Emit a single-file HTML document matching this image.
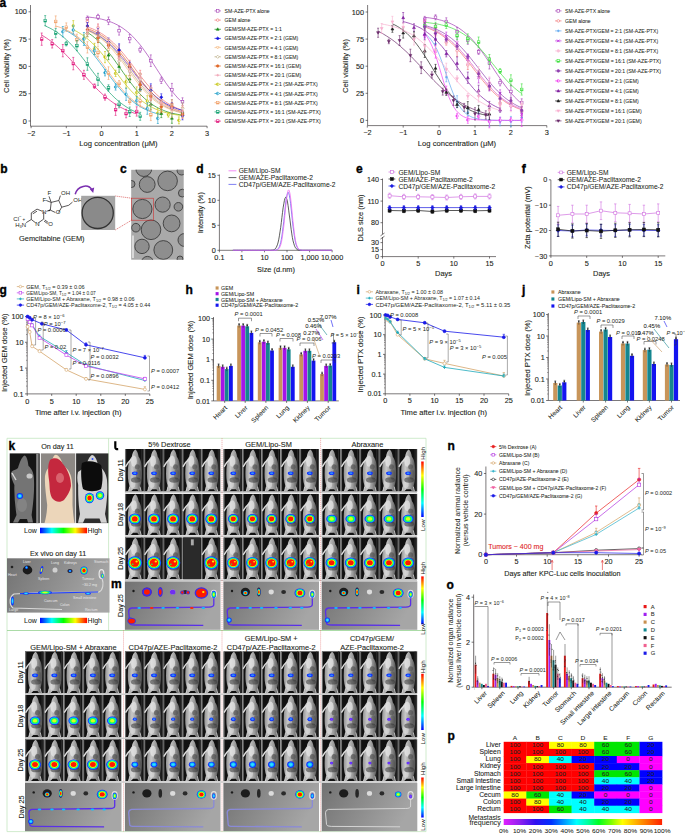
<!DOCTYPE html>
<html><head><meta charset="utf-8"><style>
html,body{margin:0;padding:0;background:#fff;}
svg{display:block;font-family:"Liberation Sans", sans-serif;}

</style></head><body>
<svg width="685" height="833" viewBox="0 0 685 833">
<defs><clipPath id="emclip"><rect x="131.2" y="169.8" width="52.5" height="89.9"/></clipPath><clipPath id="insclip"><rect x="81.2" y="195.8" width="34" height="34.2"/></clipPath><filter id="noise" x="0" y="0" width="1" height="1"><feTurbulence type="fractalNoise" baseFrequency="0.9" numOctaves="2" seed="4"/><feColorMatrix type="matrix" values="0 0 0 0 0.5  0 0 0 0 0.5  0 0 0 0 0.5  0 0 0 0.35 0"/><feComposite operator="in" in2="SourceGraphic"/><feBlend mode="multiply" in2="SourceGraphic"/></filter><linearGradient id="mbody" x1="0" y1="0" x2="1" y2="0"><stop offset="0" stop-color="#929292"/><stop offset="0.3" stop-color="#c8c8c8"/><stop offset="0.65" stop-color="#989898"/><stop offset="1" stop-color="#505050"/></linearGradient><linearGradient id="exbg" x1="0" y1="0" x2="1" y2="0.3"><stop offset="0" stop-color="#727272"/><stop offset="0.55" stop-color="#8e8e8e"/><stop offset="1" stop-color="#a6a6a6"/></linearGradient><linearGradient id="vbar" x1="0" y1="0" x2="0" y2="1"><stop offset="0" stop-color="#ff0000"/><stop offset="0.25" stop-color="#ffff00"/><stop offset="0.5" stop-color="#00ff00"/><stop offset="0.75" stop-color="#00ffff"/><stop offset="1" stop-color="#0000ff"/></linearGradient><linearGradient id="hbar" x1="0" y1="0" x2="1" y2="0"><stop offset="0" stop-color="#0000ff"/><stop offset="0.25" stop-color="#00ffff"/><stop offset="0.5" stop-color="#00ff00"/><stop offset="0.75" stop-color="#ffff00"/><stop offset="1" stop-color="#ff0000"/></linearGradient><symbol id="mouse" viewBox="0 0 20 42" preserveAspectRatio="none">
<rect x="0" y="0" width="20" height="42" fill="#111"/>
<rect x="0" y="0" width="1.3" height="42" fill="#6e6e6e"/><rect x="17.2" y="0" width="1.0" height="42" fill="#2e2e2e"/>
<path d="M11,0.5 C12.6,1.5 13.8,4 14.4,7.5 C16.4,9.5 17.6,14 17.8,20 C18.1,26 17.6,32 16.4,35.5 C15.8,37.5 15.8,39 17.6,41.8 L14.6,41.8 L13,39.5 L8.6,39.5 L6.2,41.8 L3,41.8 C5,39 5,37.5 4.6,35.5 C3.2,32 2.8,26 3.2,20 C3.6,14 5,9.5 7.2,7.5 C7.8,4 9.2,1.5 11,0.5 Z" fill="url(#mbody)"/>
<ellipse cx="9.5" cy="12" rx="3" ry="5.5" fill="#e6e6e6" opacity="0.75"/>
<ellipse cx="8" cy="34" rx="3" ry="4.5" fill="#dedede" opacity="0.6"/>
<path d="M7,10 C4.5,12 2.2,14.5 0.6,17.5" stroke="#dcdcdc" stroke-width="1.5" fill="none"/>
<ellipse cx="13" cy="17.5" rx="2.6" ry="2.6" fill="#444" opacity="0.55"/>
<ellipse cx="14.2" cy="25" rx="2.6" ry="5" fill="#4a4a4a" opacity="0.5"/>
<ellipse cx="11.5" cy="30.5" rx="5.2" ry="2.6" fill="#333" opacity="0.55"/>
<path d="M5,37 L4,41.8 M15.8,37 L17,41.8" stroke="#e0e0e0" stroke-width="0.8" fill="none"/>
</symbol><symbol id="mouseE" viewBox="0 0 20 42" preserveAspectRatio="none">
<rect x="0" y="0" width="20" height="42" fill="#1c1c1c"/>
<rect x="1" y="0" width="18" height="42" fill="#2a2a2a"/><rect x="9" y="2" width="3" height="6" fill="#aaa"/>
</symbol><linearGradient id="pbar" x1="0" y1="0" x2="1" y2="0"><stop offset="0" stop-color="#e020ff"/><stop offset="0.1" stop-color="#9020f0"/><stop offset="0.2" stop-color="#3010f0"/><stop offset="0.3" stop-color="#0030ff"/><stop offset="0.4" stop-color="#00b0ff"/><stop offset="0.46" stop-color="#00ffff"/><stop offset="0.53" stop-color="#00ffa0"/><stop offset="0.6" stop-color="#00ff20"/><stop offset="0.68" stop-color="#80ff00"/><stop offset="0.75" stop-color="#ffff00"/><stop offset="0.87" stop-color="#ff9000"/><stop offset="1" stop-color="#ff2000"/></linearGradient></defs>
<text x="-0.4" y="6.6" font-size="12" font-weight="bold" fill="#000" stroke="#000" stroke-width="0.35">a</text>
<line x1="30.5" y1="5.0" x2="30.5" y2="126.2" stroke="#231f20" stroke-width="0.6"/>
<line x1="28.5" y1="121.0" x2="30.5" y2="121.0" stroke="#231f20" stroke-width="0.6"/>
<text x="26.9" y="123.6" font-size="6.86" text-anchor="end" fill="#231f20" textLength="4.1" lengthAdjust="spacingAndGlyphs" stroke="#231f20" stroke-width="0.1">0</text>
<line x1="28.5" y1="93.7" x2="30.5" y2="93.7" stroke="#231f20" stroke-width="0.6"/>
<text x="26.9" y="96.3" font-size="6.86" text-anchor="end" fill="#231f20" textLength="8.1" lengthAdjust="spacingAndGlyphs" stroke="#231f20" stroke-width="0.1">25</text>
<line x1="28.5" y1="66.4" x2="30.5" y2="66.4" stroke="#231f20" stroke-width="0.6"/>
<text x="26.9" y="69.0" font-size="6.86" text-anchor="end" fill="#231f20" textLength="8.1" lengthAdjust="spacingAndGlyphs" stroke="#231f20" stroke-width="0.1">50</text>
<line x1="28.5" y1="39.1" x2="30.5" y2="39.1" stroke="#231f20" stroke-width="0.6"/>
<text x="26.9" y="41.7" font-size="6.86" text-anchor="end" fill="#231f20" textLength="8.1" lengthAdjust="spacingAndGlyphs" stroke="#231f20" stroke-width="0.1">75</text>
<line x1="28.5" y1="11.8" x2="30.5" y2="11.8" stroke="#231f20" stroke-width="0.6"/>
<text x="26.9" y="14.4" font-size="6.86" text-anchor="end" fill="#231f20" textLength="12.2" lengthAdjust="spacingAndGlyphs" stroke="#231f20" stroke-width="0.1">100</text>
<line x1="30.5" y1="126.2" x2="207.1" y2="126.2" stroke="#231f20" stroke-width="0.6"/>
<line x1="31.1" y1="126.2" x2="31.1" y2="128.2" stroke="#231f20" stroke-width="0.6"/>
<text x="31.1" y="135.8" font-size="6.86" text-anchor="middle" fill="#231f20" textLength="8.3" lengthAdjust="spacingAndGlyphs" stroke="#231f20" stroke-width="0.1">−2</text>
<line x1="66.3" y1="126.2" x2="66.3" y2="128.2" stroke="#231f20" stroke-width="0.6"/>
<text x="66.3" y="135.8" font-size="6.86" text-anchor="middle" fill="#231f20" textLength="8.3" lengthAdjust="spacingAndGlyphs" stroke="#231f20" stroke-width="0.1">−1</text>
<line x1="101.5" y1="126.2" x2="101.5" y2="128.2" stroke="#231f20" stroke-width="0.6"/>
<text x="101.5" y="135.8" font-size="6.86" text-anchor="middle" fill="#231f20" textLength="4.1" lengthAdjust="spacingAndGlyphs" stroke="#231f20" stroke-width="0.1">0</text>
<line x1="136.7" y1="126.2" x2="136.7" y2="128.2" stroke="#231f20" stroke-width="0.6"/>
<text x="136.7" y="135.8" font-size="6.86" text-anchor="middle" fill="#231f20" textLength="4.1" lengthAdjust="spacingAndGlyphs" stroke="#231f20" stroke-width="0.1">1</text>
<line x1="171.9" y1="126.2" x2="171.9" y2="128.2" stroke="#231f20" stroke-width="0.6"/>
<text x="171.9" y="135.8" font-size="6.86" text-anchor="middle" fill="#231f20" textLength="4.1" lengthAdjust="spacingAndGlyphs" stroke="#231f20" stroke-width="0.1">2</text>
<line x1="207.1" y1="126.2" x2="207.1" y2="128.2" stroke="#231f20" stroke-width="0.6"/>
<text x="207.1" y="135.8" font-size="6.86" text-anchor="middle" fill="#231f20" textLength="4.1" lengthAdjust="spacingAndGlyphs" stroke="#231f20" stroke-width="0.1">3</text>
<path d="M87.4,16.9 L89.8,17.2 L92.2,17.5 L94.5,17.8 L96.9,18.2 L99.3,18.7 L101.7,19.2 L104.1,19.8 L106.4,20.5 L108.8,21.3 L111.2,22.1 L113.6,23.1 L115.9,24.2 L118.3,25.4 L120.7,26.8 L123.1,28.4 L125.4,30.1 L127.8,32.0 L130.2,34.0 L132.6,36.3 L134.9,38.8 L137.3,41.5 L139.7,44.3 L142.1,47.4 L144.4,50.6 L146.8,54.0 L149.2,57.5 L151.6,61.1 L153.9,64.7 L156.3,68.4 L158.7,72.1 L161.1,75.8 L163.5,79.4 L165.8,82.9 L168.2,86.2 L170.6,89.4 L173.0,92.4 L175.3,95.2 L177.7,97.9 L180.1,100.3 L182.5,102.5" fill="none" stroke="#a23cb4" stroke-width="0.7"/>
<path d="M87.4,26.9 L89.8,27.8 L92.2,28.7 L94.5,29.7 L96.9,30.9 L99.3,32.2 L101.7,33.6 L104.1,35.2 L106.4,36.9 L108.8,38.7 L111.2,40.8 L113.6,43.0 L115.9,45.3 L118.3,47.8 L120.7,50.5 L123.1,53.3 L125.4,56.2 L127.8,59.2 L130.2,62.3 L132.6,65.4 L134.9,68.6 L137.3,71.8 L139.7,74.9 L142.1,78.0 L144.4,81.0 L146.8,83.9 L149.2,86.7 L151.6,89.3 L153.9,91.8 L156.3,94.2 L158.7,96.4 L161.1,98.4 L163.5,100.3 L165.8,102.0 L168.2,103.6 L170.6,105.0 L173.0,106.3 L175.3,107.4 L177.7,108.5 L180.1,109.4 L182.5,110.2" fill="none" stroke="#f07070" stroke-width="0.7"/>
<path d="M87.4,32.4 L89.8,34.0 L92.2,35.7 L94.5,37.6 L96.9,39.6 L99.3,41.9 L101.7,44.3 L104.1,46.9 L106.4,49.6 L108.8,52.6 L111.2,55.6 L113.6,58.8 L115.9,62.1 L118.3,65.5 L120.7,68.9 L123.1,72.3 L125.4,75.6 L127.8,78.9 L130.2,82.1 L132.6,85.2 L134.9,88.2 L137.3,91.0 L139.7,93.6 L142.1,96.1 L144.4,98.3 L146.8,100.4 L149.2,102.3 L151.6,104.0 L153.9,105.6 L156.3,107.0 L158.7,108.3 L161.1,109.4 L163.5,110.4 L165.8,111.3 L168.2,112.1 L170.6,112.8 L173.0,113.4 L175.3,113.9 L177.7,114.4 L180.1,114.8 L182.5,115.2" fill="none" stroke="#1a8c1a" stroke-width="0.7"/>
<path d="M87.4,30.1 L89.8,31.1 L92.2,32.1 L94.5,33.3 L96.9,34.6 L99.3,36.0 L101.7,37.6 L104.1,39.4 L106.4,41.2 L108.8,43.3 L111.2,45.5 L113.6,47.8 L115.9,50.3 L118.3,52.9 L120.7,55.7 L123.1,58.5 L125.4,61.5 L127.8,64.5 L130.2,67.5 L132.6,70.6 L134.9,73.7 L137.3,76.7 L139.7,79.6 L142.1,82.5 L144.4,85.2 L146.8,87.9 L149.2,90.4 L151.6,92.7 L153.9,94.9 L156.3,97.0 L158.7,98.8 L161.1,100.6 L163.5,102.2 L165.8,103.6 L168.2,104.9 L170.6,106.1 L173.0,107.2 L175.3,108.1 L177.7,109.0 L180.1,109.7 L182.5,110.4" fill="none" stroke="#1515e0" stroke-width="0.7"/>
<path d="M87.4,30.7 L89.8,31.7 L92.2,32.9 L94.5,34.3 L96.9,35.8 L99.3,37.4 L101.7,39.2 L104.1,41.2 L106.4,43.4 L108.8,45.7 L111.2,48.3 L113.6,50.9 L115.9,53.8 L118.3,56.8 L120.7,59.8 L123.1,63.0 L125.4,66.3 L127.8,69.6 L130.2,72.8 L132.6,76.1 L134.9,79.3 L137.3,82.4 L139.7,85.4 L142.1,88.2 L144.4,90.9 L146.8,93.4 L149.2,95.8 L151.6,98.0 L153.9,100.0 L156.3,101.8 L158.7,103.5 L161.1,105.0 L163.5,106.3 L165.8,107.5 L168.2,108.6 L170.6,109.6 L173.0,110.4 L175.3,111.2 L177.7,111.9 L180.1,112.5 L182.5,113.0" fill="none" stroke="#f5b880" stroke-width="0.7"/>
<path d="M87.4,29.9 L89.8,30.9 L92.2,32.0 L94.5,33.3 L96.9,34.7 L99.3,36.2 L101.7,37.9 L104.1,39.7 L106.4,41.8 L108.8,44.0 L111.2,46.4 L113.6,48.9 L115.9,51.7 L118.3,54.5 L120.7,57.6 L123.1,60.7 L125.4,63.9 L127.8,67.1 L130.2,70.4 L132.6,73.7 L134.9,76.9 L137.3,80.1 L139.7,83.2 L142.1,86.1 L144.4,88.9 L146.8,91.6 L149.2,94.0 L151.6,96.4 L153.9,98.5 L156.3,100.5 L158.7,102.2 L161.1,103.9 L163.5,105.3 L165.8,106.7 L168.2,107.8 L170.6,108.9 L173.0,109.8 L175.3,110.7 L177.7,111.4 L180.1,112.0 L182.5,112.6" fill="none" stroke="#b4a478" stroke-width="0.7"/>
<path d="M87.4,28.7 L89.8,29.5 L92.2,30.4 L94.5,31.5 L96.9,32.7 L99.3,34.0 L101.7,35.4 L104.1,37.0 L106.4,38.8 L108.8,40.8 L111.2,42.9 L113.6,45.2 L115.9,47.7 L118.3,50.3 L120.7,53.1 L123.1,56.1 L125.4,59.2 L127.8,62.3 L130.2,65.6 L132.6,68.8 L134.9,72.1 L137.3,75.4 L139.7,78.6 L142.1,81.7 L144.4,84.7 L146.8,87.6 L149.2,90.3 L151.6,92.9 L153.9,95.3 L156.3,97.5 L158.7,99.5 L161.1,101.4 L163.5,103.1 L165.8,104.6 L168.2,106.0 L170.6,107.3 L173.0,108.4 L175.3,109.4 L177.7,110.3 L180.1,111.0 L182.5,111.7" fill="none" stroke="#e06a2a" stroke-width="0.7"/>
<path d="M87.4,29.3 L89.8,30.2 L92.2,31.2 L94.5,32.3 L96.9,33.6 L99.3,35.0 L101.7,36.6 L104.1,38.3 L106.4,40.3 L108.8,42.3 L111.2,44.6 L113.6,47.0 L115.9,49.6 L118.3,52.4 L120.7,55.3 L123.1,58.3 L125.4,61.5 L127.8,64.7 L130.2,68.0 L132.6,71.3 L134.9,74.5 L137.3,77.7 L139.7,80.9 L142.1,83.9 L144.4,86.8 L146.8,89.6 L149.2,92.2 L151.6,94.7 L153.9,96.9 L156.3,99.0 L158.7,100.9 L161.1,102.7 L163.5,104.3 L165.8,105.7 L168.2,107.0 L170.6,108.1 L173.0,109.1 L175.3,110.0 L177.7,110.9 L180.1,111.6 L182.5,112.2" fill="none" stroke="#f0a8b8" stroke-width="0.7"/>
<path d="M73.3,29.8 L76.1,31.1 L78.8,32.7 L81.5,34.4 L84.3,36.3 L87.0,38.4 L89.7,40.7 L92.4,43.2 L95.2,46.0 L97.9,48.9 L100.6,52.1 L103.3,55.4 L106.1,58.8 L108.8,62.4 L111.5,66.0 L114.3,69.7 L117.0,73.4 L119.7,77.0 L122.4,80.6 L125.2,84.0 L127.9,87.2 L130.6,90.3 L133.4,93.2 L136.1,95.9 L138.8,98.3 L141.5,100.6 L144.3,102.6 L147.0,104.5 L149.7,106.1 L152.5,107.6 L155.2,108.9 L157.9,110.0 L160.6,111.0 L163.4,111.9 L166.1,112.7 L168.8,113.4 L171.5,114.0 L174.3,114.5 L177.0,114.9 L179.7,115.3 L182.5,115.6" fill="none" stroke="#c4c40c" stroke-width="0.7"/>
<path d="M62.8,29.1 L65.2,30.2 L67.7,31.5 L70.2,32.9 L72.6,34.5 L75.1,36.2 L77.6,38.1 L80.0,40.1 L82.5,42.4 L85.0,44.8 L87.4,47.4 L89.9,50.1 L92.3,53.0 L94.8,56.1 L97.3,59.3 L99.7,62.5 L102.2,65.8 L104.7,69.2 L107.1,72.6 L109.6,75.9 L112.1,79.2 L114.5,82.4 L117.0,85.4 L119.5,88.4 L121.9,91.2 L124.4,93.8 L126.8,96.3 L129.3,98.6 L131.8,100.7 L134.2,102.6 L136.7,104.4 L139.2,106.0 L141.6,107.5 L144.1,108.8 L146.6,109.9 L149.0,111.0 L151.5,111.9 L153.9,112.7 L156.4,113.5 L158.9,114.1 L161.3,114.7" fill="none" stroke="#1a9cc8" stroke-width="0.7"/>
<path d="M55.7,26.0 L58.1,26.7 L60.5,27.5 L62.9,28.4 L65.2,29.4 L67.6,30.5 L70.0,31.8 L72.4,33.2 L74.7,34.7 L77.1,36.4 L79.5,38.2 L81.9,40.2 L84.3,42.4 L86.6,44.7 L89.0,47.2 L91.4,49.8 L93.8,52.6 L96.1,55.5 L98.5,58.6 L100.9,61.7 L103.3,64.9 L105.6,68.1 L108.0,71.4 L110.4,74.6 L112.8,77.8 L115.1,80.9 L117.5,83.9 L119.9,86.8 L122.3,89.6 L124.6,92.3 L127.0,94.7 L129.4,97.1 L131.8,99.2 L134.1,101.2 L136.5,103.0 L138.9,104.7 L141.3,106.2 L143.7,107.6 L146.0,108.9 L148.4,110.0 L150.8,111.0" fill="none" stroke="#f0a068" stroke-width="0.7"/>
<path d="M45.2,25.9 L47.6,27.0 L49.9,28.1 L52.3,29.4 L54.7,30.8 L57.1,32.3 L59.4,34.0 L61.8,35.8 L64.2,37.8 L66.6,39.9 L68.9,42.2 L71.3,44.6 L73.7,47.2 L76.1,49.9 L78.4,52.7 L80.8,55.7 L83.2,58.8 L85.6,61.9 L87.9,65.1 L90.3,68.3 L92.7,71.5 L95.1,74.7 L97.5,77.9 L99.8,81.0 L102.2,84.0 L104.6,86.9 L107.0,89.7 L109.3,92.3 L111.7,94.8 L114.1,97.2 L116.5,99.4 L118.8,101.4 L121.2,103.3 L123.6,105.1 L126.0,106.7 L128.3,108.2 L130.7,109.5 L133.1,110.7 L135.5,111.8 L137.8,112.8 L140.2,113.7" fill="none" stroke="#12a070" stroke-width="0.7"/>
<path d="M41.7,35.1 L44.0,36.5 L46.4,38.0 L48.8,39.7 L51.2,41.4 L53.5,43.3 L55.9,45.2 L58.3,47.3 L60.7,49.5 L63.0,51.8 L65.4,54.2 L67.8,56.7 L70.2,59.2 L72.5,61.9 L74.9,64.5 L77.3,67.2 L79.7,70.0 L82.1,72.7 L84.4,75.4 L86.8,78.1 L89.2,80.8 L91.6,83.3 L93.9,85.9 L96.3,88.3 L98.7,90.7 L101.1,92.9 L103.4,95.1 L105.8,97.1 L108.2,99.0 L110.6,100.8 L112.9,102.5 L115.3,104.1 L117.7,105.6 L120.1,107.0 L122.4,108.2 L124.8,109.4 L127.2,110.5 L129.6,111.4 L131.9,112.3 L134.3,113.2 L136.7,113.9" fill="none" stroke="#e0147a" stroke-width="0.7"/>
<line x1="87.4" y1="21.7" x2="87.4" y2="16.0" stroke="#a23cb4" stroke-width="0.6"/>
<line x1="86.4" y1="16.0" x2="88.4" y2="16.0" stroke="#a23cb4" stroke-width="0.6"/>
<line x1="86.4" y1="21.7" x2="88.4" y2="21.7" stroke="#a23cb4" stroke-width="0.6"/>
<rect x="86.1" y="17.5" width="2.6" height="2.6" fill="white" stroke="#a23cb4" stroke-width="0.6"/>
<line x1="98.0" y1="19.3" x2="98.0" y2="14.3" stroke="#a23cb4" stroke-width="0.6"/>
<line x1="97.0" y1="14.3" x2="99.0" y2="14.3" stroke="#a23cb4" stroke-width="0.6"/>
<line x1="97.0" y1="19.3" x2="99.0" y2="19.3" stroke="#a23cb4" stroke-width="0.6"/>
<rect x="96.7" y="15.5" width="2.6" height="2.6" fill="white" stroke="#a23cb4" stroke-width="0.6"/>
<line x1="108.5" y1="24.6" x2="108.5" y2="17.0" stroke="#a23cb4" stroke-width="0.6"/>
<line x1="107.5" y1="17.0" x2="109.5" y2="17.0" stroke="#a23cb4" stroke-width="0.6"/>
<line x1="107.5" y1="24.6" x2="109.5" y2="24.6" stroke="#a23cb4" stroke-width="0.6"/>
<rect x="107.2" y="19.5" width="2.6" height="2.6" fill="white" stroke="#a23cb4" stroke-width="0.6"/>
<line x1="119.1" y1="35.1" x2="119.1" y2="26.3" stroke="#a23cb4" stroke-width="0.6"/>
<line x1="118.1" y1="26.3" x2="120.1" y2="26.3" stroke="#a23cb4" stroke-width="0.6"/>
<line x1="118.1" y1="35.1" x2="120.1" y2="35.1" stroke="#a23cb4" stroke-width="0.6"/>
<rect x="117.8" y="29.4" width="2.6" height="2.6" fill="white" stroke="#a23cb4" stroke-width="0.6"/>
<line x1="129.7" y1="42.7" x2="129.7" y2="34.5" stroke="#a23cb4" stroke-width="0.6"/>
<line x1="128.7" y1="34.5" x2="130.7" y2="34.5" stroke="#a23cb4" stroke-width="0.6"/>
<line x1="128.7" y1="42.7" x2="130.7" y2="42.7" stroke="#a23cb4" stroke-width="0.6"/>
<rect x="128.4" y="37.3" width="2.6" height="2.6" fill="white" stroke="#a23cb4" stroke-width="0.6"/>
<line x1="140.2" y1="52.3" x2="140.2" y2="47.1" stroke="#a23cb4" stroke-width="0.6"/>
<line x1="139.2" y1="47.1" x2="141.2" y2="47.1" stroke="#a23cb4" stroke-width="0.6"/>
<line x1="139.2" y1="52.3" x2="141.2" y2="52.3" stroke="#a23cb4" stroke-width="0.6"/>
<rect x="138.9" y="48.4" width="2.6" height="2.6" fill="white" stroke="#a23cb4" stroke-width="0.6"/>
<line x1="150.8" y1="66.5" x2="150.8" y2="54.9" stroke="#a23cb4" stroke-width="0.6"/>
<line x1="149.8" y1="54.9" x2="151.8" y2="54.9" stroke="#a23cb4" stroke-width="0.6"/>
<line x1="149.8" y1="66.5" x2="151.8" y2="66.5" stroke="#a23cb4" stroke-width="0.6"/>
<rect x="149.5" y="59.4" width="2.6" height="2.6" fill="white" stroke="#a23cb4" stroke-width="0.6"/>
<line x1="161.3" y1="83.5" x2="161.3" y2="77.2" stroke="#a23cb4" stroke-width="0.6"/>
<line x1="160.3" y1="77.2" x2="162.3" y2="77.2" stroke="#a23cb4" stroke-width="0.6"/>
<line x1="160.3" y1="83.5" x2="162.3" y2="83.5" stroke="#a23cb4" stroke-width="0.6"/>
<rect x="160.0" y="79.0" width="2.6" height="2.6" fill="white" stroke="#a23cb4" stroke-width="0.6"/>
<line x1="171.9" y1="96.0" x2="171.9" y2="83.4" stroke="#a23cb4" stroke-width="0.6"/>
<line x1="170.9" y1="83.4" x2="172.9" y2="83.4" stroke="#a23cb4" stroke-width="0.6"/>
<line x1="170.9" y1="96.0" x2="172.9" y2="96.0" stroke="#a23cb4" stroke-width="0.6"/>
<rect x="170.6" y="88.4" width="2.6" height="2.6" fill="white" stroke="#a23cb4" stroke-width="0.6"/>
<line x1="182.5" y1="105.6" x2="182.5" y2="97.8" stroke="#a23cb4" stroke-width="0.6"/>
<line x1="181.5" y1="97.8" x2="183.5" y2="97.8" stroke="#a23cb4" stroke-width="0.6"/>
<line x1="181.5" y1="105.6" x2="183.5" y2="105.6" stroke="#a23cb4" stroke-width="0.6"/>
<rect x="181.2" y="100.4" width="2.6" height="2.6" fill="white" stroke="#a23cb4" stroke-width="0.6"/>
<line x1="87.4" y1="24.1" x2="87.4" y2="19.3" stroke="#f07070" stroke-width="0.6"/>
<line x1="86.4" y1="19.3" x2="88.4" y2="19.3" stroke="#f07070" stroke-width="0.6"/>
<line x1="86.4" y1="24.1" x2="88.4" y2="24.1" stroke="#f07070" stroke-width="0.6"/>
<circle cx="87.4" cy="21.7" r="1.3" fill="white" stroke="#f07070" stroke-width="0.6"/>
<line x1="98.0" y1="31.0" x2="98.0" y2="24.1" stroke="#f07070" stroke-width="0.6"/>
<line x1="97.0" y1="24.1" x2="99.0" y2="24.1" stroke="#f07070" stroke-width="0.6"/>
<line x1="97.0" y1="31.0" x2="99.0" y2="31.0" stroke="#f07070" stroke-width="0.6"/>
<circle cx="98.0" cy="27.5" r="1.3" fill="white" stroke="#f07070" stroke-width="0.6"/>
<line x1="108.5" y1="45.1" x2="108.5" y2="39.7" stroke="#f07070" stroke-width="0.6"/>
<line x1="107.5" y1="39.7" x2="109.5" y2="39.7" stroke="#f07070" stroke-width="0.6"/>
<line x1="107.5" y1="45.1" x2="109.5" y2="45.1" stroke="#f07070" stroke-width="0.6"/>
<circle cx="108.5" cy="42.4" r="1.3" fill="white" stroke="#f07070" stroke-width="0.6"/>
<line x1="119.1" y1="56.5" x2="119.1" y2="45.0" stroke="#f07070" stroke-width="0.6"/>
<line x1="118.1" y1="45.0" x2="120.1" y2="45.0" stroke="#f07070" stroke-width="0.6"/>
<line x1="118.1" y1="56.5" x2="120.1" y2="56.5" stroke="#f07070" stroke-width="0.6"/>
<circle cx="119.1" cy="50.8" r="1.3" fill="white" stroke="#f07070" stroke-width="0.6"/>
<line x1="129.7" y1="69.8" x2="129.7" y2="60.3" stroke="#f07070" stroke-width="0.6"/>
<line x1="128.7" y1="60.3" x2="130.7" y2="60.3" stroke="#f07070" stroke-width="0.6"/>
<line x1="128.7" y1="69.8" x2="130.7" y2="69.8" stroke="#f07070" stroke-width="0.6"/>
<circle cx="129.7" cy="65.1" r="1.3" fill="white" stroke="#f07070" stroke-width="0.6"/>
<line x1="140.2" y1="77.9" x2="140.2" y2="70.3" stroke="#f07070" stroke-width="0.6"/>
<line x1="139.2" y1="70.3" x2="141.2" y2="70.3" stroke="#f07070" stroke-width="0.6"/>
<line x1="139.2" y1="77.9" x2="141.2" y2="77.9" stroke="#f07070" stroke-width="0.6"/>
<circle cx="140.2" cy="74.1" r="1.3" fill="white" stroke="#f07070" stroke-width="0.6"/>
<line x1="150.8" y1="90.4" x2="150.8" y2="85.5" stroke="#f07070" stroke-width="0.6"/>
<line x1="149.8" y1="85.5" x2="151.8" y2="85.5" stroke="#f07070" stroke-width="0.6"/>
<line x1="149.8" y1="90.4" x2="151.8" y2="90.4" stroke="#f07070" stroke-width="0.6"/>
<circle cx="150.8" cy="88.0" r="1.3" fill="white" stroke="#f07070" stroke-width="0.6"/>
<line x1="161.3" y1="106.5" x2="161.3" y2="100.4" stroke="#f07070" stroke-width="0.6"/>
<line x1="160.3" y1="100.4" x2="162.3" y2="100.4" stroke="#f07070" stroke-width="0.6"/>
<line x1="160.3" y1="106.5" x2="162.3" y2="106.5" stroke="#f07070" stroke-width="0.6"/>
<circle cx="161.3" cy="103.4" r="1.3" fill="white" stroke="#f07070" stroke-width="0.6"/>
<line x1="171.9" y1="107.8" x2="171.9" y2="99.7" stroke="#f07070" stroke-width="0.6"/>
<line x1="170.9" y1="99.7" x2="172.9" y2="99.7" stroke="#f07070" stroke-width="0.6"/>
<line x1="170.9" y1="107.8" x2="172.9" y2="107.8" stroke="#f07070" stroke-width="0.6"/>
<circle cx="171.9" cy="103.8" r="1.3" fill="white" stroke="#f07070" stroke-width="0.6"/>
<line x1="182.5" y1="117.0" x2="182.5" y2="107.5" stroke="#f07070" stroke-width="0.6"/>
<line x1="181.5" y1="107.5" x2="183.5" y2="107.5" stroke="#f07070" stroke-width="0.6"/>
<line x1="181.5" y1="117.0" x2="183.5" y2="117.0" stroke="#f07070" stroke-width="0.6"/>
<circle cx="182.5" cy="112.3" r="1.3" fill="white" stroke="#f07070" stroke-width="0.6"/>
<line x1="87.4" y1="36.4" x2="87.4" y2="29.5" stroke="#1a8c1a" stroke-width="0.6"/>
<line x1="86.4" y1="29.5" x2="88.4" y2="29.5" stroke="#1a8c1a" stroke-width="0.6"/>
<line x1="86.4" y1="36.4" x2="88.4" y2="36.4" stroke="#1a8c1a" stroke-width="0.6"/>
<path d="M87.4,31.5 L88.9,34.0 L86.0,34.0 Z" fill="#1a8c1a" stroke="#1a8c1a" stroke-width="0.6"/>
<line x1="98.0" y1="42.6" x2="98.0" y2="32.1" stroke="#1a8c1a" stroke-width="0.6"/>
<line x1="97.0" y1="32.1" x2="99.0" y2="32.1" stroke="#1a8c1a" stroke-width="0.6"/>
<line x1="97.0" y1="42.6" x2="99.0" y2="42.6" stroke="#1a8c1a" stroke-width="0.6"/>
<path d="M98.0,35.9 L99.4,38.4 L96.5,38.4 Z" fill="#1a8c1a" stroke="#1a8c1a" stroke-width="0.6"/>
<line x1="108.5" y1="59.7" x2="108.5" y2="50.3" stroke="#1a8c1a" stroke-width="0.6"/>
<line x1="107.5" y1="50.3" x2="109.5" y2="50.3" stroke="#1a8c1a" stroke-width="0.6"/>
<line x1="107.5" y1="59.7" x2="109.5" y2="59.7" stroke="#1a8c1a" stroke-width="0.6"/>
<path d="M108.5,53.6 L110.0,56.1 L107.1,56.1 Z" fill="#1a8c1a" stroke="#1a8c1a" stroke-width="0.6"/>
<line x1="119.1" y1="72.3" x2="119.1" y2="60.3" stroke="#1a8c1a" stroke-width="0.6"/>
<line x1="118.1" y1="60.3" x2="120.1" y2="60.3" stroke="#1a8c1a" stroke-width="0.6"/>
<line x1="118.1" y1="72.3" x2="120.1" y2="72.3" stroke="#1a8c1a" stroke-width="0.6"/>
<path d="M119.1,64.9 L120.5,67.4 L117.7,67.4 Z" fill="#1a8c1a" stroke="#1a8c1a" stroke-width="0.6"/>
<line x1="129.7" y1="82.4" x2="129.7" y2="75.5" stroke="#1a8c1a" stroke-width="0.6"/>
<line x1="128.7" y1="75.5" x2="130.7" y2="75.5" stroke="#1a8c1a" stroke-width="0.6"/>
<line x1="128.7" y1="82.4" x2="130.7" y2="82.4" stroke="#1a8c1a" stroke-width="0.6"/>
<path d="M129.7,77.5 L131.1,80.0 L128.2,80.0 Z" fill="#1a8c1a" stroke="#1a8c1a" stroke-width="0.6"/>
<line x1="140.2" y1="91.6" x2="140.2" y2="86.2" stroke="#1a8c1a" stroke-width="0.6"/>
<line x1="139.2" y1="86.2" x2="141.2" y2="86.2" stroke="#1a8c1a" stroke-width="0.6"/>
<line x1="139.2" y1="91.6" x2="141.2" y2="91.6" stroke="#1a8c1a" stroke-width="0.6"/>
<path d="M140.2,87.5 L141.7,90.0 L138.8,90.0 Z" fill="#1a8c1a" stroke="#1a8c1a" stroke-width="0.6"/>
<line x1="150.8" y1="109.9" x2="150.8" y2="98.9" stroke="#1a8c1a" stroke-width="0.6"/>
<line x1="149.8" y1="98.9" x2="151.8" y2="98.9" stroke="#1a8c1a" stroke-width="0.6"/>
<line x1="149.8" y1="109.9" x2="151.8" y2="109.9" stroke="#1a8c1a" stroke-width="0.6"/>
<path d="M150.8,102.9 L152.2,105.4 L149.3,105.4 Z" fill="#1a8c1a" stroke="#1a8c1a" stroke-width="0.6"/>
<line x1="161.3" y1="117.6" x2="161.3" y2="109.0" stroke="#1a8c1a" stroke-width="0.6"/>
<line x1="160.3" y1="109.0" x2="162.3" y2="109.0" stroke="#1a8c1a" stroke-width="0.6"/>
<line x1="160.3" y1="117.6" x2="162.3" y2="117.6" stroke="#1a8c1a" stroke-width="0.6"/>
<path d="M161.3,111.9 L162.8,114.4 L159.9,114.4 Z" fill="#1a8c1a" stroke="#1a8c1a" stroke-width="0.6"/>
<line x1="171.9" y1="123.3" x2="171.9" y2="113.1" stroke="#1a8c1a" stroke-width="0.6"/>
<line x1="170.9" y1="113.1" x2="172.9" y2="113.1" stroke="#1a8c1a" stroke-width="0.6"/>
<line x1="170.9" y1="123.3" x2="172.9" y2="123.3" stroke="#1a8c1a" stroke-width="0.6"/>
<path d="M171.9,116.7 L173.3,119.2 L170.5,119.2 Z" fill="#1a8c1a" stroke="#1a8c1a" stroke-width="0.6"/>
<line x1="182.5" y1="117.0" x2="182.5" y2="107.6" stroke="#1a8c1a" stroke-width="0.6"/>
<line x1="181.5" y1="107.6" x2="183.5" y2="107.6" stroke="#1a8c1a" stroke-width="0.6"/>
<line x1="181.5" y1="117.0" x2="183.5" y2="117.0" stroke="#1a8c1a" stroke-width="0.6"/>
<path d="M182.5,110.9 L183.9,113.4 L181.0,113.4 Z" fill="#1a8c1a" stroke="#1a8c1a" stroke-width="0.6"/>
<line x1="87.4" y1="29.6" x2="87.4" y2="22.5" stroke="#1515e0" stroke-width="0.6"/>
<line x1="86.4" y1="22.5" x2="88.4" y2="22.5" stroke="#1515e0" stroke-width="0.6"/>
<line x1="86.4" y1="29.6" x2="88.4" y2="29.6" stroke="#1515e0" stroke-width="0.6"/>
<path d="M87.4,24.5 L89.0,26.0 L87.4,27.6 L85.9,26.0 Z" fill="#1515e0" stroke="#1515e0" stroke-width="0.6"/>
<line x1="98.0" y1="37.9" x2="98.0" y2="28.3" stroke="#1515e0" stroke-width="0.6"/>
<line x1="97.0" y1="28.3" x2="99.0" y2="28.3" stroke="#1515e0" stroke-width="0.6"/>
<line x1="97.0" y1="37.9" x2="99.0" y2="37.9" stroke="#1515e0" stroke-width="0.6"/>
<path d="M98.0,31.5 L99.5,33.1 L98.0,34.7 L96.4,33.1 Z" fill="#1515e0" stroke="#1515e0" stroke-width="0.6"/>
<line x1="108.5" y1="46.3" x2="108.5" y2="38.0" stroke="#1515e0" stroke-width="0.6"/>
<line x1="107.5" y1="38.0" x2="109.5" y2="38.0" stroke="#1515e0" stroke-width="0.6"/>
<line x1="107.5" y1="46.3" x2="109.5" y2="46.3" stroke="#1515e0" stroke-width="0.6"/>
<path d="M108.5,40.6 L110.1,42.2 L108.5,43.7 L107.0,42.2 Z" fill="#1515e0" stroke="#1515e0" stroke-width="0.6"/>
<line x1="119.1" y1="56.4" x2="119.1" y2="43.8" stroke="#1515e0" stroke-width="0.6"/>
<line x1="118.1" y1="43.8" x2="120.1" y2="43.8" stroke="#1515e0" stroke-width="0.6"/>
<line x1="118.1" y1="56.4" x2="120.1" y2="56.4" stroke="#1515e0" stroke-width="0.6"/>
<path d="M119.1,48.6 L120.7,50.1 L119.1,51.7 L117.5,50.1 Z" fill="#1515e0" stroke="#1515e0" stroke-width="0.6"/>
<line x1="129.7" y1="72.2" x2="129.7" y2="62.1" stroke="#1515e0" stroke-width="0.6"/>
<line x1="128.7" y1="62.1" x2="130.7" y2="62.1" stroke="#1515e0" stroke-width="0.6"/>
<line x1="128.7" y1="72.2" x2="130.7" y2="72.2" stroke="#1515e0" stroke-width="0.6"/>
<path d="M129.7,65.6 L131.2,67.1 L129.7,68.7 L128.1,67.1 Z" fill="#1515e0" stroke="#1515e0" stroke-width="0.6"/>
<line x1="140.2" y1="90.3" x2="140.2" y2="79.8" stroke="#1515e0" stroke-width="0.6"/>
<line x1="139.2" y1="79.8" x2="141.2" y2="79.8" stroke="#1515e0" stroke-width="0.6"/>
<line x1="139.2" y1="90.3" x2="141.2" y2="90.3" stroke="#1515e0" stroke-width="0.6"/>
<path d="M140.2,83.5 L141.8,85.1 L140.2,86.6 L138.7,85.1 Z" fill="#1515e0" stroke="#1515e0" stroke-width="0.6"/>
<line x1="150.8" y1="96.9" x2="150.8" y2="83.8" stroke="#1515e0" stroke-width="0.6"/>
<line x1="149.8" y1="83.8" x2="151.8" y2="83.8" stroke="#1515e0" stroke-width="0.6"/>
<line x1="149.8" y1="96.9" x2="151.8" y2="96.9" stroke="#1515e0" stroke-width="0.6"/>
<path d="M150.8,88.8 L152.3,90.3 L150.8,91.9 L149.2,90.3 Z" fill="#1515e0" stroke="#1515e0" stroke-width="0.6"/>
<line x1="161.3" y1="100.7" x2="161.3" y2="93.8" stroke="#1515e0" stroke-width="0.6"/>
<line x1="160.3" y1="93.8" x2="162.3" y2="93.8" stroke="#1515e0" stroke-width="0.6"/>
<line x1="160.3" y1="100.7" x2="162.3" y2="100.7" stroke="#1515e0" stroke-width="0.6"/>
<path d="M161.3,95.7 L162.9,97.2 L161.3,98.8 L159.8,97.2 Z" fill="#1515e0" stroke="#1515e0" stroke-width="0.6"/>
<line x1="171.9" y1="113.0" x2="171.9" y2="102.8" stroke="#1515e0" stroke-width="0.6"/>
<line x1="170.9" y1="102.8" x2="172.9" y2="102.8" stroke="#1515e0" stroke-width="0.6"/>
<line x1="170.9" y1="113.0" x2="172.9" y2="113.0" stroke="#1515e0" stroke-width="0.6"/>
<path d="M171.9,106.4 L173.5,107.9 L171.9,109.5 L170.3,107.9 Z" fill="#1515e0" stroke="#1515e0" stroke-width="0.6"/>
<line x1="182.5" y1="119.8" x2="182.5" y2="111.4" stroke="#1515e0" stroke-width="0.6"/>
<line x1="181.5" y1="111.4" x2="183.5" y2="111.4" stroke="#1515e0" stroke-width="0.6"/>
<line x1="181.5" y1="119.8" x2="183.5" y2="119.8" stroke="#1515e0" stroke-width="0.6"/>
<path d="M182.5,114.1 L184.0,115.6 L182.5,117.2 L180.9,115.6 Z" fill="#1515e0" stroke="#1515e0" stroke-width="0.6"/>
<line x1="87.4" y1="37.0" x2="87.4" y2="31.6" stroke="#f5b880" stroke-width="0.6"/>
<line x1="86.4" y1="31.6" x2="88.4" y2="31.6" stroke="#f5b880" stroke-width="0.6"/>
<line x1="86.4" y1="37.0" x2="88.4" y2="37.0" stroke="#f5b880" stroke-width="0.6"/>
<path d="M87.4,35.7 L88.9,33.2 L86.0,33.2 Z" fill="white" stroke="#f5b880" stroke-width="0.6"/>
<line x1="98.0" y1="46.8" x2="98.0" y2="35.8" stroke="#f5b880" stroke-width="0.6"/>
<line x1="97.0" y1="35.8" x2="99.0" y2="35.8" stroke="#f5b880" stroke-width="0.6"/>
<line x1="97.0" y1="46.8" x2="99.0" y2="46.8" stroke="#f5b880" stroke-width="0.6"/>
<path d="M98.0,42.7 L99.4,40.3 L96.5,40.3 Z" fill="white" stroke="#f5b880" stroke-width="0.6"/>
<line x1="108.5" y1="52.8" x2="108.5" y2="46.3" stroke="#f5b880" stroke-width="0.6"/>
<line x1="107.5" y1="46.3" x2="109.5" y2="46.3" stroke="#f5b880" stroke-width="0.6"/>
<line x1="107.5" y1="52.8" x2="109.5" y2="52.8" stroke="#f5b880" stroke-width="0.6"/>
<path d="M108.5,51.0 L110.0,48.5 L107.1,48.5 Z" fill="white" stroke="#f5b880" stroke-width="0.6"/>
<line x1="119.1" y1="65.0" x2="119.1" y2="53.0" stroke="#f5b880" stroke-width="0.6"/>
<line x1="118.1" y1="53.0" x2="120.1" y2="53.0" stroke="#f5b880" stroke-width="0.6"/>
<line x1="118.1" y1="65.0" x2="120.1" y2="65.0" stroke="#f5b880" stroke-width="0.6"/>
<path d="M119.1,60.4 L120.5,57.9 L117.7,57.9 Z" fill="white" stroke="#f5b880" stroke-width="0.6"/>
<line x1="129.7" y1="80.8" x2="129.7" y2="72.5" stroke="#f5b880" stroke-width="0.6"/>
<line x1="128.7" y1="72.5" x2="130.7" y2="72.5" stroke="#f5b880" stroke-width="0.6"/>
<line x1="128.7" y1="80.8" x2="130.7" y2="80.8" stroke="#f5b880" stroke-width="0.6"/>
<path d="M129.7,78.1 L131.1,75.6 L128.2,75.6 Z" fill="white" stroke="#f5b880" stroke-width="0.6"/>
<line x1="140.2" y1="91.5" x2="140.2" y2="79.4" stroke="#f5b880" stroke-width="0.6"/>
<line x1="139.2" y1="79.4" x2="141.2" y2="79.4" stroke="#f5b880" stroke-width="0.6"/>
<line x1="139.2" y1="91.5" x2="141.2" y2="91.5" stroke="#f5b880" stroke-width="0.6"/>
<path d="M140.2,86.9 L141.7,84.4 L138.8,84.4 Z" fill="white" stroke="#f5b880" stroke-width="0.6"/>
<line x1="150.8" y1="99.7" x2="150.8" y2="87.8" stroke="#f5b880" stroke-width="0.6"/>
<line x1="149.8" y1="87.8" x2="151.8" y2="87.8" stroke="#f5b880" stroke-width="0.6"/>
<line x1="149.8" y1="99.7" x2="151.8" y2="99.7" stroke="#f5b880" stroke-width="0.6"/>
<path d="M150.8,95.2 L152.2,92.7 L149.3,92.7 Z" fill="white" stroke="#f5b880" stroke-width="0.6"/>
<line x1="161.3" y1="111.5" x2="161.3" y2="103.5" stroke="#f5b880" stroke-width="0.6"/>
<line x1="160.3" y1="103.5" x2="162.3" y2="103.5" stroke="#f5b880" stroke-width="0.6"/>
<line x1="160.3" y1="111.5" x2="162.3" y2="111.5" stroke="#f5b880" stroke-width="0.6"/>
<path d="M161.3,109.0 L162.8,106.5 L159.9,106.5 Z" fill="white" stroke="#f5b880" stroke-width="0.6"/>
<line x1="171.9" y1="117.7" x2="171.9" y2="105.6" stroke="#f5b880" stroke-width="0.6"/>
<line x1="170.9" y1="105.6" x2="172.9" y2="105.6" stroke="#f5b880" stroke-width="0.6"/>
<line x1="170.9" y1="117.7" x2="172.9" y2="117.7" stroke="#f5b880" stroke-width="0.6"/>
<path d="M171.9,113.1 L173.3,110.6 L170.5,110.6 Z" fill="white" stroke="#f5b880" stroke-width="0.6"/>
<line x1="182.5" y1="110.8" x2="182.5" y2="105.2" stroke="#f5b880" stroke-width="0.6"/>
<line x1="181.5" y1="105.2" x2="183.5" y2="105.2" stroke="#f5b880" stroke-width="0.6"/>
<line x1="181.5" y1="110.8" x2="183.5" y2="110.8" stroke="#f5b880" stroke-width="0.6"/>
<path d="M182.5,109.4 L183.9,107.0 L181.0,107.0 Z" fill="white" stroke="#f5b880" stroke-width="0.6"/>
<line x1="87.4" y1="36.7" x2="87.4" y2="30.3" stroke="#b4a478" stroke-width="0.6"/>
<line x1="86.4" y1="30.3" x2="88.4" y2="30.3" stroke="#b4a478" stroke-width="0.6"/>
<line x1="86.4" y1="36.7" x2="88.4" y2="36.7" stroke="#b4a478" stroke-width="0.6"/>
<path d="M87.4,31.9 L89.0,33.5 L87.4,35.0 L85.9,33.5 Z" fill="white" stroke="#b4a478" stroke-width="0.6"/>
<line x1="98.0" y1="42.5" x2="98.0" y2="33.9" stroke="#b4a478" stroke-width="0.6"/>
<line x1="97.0" y1="33.9" x2="99.0" y2="33.9" stroke="#b4a478" stroke-width="0.6"/>
<line x1="97.0" y1="42.5" x2="99.0" y2="42.5" stroke="#b4a478" stroke-width="0.6"/>
<path d="M98.0,36.7 L99.5,38.2 L98.0,39.8 L96.4,38.2 Z" fill="white" stroke="#b4a478" stroke-width="0.6"/>
<line x1="108.5" y1="46.1" x2="108.5" y2="39.4" stroke="#b4a478" stroke-width="0.6"/>
<line x1="107.5" y1="39.4" x2="109.5" y2="39.4" stroke="#b4a478" stroke-width="0.6"/>
<line x1="107.5" y1="46.1" x2="109.5" y2="46.1" stroke="#b4a478" stroke-width="0.6"/>
<path d="M108.5,41.2 L110.1,42.8 L108.5,44.3 L107.0,42.8 Z" fill="white" stroke="#b4a478" stroke-width="0.6"/>
<line x1="119.1" y1="65.0" x2="119.1" y2="56.9" stroke="#b4a478" stroke-width="0.6"/>
<line x1="118.1" y1="56.9" x2="120.1" y2="56.9" stroke="#b4a478" stroke-width="0.6"/>
<line x1="118.1" y1="65.0" x2="120.1" y2="65.0" stroke="#b4a478" stroke-width="0.6"/>
<path d="M119.1,59.4 L120.7,60.9 L119.1,62.5 L117.5,60.9 Z" fill="white" stroke="#b4a478" stroke-width="0.6"/>
<line x1="129.7" y1="75.8" x2="129.7" y2="66.4" stroke="#b4a478" stroke-width="0.6"/>
<line x1="128.7" y1="66.4" x2="130.7" y2="66.4" stroke="#b4a478" stroke-width="0.6"/>
<line x1="128.7" y1="75.8" x2="130.7" y2="75.8" stroke="#b4a478" stroke-width="0.6"/>
<path d="M129.7,69.5 L131.2,71.1 L129.7,72.7 L128.1,71.1 Z" fill="white" stroke="#b4a478" stroke-width="0.6"/>
<line x1="140.2" y1="84.1" x2="140.2" y2="73.7" stroke="#b4a478" stroke-width="0.6"/>
<line x1="139.2" y1="73.7" x2="141.2" y2="73.7" stroke="#b4a478" stroke-width="0.6"/>
<line x1="139.2" y1="84.1" x2="141.2" y2="84.1" stroke="#b4a478" stroke-width="0.6"/>
<path d="M140.2,77.3 L141.8,78.9 L140.2,80.4 L138.7,78.9 Z" fill="white" stroke="#b4a478" stroke-width="0.6"/>
<line x1="150.8" y1="100.3" x2="150.8" y2="90.6" stroke="#b4a478" stroke-width="0.6"/>
<line x1="149.8" y1="90.6" x2="151.8" y2="90.6" stroke="#b4a478" stroke-width="0.6"/>
<line x1="149.8" y1="100.3" x2="151.8" y2="100.3" stroke="#b4a478" stroke-width="0.6"/>
<path d="M150.8,93.9 L152.3,95.4 L150.8,97.0 L149.2,95.4 Z" fill="white" stroke="#b4a478" stroke-width="0.6"/>
<line x1="161.3" y1="104.5" x2="161.3" y2="99.7" stroke="#b4a478" stroke-width="0.6"/>
<line x1="160.3" y1="99.7" x2="162.3" y2="99.7" stroke="#b4a478" stroke-width="0.6"/>
<line x1="160.3" y1="104.5" x2="162.3" y2="104.5" stroke="#b4a478" stroke-width="0.6"/>
<path d="M161.3,100.6 L162.9,102.1 L161.3,103.7 L159.8,102.1 Z" fill="white" stroke="#b4a478" stroke-width="0.6"/>
<line x1="171.9" y1="110.6" x2="171.9" y2="99.5" stroke="#b4a478" stroke-width="0.6"/>
<line x1="170.9" y1="99.5" x2="172.9" y2="99.5" stroke="#b4a478" stroke-width="0.6"/>
<line x1="170.9" y1="110.6" x2="172.9" y2="110.6" stroke="#b4a478" stroke-width="0.6"/>
<path d="M171.9,103.5 L173.5,105.1 L171.9,106.6 L170.3,105.1 Z" fill="white" stroke="#b4a478" stroke-width="0.6"/>
<line x1="182.5" y1="114.2" x2="182.5" y2="102.9" stroke="#b4a478" stroke-width="0.6"/>
<line x1="181.5" y1="102.9" x2="183.5" y2="102.9" stroke="#b4a478" stroke-width="0.6"/>
<line x1="181.5" y1="114.2" x2="183.5" y2="114.2" stroke="#b4a478" stroke-width="0.6"/>
<path d="M182.5,107.0 L184.0,108.5 L182.5,110.1 L180.9,108.5 Z" fill="white" stroke="#b4a478" stroke-width="0.6"/>
<line x1="87.4" y1="33.8" x2="87.4" y2="25.9" stroke="#e06a2a" stroke-width="0.6"/>
<line x1="86.4" y1="25.9" x2="88.4" y2="25.9" stroke="#e06a2a" stroke-width="0.6"/>
<line x1="86.4" y1="33.8" x2="88.4" y2="33.8" stroke="#e06a2a" stroke-width="0.6"/>
<circle cx="87.4" cy="29.8" r="1.3" fill="#e06a2a" stroke="#e06a2a" stroke-width="0.6"/>
<line x1="98.0" y1="42.5" x2="98.0" y2="32.6" stroke="#e06a2a" stroke-width="0.6"/>
<line x1="97.0" y1="32.6" x2="99.0" y2="32.6" stroke="#e06a2a" stroke-width="0.6"/>
<line x1="97.0" y1="42.5" x2="99.0" y2="42.5" stroke="#e06a2a" stroke-width="0.6"/>
<circle cx="98.0" cy="37.6" r="1.3" fill="#e06a2a" stroke="#e06a2a" stroke-width="0.6"/>
<line x1="108.5" y1="47.8" x2="108.5" y2="42.9" stroke="#e06a2a" stroke-width="0.6"/>
<line x1="107.5" y1="42.9" x2="109.5" y2="42.9" stroke="#e06a2a" stroke-width="0.6"/>
<line x1="107.5" y1="47.8" x2="109.5" y2="47.8" stroke="#e06a2a" stroke-width="0.6"/>
<circle cx="108.5" cy="45.3" r="1.3" fill="#e06a2a" stroke="#e06a2a" stroke-width="0.6"/>
<line x1="119.1" y1="57.3" x2="119.1" y2="51.5" stroke="#e06a2a" stroke-width="0.6"/>
<line x1="118.1" y1="51.5" x2="120.1" y2="51.5" stroke="#e06a2a" stroke-width="0.6"/>
<line x1="118.1" y1="57.3" x2="120.1" y2="57.3" stroke="#e06a2a" stroke-width="0.6"/>
<circle cx="119.1" cy="54.4" r="1.3" fill="#e06a2a" stroke="#e06a2a" stroke-width="0.6"/>
<line x1="129.7" y1="69.0" x2="129.7" y2="64.2" stroke="#e06a2a" stroke-width="0.6"/>
<line x1="128.7" y1="64.2" x2="130.7" y2="64.2" stroke="#e06a2a" stroke-width="0.6"/>
<line x1="128.7" y1="69.0" x2="130.7" y2="69.0" stroke="#e06a2a" stroke-width="0.6"/>
<circle cx="129.7" cy="66.6" r="1.3" fill="#e06a2a" stroke="#e06a2a" stroke-width="0.6"/>
<line x1="140.2" y1="87.6" x2="140.2" y2="81.9" stroke="#e06a2a" stroke-width="0.6"/>
<line x1="139.2" y1="81.9" x2="141.2" y2="81.9" stroke="#e06a2a" stroke-width="0.6"/>
<line x1="139.2" y1="87.6" x2="141.2" y2="87.6" stroke="#e06a2a" stroke-width="0.6"/>
<circle cx="140.2" cy="84.7" r="1.3" fill="#e06a2a" stroke="#e06a2a" stroke-width="0.6"/>
<line x1="150.8" y1="100.2" x2="150.8" y2="92.6" stroke="#e06a2a" stroke-width="0.6"/>
<line x1="149.8" y1="92.6" x2="151.8" y2="92.6" stroke="#e06a2a" stroke-width="0.6"/>
<line x1="149.8" y1="100.2" x2="151.8" y2="100.2" stroke="#e06a2a" stroke-width="0.6"/>
<circle cx="150.8" cy="96.4" r="1.3" fill="#e06a2a" stroke="#e06a2a" stroke-width="0.6"/>
<line x1="161.3" y1="112.8" x2="161.3" y2="100.8" stroke="#e06a2a" stroke-width="0.6"/>
<line x1="160.3" y1="100.8" x2="162.3" y2="100.8" stroke="#e06a2a" stroke-width="0.6"/>
<line x1="160.3" y1="112.8" x2="162.3" y2="112.8" stroke="#e06a2a" stroke-width="0.6"/>
<circle cx="161.3" cy="106.8" r="1.3" fill="#e06a2a" stroke="#e06a2a" stroke-width="0.6"/>
<line x1="171.9" y1="109.5" x2="171.9" y2="103.8" stroke="#e06a2a" stroke-width="0.6"/>
<line x1="170.9" y1="103.8" x2="172.9" y2="103.8" stroke="#e06a2a" stroke-width="0.6"/>
<line x1="170.9" y1="109.5" x2="172.9" y2="109.5" stroke="#e06a2a" stroke-width="0.6"/>
<circle cx="171.9" cy="106.7" r="1.3" fill="#e06a2a" stroke="#e06a2a" stroke-width="0.6"/>
<line x1="182.5" y1="118.1" x2="182.5" y2="110.7" stroke="#e06a2a" stroke-width="0.6"/>
<line x1="181.5" y1="110.7" x2="183.5" y2="110.7" stroke="#e06a2a" stroke-width="0.6"/>
<line x1="181.5" y1="118.1" x2="183.5" y2="118.1" stroke="#e06a2a" stroke-width="0.6"/>
<circle cx="182.5" cy="114.4" r="1.3" fill="#e06a2a" stroke="#e06a2a" stroke-width="0.6"/>
<line x1="87.4" y1="33.5" x2="87.4" y2="28.0" stroke="#f0a8b8" stroke-width="0.6"/>
<line x1="86.4" y1="28.0" x2="88.4" y2="28.0" stroke="#f0a8b8" stroke-width="0.6"/>
<line x1="86.4" y1="33.5" x2="88.4" y2="33.5" stroke="#f0a8b8" stroke-width="0.6"/>
<path d="M86.1,30.8 L88.7,30.8 M87.4,29.5 L87.4,32.1" fill="none" stroke="#f0a8b8" stroke-width="0.9"/>
<line x1="98.0" y1="36.9" x2="98.0" y2="23.9" stroke="#f0a8b8" stroke-width="0.6"/>
<line x1="97.0" y1="23.9" x2="99.0" y2="23.9" stroke="#f0a8b8" stroke-width="0.6"/>
<line x1="97.0" y1="36.9" x2="99.0" y2="36.9" stroke="#f0a8b8" stroke-width="0.6"/>
<path d="M96.7,30.4 L99.3,30.4 M98.0,29.1 L98.0,31.7" fill="none" stroke="#f0a8b8" stroke-width="0.9"/>
<line x1="108.5" y1="46.8" x2="108.5" y2="38.2" stroke="#f0a8b8" stroke-width="0.6"/>
<line x1="107.5" y1="38.2" x2="109.5" y2="38.2" stroke="#f0a8b8" stroke-width="0.6"/>
<line x1="107.5" y1="46.8" x2="109.5" y2="46.8" stroke="#f0a8b8" stroke-width="0.6"/>
<path d="M107.2,42.5 L109.8,42.5 M108.5,41.2 L108.5,43.8" fill="none" stroke="#f0a8b8" stroke-width="0.9"/>
<line x1="119.1" y1="60.5" x2="119.1" y2="55.2" stroke="#f0a8b8" stroke-width="0.6"/>
<line x1="118.1" y1="55.2" x2="120.1" y2="55.2" stroke="#f0a8b8" stroke-width="0.6"/>
<line x1="118.1" y1="60.5" x2="120.1" y2="60.5" stroke="#f0a8b8" stroke-width="0.6"/>
<path d="M117.8,57.9 L120.4,57.9 M119.1,56.6 L119.1,59.2" fill="none" stroke="#f0a8b8" stroke-width="0.9"/>
<line x1="129.7" y1="72.3" x2="129.7" y2="65.6" stroke="#f0a8b8" stroke-width="0.6"/>
<line x1="128.7" y1="65.6" x2="130.7" y2="65.6" stroke="#f0a8b8" stroke-width="0.6"/>
<line x1="128.7" y1="72.3" x2="130.7" y2="72.3" stroke="#f0a8b8" stroke-width="0.6"/>
<path d="M128.4,69.0 L131.0,69.0 M129.7,67.7 L129.7,70.3" fill="none" stroke="#f0a8b8" stroke-width="0.9"/>
<line x1="140.2" y1="80.9" x2="140.2" y2="75.1" stroke="#f0a8b8" stroke-width="0.6"/>
<line x1="139.2" y1="75.1" x2="141.2" y2="75.1" stroke="#f0a8b8" stroke-width="0.6"/>
<line x1="139.2" y1="80.9" x2="141.2" y2="80.9" stroke="#f0a8b8" stroke-width="0.6"/>
<path d="M138.9,78.0 L141.5,78.0 M140.2,76.7 L140.2,79.3" fill="none" stroke="#f0a8b8" stroke-width="0.9"/>
<line x1="150.8" y1="105.4" x2="150.8" y2="92.7" stroke="#f0a8b8" stroke-width="0.6"/>
<line x1="149.8" y1="92.7" x2="151.8" y2="92.7" stroke="#f0a8b8" stroke-width="0.6"/>
<line x1="149.8" y1="105.4" x2="151.8" y2="105.4" stroke="#f0a8b8" stroke-width="0.6"/>
<path d="M149.5,99.1 L152.1,99.1 M150.8,97.8 L150.8,100.4" fill="none" stroke="#f0a8b8" stroke-width="0.9"/>
<line x1="161.3" y1="105.4" x2="161.3" y2="99.7" stroke="#f0a8b8" stroke-width="0.6"/>
<line x1="160.3" y1="99.7" x2="162.3" y2="99.7" stroke="#f0a8b8" stroke-width="0.6"/>
<line x1="160.3" y1="105.4" x2="162.3" y2="105.4" stroke="#f0a8b8" stroke-width="0.6"/>
<path d="M160.0,102.6 L162.6,102.6 M161.3,101.3 L161.3,103.9" fill="none" stroke="#f0a8b8" stroke-width="0.9"/>
<line x1="171.9" y1="110.5" x2="171.9" y2="105.9" stroke="#f0a8b8" stroke-width="0.6"/>
<line x1="170.9" y1="105.9" x2="172.9" y2="105.9" stroke="#f0a8b8" stroke-width="0.6"/>
<line x1="170.9" y1="110.5" x2="172.9" y2="110.5" stroke="#f0a8b8" stroke-width="0.6"/>
<path d="M170.6,108.2 L173.2,108.2 M171.9,106.9 L171.9,109.5" fill="none" stroke="#f0a8b8" stroke-width="0.9"/>
<line x1="182.5" y1="118.3" x2="182.5" y2="105.4" stroke="#f0a8b8" stroke-width="0.6"/>
<line x1="181.5" y1="105.4" x2="183.5" y2="105.4" stroke="#f0a8b8" stroke-width="0.6"/>
<line x1="181.5" y1="118.3" x2="183.5" y2="118.3" stroke="#f0a8b8" stroke-width="0.6"/>
<path d="M181.2,111.9 L183.8,111.9 M182.5,110.6 L182.5,113.2" fill="none" stroke="#f0a8b8" stroke-width="0.9"/>
<line x1="73.3" y1="31.1" x2="73.3" y2="20.6" stroke="#c4c40c" stroke-width="0.6"/>
<line x1="72.3" y1="20.6" x2="74.3" y2="20.6" stroke="#c4c40c" stroke-width="0.6"/>
<line x1="72.3" y1="31.1" x2="74.3" y2="31.1" stroke="#c4c40c" stroke-width="0.6"/>
<circle cx="73.3" cy="25.8" r="1.3" fill="white" stroke="#c4c40c" stroke-width="0.6"/>
<path d="M73.3,24.5 A1.3,1.3 0 0 0 73.3,27.1 Z" fill="#c4c40c" stroke="none" stroke-width="0.6"/>
<line x1="83.9" y1="42.4" x2="83.9" y2="34.8" stroke="#c4c40c" stroke-width="0.6"/>
<line x1="82.9" y1="34.8" x2="84.9" y2="34.8" stroke="#c4c40c" stroke-width="0.6"/>
<line x1="82.9" y1="42.4" x2="84.9" y2="42.4" stroke="#c4c40c" stroke-width="0.6"/>
<circle cx="83.9" cy="38.6" r="1.3" fill="white" stroke="#c4c40c" stroke-width="0.6"/>
<path d="M83.9,37.3 A1.3,1.3 0 0 0 83.9,39.9 Z" fill="#c4c40c" stroke="none" stroke-width="0.6"/>
<line x1="94.5" y1="54.4" x2="94.5" y2="43.3" stroke="#c4c40c" stroke-width="0.6"/>
<line x1="93.5" y1="43.3" x2="95.5" y2="43.3" stroke="#c4c40c" stroke-width="0.6"/>
<line x1="93.5" y1="54.4" x2="95.5" y2="54.4" stroke="#c4c40c" stroke-width="0.6"/>
<circle cx="94.5" cy="48.9" r="1.3" fill="white" stroke="#c4c40c" stroke-width="0.6"/>
<path d="M94.5,47.6 A1.3,1.3 0 0 0 94.5,50.2 Z" fill="#c4c40c" stroke="none" stroke-width="0.6"/>
<line x1="105.0" y1="62.7" x2="105.0" y2="51.5" stroke="#c4c40c" stroke-width="0.6"/>
<line x1="104.0" y1="51.5" x2="106.0" y2="51.5" stroke="#c4c40c" stroke-width="0.6"/>
<line x1="104.0" y1="62.7" x2="106.0" y2="62.7" stroke="#c4c40c" stroke-width="0.6"/>
<circle cx="105.0" cy="57.1" r="1.3" fill="white" stroke="#c4c40c" stroke-width="0.6"/>
<path d="M105.0,55.8 A1.3,1.3 0 0 0 105.0,58.4 Z" fill="#c4c40c" stroke="none" stroke-width="0.6"/>
<line x1="115.6" y1="76.5" x2="115.6" y2="70.2" stroke="#c4c40c" stroke-width="0.6"/>
<line x1="114.6" y1="70.2" x2="116.6" y2="70.2" stroke="#c4c40c" stroke-width="0.6"/>
<line x1="114.6" y1="76.5" x2="116.6" y2="76.5" stroke="#c4c40c" stroke-width="0.6"/>
<circle cx="115.6" cy="73.4" r="1.3" fill="white" stroke="#c4c40c" stroke-width="0.6"/>
<path d="M115.6,72.1 A1.3,1.3 0 0 0 115.6,74.7 Z" fill="#c4c40c" stroke="none" stroke-width="0.6"/>
<line x1="126.1" y1="88.2" x2="126.1" y2="75.3" stroke="#c4c40c" stroke-width="0.6"/>
<line x1="125.1" y1="75.3" x2="127.1" y2="75.3" stroke="#c4c40c" stroke-width="0.6"/>
<line x1="125.1" y1="88.2" x2="127.1" y2="88.2" stroke="#c4c40c" stroke-width="0.6"/>
<circle cx="126.1" cy="81.8" r="1.3" fill="white" stroke="#c4c40c" stroke-width="0.6"/>
<path d="M126.1,80.5 A1.3,1.3 0 0 0 126.1,83.1 Z" fill="#c4c40c" stroke="none" stroke-width="0.6"/>
<line x1="136.7" y1="98.3" x2="136.7" y2="86.9" stroke="#c4c40c" stroke-width="0.6"/>
<line x1="135.7" y1="86.9" x2="137.7" y2="86.9" stroke="#c4c40c" stroke-width="0.6"/>
<line x1="135.7" y1="98.3" x2="137.7" y2="98.3" stroke="#c4c40c" stroke-width="0.6"/>
<circle cx="136.7" cy="92.6" r="1.3" fill="white" stroke="#c4c40c" stroke-width="0.6"/>
<path d="M136.7,91.3 A1.3,1.3 0 0 0 136.7,93.9 Z" fill="#c4c40c" stroke="none" stroke-width="0.6"/>
<line x1="147.3" y1="106.6" x2="147.3" y2="95.7" stroke="#c4c40c" stroke-width="0.6"/>
<line x1="146.3" y1="95.7" x2="148.3" y2="95.7" stroke="#c4c40c" stroke-width="0.6"/>
<line x1="146.3" y1="106.6" x2="148.3" y2="106.6" stroke="#c4c40c" stroke-width="0.6"/>
<circle cx="147.3" cy="101.1" r="1.3" fill="white" stroke="#c4c40c" stroke-width="0.6"/>
<path d="M147.3,99.8 A1.3,1.3 0 0 0 147.3,102.4 Z" fill="#c4c40c" stroke="none" stroke-width="0.6"/>
<line x1="157.8" y1="117.4" x2="157.8" y2="108.5" stroke="#c4c40c" stroke-width="0.6"/>
<line x1="156.8" y1="108.5" x2="158.8" y2="108.5" stroke="#c4c40c" stroke-width="0.6"/>
<line x1="156.8" y1="117.4" x2="158.8" y2="117.4" stroke="#c4c40c" stroke-width="0.6"/>
<circle cx="157.8" cy="113.0" r="1.3" fill="white" stroke="#c4c40c" stroke-width="0.6"/>
<path d="M157.8,111.7 A1.3,1.3 0 0 0 157.8,114.3 Z" fill="#c4c40c" stroke="none" stroke-width="0.6"/>
<line x1="168.4" y1="117.1" x2="168.4" y2="112.5" stroke="#c4c40c" stroke-width="0.6"/>
<line x1="167.4" y1="112.5" x2="169.4" y2="112.5" stroke="#c4c40c" stroke-width="0.6"/>
<line x1="167.4" y1="117.1" x2="169.4" y2="117.1" stroke="#c4c40c" stroke-width="0.6"/>
<circle cx="168.4" cy="114.8" r="1.3" fill="white" stroke="#c4c40c" stroke-width="0.6"/>
<path d="M168.4,113.5 A1.3,1.3 0 0 0 168.4,116.1 Z" fill="#c4c40c" stroke="none" stroke-width="0.6"/>
<line x1="178.9" y1="123.8" x2="178.9" y2="116.9" stroke="#c4c40c" stroke-width="0.6"/>
<line x1="177.9" y1="116.9" x2="179.9" y2="116.9" stroke="#c4c40c" stroke-width="0.6"/>
<line x1="177.9" y1="123.8" x2="179.9" y2="123.8" stroke="#c4c40c" stroke-width="0.6"/>
<circle cx="178.9" cy="120.3" r="1.3" fill="white" stroke="#c4c40c" stroke-width="0.6"/>
<path d="M178.9,119.0 A1.3,1.3 0 0 0 178.9,121.6 Z" fill="#c4c40c" stroke="none" stroke-width="0.6"/>
<line x1="62.8" y1="36.9" x2="62.8" y2="26.5" stroke="#1a9cc8" stroke-width="0.6"/>
<line x1="61.8" y1="26.5" x2="63.8" y2="26.5" stroke="#1a9cc8" stroke-width="0.6"/>
<line x1="61.8" y1="36.9" x2="63.8" y2="36.9" stroke="#1a9cc8" stroke-width="0.6"/>
<circle cx="62.8" cy="31.7" r="1.3" fill="white" stroke="#1a9cc8" stroke-width="0.6"/>
<path d="M62.8,30.4 A1.3,1.3 0 0 0 62.8,33.0 Z" fill="#1a9cc8" stroke="none" stroke-width="0.6"/>
<line x1="73.3" y1="34.1" x2="73.3" y2="25.8" stroke="#1a9cc8" stroke-width="0.6"/>
<line x1="72.3" y1="25.8" x2="74.3" y2="25.8" stroke="#1a9cc8" stroke-width="0.6"/>
<line x1="72.3" y1="34.1" x2="74.3" y2="34.1" stroke="#1a9cc8" stroke-width="0.6"/>
<circle cx="73.3" cy="30.0" r="1.3" fill="white" stroke="#1a9cc8" stroke-width="0.6"/>
<path d="M73.3,28.7 A1.3,1.3 0 0 0 73.3,31.3 Z" fill="#1a9cc8" stroke="none" stroke-width="0.6"/>
<line x1="83.9" y1="45.5" x2="83.9" y2="32.5" stroke="#1a9cc8" stroke-width="0.6"/>
<line x1="82.9" y1="32.5" x2="84.9" y2="32.5" stroke="#1a9cc8" stroke-width="0.6"/>
<line x1="82.9" y1="45.5" x2="84.9" y2="45.5" stroke="#1a9cc8" stroke-width="0.6"/>
<circle cx="83.9" cy="39.0" r="1.3" fill="white" stroke="#1a9cc8" stroke-width="0.6"/>
<path d="M83.9,37.7 A1.3,1.3 0 0 0 83.9,40.3 Z" fill="#1a9cc8" stroke="none" stroke-width="0.6"/>
<line x1="94.5" y1="54.5" x2="94.5" y2="46.9" stroke="#1a9cc8" stroke-width="0.6"/>
<line x1="93.5" y1="46.9" x2="95.5" y2="46.9" stroke="#1a9cc8" stroke-width="0.6"/>
<line x1="93.5" y1="54.5" x2="95.5" y2="54.5" stroke="#1a9cc8" stroke-width="0.6"/>
<circle cx="94.5" cy="50.7" r="1.3" fill="white" stroke="#1a9cc8" stroke-width="0.6"/>
<path d="M94.5,49.4 A1.3,1.3 0 0 0 94.5,52.0 Z" fill="#1a9cc8" stroke="none" stroke-width="0.6"/>
<line x1="105.0" y1="75.9" x2="105.0" y2="69.6" stroke="#1a9cc8" stroke-width="0.6"/>
<line x1="104.0" y1="69.6" x2="106.0" y2="69.6" stroke="#1a9cc8" stroke-width="0.6"/>
<line x1="104.0" y1="75.9" x2="106.0" y2="75.9" stroke="#1a9cc8" stroke-width="0.6"/>
<circle cx="105.0" cy="72.7" r="1.3" fill="white" stroke="#1a9cc8" stroke-width="0.6"/>
<path d="M105.0,71.4 A1.3,1.3 0 0 0 105.0,74.0 Z" fill="#1a9cc8" stroke="none" stroke-width="0.6"/>
<line x1="115.6" y1="90.1" x2="115.6" y2="83.9" stroke="#1a9cc8" stroke-width="0.6"/>
<line x1="114.6" y1="83.9" x2="116.6" y2="83.9" stroke="#1a9cc8" stroke-width="0.6"/>
<line x1="114.6" y1="90.1" x2="116.6" y2="90.1" stroke="#1a9cc8" stroke-width="0.6"/>
<circle cx="115.6" cy="87.0" r="1.3" fill="white" stroke="#1a9cc8" stroke-width="0.6"/>
<path d="M115.6,85.7 A1.3,1.3 0 0 0 115.6,88.3 Z" fill="#1a9cc8" stroke="none" stroke-width="0.6"/>
<line x1="126.1" y1="100.4" x2="126.1" y2="88.1" stroke="#1a9cc8" stroke-width="0.6"/>
<line x1="125.1" y1="88.1" x2="127.1" y2="88.1" stroke="#1a9cc8" stroke-width="0.6"/>
<line x1="125.1" y1="100.4" x2="127.1" y2="100.4" stroke="#1a9cc8" stroke-width="0.6"/>
<circle cx="126.1" cy="94.3" r="1.3" fill="white" stroke="#1a9cc8" stroke-width="0.6"/>
<path d="M126.1,93.0 A1.3,1.3 0 0 0 126.1,95.6 Z" fill="#1a9cc8" stroke="none" stroke-width="0.6"/>
<line x1="136.7" y1="105.0" x2="136.7" y2="96.4" stroke="#1a9cc8" stroke-width="0.6"/>
<line x1="135.7" y1="96.4" x2="137.7" y2="96.4" stroke="#1a9cc8" stroke-width="0.6"/>
<line x1="135.7" y1="105.0" x2="137.7" y2="105.0" stroke="#1a9cc8" stroke-width="0.6"/>
<circle cx="136.7" cy="100.7" r="1.3" fill="white" stroke="#1a9cc8" stroke-width="0.6"/>
<path d="M136.7,99.4 A1.3,1.3 0 0 0 136.7,102.0 Z" fill="#1a9cc8" stroke="none" stroke-width="0.6"/>
<line x1="147.3" y1="114.3" x2="147.3" y2="102.9" stroke="#1a9cc8" stroke-width="0.6"/>
<line x1="146.3" y1="102.9" x2="148.3" y2="102.9" stroke="#1a9cc8" stroke-width="0.6"/>
<line x1="146.3" y1="114.3" x2="148.3" y2="114.3" stroke="#1a9cc8" stroke-width="0.6"/>
<circle cx="147.3" cy="108.6" r="1.3" fill="white" stroke="#1a9cc8" stroke-width="0.6"/>
<path d="M147.3,107.3 A1.3,1.3 0 0 0 147.3,109.9 Z" fill="#1a9cc8" stroke="none" stroke-width="0.6"/>
<line x1="157.8" y1="123.5" x2="157.8" y2="113.3" stroke="#1a9cc8" stroke-width="0.6"/>
<line x1="156.8" y1="113.3" x2="158.8" y2="113.3" stroke="#1a9cc8" stroke-width="0.6"/>
<line x1="156.8" y1="123.5" x2="158.8" y2="123.5" stroke="#1a9cc8" stroke-width="0.6"/>
<circle cx="157.8" cy="118.4" r="1.3" fill="white" stroke="#1a9cc8" stroke-width="0.6"/>
<path d="M157.8,117.1 A1.3,1.3 0 0 0 157.8,119.7 Z" fill="#1a9cc8" stroke="none" stroke-width="0.6"/>
<line x1="55.7" y1="27.1" x2="55.7" y2="15.9" stroke="#f0a068" stroke-width="0.6"/>
<line x1="54.7" y1="15.9" x2="56.7" y2="15.9" stroke="#f0a068" stroke-width="0.6"/>
<line x1="54.7" y1="27.1" x2="56.7" y2="27.1" stroke="#f0a068" stroke-width="0.6"/>
<rect x="54.4" y="20.2" width="2.6" height="2.6" fill="white" stroke="#f0a068" stroke-width="0.6"/>
<rect x="54.4" y="21.5" width="2.6" height="1.3" fill="#f0a068"/>
<line x1="66.3" y1="31.4" x2="66.3" y2="22.9" stroke="#f0a068" stroke-width="0.6"/>
<line x1="65.3" y1="22.9" x2="67.3" y2="22.9" stroke="#f0a068" stroke-width="0.6"/>
<line x1="65.3" y1="31.4" x2="67.3" y2="31.4" stroke="#f0a068" stroke-width="0.6"/>
<rect x="65.0" y="25.9" width="2.6" height="2.6" fill="white" stroke="#f0a068" stroke-width="0.6"/>
<rect x="65.0" y="27.2" width="2.6" height="1.3" fill="#f0a068"/>
<line x1="76.9" y1="45.3" x2="76.9" y2="34.1" stroke="#f0a068" stroke-width="0.6"/>
<line x1="75.9" y1="34.1" x2="77.9" y2="34.1" stroke="#f0a068" stroke-width="0.6"/>
<line x1="75.9" y1="45.3" x2="77.9" y2="45.3" stroke="#f0a068" stroke-width="0.6"/>
<rect x="75.6" y="38.4" width="2.6" height="2.6" fill="white" stroke="#f0a068" stroke-width="0.6"/>
<rect x="75.6" y="39.7" width="2.6" height="1.3" fill="#f0a068"/>
<line x1="87.4" y1="53.0" x2="87.4" y2="41.7" stroke="#f0a068" stroke-width="0.6"/>
<line x1="86.4" y1="41.7" x2="88.4" y2="41.7" stroke="#f0a068" stroke-width="0.6"/>
<line x1="86.4" y1="53.0" x2="88.4" y2="53.0" stroke="#f0a068" stroke-width="0.6"/>
<rect x="86.1" y="46.0" width="2.6" height="2.6" fill="white" stroke="#f0a068" stroke-width="0.6"/>
<rect x="86.1" y="47.3" width="2.6" height="1.3" fill="#f0a068"/>
<line x1="98.0" y1="56.7" x2="98.0" y2="48.8" stroke="#f0a068" stroke-width="0.6"/>
<line x1="97.0" y1="48.8" x2="99.0" y2="48.8" stroke="#f0a068" stroke-width="0.6"/>
<line x1="97.0" y1="56.7" x2="99.0" y2="56.7" stroke="#f0a068" stroke-width="0.6"/>
<rect x="96.7" y="51.4" width="2.6" height="2.6" fill="white" stroke="#f0a068" stroke-width="0.6"/>
<rect x="96.7" y="52.7" width="2.6" height="1.3" fill="#f0a068"/>
<line x1="108.5" y1="79.5" x2="108.5" y2="66.8" stroke="#f0a068" stroke-width="0.6"/>
<line x1="107.5" y1="66.8" x2="109.5" y2="66.8" stroke="#f0a068" stroke-width="0.6"/>
<line x1="107.5" y1="79.5" x2="109.5" y2="79.5" stroke="#f0a068" stroke-width="0.6"/>
<rect x="107.2" y="71.9" width="2.6" height="2.6" fill="white" stroke="#f0a068" stroke-width="0.6"/>
<rect x="107.2" y="73.2" width="2.6" height="1.3" fill="#f0a068"/>
<line x1="119.1" y1="86.4" x2="119.1" y2="80.5" stroke="#f0a068" stroke-width="0.6"/>
<line x1="118.1" y1="80.5" x2="120.1" y2="80.5" stroke="#f0a068" stroke-width="0.6"/>
<line x1="118.1" y1="86.4" x2="120.1" y2="86.4" stroke="#f0a068" stroke-width="0.6"/>
<rect x="117.8" y="82.1" width="2.6" height="2.6" fill="white" stroke="#f0a068" stroke-width="0.6"/>
<rect x="117.8" y="83.4" width="2.6" height="1.3" fill="#f0a068"/>
<line x1="129.7" y1="104.2" x2="129.7" y2="98.5" stroke="#f0a068" stroke-width="0.6"/>
<line x1="128.7" y1="98.5" x2="130.7" y2="98.5" stroke="#f0a068" stroke-width="0.6"/>
<line x1="128.7" y1="104.2" x2="130.7" y2="104.2" stroke="#f0a068" stroke-width="0.6"/>
<rect x="128.4" y="100.1" width="2.6" height="2.6" fill="white" stroke="#f0a068" stroke-width="0.6"/>
<rect x="128.4" y="101.4" width="2.6" height="1.3" fill="#f0a068"/>
<line x1="140.2" y1="106.9" x2="140.2" y2="95.4" stroke="#f0a068" stroke-width="0.6"/>
<line x1="139.2" y1="95.4" x2="141.2" y2="95.4" stroke="#f0a068" stroke-width="0.6"/>
<line x1="139.2" y1="106.9" x2="141.2" y2="106.9" stroke="#f0a068" stroke-width="0.6"/>
<rect x="138.9" y="99.8" width="2.6" height="2.6" fill="white" stroke="#f0a068" stroke-width="0.6"/>
<rect x="138.9" y="101.1" width="2.6" height="1.3" fill="#f0a068"/>
<line x1="150.8" y1="120.6" x2="150.8" y2="109.1" stroke="#f0a068" stroke-width="0.6"/>
<line x1="149.8" y1="109.1" x2="151.8" y2="109.1" stroke="#f0a068" stroke-width="0.6"/>
<line x1="149.8" y1="120.6" x2="151.8" y2="120.6" stroke="#f0a068" stroke-width="0.6"/>
<rect x="149.5" y="113.5" width="2.6" height="2.6" fill="white" stroke="#f0a068" stroke-width="0.6"/>
<rect x="149.5" y="114.8" width="2.6" height="1.3" fill="#f0a068"/>
<line x1="45.2" y1="25.7" x2="45.2" y2="15.6" stroke="#12a070" stroke-width="0.6"/>
<line x1="44.2" y1="15.6" x2="46.2" y2="15.6" stroke="#12a070" stroke-width="0.6"/>
<line x1="44.2" y1="25.7" x2="46.2" y2="25.7" stroke="#12a070" stroke-width="0.6"/>
<rect x="43.9" y="19.4" width="2.6" height="2.6" fill="white" stroke="#12a070" stroke-width="0.6"/>
<rect x="43.9" y="20.7" width="2.6" height="1.3" fill="#12a070"/>
<line x1="55.7" y1="37.7" x2="55.7" y2="28.5" stroke="#12a070" stroke-width="0.6"/>
<line x1="54.7" y1="28.5" x2="56.7" y2="28.5" stroke="#12a070" stroke-width="0.6"/>
<line x1="54.7" y1="37.7" x2="56.7" y2="37.7" stroke="#12a070" stroke-width="0.6"/>
<rect x="54.4" y="31.8" width="2.6" height="2.6" fill="white" stroke="#12a070" stroke-width="0.6"/>
<rect x="54.4" y="33.1" width="2.6" height="1.3" fill="#12a070"/>
<line x1="66.3" y1="45.9" x2="66.3" y2="41.4" stroke="#12a070" stroke-width="0.6"/>
<line x1="65.3" y1="41.4" x2="67.3" y2="41.4" stroke="#12a070" stroke-width="0.6"/>
<line x1="65.3" y1="45.9" x2="67.3" y2="45.9" stroke="#12a070" stroke-width="0.6"/>
<rect x="65.0" y="42.4" width="2.6" height="2.6" fill="white" stroke="#12a070" stroke-width="0.6"/>
<rect x="65.0" y="43.7" width="2.6" height="1.3" fill="#12a070"/>
<line x1="76.9" y1="50.7" x2="76.9" y2="40.7" stroke="#12a070" stroke-width="0.6"/>
<line x1="75.9" y1="40.7" x2="77.9" y2="40.7" stroke="#12a070" stroke-width="0.6"/>
<line x1="75.9" y1="50.7" x2="77.9" y2="50.7" stroke="#12a070" stroke-width="0.6"/>
<rect x="75.6" y="44.4" width="2.6" height="2.6" fill="white" stroke="#12a070" stroke-width="0.6"/>
<rect x="75.6" y="45.7" width="2.6" height="1.3" fill="#12a070"/>
<line x1="87.4" y1="70.3" x2="87.4" y2="57.8" stroke="#12a070" stroke-width="0.6"/>
<line x1="86.4" y1="57.8" x2="88.4" y2="57.8" stroke="#12a070" stroke-width="0.6"/>
<line x1="86.4" y1="70.3" x2="88.4" y2="70.3" stroke="#12a070" stroke-width="0.6"/>
<rect x="86.1" y="62.8" width="2.6" height="2.6" fill="white" stroke="#12a070" stroke-width="0.6"/>
<rect x="86.1" y="64.1" width="2.6" height="1.3" fill="#12a070"/>
<line x1="98.0" y1="85.3" x2="98.0" y2="73.3" stroke="#12a070" stroke-width="0.6"/>
<line x1="97.0" y1="73.3" x2="99.0" y2="73.3" stroke="#12a070" stroke-width="0.6"/>
<line x1="97.0" y1="85.3" x2="99.0" y2="85.3" stroke="#12a070" stroke-width="0.6"/>
<rect x="96.7" y="78.0" width="2.6" height="2.6" fill="white" stroke="#12a070" stroke-width="0.6"/>
<rect x="96.7" y="79.3" width="2.6" height="1.3" fill="#12a070"/>
<line x1="108.5" y1="91.0" x2="108.5" y2="84.8" stroke="#12a070" stroke-width="0.6"/>
<line x1="107.5" y1="84.8" x2="109.5" y2="84.8" stroke="#12a070" stroke-width="0.6"/>
<line x1="107.5" y1="91.0" x2="109.5" y2="91.0" stroke="#12a070" stroke-width="0.6"/>
<rect x="107.2" y="86.6" width="2.6" height="2.6" fill="white" stroke="#12a070" stroke-width="0.6"/>
<rect x="107.2" y="87.9" width="2.6" height="1.3" fill="#12a070"/>
<line x1="119.1" y1="107.8" x2="119.1" y2="100.9" stroke="#12a070" stroke-width="0.6"/>
<line x1="118.1" y1="100.9" x2="120.1" y2="100.9" stroke="#12a070" stroke-width="0.6"/>
<line x1="118.1" y1="107.8" x2="120.1" y2="107.8" stroke="#12a070" stroke-width="0.6"/>
<rect x="117.8" y="103.1" width="2.6" height="2.6" fill="white" stroke="#12a070" stroke-width="0.6"/>
<rect x="117.8" y="104.4" width="2.6" height="1.3" fill="#12a070"/>
<line x1="129.7" y1="116.5" x2="129.7" y2="107.0" stroke="#12a070" stroke-width="0.6"/>
<line x1="128.7" y1="107.0" x2="130.7" y2="107.0" stroke="#12a070" stroke-width="0.6"/>
<line x1="128.7" y1="116.5" x2="130.7" y2="116.5" stroke="#12a070" stroke-width="0.6"/>
<rect x="128.4" y="110.5" width="2.6" height="2.6" fill="white" stroke="#12a070" stroke-width="0.6"/>
<rect x="128.4" y="111.8" width="2.6" height="1.3" fill="#12a070"/>
<line x1="140.2" y1="120.3" x2="140.2" y2="112.3" stroke="#12a070" stroke-width="0.6"/>
<line x1="139.2" y1="112.3" x2="141.2" y2="112.3" stroke="#12a070" stroke-width="0.6"/>
<line x1="139.2" y1="120.3" x2="141.2" y2="120.3" stroke="#12a070" stroke-width="0.6"/>
<rect x="138.9" y="115.0" width="2.6" height="2.6" fill="white" stroke="#12a070" stroke-width="0.6"/>
<rect x="138.9" y="116.3" width="2.6" height="1.3" fill="#12a070"/>
<line x1="41.7" y1="45.3" x2="41.7" y2="33.0" stroke="#e0147a" stroke-width="0.6"/>
<line x1="40.7" y1="33.0" x2="42.7" y2="33.0" stroke="#e0147a" stroke-width="0.6"/>
<line x1="40.7" y1="45.3" x2="42.7" y2="45.3" stroke="#e0147a" stroke-width="0.6"/>
<rect x="40.4" y="37.8" width="2.6" height="2.6" fill="white" stroke="#e0147a" stroke-width="0.6"/>
<rect x="40.4" y="39.1" width="2.6" height="1.3" fill="#e0147a"/>
<line x1="52.2" y1="48.0" x2="52.2" y2="39.6" stroke="#e0147a" stroke-width="0.6"/>
<line x1="51.2" y1="39.6" x2="53.2" y2="39.6" stroke="#e0147a" stroke-width="0.6"/>
<line x1="51.2" y1="48.0" x2="53.2" y2="48.0" stroke="#e0147a" stroke-width="0.6"/>
<rect x="50.9" y="42.5" width="2.6" height="2.6" fill="white" stroke="#e0147a" stroke-width="0.6"/>
<rect x="50.9" y="43.8" width="2.6" height="1.3" fill="#e0147a"/>
<line x1="62.8" y1="56.8" x2="62.8" y2="44.5" stroke="#e0147a" stroke-width="0.6"/>
<line x1="61.8" y1="44.5" x2="63.8" y2="44.5" stroke="#e0147a" stroke-width="0.6"/>
<line x1="61.8" y1="56.8" x2="63.8" y2="56.8" stroke="#e0147a" stroke-width="0.6"/>
<rect x="61.5" y="49.3" width="2.6" height="2.6" fill="white" stroke="#e0147a" stroke-width="0.6"/>
<rect x="61.5" y="50.6" width="2.6" height="1.3" fill="#e0147a"/>
<line x1="73.3" y1="69.8" x2="73.3" y2="57.4" stroke="#e0147a" stroke-width="0.6"/>
<line x1="72.3" y1="57.4" x2="74.3" y2="57.4" stroke="#e0147a" stroke-width="0.6"/>
<line x1="72.3" y1="69.8" x2="74.3" y2="69.8" stroke="#e0147a" stroke-width="0.6"/>
<rect x="72.0" y="62.3" width="2.6" height="2.6" fill="white" stroke="#e0147a" stroke-width="0.6"/>
<rect x="72.0" y="63.6" width="2.6" height="1.3" fill="#e0147a"/>
<line x1="83.9" y1="79.3" x2="83.9" y2="70.3" stroke="#e0147a" stroke-width="0.6"/>
<line x1="82.9" y1="70.3" x2="84.9" y2="70.3" stroke="#e0147a" stroke-width="0.6"/>
<line x1="82.9" y1="79.3" x2="84.9" y2="79.3" stroke="#e0147a" stroke-width="0.6"/>
<rect x="82.6" y="73.5" width="2.6" height="2.6" fill="white" stroke="#e0147a" stroke-width="0.6"/>
<rect x="82.6" y="74.8" width="2.6" height="1.3" fill="#e0147a"/>
<line x1="94.5" y1="88.4" x2="94.5" y2="83.9" stroke="#e0147a" stroke-width="0.6"/>
<line x1="93.5" y1="83.9" x2="95.5" y2="83.9" stroke="#e0147a" stroke-width="0.6"/>
<line x1="93.5" y1="88.4" x2="95.5" y2="88.4" stroke="#e0147a" stroke-width="0.6"/>
<rect x="93.2" y="84.9" width="2.6" height="2.6" fill="white" stroke="#e0147a" stroke-width="0.6"/>
<rect x="93.2" y="86.2" width="2.6" height="1.3" fill="#e0147a"/>
<line x1="105.0" y1="100.1" x2="105.0" y2="94.1" stroke="#e0147a" stroke-width="0.6"/>
<line x1="104.0" y1="94.1" x2="106.0" y2="94.1" stroke="#e0147a" stroke-width="0.6"/>
<line x1="104.0" y1="100.1" x2="106.0" y2="100.1" stroke="#e0147a" stroke-width="0.6"/>
<rect x="103.7" y="95.8" width="2.6" height="2.6" fill="white" stroke="#e0147a" stroke-width="0.6"/>
<rect x="103.7" y="97.1" width="2.6" height="1.3" fill="#e0147a"/>
<line x1="115.6" y1="115.4" x2="115.6" y2="104.0" stroke="#e0147a" stroke-width="0.6"/>
<line x1="114.6" y1="104.0" x2="116.6" y2="104.0" stroke="#e0147a" stroke-width="0.6"/>
<line x1="114.6" y1="115.4" x2="116.6" y2="115.4" stroke="#e0147a" stroke-width="0.6"/>
<rect x="114.3" y="108.4" width="2.6" height="2.6" fill="white" stroke="#e0147a" stroke-width="0.6"/>
<rect x="114.3" y="109.7" width="2.6" height="1.3" fill="#e0147a"/>
<line x1="126.1" y1="117.8" x2="126.1" y2="109.3" stroke="#e0147a" stroke-width="0.6"/>
<line x1="125.1" y1="109.3" x2="127.1" y2="109.3" stroke="#e0147a" stroke-width="0.6"/>
<line x1="125.1" y1="117.8" x2="127.1" y2="117.8" stroke="#e0147a" stroke-width="0.6"/>
<rect x="124.8" y="112.3" width="2.6" height="2.6" fill="white" stroke="#e0147a" stroke-width="0.6"/>
<rect x="124.8" y="113.6" width="2.6" height="1.3" fill="#e0147a"/>
<line x1="136.7" y1="116.1" x2="136.7" y2="106.8" stroke="#e0147a" stroke-width="0.6"/>
<line x1="135.7" y1="106.8" x2="137.7" y2="106.8" stroke="#e0147a" stroke-width="0.6"/>
<line x1="135.7" y1="116.1" x2="137.7" y2="116.1" stroke="#e0147a" stroke-width="0.6"/>
<rect x="135.4" y="110.2" width="2.6" height="2.6" fill="white" stroke="#e0147a" stroke-width="0.6"/>
<rect x="135.4" y="111.5" width="2.6" height="1.3" fill="#e0147a"/>
<line x1="214.5" y1="10.9" x2="220.9" y2="10.9" stroke="#a23cb4" stroke-width="0.7"/>
<rect x="216.4" y="9.6" width="2.6" height="2.6" fill="white" stroke="#a23cb4" stroke-width="0.6"/>
<text x="224.6" y="12.9" font-size="5.45" text-anchor="start" fill="#231f20" textLength="45.1" lengthAdjust="spacingAndGlyphs" stroke="#231f20" stroke-width="0.05">SM-AZE-PTX alone</text>
<line x1="214.5" y1="20.1" x2="220.9" y2="20.1" stroke="#f07070" stroke-width="0.7"/>
<circle cx="217.7" cy="20.1" r="1.3" fill="white" stroke="#f07070" stroke-width="0.6"/>
<text x="224.6" y="22.1" font-size="5.45" text-anchor="start" fill="#231f20" textLength="25.7" lengthAdjust="spacingAndGlyphs" stroke="#231f20" stroke-width="0.05">GEM alone</text>
<line x1="214.5" y1="29.3" x2="220.9" y2="29.3" stroke="#1a8c1a" stroke-width="0.7"/>
<path d="M217.7,27.8 L219.1,30.3 L216.3,30.3 Z" fill="#1a8c1a" stroke="#1a8c1a" stroke-width="0.6"/>
<text x="224.6" y="31.3" font-size="5.45" text-anchor="start" fill="#231f20" textLength="57.2" lengthAdjust="spacingAndGlyphs" stroke="#231f20" stroke-width="0.05">GEM/SM-AZE-PTX = 1:1</text>
<line x1="214.5" y1="38.4" x2="220.9" y2="38.4" stroke="#1515e0" stroke-width="0.7"/>
<path d="M217.7,36.9 L219.3,38.4 L217.7,40.0 L216.1,38.4 Z" fill="#1515e0" stroke="#1515e0" stroke-width="0.6"/>
<text x="224.6" y="40.4" font-size="5.45" text-anchor="start" fill="#231f20" textLength="73.7" lengthAdjust="spacingAndGlyphs" stroke="#231f20" stroke-width="0.05">GEM/SM-AZE-PTX = 2:1 (GEM)</text>
<line x1="214.5" y1="47.6" x2="220.9" y2="47.6" stroke="#f5b880" stroke-width="0.7"/>
<path d="M217.7,49.0 L219.1,46.6 L216.3,46.6 Z" fill="white" stroke="#f5b880" stroke-width="0.6"/>
<text x="224.6" y="49.6" font-size="5.45" text-anchor="start" fill="#231f20" textLength="73.7" lengthAdjust="spacingAndGlyphs" stroke="#231f20" stroke-width="0.05">GEM/SM-AZE-PTX = 4:1 (GEM)</text>
<line x1="214.5" y1="56.8" x2="220.9" y2="56.8" stroke="#b4a478" stroke-width="0.7"/>
<path d="M217.7,55.2 L219.3,56.8 L217.7,58.4 L216.1,56.8 Z" fill="white" stroke="#b4a478" stroke-width="0.6"/>
<text x="224.6" y="58.8" font-size="5.45" text-anchor="start" fill="#231f20" textLength="73.7" lengthAdjust="spacingAndGlyphs" stroke="#231f20" stroke-width="0.05">GEM/SM-AZE-PTX = 8:1 (GEM)</text>
<line x1="214.5" y1="66.0" x2="220.9" y2="66.0" stroke="#e06a2a" stroke-width="0.7"/>
<circle cx="217.7" cy="66.0" r="1.3" fill="#e06a2a" stroke="#e06a2a" stroke-width="0.6"/>
<text x="224.6" y="68.0" font-size="5.45" text-anchor="start" fill="#231f20" textLength="76.6" lengthAdjust="spacingAndGlyphs" stroke="#231f20" stroke-width="0.05">GEM/SM-AZE-PTX = 16:1 (GEM)</text>
<line x1="214.5" y1="75.2" x2="220.9" y2="75.2" stroke="#f0a8b8" stroke-width="0.7"/>
<path d="M216.4,75.2 L219.0,75.2 M217.7,73.9 L217.7,76.5" fill="none" stroke="#f0a8b8" stroke-width="0.9"/>
<text x="224.6" y="77.2" font-size="5.45" text-anchor="start" fill="#231f20" textLength="76.6" lengthAdjust="spacingAndGlyphs" stroke="#231f20" stroke-width="0.05">GEM/SM-AZE-PTX = 20:1 (GEM)</text>
<line x1="214.5" y1="84.3" x2="220.9" y2="84.3" stroke="#c4c40c" stroke-width="0.7"/>
<circle cx="217.7" cy="84.3" r="1.3" fill="white" stroke="#c4c40c" stroke-width="0.6"/>
<path d="M217.7,83.0 A1.3,1.3 0 0 0 217.7,85.6 Z" fill="#c4c40c" stroke="none" stroke-width="0.6"/>
<text x="224.6" y="86.3" font-size="5.45" text-anchor="start" fill="#231f20" textLength="93.1" lengthAdjust="spacingAndGlyphs" stroke="#231f20" stroke-width="0.05">GEM/SM-AZE-PTX = 2:1 (SM-AZE-PTX)</text>
<line x1="214.5" y1="93.5" x2="220.9" y2="93.5" stroke="#1a9cc8" stroke-width="0.7"/>
<circle cx="217.7" cy="93.5" r="1.3" fill="white" stroke="#1a9cc8" stroke-width="0.6"/>
<path d="M217.7,92.2 A1.3,1.3 0 0 0 217.7,94.8 Z" fill="#1a9cc8" stroke="none" stroke-width="0.6"/>
<text x="224.6" y="95.5" font-size="5.45" text-anchor="start" fill="#231f20" textLength="93.1" lengthAdjust="spacingAndGlyphs" stroke="#231f20" stroke-width="0.05">GEM/SM-AZE-PTX = 4:1 (SM-AZE-PTX)</text>
<line x1="214.5" y1="102.7" x2="220.9" y2="102.7" stroke="#f0a068" stroke-width="0.7"/>
<rect x="216.4" y="101.4" width="2.6" height="2.6" fill="white" stroke="#f0a068" stroke-width="0.6"/>
<rect x="216.4" y="102.7" width="2.6" height="1.3" fill="#f0a068"/>
<text x="224.6" y="104.7" font-size="5.45" text-anchor="start" fill="#231f20" textLength="93.1" lengthAdjust="spacingAndGlyphs" stroke="#231f20" stroke-width="0.05">GEM/SM-AZE-PTX = 8:1 (SM-AZE-PTX)</text>
<line x1="214.5" y1="111.9" x2="220.9" y2="111.9" stroke="#12a070" stroke-width="0.7"/>
<rect x="216.4" y="110.6" width="2.6" height="2.6" fill="white" stroke="#12a070" stroke-width="0.6"/>
<rect x="216.4" y="111.9" width="2.6" height="1.3" fill="#12a070"/>
<text x="224.6" y="113.9" font-size="5.45" text-anchor="start" fill="#231f20" textLength="96.0" lengthAdjust="spacingAndGlyphs" stroke="#231f20" stroke-width="0.05">GEM/SM-AZE-PTX = 16:1 (SM-AZE-PTX)</text>
<line x1="214.5" y1="121.1" x2="220.9" y2="121.1" stroke="#e0147a" stroke-width="0.7"/>
<rect x="216.4" y="119.8" width="2.6" height="2.6" fill="white" stroke="#e0147a" stroke-width="0.6"/>
<rect x="216.4" y="121.1" width="2.6" height="1.3" fill="#e0147a"/>
<text x="224.6" y="123.1" font-size="5.45" text-anchor="start" fill="#231f20" textLength="96.0" lengthAdjust="spacingAndGlyphs" stroke="#231f20" stroke-width="0.05">GEM/SM-AZE-PTX = 20:1 (SM-AZE-PTX)</text>
<text x="9.0" y="66.0" font-size="7.14" text-anchor="middle" fill="#231f20" transform="rotate(-90 9.0 66.0)" textLength="54.1" lengthAdjust="spacingAndGlyphs" stroke="#231f20" stroke-width="0.1">Cell viability (%)</text>
<text x="118.5" y="146.0" font-size="7.14" text-anchor="middle" fill="#231f20" textLength="78.3" lengthAdjust="spacingAndGlyphs" stroke="#231f20" stroke-width="0.1">Log concentration (μM)</text>
<line x1="367.6" y1="5.0" x2="367.6" y2="125.6" stroke="#231f20" stroke-width="0.6"/>
<line x1="365.6" y1="120.4" x2="367.6" y2="120.4" stroke="#231f20" stroke-width="0.6"/>
<text x="364.0" y="123.0" font-size="6.86" text-anchor="end" fill="#231f20" textLength="4.1" lengthAdjust="spacingAndGlyphs" stroke="#231f20" stroke-width="0.1">0</text>
<line x1="365.6" y1="93.3" x2="367.6" y2="93.3" stroke="#231f20" stroke-width="0.6"/>
<text x="364.0" y="95.9" font-size="6.86" text-anchor="end" fill="#231f20" textLength="8.1" lengthAdjust="spacingAndGlyphs" stroke="#231f20" stroke-width="0.1">25</text>
<line x1="365.6" y1="66.2" x2="367.6" y2="66.2" stroke="#231f20" stroke-width="0.6"/>
<text x="364.0" y="68.8" font-size="6.86" text-anchor="end" fill="#231f20" textLength="8.1" lengthAdjust="spacingAndGlyphs" stroke="#231f20" stroke-width="0.1">50</text>
<line x1="365.6" y1="39.1" x2="367.6" y2="39.1" stroke="#231f20" stroke-width="0.6"/>
<text x="364.0" y="41.7" font-size="6.86" text-anchor="end" fill="#231f20" textLength="8.1" lengthAdjust="spacingAndGlyphs" stroke="#231f20" stroke-width="0.1">75</text>
<line x1="365.6" y1="12.0" x2="367.6" y2="12.0" stroke="#231f20" stroke-width="0.6"/>
<text x="364.0" y="14.6" font-size="6.86" text-anchor="end" fill="#231f20" textLength="12.2" lengthAdjust="spacingAndGlyphs" stroke="#231f20" stroke-width="0.1">100</text>
<line x1="367.6" y1="125.6" x2="546.8" y2="125.6" stroke="#231f20" stroke-width="0.6"/>
<line x1="367.3" y1="125.6" x2="367.3" y2="127.6" stroke="#231f20" stroke-width="0.6"/>
<text x="367.3" y="135.2" font-size="6.86" text-anchor="middle" fill="#231f20" textLength="8.3" lengthAdjust="spacingAndGlyphs" stroke="#231f20" stroke-width="0.1">−2</text>
<line x1="403.2" y1="125.6" x2="403.2" y2="127.6" stroke="#231f20" stroke-width="0.6"/>
<text x="403.2" y="135.2" font-size="6.86" text-anchor="middle" fill="#231f20" textLength="8.3" lengthAdjust="spacingAndGlyphs" stroke="#231f20" stroke-width="0.1">−1</text>
<line x1="439.1" y1="125.6" x2="439.1" y2="127.6" stroke="#231f20" stroke-width="0.6"/>
<text x="439.1" y="135.2" font-size="6.86" text-anchor="middle" fill="#231f20" textLength="4.1" lengthAdjust="spacingAndGlyphs" stroke="#231f20" stroke-width="0.1">0</text>
<line x1="475.0" y1="125.6" x2="475.0" y2="127.6" stroke="#231f20" stroke-width="0.6"/>
<text x="475.0" y="135.2" font-size="6.86" text-anchor="middle" fill="#231f20" textLength="4.1" lengthAdjust="spacingAndGlyphs" stroke="#231f20" stroke-width="0.1">1</text>
<line x1="510.9" y1="125.6" x2="510.9" y2="127.6" stroke="#231f20" stroke-width="0.6"/>
<text x="510.9" y="135.2" font-size="6.86" text-anchor="middle" fill="#231f20" textLength="4.1" lengthAdjust="spacingAndGlyphs" stroke="#231f20" stroke-width="0.1">2</text>
<line x1="546.8" y1="125.6" x2="546.8" y2="127.6" stroke="#231f20" stroke-width="0.6"/>
<text x="546.8" y="135.2" font-size="6.86" text-anchor="middle" fill="#231f20" textLength="4.1" lengthAdjust="spacingAndGlyphs" stroke="#231f20" stroke-width="0.1">3</text>
<path d="M424.7,17.3 L427.2,17.6 L429.6,17.9 L432.0,18.3 L434.4,18.7 L436.9,19.2 L439.3,19.8 L441.7,20.4 L444.1,21.2 L446.5,22.0 L449.0,22.9 L451.4,24.0 L453.8,25.2 L456.2,26.5 L458.7,28.0 L461.1,29.7 L463.5,31.5 L465.9,33.5 L468.4,35.7 L470.8,38.1 L473.2,40.7 L475.6,43.5 L478.1,46.5 L480.5,49.7 L482.9,53.0 L485.3,56.4 L487.7,60.0 L490.2,63.6 L492.6,67.3 L495.0,71.0 L497.4,74.6 L499.9,78.2 L502.3,81.7 L504.7,85.0 L507.1,88.2 L509.6,91.3 L512.0,94.1 L514.4,96.8 L516.8,99.2 L519.2,101.5 L521.7,103.6" fill="none" stroke="#a23cb4" stroke-width="0.7"/>
<path d="M424.7,27.0 L427.2,27.8 L429.6,28.8 L432.0,29.8 L434.4,31.0 L436.9,32.2 L439.3,33.6 L441.7,35.2 L444.1,36.9 L446.5,38.7 L449.0,40.8 L451.4,42.9 L453.8,45.3 L456.2,47.8 L458.7,50.4 L461.1,53.2 L463.5,56.1 L465.9,59.0 L468.4,62.1 L470.8,65.2 L473.2,68.4 L475.6,71.5 L478.1,74.6 L480.5,77.7 L482.9,80.7 L485.3,83.6 L487.7,86.3 L490.2,89.0 L492.6,91.5 L495.0,93.8 L497.4,96.0 L499.9,98.0 L502.3,99.8 L504.7,101.5 L507.1,103.1 L509.6,104.5 L512.0,105.8 L514.4,106.9 L516.8,108.0 L519.2,108.9 L521.7,109.7" fill="none" stroke="#f07070" stroke-width="0.7"/>
<path d="M424.7,33.7 L427.2,35.6 L429.6,37.9 L432.0,41.0 L434.4,44.8 L436.9,49.4 L439.3,54.9 L441.7,61.2 L444.1,68.0 L446.5,75.1 L449.0,82.2 L451.4,88.9 L453.8,95.0 L456.2,100.3 L458.7,104.8 L461.1,108.4 L463.5,111.3 L465.9,113.5 L468.4,115.3 L470.8,116.6 L473.2,117.6 L475.6,118.3 L478.1,118.9 L480.5,119.3 L482.9,119.6 L485.3,119.8 L487.7,120.0 L490.2,120.1 L492.6,120.2 L495.0,120.2 L497.4,120.3 L499.9,120.3 L502.3,120.3 L504.7,120.3 L507.1,120.4 L509.6,120.4 L512.0,120.4 L514.4,120.4 L516.8,120.4 L519.2,120.4 L521.7,120.4" fill="none" stroke="#60a8f0" stroke-width="0.7"/>
<path d="M424.7,26.5 L427.2,27.2 L429.6,28.1 L432.0,29.0 L434.4,30.1 L436.9,31.3 L439.3,32.6 L441.7,34.0 L444.1,35.6 L446.5,37.4 L449.0,39.3 L451.4,41.3 L453.8,43.5 L456.2,45.9 L458.7,48.4 L461.1,51.1 L463.5,53.9 L465.9,56.8 L468.4,59.8 L470.8,62.9 L473.2,66.0 L475.6,69.2 L478.1,72.3 L480.5,75.4 L482.9,78.5 L485.3,81.4 L487.7,84.3 L490.2,87.0 L492.6,89.6 L495.0,92.1 L497.4,94.4 L499.9,96.5 L502.3,98.5 L504.7,100.3 L507.1,102.0 L509.6,103.5 L512.0,104.9 L514.4,106.1 L516.8,107.2 L519.2,108.2 L521.7,109.1" fill="none" stroke="#c030e0" stroke-width="0.7"/>
<path d="M424.7,26.5 L427.2,27.2 L429.6,28.1 L432.0,29.0 L434.4,30.1 L436.9,31.3 L439.3,32.6 L441.7,34.0 L444.1,35.6 L446.5,37.4 L449.0,39.3 L451.4,41.3 L453.8,43.5 L456.2,45.9 L458.7,48.4 L461.1,51.1 L463.5,53.9 L465.9,56.8 L468.4,59.8 L470.8,62.9 L473.2,66.0 L475.6,69.2 L478.1,72.3 L480.5,75.4 L482.9,78.5 L485.3,81.4 L487.7,84.3 L490.2,87.0 L492.6,89.6 L495.0,92.1 L497.4,94.4 L499.9,96.5 L502.3,98.5 L504.7,100.3 L507.1,102.0 L509.6,103.5 L512.0,104.9 L514.4,106.1 L516.8,107.2 L519.2,108.2 L521.7,109.1" fill="none" stroke="#f8c0d8" stroke-width="0.7"/>
<path d="M424.7,22.3 L427.2,22.6 L429.6,22.9 L432.0,23.2 L434.4,23.5 L436.9,23.9 L439.3,24.4 L441.7,25.0 L444.1,25.6 L446.5,26.2 L449.0,27.0 L451.4,27.9 L453.8,28.9 L456.2,30.0 L458.7,31.2 L461.1,32.6 L463.5,34.1 L465.9,35.7 L468.4,37.6 L470.8,39.5 L473.2,41.7 L475.6,44.0 L478.1,46.5 L480.5,49.1 L482.9,51.8 L485.3,54.6 L487.7,57.6 L490.2,60.6 L492.6,63.6 L495.0,66.6 L497.4,69.6 L499.9,72.6 L502.3,75.4 L504.7,78.2 L507.1,80.8 L509.6,83.4 L512.0,85.7 L514.4,87.9 L516.8,89.9 L519.2,91.8 L521.7,93.5" fill="none" stroke="#40e040" stroke-width="0.7"/>
<path d="M424.7,25.5 L427.2,26.1 L429.6,26.8 L432.0,27.6 L434.4,28.6 L436.9,29.6 L439.3,30.7 L441.7,31.9 L444.1,33.3 L446.5,34.8 L449.0,36.5 L451.4,38.3 L453.8,40.3 L456.2,42.4 L458.7,44.7 L461.1,47.2 L463.5,49.8 L465.9,52.5 L468.4,55.4 L470.8,58.4 L473.2,61.4 L475.6,64.5 L478.1,67.7 L480.5,70.8 L482.9,73.9 L485.3,77.0 L487.7,80.0 L490.2,82.9 L492.6,85.7 L495.0,88.4 L497.4,90.9 L499.9,93.3 L502.3,95.5 L504.7,97.6 L507.1,99.4 L509.6,101.2 L512.0,102.8 L514.4,104.2 L516.8,105.5 L519.2,106.7 L521.7,107.7" fill="none" stroke="#9040b0" stroke-width="0.7"/>
<path d="M424.7,33.9 L427.2,37.0 L429.6,41.1 L432.0,46.2 L434.4,52.3 L436.9,59.5 L439.3,67.3 L441.7,75.4 L444.1,83.4 L446.5,90.8 L449.0,97.3 L451.4,102.7 L453.8,107.1 L456.2,110.6 L458.7,113.2 L461.1,115.2 L463.5,116.6 L465.9,117.7 L468.4,118.5 L470.8,119.0 L473.2,119.4 L475.6,119.7 L478.1,119.9 L480.5,120.0 L482.9,120.1 L485.3,120.2 L487.7,120.3 L490.2,120.3 L492.6,120.3 L495.0,120.4 L497.4,120.4 L499.9,120.4 L502.3,120.4 L504.7,120.4 L507.1,120.4 L509.6,120.4 L512.0,120.4 L514.4,120.4 L516.8,120.4 L519.2,120.4 L521.7,120.4" fill="none" stroke="#f040f0" stroke-width="0.7"/>
<path d="M403.2,21.6 L405.6,22.2 L408.0,22.9 L410.5,23.7 L412.9,24.6 L415.3,25.6 L417.7,26.7 L420.2,27.9 L422.6,29.3 L425.0,30.8 L427.4,32.5 L429.9,34.4 L432.3,36.5 L434.7,38.7 L437.1,41.1 L439.5,43.8 L442.0,46.5 L444.4,49.5 L446.8,52.6 L449.2,55.8 L451.7,59.1 L454.1,62.5 L456.5,66.0 L458.9,69.4 L461.4,72.8 L463.8,76.2 L466.2,79.5 L468.6,82.6 L471.1,85.7 L473.5,88.5 L475.9,91.2 L478.3,93.7 L480.7,96.0 L483.2,98.2 L485.6,100.1 L488.0,101.9 L490.4,103.5 L492.9,105.0 L495.3,106.3 L497.7,107.5 L500.1,108.5" fill="none" stroke="#8020a0" stroke-width="0.7"/>
<path d="M392.4,23.8 L394.9,25.0 L397.3,26.3 L399.7,27.8 L402.1,29.5 L404.5,31.3 L407.0,33.4 L409.4,35.8 L411.8,38.3 L414.2,41.1 L416.7,44.2 L419.1,47.4 L421.5,50.9 L423.9,54.5 L426.4,58.3 L428.8,62.2 L431.2,66.1 L433.6,70.1 L436.0,74.0 L438.5,77.8 L440.9,81.6 L443.3,85.1 L445.7,88.5 L448.2,91.7 L450.6,94.6 L453.0,97.3 L455.4,99.8 L457.9,102.0 L460.3,104.0 L462.7,105.8 L465.1,107.4 L467.6,108.8 L470.0,110.1 L472.4,111.2 L474.8,112.1 L477.2,113.0 L479.7,113.7 L482.1,114.3 L484.5,114.9 L486.9,115.3 L489.4,115.7" fill="none" stroke="#202020" stroke-width="0.7"/>
<path d="M381.7,24.0 L384.6,24.5 L387.6,25.1 L390.5,25.8 L393.5,26.6 L396.5,27.5 L399.4,28.6 L402.4,29.8 L405.4,31.1 L408.3,32.6 L411.3,34.2 L414.2,36.1 L417.2,38.2 L420.2,40.5 L423.1,43.0 L426.1,45.7 L429.0,48.6 L432.0,51.6 L435.0,54.9 L437.9,58.3 L440.9,61.8 L443.9,65.4 L446.8,69.0 L449.8,72.6 L452.7,76.2 L455.7,79.7 L458.7,83.0 L461.6,86.2 L464.6,89.3 L467.6,92.1 L470.5,94.7 L473.5,97.1 L476.4,99.3 L479.4,101.3 L482.4,103.1 L485.3,104.7 L488.3,106.2 L491.2,107.4 L494.2,108.5 L497.2,109.5 L500.1,110.4" fill="none" stroke="#f8b0d0" stroke-width="0.7"/>
<path d="M378.1,31.2 L380.9,32.6 L383.6,34.2 L386.4,35.9 L389.2,37.7 L392.0,39.6 L394.8,41.7 L397.5,43.9 L400.3,46.3 L403.1,48.8 L405.9,51.3 L408.7,54.0 L411.5,56.8 L414.2,59.7 L417.0,62.6 L419.8,65.5 L422.6,68.5 L425.4,71.5 L428.2,74.5 L430.9,77.4 L433.7,80.3 L436.5,83.1 L439.3,85.8 L442.1,88.4 L444.8,90.9 L447.6,93.3 L450.4,95.5 L453.2,97.7 L456.0,99.6 L458.8,101.5 L461.5,103.2 L464.3,104.8 L467.1,106.3 L469.9,107.7 L472.7,108.9 L475.4,110.0 L478.2,111.1 L481.0,112.0 L483.8,112.9 L486.6,113.6 L489.4,114.3" fill="none" stroke="#6a2a6a" stroke-width="0.7"/>
<line x1="424.7" y1="22.0" x2="424.7" y2="16.4" stroke="#a23cb4" stroke-width="0.6"/>
<line x1="423.7" y1="16.4" x2="425.7" y2="16.4" stroke="#a23cb4" stroke-width="0.6"/>
<line x1="423.7" y1="22.0" x2="425.7" y2="22.0" stroke="#a23cb4" stroke-width="0.6"/>
<rect x="423.4" y="17.9" width="2.6" height="2.6" fill="white" stroke="#a23cb4" stroke-width="0.6"/>
<line x1="435.5" y1="19.8" x2="435.5" y2="14.8" stroke="#a23cb4" stroke-width="0.6"/>
<line x1="434.5" y1="14.8" x2="436.5" y2="14.8" stroke="#a23cb4" stroke-width="0.6"/>
<line x1="434.5" y1="19.8" x2="436.5" y2="19.8" stroke="#a23cb4" stroke-width="0.6"/>
<rect x="434.2" y="16.0" width="2.6" height="2.6" fill="white" stroke="#a23cb4" stroke-width="0.6"/>
<line x1="446.3" y1="25.3" x2="446.3" y2="17.8" stroke="#a23cb4" stroke-width="0.6"/>
<line x1="445.3" y1="17.8" x2="447.3" y2="17.8" stroke="#a23cb4" stroke-width="0.6"/>
<line x1="445.3" y1="25.3" x2="447.3" y2="25.3" stroke="#a23cb4" stroke-width="0.6"/>
<rect x="445.0" y="20.2" width="2.6" height="2.6" fill="white" stroke="#a23cb4" stroke-width="0.6"/>
<line x1="457.1" y1="36.2" x2="457.1" y2="27.4" stroke="#a23cb4" stroke-width="0.6"/>
<line x1="456.1" y1="27.4" x2="458.1" y2="27.4" stroke="#a23cb4" stroke-width="0.6"/>
<line x1="456.1" y1="36.2" x2="458.1" y2="36.2" stroke="#a23cb4" stroke-width="0.6"/>
<rect x="455.8" y="30.5" width="2.6" height="2.6" fill="white" stroke="#a23cb4" stroke-width="0.6"/>
<line x1="467.8" y1="44.3" x2="467.8" y2="36.2" stroke="#a23cb4" stroke-width="0.6"/>
<line x1="466.8" y1="36.2" x2="468.8" y2="36.2" stroke="#a23cb4" stroke-width="0.6"/>
<line x1="466.8" y1="44.3" x2="468.8" y2="44.3" stroke="#a23cb4" stroke-width="0.6"/>
<rect x="466.5" y="38.9" width="2.6" height="2.6" fill="white" stroke="#a23cb4" stroke-width="0.6"/>
<line x1="478.6" y1="54.4" x2="478.6" y2="49.3" stroke="#a23cb4" stroke-width="0.6"/>
<line x1="477.6" y1="49.3" x2="479.6" y2="49.3" stroke="#a23cb4" stroke-width="0.6"/>
<line x1="477.6" y1="54.4" x2="479.6" y2="54.4" stroke="#a23cb4" stroke-width="0.6"/>
<rect x="477.3" y="50.6" width="2.6" height="2.6" fill="white" stroke="#a23cb4" stroke-width="0.6"/>
<line x1="489.4" y1="69.0" x2="489.4" y2="57.5" stroke="#a23cb4" stroke-width="0.6"/>
<line x1="488.4" y1="57.5" x2="490.4" y2="57.5" stroke="#a23cb4" stroke-width="0.6"/>
<line x1="488.4" y1="69.0" x2="490.4" y2="69.0" stroke="#a23cb4" stroke-width="0.6"/>
<rect x="488.1" y="61.9" width="2.6" height="2.6" fill="white" stroke="#a23cb4" stroke-width="0.6"/>
<line x1="500.1" y1="85.8" x2="500.1" y2="79.5" stroke="#a23cb4" stroke-width="0.6"/>
<line x1="499.1" y1="79.5" x2="501.1" y2="79.5" stroke="#a23cb4" stroke-width="0.6"/>
<line x1="499.1" y1="85.8" x2="501.1" y2="85.8" stroke="#a23cb4" stroke-width="0.6"/>
<rect x="498.8" y="81.3" width="2.6" height="2.6" fill="white" stroke="#a23cb4" stroke-width="0.6"/>
<line x1="510.9" y1="97.8" x2="510.9" y2="85.2" stroke="#a23cb4" stroke-width="0.6"/>
<line x1="509.9" y1="85.2" x2="511.9" y2="85.2" stroke="#a23cb4" stroke-width="0.6"/>
<line x1="509.9" y1="97.8" x2="511.9" y2="97.8" stroke="#a23cb4" stroke-width="0.6"/>
<rect x="509.6" y="90.2" width="2.6" height="2.6" fill="white" stroke="#a23cb4" stroke-width="0.6"/>
<line x1="521.7" y1="106.6" x2="521.7" y2="98.8" stroke="#a23cb4" stroke-width="0.6"/>
<line x1="520.7" y1="98.8" x2="522.7" y2="98.8" stroke="#a23cb4" stroke-width="0.6"/>
<line x1="520.7" y1="106.6" x2="522.7" y2="106.6" stroke="#a23cb4" stroke-width="0.6"/>
<rect x="520.4" y="101.4" width="2.6" height="2.6" fill="white" stroke="#a23cb4" stroke-width="0.6"/>
<line x1="424.7" y1="24.2" x2="424.7" y2="19.5" stroke="#f07070" stroke-width="0.6"/>
<line x1="423.7" y1="19.5" x2="425.7" y2="19.5" stroke="#f07070" stroke-width="0.6"/>
<line x1="423.7" y1="24.2" x2="425.7" y2="24.2" stroke="#f07070" stroke-width="0.6"/>
<circle cx="424.7" cy="21.9" r="1.3" fill="white" stroke="#f07070" stroke-width="0.6"/>
<line x1="435.5" y1="31.0" x2="435.5" y2="24.2" stroke="#f07070" stroke-width="0.6"/>
<line x1="434.5" y1="24.2" x2="436.5" y2="24.2" stroke="#f07070" stroke-width="0.6"/>
<line x1="434.5" y1="31.0" x2="436.5" y2="31.0" stroke="#f07070" stroke-width="0.6"/>
<circle cx="435.5" cy="27.6" r="1.3" fill="white" stroke="#f07070" stroke-width="0.6"/>
<line x1="446.3" y1="45.1" x2="446.3" y2="39.7" stroke="#f07070" stroke-width="0.6"/>
<line x1="445.3" y1="39.7" x2="447.3" y2="39.7" stroke="#f07070" stroke-width="0.6"/>
<line x1="445.3" y1="45.1" x2="447.3" y2="45.1" stroke="#f07070" stroke-width="0.6"/>
<circle cx="446.3" cy="42.4" r="1.3" fill="white" stroke="#f07070" stroke-width="0.6"/>
<line x1="457.1" y1="56.4" x2="457.1" y2="45.0" stroke="#f07070" stroke-width="0.6"/>
<line x1="456.1" y1="45.0" x2="458.1" y2="45.0" stroke="#f07070" stroke-width="0.6"/>
<line x1="456.1" y1="56.4" x2="458.1" y2="56.4" stroke="#f07070" stroke-width="0.6"/>
<circle cx="457.1" cy="50.7" r="1.3" fill="white" stroke="#f07070" stroke-width="0.6"/>
<line x1="467.8" y1="69.6" x2="467.8" y2="60.2" stroke="#f07070" stroke-width="0.6"/>
<line x1="466.8" y1="60.2" x2="468.8" y2="60.2" stroke="#f07070" stroke-width="0.6"/>
<line x1="466.8" y1="69.6" x2="468.8" y2="69.6" stroke="#f07070" stroke-width="0.6"/>
<circle cx="467.8" cy="64.9" r="1.3" fill="white" stroke="#f07070" stroke-width="0.6"/>
<line x1="478.6" y1="77.6" x2="478.6" y2="70.0" stroke="#f07070" stroke-width="0.6"/>
<line x1="477.6" y1="70.0" x2="479.6" y2="70.0" stroke="#f07070" stroke-width="0.6"/>
<line x1="477.6" y1="77.6" x2="479.6" y2="77.6" stroke="#f07070" stroke-width="0.6"/>
<circle cx="478.6" cy="73.8" r="1.3" fill="white" stroke="#f07070" stroke-width="0.6"/>
<line x1="489.4" y1="90.0" x2="489.4" y2="85.2" stroke="#f07070" stroke-width="0.6"/>
<line x1="488.4" y1="85.2" x2="490.4" y2="85.2" stroke="#f07070" stroke-width="0.6"/>
<line x1="488.4" y1="90.0" x2="490.4" y2="90.0" stroke="#f07070" stroke-width="0.6"/>
<circle cx="489.4" cy="87.6" r="1.3" fill="white" stroke="#f07070" stroke-width="0.6"/>
<line x1="500.1" y1="106.0" x2="500.1" y2="99.9" stroke="#f07070" stroke-width="0.6"/>
<line x1="499.1" y1="99.9" x2="501.1" y2="99.9" stroke="#f07070" stroke-width="0.6"/>
<line x1="499.1" y1="106.0" x2="501.1" y2="106.0" stroke="#f07070" stroke-width="0.6"/>
<circle cx="500.1" cy="103.0" r="1.3" fill="white" stroke="#f07070" stroke-width="0.6"/>
<line x1="510.9" y1="107.3" x2="510.9" y2="99.3" stroke="#f07070" stroke-width="0.6"/>
<line x1="509.9" y1="99.3" x2="511.9" y2="99.3" stroke="#f07070" stroke-width="0.6"/>
<line x1="509.9" y1="107.3" x2="511.9" y2="107.3" stroke="#f07070" stroke-width="0.6"/>
<circle cx="510.9" cy="103.3" r="1.3" fill="white" stroke="#f07070" stroke-width="0.6"/>
<line x1="521.7" y1="116.4" x2="521.7" y2="107.0" stroke="#f07070" stroke-width="0.6"/>
<line x1="520.7" y1="107.0" x2="522.7" y2="107.0" stroke="#f07070" stroke-width="0.6"/>
<line x1="520.7" y1="116.4" x2="522.7" y2="116.4" stroke="#f07070" stroke-width="0.6"/>
<circle cx="521.7" cy="111.7" r="1.3" fill="white" stroke="#f07070" stroke-width="0.6"/>
<line x1="424.7" y1="37.7" x2="424.7" y2="30.8" stroke="#60a8f0" stroke-width="0.6"/>
<line x1="423.7" y1="30.8" x2="425.7" y2="30.8" stroke="#60a8f0" stroke-width="0.6"/>
<line x1="423.7" y1="37.7" x2="425.7" y2="37.7" stroke="#60a8f0" stroke-width="0.6"/>
<path d="M423.4,34.2 L426.0,34.2 M424.7,32.9 L424.7,35.5" fill="none" stroke="#60a8f0" stroke-width="0.9"/>
<line x1="435.5" y1="48.8" x2="435.5" y2="38.4" stroke="#60a8f0" stroke-width="0.6"/>
<line x1="434.5" y1="38.4" x2="436.5" y2="38.4" stroke="#60a8f0" stroke-width="0.6"/>
<line x1="434.5" y1="48.8" x2="436.5" y2="48.8" stroke="#60a8f0" stroke-width="0.6"/>
<path d="M434.2,43.6 L436.8,43.6 M435.5,42.3 L435.5,44.9" fill="none" stroke="#60a8f0" stroke-width="0.9"/>
<line x1="446.3" y1="81.8" x2="446.3" y2="72.4" stroke="#60a8f0" stroke-width="0.6"/>
<line x1="445.3" y1="72.4" x2="447.3" y2="72.4" stroke="#60a8f0" stroke-width="0.6"/>
<line x1="445.3" y1="81.8" x2="447.3" y2="81.8" stroke="#60a8f0" stroke-width="0.6"/>
<path d="M445.0,77.1 L447.6,77.1 M446.3,75.8 L446.3,78.4" fill="none" stroke="#60a8f0" stroke-width="0.9"/>
<line x1="457.1" y1="107.6" x2="457.1" y2="95.7" stroke="#60a8f0" stroke-width="0.6"/>
<line x1="456.1" y1="95.7" x2="458.1" y2="95.7" stroke="#60a8f0" stroke-width="0.6"/>
<line x1="456.1" y1="107.6" x2="458.1" y2="107.6" stroke="#60a8f0" stroke-width="0.6"/>
<path d="M455.8,101.6 L458.4,101.6 M457.1,100.3 L457.1,102.9" fill="none" stroke="#60a8f0" stroke-width="0.9"/>
<line x1="467.8" y1="115.9" x2="467.8" y2="109.0" stroke="#60a8f0" stroke-width="0.6"/>
<line x1="466.8" y1="109.0" x2="468.8" y2="109.0" stroke="#60a8f0" stroke-width="0.6"/>
<line x1="466.8" y1="115.9" x2="468.8" y2="115.9" stroke="#60a8f0" stroke-width="0.6"/>
<path d="M466.5,112.4 L469.1,112.4 M467.8,111.1 L467.8,113.7" fill="none" stroke="#60a8f0" stroke-width="0.9"/>
<line x1="478.6" y1="116.4" x2="478.6" y2="111.1" stroke="#60a8f0" stroke-width="0.6"/>
<line x1="477.6" y1="111.1" x2="479.6" y2="111.1" stroke="#60a8f0" stroke-width="0.6"/>
<line x1="477.6" y1="116.4" x2="479.6" y2="116.4" stroke="#60a8f0" stroke-width="0.6"/>
<path d="M477.3,113.8 L479.9,113.8 M478.6,112.5 L478.6,115.1" fill="none" stroke="#60a8f0" stroke-width="0.9"/>
<line x1="489.4" y1="126.4" x2="489.4" y2="115.5" stroke="#60a8f0" stroke-width="0.6"/>
<line x1="488.4" y1="115.5" x2="490.4" y2="115.5" stroke="#60a8f0" stroke-width="0.6"/>
<line x1="488.4" y1="126.4" x2="490.4" y2="126.4" stroke="#60a8f0" stroke-width="0.6"/>
<path d="M488.1,120.9 L490.7,120.9 M489.4,119.6 L489.4,122.2" fill="none" stroke="#60a8f0" stroke-width="0.9"/>
<line x1="500.1" y1="125.8" x2="500.1" y2="117.2" stroke="#60a8f0" stroke-width="0.6"/>
<line x1="499.1" y1="117.2" x2="501.1" y2="117.2" stroke="#60a8f0" stroke-width="0.6"/>
<line x1="499.1" y1="125.8" x2="501.1" y2="125.8" stroke="#60a8f0" stroke-width="0.6"/>
<path d="M498.8,121.5 L501.4,121.5 M500.1,120.2 L500.1,122.8" fill="none" stroke="#60a8f0" stroke-width="0.9"/>
<line x1="510.9" y1="126.5" x2="510.9" y2="116.4" stroke="#60a8f0" stroke-width="0.6"/>
<line x1="509.9" y1="116.4" x2="511.9" y2="116.4" stroke="#60a8f0" stroke-width="0.6"/>
<line x1="509.9" y1="126.5" x2="511.9" y2="126.5" stroke="#60a8f0" stroke-width="0.6"/>
<path d="M509.6,121.5 L512.2,121.5 M510.9,120.2 L510.9,122.8" fill="none" stroke="#60a8f0" stroke-width="0.9"/>
<line x1="521.7" y1="122.2" x2="521.7" y2="112.9" stroke="#60a8f0" stroke-width="0.6"/>
<line x1="520.7" y1="112.9" x2="522.7" y2="112.9" stroke="#60a8f0" stroke-width="0.6"/>
<line x1="520.7" y1="122.2" x2="522.7" y2="122.2" stroke="#60a8f0" stroke-width="0.6"/>
<path d="M520.4,117.5 L523.0,117.5 M521.7,116.2 L521.7,118.8" fill="none" stroke="#60a8f0" stroke-width="0.9"/>
<line x1="424.7" y1="25.9" x2="424.7" y2="18.9" stroke="#c030e0" stroke-width="0.6"/>
<line x1="423.7" y1="18.9" x2="425.7" y2="18.9" stroke="#c030e0" stroke-width="0.6"/>
<line x1="423.7" y1="25.9" x2="425.7" y2="25.9" stroke="#c030e0" stroke-width="0.6"/>
<path d="M423.4,21.1 L426.0,23.7 M426.0,21.1 L423.4,23.7" fill="none" stroke="#c030e0" stroke-width="0.9"/>
<line x1="435.5" y1="33.2" x2="435.5" y2="23.7" stroke="#c030e0" stroke-width="0.6"/>
<line x1="434.5" y1="23.7" x2="436.5" y2="23.7" stroke="#c030e0" stroke-width="0.6"/>
<line x1="434.5" y1="33.2" x2="436.5" y2="33.2" stroke="#c030e0" stroke-width="0.6"/>
<path d="M434.2,27.2 L436.8,29.8 M436.8,27.2 L434.2,29.8" fill="none" stroke="#c030e0" stroke-width="0.9"/>
<line x1="446.3" y1="40.4" x2="446.3" y2="32.1" stroke="#c030e0" stroke-width="0.6"/>
<line x1="445.3" y1="32.1" x2="447.3" y2="32.1" stroke="#c030e0" stroke-width="0.6"/>
<line x1="445.3" y1="40.4" x2="447.3" y2="40.4" stroke="#c030e0" stroke-width="0.6"/>
<path d="M445.0,35.0 L447.6,37.6 M447.6,35.0 L445.0,37.6" fill="none" stroke="#c030e0" stroke-width="0.9"/>
<line x1="457.1" y1="49.3" x2="457.1" y2="36.8" stroke="#c030e0" stroke-width="0.6"/>
<line x1="456.1" y1="36.8" x2="458.1" y2="36.8" stroke="#c030e0" stroke-width="0.6"/>
<line x1="456.1" y1="49.3" x2="458.1" y2="49.3" stroke="#c030e0" stroke-width="0.6"/>
<path d="M455.8,41.7 L458.4,44.3 M458.4,41.7 L455.8,44.3" fill="none" stroke="#c030e0" stroke-width="0.9"/>
<line x1="467.8" y1="64.5" x2="467.8" y2="54.4" stroke="#c030e0" stroke-width="0.6"/>
<line x1="466.8" y1="54.4" x2="468.8" y2="54.4" stroke="#c030e0" stroke-width="0.6"/>
<line x1="466.8" y1="64.5" x2="468.8" y2="64.5" stroke="#c030e0" stroke-width="0.6"/>
<path d="M466.5,58.1 L469.1,60.7 M469.1,58.1 L466.5,60.7" fill="none" stroke="#c030e0" stroke-width="0.9"/>
<line x1="478.6" y1="83.0" x2="478.6" y2="72.6" stroke="#c030e0" stroke-width="0.6"/>
<line x1="477.6" y1="72.6" x2="479.6" y2="72.6" stroke="#c030e0" stroke-width="0.6"/>
<line x1="477.6" y1="83.0" x2="479.6" y2="83.0" stroke="#c030e0" stroke-width="0.6"/>
<path d="M477.3,76.5 L479.9,79.1 M479.9,76.5 L477.3,79.1" fill="none" stroke="#c030e0" stroke-width="0.9"/>
<line x1="489.4" y1="91.0" x2="489.4" y2="78.1" stroke="#c030e0" stroke-width="0.6"/>
<line x1="488.4" y1="78.1" x2="490.4" y2="78.1" stroke="#c030e0" stroke-width="0.6"/>
<line x1="488.4" y1="91.0" x2="490.4" y2="91.0" stroke="#c030e0" stroke-width="0.6"/>
<path d="M488.1,83.2 L490.7,85.8 M490.7,83.2 L488.1,85.8" fill="none" stroke="#c030e0" stroke-width="0.9"/>
<line x1="500.1" y1="96.6" x2="500.1" y2="89.8" stroke="#c030e0" stroke-width="0.6"/>
<line x1="499.1" y1="89.8" x2="501.1" y2="89.8" stroke="#c030e0" stroke-width="0.6"/>
<line x1="499.1" y1="96.6" x2="501.1" y2="96.6" stroke="#c030e0" stroke-width="0.6"/>
<path d="M498.8,91.9 L501.4,94.5 M501.4,91.9 L498.8,94.5" fill="none" stroke="#c030e0" stroke-width="0.9"/>
<line x1="510.9" y1="110.6" x2="510.9" y2="100.4" stroke="#c030e0" stroke-width="0.6"/>
<line x1="509.9" y1="100.4" x2="511.9" y2="100.4" stroke="#c030e0" stroke-width="0.6"/>
<line x1="509.9" y1="110.6" x2="511.9" y2="110.6" stroke="#c030e0" stroke-width="0.6"/>
<path d="M509.6,104.2 L512.2,106.8 M512.2,104.2 L509.6,106.8" fill="none" stroke="#c030e0" stroke-width="0.9"/>
<line x1="521.7" y1="118.5" x2="521.7" y2="110.1" stroke="#c030e0" stroke-width="0.6"/>
<line x1="520.7" y1="110.1" x2="522.7" y2="110.1" stroke="#c030e0" stroke-width="0.6"/>
<line x1="520.7" y1="118.5" x2="522.7" y2="118.5" stroke="#c030e0" stroke-width="0.6"/>
<path d="M520.4,113.0 L523.0,115.6 M523.0,113.0 L520.4,115.6" fill="none" stroke="#c030e0" stroke-width="0.9"/>
<line x1="424.7" y1="32.7" x2="424.7" y2="27.4" stroke="#f8c0d8" stroke-width="0.6"/>
<line x1="423.7" y1="27.4" x2="425.7" y2="27.4" stroke="#f8c0d8" stroke-width="0.6"/>
<line x1="423.7" y1="32.7" x2="425.7" y2="32.7" stroke="#f8c0d8" stroke-width="0.6"/>
<circle cx="424.7" cy="30.1" r="1.3" fill="#f8c0d8" stroke="#f8c0d8" stroke-width="0.6"/>
<line x1="435.5" y1="40.9" x2="435.5" y2="29.9" stroke="#f8c0d8" stroke-width="0.6"/>
<line x1="434.5" y1="29.9" x2="436.5" y2="29.9" stroke="#f8c0d8" stroke-width="0.6"/>
<line x1="434.5" y1="40.9" x2="436.5" y2="40.9" stroke="#f8c0d8" stroke-width="0.6"/>
<circle cx="435.5" cy="35.4" r="1.3" fill="#f8c0d8" stroke="#f8c0d8" stroke-width="0.6"/>
<line x1="446.3" y1="44.4" x2="446.3" y2="37.9" stroke="#f8c0d8" stroke-width="0.6"/>
<line x1="445.3" y1="37.9" x2="447.3" y2="37.9" stroke="#f8c0d8" stroke-width="0.6"/>
<line x1="445.3" y1="44.4" x2="447.3" y2="44.4" stroke="#f8c0d8" stroke-width="0.6"/>
<circle cx="446.3" cy="41.2" r="1.3" fill="#f8c0d8" stroke="#f8c0d8" stroke-width="0.6"/>
<line x1="457.1" y1="53.9" x2="457.1" y2="42.0" stroke="#f8c0d8" stroke-width="0.6"/>
<line x1="456.1" y1="42.0" x2="458.1" y2="42.0" stroke="#f8c0d8" stroke-width="0.6"/>
<line x1="456.1" y1="53.9" x2="458.1" y2="53.9" stroke="#f8c0d8" stroke-width="0.6"/>
<circle cx="457.1" cy="47.9" r="1.3" fill="#f8c0d8" stroke="#f8c0d8" stroke-width="0.6"/>
<line x1="467.8" y1="67.8" x2="467.8" y2="59.6" stroke="#f8c0d8" stroke-width="0.6"/>
<line x1="466.8" y1="59.6" x2="468.8" y2="59.6" stroke="#f8c0d8" stroke-width="0.6"/>
<line x1="466.8" y1="67.8" x2="468.8" y2="67.8" stroke="#f8c0d8" stroke-width="0.6"/>
<circle cx="467.8" cy="63.7" r="1.3" fill="#f8c0d8" stroke="#f8c0d8" stroke-width="0.6"/>
<line x1="478.6" y1="78.5" x2="478.6" y2="66.5" stroke="#f8c0d8" stroke-width="0.6"/>
<line x1="477.6" y1="66.5" x2="479.6" y2="66.5" stroke="#f8c0d8" stroke-width="0.6"/>
<line x1="477.6" y1="78.5" x2="479.6" y2="78.5" stroke="#f8c0d8" stroke-width="0.6"/>
<circle cx="478.6" cy="72.5" r="1.3" fill="#f8c0d8" stroke="#f8c0d8" stroke-width="0.6"/>
<line x1="489.4" y1="88.6" x2="489.4" y2="76.8" stroke="#f8c0d8" stroke-width="0.6"/>
<line x1="488.4" y1="76.8" x2="490.4" y2="76.8" stroke="#f8c0d8" stroke-width="0.6"/>
<line x1="488.4" y1="88.6" x2="490.4" y2="88.6" stroke="#f8c0d8" stroke-width="0.6"/>
<circle cx="489.4" cy="82.7" r="1.3" fill="#f8c0d8" stroke="#f8c0d8" stroke-width="0.6"/>
<line x1="500.1" y1="103.1" x2="500.1" y2="95.2" stroke="#f8c0d8" stroke-width="0.6"/>
<line x1="499.1" y1="95.2" x2="501.1" y2="95.2" stroke="#f8c0d8" stroke-width="0.6"/>
<line x1="499.1" y1="103.1" x2="501.1" y2="103.1" stroke="#f8c0d8" stroke-width="0.6"/>
<circle cx="500.1" cy="99.1" r="1.3" fill="#f8c0d8" stroke="#f8c0d8" stroke-width="0.6"/>
<line x1="510.9" y1="111.8" x2="510.9" y2="99.8" stroke="#f8c0d8" stroke-width="0.6"/>
<line x1="509.9" y1="99.8" x2="511.9" y2="99.8" stroke="#f8c0d8" stroke-width="0.6"/>
<line x1="509.9" y1="111.8" x2="511.9" y2="111.8" stroke="#f8c0d8" stroke-width="0.6"/>
<circle cx="510.9" cy="105.8" r="1.3" fill="#f8c0d8" stroke="#f8c0d8" stroke-width="0.6"/>
<line x1="521.7" y1="107.0" x2="521.7" y2="101.3" stroke="#f8c0d8" stroke-width="0.6"/>
<line x1="520.7" y1="101.3" x2="522.7" y2="101.3" stroke="#f8c0d8" stroke-width="0.6"/>
<line x1="520.7" y1="107.0" x2="522.7" y2="107.0" stroke="#f8c0d8" stroke-width="0.6"/>
<circle cx="521.7" cy="104.2" r="1.3" fill="#f8c0d8" stroke="#f8c0d8" stroke-width="0.6"/>
<line x1="424.7" y1="29.0" x2="424.7" y2="22.7" stroke="#40e040" stroke-width="0.6"/>
<line x1="423.7" y1="22.7" x2="425.7" y2="22.7" stroke="#40e040" stroke-width="0.6"/>
<line x1="423.7" y1="29.0" x2="425.7" y2="29.0" stroke="#40e040" stroke-width="0.6"/>
<rect x="423.4" y="24.5" width="2.6" height="2.6" fill="white" stroke="#40e040" stroke-width="0.6"/>
<rect x="423.4" y="25.8" width="2.6" height="1.3" fill="#40e040"/>
<line x1="435.5" y1="30.9" x2="435.5" y2="22.3" stroke="#40e040" stroke-width="0.6"/>
<line x1="434.5" y1="22.3" x2="436.5" y2="22.3" stroke="#40e040" stroke-width="0.6"/>
<line x1="434.5" y1="30.9" x2="436.5" y2="30.9" stroke="#40e040" stroke-width="0.6"/>
<rect x="434.2" y="25.3" width="2.6" height="2.6" fill="white" stroke="#40e040" stroke-width="0.6"/>
<rect x="434.2" y="26.6" width="2.6" height="1.3" fill="#40e040"/>
<line x1="446.3" y1="28.5" x2="446.3" y2="21.9" stroke="#40e040" stroke-width="0.6"/>
<line x1="445.3" y1="21.9" x2="447.3" y2="21.9" stroke="#40e040" stroke-width="0.6"/>
<line x1="445.3" y1="28.5" x2="447.3" y2="28.5" stroke="#40e040" stroke-width="0.6"/>
<rect x="445.0" y="23.9" width="2.6" height="2.6" fill="white" stroke="#40e040" stroke-width="0.6"/>
<rect x="445.0" y="25.2" width="2.6" height="1.3" fill="#40e040"/>
<line x1="457.1" y1="39.7" x2="457.1" y2="31.8" stroke="#40e040" stroke-width="0.6"/>
<line x1="456.1" y1="31.8" x2="458.1" y2="31.8" stroke="#40e040" stroke-width="0.6"/>
<line x1="456.1" y1="39.7" x2="458.1" y2="39.7" stroke="#40e040" stroke-width="0.6"/>
<rect x="455.8" y="34.4" width="2.6" height="2.6" fill="white" stroke="#40e040" stroke-width="0.6"/>
<rect x="455.8" y="35.7" width="2.6" height="1.3" fill="#40e040"/>
<line x1="467.8" y1="43.2" x2="467.8" y2="33.9" stroke="#40e040" stroke-width="0.6"/>
<line x1="466.8" y1="33.9" x2="468.8" y2="33.9" stroke="#40e040" stroke-width="0.6"/>
<line x1="466.8" y1="43.2" x2="468.8" y2="43.2" stroke="#40e040" stroke-width="0.6"/>
<rect x="466.5" y="37.3" width="2.6" height="2.6" fill="white" stroke="#40e040" stroke-width="0.6"/>
<rect x="466.5" y="38.6" width="2.6" height="1.3" fill="#40e040"/>
<line x1="478.6" y1="47.3" x2="478.6" y2="37.0" stroke="#40e040" stroke-width="0.6"/>
<line x1="477.6" y1="37.0" x2="479.6" y2="37.0" stroke="#40e040" stroke-width="0.6"/>
<line x1="477.6" y1="47.3" x2="479.6" y2="47.3" stroke="#40e040" stroke-width="0.6"/>
<rect x="477.3" y="40.8" width="2.6" height="2.6" fill="white" stroke="#40e040" stroke-width="0.6"/>
<rect x="477.3" y="42.1" width="2.6" height="1.3" fill="#40e040"/>
<line x1="489.4" y1="64.2" x2="489.4" y2="54.5" stroke="#40e040" stroke-width="0.6"/>
<line x1="488.4" y1="54.5" x2="490.4" y2="54.5" stroke="#40e040" stroke-width="0.6"/>
<line x1="488.4" y1="64.2" x2="490.4" y2="64.2" stroke="#40e040" stroke-width="0.6"/>
<rect x="488.1" y="58.1" width="2.6" height="2.6" fill="white" stroke="#40e040" stroke-width="0.6"/>
<rect x="488.1" y="59.4" width="2.6" height="1.3" fill="#40e040"/>
<line x1="500.1" y1="73.4" x2="500.1" y2="68.6" stroke="#40e040" stroke-width="0.6"/>
<line x1="499.1" y1="68.6" x2="501.1" y2="68.6" stroke="#40e040" stroke-width="0.6"/>
<line x1="499.1" y1="73.4" x2="501.1" y2="73.4" stroke="#40e040" stroke-width="0.6"/>
<rect x="498.8" y="69.7" width="2.6" height="2.6" fill="white" stroke="#40e040" stroke-width="0.6"/>
<rect x="498.8" y="71.0" width="2.6" height="1.3" fill="#40e040"/>
<line x1="510.9" y1="85.9" x2="510.9" y2="74.8" stroke="#40e040" stroke-width="0.6"/>
<line x1="509.9" y1="74.8" x2="511.9" y2="74.8" stroke="#40e040" stroke-width="0.6"/>
<line x1="509.9" y1="85.9" x2="511.9" y2="85.9" stroke="#40e040" stroke-width="0.6"/>
<rect x="509.6" y="79.0" width="2.6" height="2.6" fill="white" stroke="#40e040" stroke-width="0.6"/>
<rect x="509.6" y="80.3" width="2.6" height="1.3" fill="#40e040"/>
<line x1="521.7" y1="95.1" x2="521.7" y2="83.8" stroke="#40e040" stroke-width="0.6"/>
<line x1="520.7" y1="83.8" x2="522.7" y2="83.8" stroke="#40e040" stroke-width="0.6"/>
<line x1="520.7" y1="95.1" x2="522.7" y2="95.1" stroke="#40e040" stroke-width="0.6"/>
<rect x="520.4" y="88.2" width="2.6" height="2.6" fill="white" stroke="#40e040" stroke-width="0.6"/>
<rect x="520.4" y="89.5" width="2.6" height="1.3" fill="#40e040"/>
<line x1="424.7" y1="30.5" x2="424.7" y2="22.7" stroke="#9040b0" stroke-width="0.6"/>
<line x1="423.7" y1="22.7" x2="425.7" y2="22.7" stroke="#9040b0" stroke-width="0.6"/>
<line x1="423.7" y1="30.5" x2="425.7" y2="30.5" stroke="#9040b0" stroke-width="0.6"/>
<circle cx="424.7" cy="26.6" r="1.3" fill="#9040b0" stroke="#9040b0" stroke-width="0.6"/>
<line x1="435.5" y1="38.2" x2="435.5" y2="28.4" stroke="#9040b0" stroke-width="0.6"/>
<line x1="434.5" y1="28.4" x2="436.5" y2="28.4" stroke="#9040b0" stroke-width="0.6"/>
<line x1="434.5" y1="38.2" x2="436.5" y2="38.2" stroke="#9040b0" stroke-width="0.6"/>
<circle cx="435.5" cy="33.3" r="1.3" fill="#9040b0" stroke="#9040b0" stroke-width="0.6"/>
<line x1="446.3" y1="41.9" x2="446.3" y2="36.9" stroke="#9040b0" stroke-width="0.6"/>
<line x1="445.3" y1="36.9" x2="447.3" y2="36.9" stroke="#9040b0" stroke-width="0.6"/>
<line x1="445.3" y1="41.9" x2="447.3" y2="41.9" stroke="#9040b0" stroke-width="0.6"/>
<circle cx="446.3" cy="39.4" r="1.3" fill="#9040b0" stroke="#9040b0" stroke-width="0.6"/>
<line x1="457.1" y1="49.2" x2="457.1" y2="43.5" stroke="#9040b0" stroke-width="0.6"/>
<line x1="456.1" y1="43.5" x2="458.1" y2="43.5" stroke="#9040b0" stroke-width="0.6"/>
<line x1="456.1" y1="49.2" x2="458.1" y2="49.2" stroke="#9040b0" stroke-width="0.6"/>
<circle cx="457.1" cy="46.3" r="1.3" fill="#9040b0" stroke="#9040b0" stroke-width="0.6"/>
<line x1="467.8" y1="58.9" x2="467.8" y2="54.1" stroke="#9040b0" stroke-width="0.6"/>
<line x1="466.8" y1="54.1" x2="468.8" y2="54.1" stroke="#9040b0" stroke-width="0.6"/>
<line x1="466.8" y1="58.9" x2="468.8" y2="58.9" stroke="#9040b0" stroke-width="0.6"/>
<circle cx="467.8" cy="56.5" r="1.3" fill="#9040b0" stroke="#9040b0" stroke-width="0.6"/>
<line x1="478.6" y1="76.6" x2="478.6" y2="71.0" stroke="#9040b0" stroke-width="0.6"/>
<line x1="477.6" y1="71.0" x2="479.6" y2="71.0" stroke="#9040b0" stroke-width="0.6"/>
<line x1="477.6" y1="76.6" x2="479.6" y2="76.6" stroke="#9040b0" stroke-width="0.6"/>
<circle cx="478.6" cy="73.8" r="1.3" fill="#9040b0" stroke="#9040b0" stroke-width="0.6"/>
<line x1="489.4" y1="90.0" x2="489.4" y2="82.6" stroke="#9040b0" stroke-width="0.6"/>
<line x1="488.4" y1="82.6" x2="490.4" y2="82.6" stroke="#9040b0" stroke-width="0.6"/>
<line x1="488.4" y1="90.0" x2="490.4" y2="90.0" stroke="#9040b0" stroke-width="0.6"/>
<circle cx="489.4" cy="86.3" r="1.3" fill="#9040b0" stroke="#9040b0" stroke-width="0.6"/>
<line x1="500.1" y1="104.6" x2="500.1" y2="92.7" stroke="#9040b0" stroke-width="0.6"/>
<line x1="499.1" y1="92.7" x2="501.1" y2="92.7" stroke="#9040b0" stroke-width="0.6"/>
<line x1="499.1" y1="104.6" x2="501.1" y2="104.6" stroke="#9040b0" stroke-width="0.6"/>
<circle cx="500.1" cy="98.7" r="1.3" fill="#9040b0" stroke="#9040b0" stroke-width="0.6"/>
<line x1="510.9" y1="103.7" x2="510.9" y2="98.0" stroke="#9040b0" stroke-width="0.6"/>
<line x1="509.9" y1="98.0" x2="511.9" y2="98.0" stroke="#9040b0" stroke-width="0.6"/>
<line x1="509.9" y1="103.7" x2="511.9" y2="103.7" stroke="#9040b0" stroke-width="0.6"/>
<circle cx="510.9" cy="100.8" r="1.3" fill="#9040b0" stroke="#9040b0" stroke-width="0.6"/>
<line x1="521.7" y1="114.1" x2="521.7" y2="106.8" stroke="#9040b0" stroke-width="0.6"/>
<line x1="520.7" y1="106.8" x2="522.7" y2="106.8" stroke="#9040b0" stroke-width="0.6"/>
<line x1="520.7" y1="114.1" x2="522.7" y2="114.1" stroke="#9040b0" stroke-width="0.6"/>
<circle cx="521.7" cy="110.4" r="1.3" fill="#9040b0" stroke="#9040b0" stroke-width="0.6"/>
<line x1="424.7" y1="38.0" x2="424.7" y2="32.6" stroke="#f040f0" stroke-width="0.6"/>
<line x1="423.7" y1="32.6" x2="425.7" y2="32.6" stroke="#f040f0" stroke-width="0.6"/>
<line x1="423.7" y1="38.0" x2="425.7" y2="38.0" stroke="#f040f0" stroke-width="0.6"/>
<circle cx="424.7" cy="35.3" r="1.3" fill="white" stroke="#f040f0" stroke-width="0.6"/>
<path d="M424.7,34.0 A1.3,1.3 0 0 0 424.7,36.6 Z" fill="#f040f0" stroke="none" stroke-width="0.6"/>
<line x1="435.5" y1="58.1" x2="435.5" y2="45.2" stroke="#f040f0" stroke-width="0.6"/>
<line x1="434.5" y1="45.2" x2="436.5" y2="45.2" stroke="#f040f0" stroke-width="0.6"/>
<line x1="434.5" y1="58.1" x2="436.5" y2="58.1" stroke="#f040f0" stroke-width="0.6"/>
<circle cx="435.5" cy="51.6" r="1.3" fill="white" stroke="#f040f0" stroke-width="0.6"/>
<path d="M435.5,50.3 A1.3,1.3 0 0 0 435.5,52.9 Z" fill="#f040f0" stroke="none" stroke-width="0.6"/>
<line x1="446.3" y1="94.6" x2="446.3" y2="86.1" stroke="#f040f0" stroke-width="0.6"/>
<line x1="445.3" y1="86.1" x2="447.3" y2="86.1" stroke="#f040f0" stroke-width="0.6"/>
<line x1="445.3" y1="94.6" x2="447.3" y2="94.6" stroke="#f040f0" stroke-width="0.6"/>
<circle cx="446.3" cy="90.4" r="1.3" fill="white" stroke="#f040f0" stroke-width="0.6"/>
<path d="M446.3,89.1 A1.3,1.3 0 0 0 446.3,91.7 Z" fill="#f040f0" stroke="none" stroke-width="0.6"/>
<line x1="457.1" y1="118.6" x2="457.1" y2="113.4" stroke="#f040f0" stroke-width="0.6"/>
<line x1="456.1" y1="113.4" x2="458.1" y2="113.4" stroke="#f040f0" stroke-width="0.6"/>
<line x1="456.1" y1="118.6" x2="458.1" y2="118.6" stroke="#f040f0" stroke-width="0.6"/>
<circle cx="457.1" cy="116.0" r="1.3" fill="white" stroke="#f040f0" stroke-width="0.6"/>
<path d="M457.1,114.7 A1.3,1.3 0 0 0 457.1,117.3 Z" fill="#f040f0" stroke="none" stroke-width="0.6"/>
<line x1="467.8" y1="123.3" x2="467.8" y2="116.7" stroke="#f040f0" stroke-width="0.6"/>
<line x1="466.8" y1="116.7" x2="468.8" y2="116.7" stroke="#f040f0" stroke-width="0.6"/>
<line x1="466.8" y1="123.3" x2="468.8" y2="123.3" stroke="#f040f0" stroke-width="0.6"/>
<circle cx="467.8" cy="120.0" r="1.3" fill="white" stroke="#f040f0" stroke-width="0.6"/>
<path d="M467.8,118.7 A1.3,1.3 0 0 0 467.8,121.3 Z" fill="#f040f0" stroke="none" stroke-width="0.6"/>
<line x1="478.6" y1="119.2" x2="478.6" y2="113.5" stroke="#f040f0" stroke-width="0.6"/>
<line x1="477.6" y1="113.5" x2="479.6" y2="113.5" stroke="#f040f0" stroke-width="0.6"/>
<line x1="477.6" y1="119.2" x2="479.6" y2="119.2" stroke="#f040f0" stroke-width="0.6"/>
<circle cx="478.6" cy="116.4" r="1.3" fill="white" stroke="#f040f0" stroke-width="0.6"/>
<path d="M478.6,115.1 A1.3,1.3 0 0 0 478.6,117.7 Z" fill="#f040f0" stroke="none" stroke-width="0.6"/>
<line x1="489.4" y1="127.8" x2="489.4" y2="115.2" stroke="#f040f0" stroke-width="0.6"/>
<line x1="488.4" y1="115.2" x2="490.4" y2="115.2" stroke="#f040f0" stroke-width="0.6"/>
<line x1="488.4" y1="127.8" x2="490.4" y2="127.8" stroke="#f040f0" stroke-width="0.6"/>
<circle cx="489.4" cy="121.5" r="1.3" fill="white" stroke="#f040f0" stroke-width="0.6"/>
<path d="M489.4,120.2 A1.3,1.3 0 0 0 489.4,122.8 Z" fill="#f040f0" stroke="none" stroke-width="0.6"/>
<line x1="500.1" y1="122.9" x2="500.1" y2="117.3" stroke="#f040f0" stroke-width="0.6"/>
<line x1="499.1" y1="117.3" x2="501.1" y2="117.3" stroke="#f040f0" stroke-width="0.6"/>
<line x1="499.1" y1="122.9" x2="501.1" y2="122.9" stroke="#f040f0" stroke-width="0.6"/>
<circle cx="500.1" cy="120.1" r="1.3" fill="white" stroke="#f040f0" stroke-width="0.6"/>
<path d="M500.1,118.8 A1.3,1.3 0 0 0 500.1,121.4 Z" fill="#f040f0" stroke="none" stroke-width="0.6"/>
<line x1="510.9" y1="122.2" x2="510.9" y2="117.6" stroke="#f040f0" stroke-width="0.6"/>
<line x1="509.9" y1="117.6" x2="511.9" y2="117.6" stroke="#f040f0" stroke-width="0.6"/>
<line x1="509.9" y1="122.2" x2="511.9" y2="122.2" stroke="#f040f0" stroke-width="0.6"/>
<circle cx="510.9" cy="119.9" r="1.3" fill="white" stroke="#f040f0" stroke-width="0.6"/>
<path d="M510.9,118.6 A1.3,1.3 0 0 0 510.9,121.2 Z" fill="#f040f0" stroke="none" stroke-width="0.6"/>
<line x1="521.7" y1="126.5" x2="521.7" y2="113.7" stroke="#f040f0" stroke-width="0.6"/>
<line x1="520.7" y1="113.7" x2="522.7" y2="113.7" stroke="#f040f0" stroke-width="0.6"/>
<line x1="520.7" y1="126.5" x2="522.7" y2="126.5" stroke="#f040f0" stroke-width="0.6"/>
<circle cx="521.7" cy="120.1" r="1.3" fill="white" stroke="#f040f0" stroke-width="0.6"/>
<path d="M521.7,118.8 A1.3,1.3 0 0 0 521.7,121.4 Z" fill="#f040f0" stroke="none" stroke-width="0.6"/>
<line x1="403.2" y1="22.9" x2="403.2" y2="12.5" stroke="#8020a0" stroke-width="0.6"/>
<line x1="402.2" y1="12.5" x2="404.2" y2="12.5" stroke="#8020a0" stroke-width="0.6"/>
<line x1="402.2" y1="22.9" x2="404.2" y2="22.9" stroke="#8020a0" stroke-width="0.6"/>
<path d="M403.2,16.3 L404.6,18.7 L401.8,18.7 Z" fill="#8020a0" stroke="#8020a0" stroke-width="0.6"/>
<line x1="414.0" y1="31.3" x2="414.0" y2="23.8" stroke="#8020a0" stroke-width="0.6"/>
<line x1="413.0" y1="23.8" x2="415.0" y2="23.8" stroke="#8020a0" stroke-width="0.6"/>
<line x1="413.0" y1="31.3" x2="415.0" y2="31.3" stroke="#8020a0" stroke-width="0.6"/>
<path d="M414.0,26.2 L415.4,28.6 L412.5,28.6 Z" fill="#8020a0" stroke="#8020a0" stroke-width="0.6"/>
<line x1="424.7" y1="39.8" x2="424.7" y2="28.7" stroke="#8020a0" stroke-width="0.6"/>
<line x1="423.7" y1="28.7" x2="425.7" y2="28.7" stroke="#8020a0" stroke-width="0.6"/>
<line x1="423.7" y1="39.8" x2="425.7" y2="39.8" stroke="#8020a0" stroke-width="0.6"/>
<path d="M424.7,32.8 L426.2,35.3 L423.3,35.3 Z" fill="#8020a0" stroke="#8020a0" stroke-width="0.6"/>
<line x1="435.5" y1="44.7" x2="435.5" y2="33.6" stroke="#8020a0" stroke-width="0.6"/>
<line x1="434.5" y1="33.6" x2="436.5" y2="33.6" stroke="#8020a0" stroke-width="0.6"/>
<line x1="434.5" y1="44.7" x2="436.5" y2="44.7" stroke="#8020a0" stroke-width="0.6"/>
<path d="M435.5,37.7 L436.9,40.2 L434.1,40.2 Z" fill="#8020a0" stroke="#8020a0" stroke-width="0.6"/>
<line x1="446.3" y1="56.9" x2="446.3" y2="50.6" stroke="#8020a0" stroke-width="0.6"/>
<line x1="445.3" y1="50.6" x2="447.3" y2="50.6" stroke="#8020a0" stroke-width="0.6"/>
<line x1="445.3" y1="56.9" x2="447.3" y2="56.9" stroke="#8020a0" stroke-width="0.6"/>
<path d="M446.3,52.3 L447.7,54.8 L444.9,54.8 Z" fill="#8020a0" stroke="#8020a0" stroke-width="0.6"/>
<line x1="457.1" y1="69.8" x2="457.1" y2="56.9" stroke="#8020a0" stroke-width="0.6"/>
<line x1="456.1" y1="56.9" x2="458.1" y2="56.9" stroke="#8020a0" stroke-width="0.6"/>
<line x1="456.1" y1="69.8" x2="458.1" y2="69.8" stroke="#8020a0" stroke-width="0.6"/>
<path d="M457.1,61.9 L458.5,64.4 L455.6,64.4 Z" fill="#8020a0" stroke="#8020a0" stroke-width="0.6"/>
<line x1="467.8" y1="83.4" x2="467.8" y2="72.1" stroke="#8020a0" stroke-width="0.6"/>
<line x1="466.8" y1="72.1" x2="468.8" y2="72.1" stroke="#8020a0" stroke-width="0.6"/>
<line x1="466.8" y1="83.4" x2="468.8" y2="83.4" stroke="#8020a0" stroke-width="0.6"/>
<path d="M467.8,76.3 L469.3,78.8 L466.4,78.8 Z" fill="#8020a0" stroke="#8020a0" stroke-width="0.6"/>
<line x1="478.6" y1="95.9" x2="478.6" y2="85.2" stroke="#8020a0" stroke-width="0.6"/>
<line x1="477.6" y1="85.2" x2="479.6" y2="85.2" stroke="#8020a0" stroke-width="0.6"/>
<line x1="477.6" y1="95.9" x2="479.6" y2="95.9" stroke="#8020a0" stroke-width="0.6"/>
<path d="M478.6,89.1 L480.0,91.6 L477.2,91.6 Z" fill="#8020a0" stroke="#8020a0" stroke-width="0.6"/>
<line x1="489.4" y1="110.2" x2="489.4" y2="101.4" stroke="#8020a0" stroke-width="0.6"/>
<line x1="488.4" y1="101.4" x2="490.4" y2="101.4" stroke="#8020a0" stroke-width="0.6"/>
<line x1="488.4" y1="110.2" x2="490.4" y2="110.2" stroke="#8020a0" stroke-width="0.6"/>
<path d="M489.4,104.4 L490.8,106.8 L487.9,106.8 Z" fill="#8020a0" stroke="#8020a0" stroke-width="0.6"/>
<line x1="500.1" y1="112.3" x2="500.1" y2="107.8" stroke="#8020a0" stroke-width="0.6"/>
<line x1="499.1" y1="107.8" x2="501.1" y2="107.8" stroke="#8020a0" stroke-width="0.6"/>
<line x1="499.1" y1="112.3" x2="501.1" y2="112.3" stroke="#8020a0" stroke-width="0.6"/>
<path d="M500.1,108.6 L501.6,111.1 L498.7,111.1 Z" fill="#8020a0" stroke="#8020a0" stroke-width="0.6"/>
<line x1="392.4" y1="32.3" x2="392.4" y2="25.6" stroke="#202020" stroke-width="0.6"/>
<line x1="391.4" y1="25.6" x2="393.4" y2="25.6" stroke="#202020" stroke-width="0.6"/>
<line x1="391.4" y1="32.3" x2="393.4" y2="32.3" stroke="#202020" stroke-width="0.6"/>
<path d="M392.4,27.5 L393.9,30.0 L391.0,30.0 Z" fill="#202020" stroke="#202020" stroke-width="0.6"/>
<line x1="403.2" y1="38.1" x2="403.2" y2="27.7" stroke="#202020" stroke-width="0.6"/>
<line x1="402.2" y1="27.7" x2="404.2" y2="27.7" stroke="#202020" stroke-width="0.6"/>
<line x1="402.2" y1="38.1" x2="404.2" y2="38.1" stroke="#202020" stroke-width="0.6"/>
<path d="M403.2,31.5 L404.6,33.9 L401.8,33.9 Z" fill="#202020" stroke="#202020" stroke-width="0.6"/>
<line x1="414.0" y1="40.0" x2="414.0" y2="31.8" stroke="#202020" stroke-width="0.6"/>
<line x1="413.0" y1="31.8" x2="415.0" y2="31.8" stroke="#202020" stroke-width="0.6"/>
<line x1="413.0" y1="40.0" x2="415.0" y2="40.0" stroke="#202020" stroke-width="0.6"/>
<path d="M414.0,34.4 L415.4,36.9 L412.5,36.9 Z" fill="#202020" stroke="#202020" stroke-width="0.6"/>
<line x1="424.7" y1="57.5" x2="424.7" y2="44.6" stroke="#202020" stroke-width="0.6"/>
<line x1="423.7" y1="44.6" x2="425.7" y2="44.6" stroke="#202020" stroke-width="0.6"/>
<line x1="423.7" y1="57.5" x2="425.7" y2="57.5" stroke="#202020" stroke-width="0.6"/>
<path d="M424.7,49.6 L426.2,52.1 L423.3,52.1 Z" fill="#202020" stroke="#202020" stroke-width="0.6"/>
<line x1="435.5" y1="71.9" x2="435.5" y2="64.4" stroke="#202020" stroke-width="0.6"/>
<line x1="434.5" y1="64.4" x2="436.5" y2="64.4" stroke="#202020" stroke-width="0.6"/>
<line x1="434.5" y1="71.9" x2="436.5" y2="71.9" stroke="#202020" stroke-width="0.6"/>
<path d="M435.5,66.8 L436.9,69.2 L434.1,69.2 Z" fill="#202020" stroke="#202020" stroke-width="0.6"/>
<line x1="446.3" y1="95.4" x2="446.3" y2="89.1" stroke="#202020" stroke-width="0.6"/>
<line x1="445.3" y1="89.1" x2="447.3" y2="89.1" stroke="#202020" stroke-width="0.6"/>
<line x1="445.3" y1="95.4" x2="447.3" y2="95.4" stroke="#202020" stroke-width="0.6"/>
<path d="M446.3,90.8 L447.7,93.3 L444.9,93.3 Z" fill="#202020" stroke="#202020" stroke-width="0.6"/>
<line x1="457.1" y1="107.6" x2="457.1" y2="101.5" stroke="#202020" stroke-width="0.6"/>
<line x1="456.1" y1="101.5" x2="458.1" y2="101.5" stroke="#202020" stroke-width="0.6"/>
<line x1="456.1" y1="107.6" x2="458.1" y2="107.6" stroke="#202020" stroke-width="0.6"/>
<path d="M457.1,103.1 L458.5,105.6 L455.6,105.6 Z" fill="#202020" stroke="#202020" stroke-width="0.6"/>
<line x1="467.8" y1="113.7" x2="467.8" y2="101.6" stroke="#202020" stroke-width="0.6"/>
<line x1="466.8" y1="101.6" x2="468.8" y2="101.6" stroke="#202020" stroke-width="0.6"/>
<line x1="466.8" y1="113.7" x2="468.8" y2="113.7" stroke="#202020" stroke-width="0.6"/>
<path d="M467.8,106.2 L469.3,108.7 L466.4,108.7 Z" fill="#202020" stroke="#202020" stroke-width="0.6"/>
<line x1="478.6" y1="113.9" x2="478.6" y2="105.4" stroke="#202020" stroke-width="0.6"/>
<line x1="477.6" y1="105.4" x2="479.6" y2="105.4" stroke="#202020" stroke-width="0.6"/>
<line x1="477.6" y1="113.9" x2="479.6" y2="113.9" stroke="#202020" stroke-width="0.6"/>
<path d="M478.6,108.2 L480.0,110.7 L477.2,110.7 Z" fill="#202020" stroke="#202020" stroke-width="0.6"/>
<line x1="489.4" y1="119.7" x2="489.4" y2="108.4" stroke="#202020" stroke-width="0.6"/>
<line x1="488.4" y1="108.4" x2="490.4" y2="108.4" stroke="#202020" stroke-width="0.6"/>
<line x1="488.4" y1="119.7" x2="490.4" y2="119.7" stroke="#202020" stroke-width="0.6"/>
<path d="M489.4,112.6 L490.8,115.1 L487.9,115.1 Z" fill="#202020" stroke="#202020" stroke-width="0.6"/>
<line x1="381.7" y1="33.5" x2="381.7" y2="23.5" stroke="#f8b0d0" stroke-width="0.6"/>
<line x1="380.7" y1="23.5" x2="382.7" y2="23.5" stroke="#f8b0d0" stroke-width="0.6"/>
<line x1="380.7" y1="33.5" x2="382.7" y2="33.5" stroke="#f8b0d0" stroke-width="0.6"/>
<path d="M381.7,29.9 L383.1,27.5 L380.2,27.5 Z" fill="#f8b0d0" stroke="#f8b0d0" stroke-width="0.6"/>
<line x1="392.4" y1="27.5" x2="392.4" y2="16.3" stroke="#f8b0d0" stroke-width="0.6"/>
<line x1="391.4" y1="16.3" x2="393.4" y2="16.3" stroke="#f8b0d0" stroke-width="0.6"/>
<line x1="391.4" y1="27.5" x2="393.4" y2="27.5" stroke="#f8b0d0" stroke-width="0.6"/>
<path d="M392.4,23.3 L393.9,20.9 L391.0,20.9 Z" fill="#f8b0d0" stroke="#f8b0d0" stroke-width="0.6"/>
<line x1="403.2" y1="31.6" x2="403.2" y2="23.1" stroke="#f8b0d0" stroke-width="0.6"/>
<line x1="402.2" y1="23.1" x2="404.2" y2="23.1" stroke="#f8b0d0" stroke-width="0.6"/>
<line x1="402.2" y1="31.6" x2="404.2" y2="31.6" stroke="#f8b0d0" stroke-width="0.6"/>
<path d="M403.2,28.8 L404.6,26.3 L401.8,26.3 Z" fill="#f8b0d0" stroke="#f8b0d0" stroke-width="0.6"/>
<line x1="414.0" y1="45.0" x2="414.0" y2="33.8" stroke="#f8b0d0" stroke-width="0.6"/>
<line x1="413.0" y1="33.8" x2="415.0" y2="33.8" stroke="#f8b0d0" stroke-width="0.6"/>
<line x1="413.0" y1="45.0" x2="415.0" y2="45.0" stroke="#f8b0d0" stroke-width="0.6"/>
<path d="M414.0,40.9 L415.4,38.4 L412.5,38.4 Z" fill="#f8b0d0" stroke="#f8b0d0" stroke-width="0.6"/>
<line x1="424.7" y1="51.9" x2="424.7" y2="40.6" stroke="#f8b0d0" stroke-width="0.6"/>
<line x1="423.7" y1="40.6" x2="425.7" y2="40.6" stroke="#f8b0d0" stroke-width="0.6"/>
<line x1="423.7" y1="51.9" x2="425.7" y2="51.9" stroke="#f8b0d0" stroke-width="0.6"/>
<path d="M424.7,47.6 L426.2,45.2 L423.3,45.2 Z" fill="#f8b0d0" stroke="#f8b0d0" stroke-width="0.6"/>
<line x1="435.5" y1="54.3" x2="435.5" y2="46.5" stroke="#f8b0d0" stroke-width="0.6"/>
<line x1="434.5" y1="46.5" x2="436.5" y2="46.5" stroke="#f8b0d0" stroke-width="0.6"/>
<line x1="434.5" y1="54.3" x2="436.5" y2="54.3" stroke="#f8b0d0" stroke-width="0.6"/>
<path d="M435.5,51.8 L436.9,49.4 L434.1,49.4 Z" fill="#f8b0d0" stroke="#f8b0d0" stroke-width="0.6"/>
<line x1="446.3" y1="75.7" x2="446.3" y2="63.2" stroke="#f8b0d0" stroke-width="0.6"/>
<line x1="445.3" y1="63.2" x2="447.3" y2="63.2" stroke="#f8b0d0" stroke-width="0.6"/>
<line x1="445.3" y1="75.7" x2="447.3" y2="75.7" stroke="#f8b0d0" stroke-width="0.6"/>
<path d="M446.3,70.9 L447.7,68.4 L444.9,68.4 Z" fill="#f8b0d0" stroke="#f8b0d0" stroke-width="0.6"/>
<line x1="457.1" y1="81.7" x2="457.1" y2="75.9" stroke="#f8b0d0" stroke-width="0.6"/>
<line x1="456.1" y1="75.9" x2="458.1" y2="75.9" stroke="#f8b0d0" stroke-width="0.6"/>
<line x1="456.1" y1="81.7" x2="458.1" y2="81.7" stroke="#f8b0d0" stroke-width="0.6"/>
<path d="M457.1,80.2 L458.5,77.7 L455.6,77.7 Z" fill="#f8b0d0" stroke="#f8b0d0" stroke-width="0.6"/>
<line x1="467.8" y1="99.2" x2="467.8" y2="93.6" stroke="#f8b0d0" stroke-width="0.6"/>
<line x1="466.8" y1="93.6" x2="468.8" y2="93.6" stroke="#f8b0d0" stroke-width="0.6"/>
<line x1="466.8" y1="99.2" x2="468.8" y2="99.2" stroke="#f8b0d0" stroke-width="0.6"/>
<path d="M467.8,97.8 L469.3,95.3 L466.4,95.3 Z" fill="#f8b0d0" stroke="#f8b0d0" stroke-width="0.6"/>
<line x1="478.6" y1="102.1" x2="478.6" y2="90.7" stroke="#f8b0d0" stroke-width="0.6"/>
<line x1="477.6" y1="90.7" x2="479.6" y2="90.7" stroke="#f8b0d0" stroke-width="0.6"/>
<line x1="477.6" y1="102.1" x2="479.6" y2="102.1" stroke="#f8b0d0" stroke-width="0.6"/>
<path d="M478.6,97.8 L480.0,95.4 L477.2,95.4 Z" fill="#f8b0d0" stroke="#f8b0d0" stroke-width="0.6"/>
<line x1="489.4" y1="116.2" x2="489.4" y2="104.7" stroke="#f8b0d0" stroke-width="0.6"/>
<line x1="488.4" y1="104.7" x2="490.4" y2="104.7" stroke="#f8b0d0" stroke-width="0.6"/>
<line x1="488.4" y1="116.2" x2="490.4" y2="116.2" stroke="#f8b0d0" stroke-width="0.6"/>
<path d="M489.4,111.9 L490.8,109.4 L487.9,109.4 Z" fill="#f8b0d0" stroke="#f8b0d0" stroke-width="0.6"/>
<line x1="500.1" y1="110.2" x2="500.1" y2="100.2" stroke="#f8b0d0" stroke-width="0.6"/>
<line x1="499.1" y1="100.2" x2="501.1" y2="100.2" stroke="#f8b0d0" stroke-width="0.6"/>
<line x1="499.1" y1="110.2" x2="501.1" y2="110.2" stroke="#f8b0d0" stroke-width="0.6"/>
<path d="M500.1,106.6 L501.6,104.2 L498.7,104.2 Z" fill="#f8b0d0" stroke="#f8b0d0" stroke-width="0.6"/>
<line x1="378.1" y1="37.3" x2="378.1" y2="28.2" stroke="#6a2a6a" stroke-width="0.6"/>
<line x1="377.1" y1="28.2" x2="379.1" y2="28.2" stroke="#6a2a6a" stroke-width="0.6"/>
<line x1="377.1" y1="37.3" x2="379.1" y2="37.3" stroke="#6a2a6a" stroke-width="0.6"/>
<path d="M378.1,34.2 L379.5,31.7 L376.6,31.7 Z" fill="#6a2a6a" stroke="#6a2a6a" stroke-width="0.6"/>
<line x1="388.8" y1="43.7" x2="388.8" y2="39.2" stroke="#6a2a6a" stroke-width="0.6"/>
<line x1="387.8" y1="39.2" x2="389.8" y2="39.2" stroke="#6a2a6a" stroke-width="0.6"/>
<line x1="387.8" y1="43.7" x2="389.8" y2="43.7" stroke="#6a2a6a" stroke-width="0.6"/>
<path d="M388.8,42.9 L390.3,40.4 L387.4,40.4 Z" fill="#6a2a6a" stroke="#6a2a6a" stroke-width="0.6"/>
<line x1="399.6" y1="45.5" x2="399.6" y2="35.6" stroke="#6a2a6a" stroke-width="0.6"/>
<line x1="398.6" y1="35.6" x2="400.6" y2="35.6" stroke="#6a2a6a" stroke-width="0.6"/>
<line x1="398.6" y1="45.5" x2="400.6" y2="45.5" stroke="#6a2a6a" stroke-width="0.6"/>
<path d="M399.6,42.0 L401.0,39.5 L398.2,39.5 Z" fill="#6a2a6a" stroke="#6a2a6a" stroke-width="0.6"/>
<line x1="410.4" y1="61.7" x2="410.4" y2="49.2" stroke="#6a2a6a" stroke-width="0.6"/>
<line x1="409.4" y1="49.2" x2="411.4" y2="49.2" stroke="#6a2a6a" stroke-width="0.6"/>
<line x1="409.4" y1="61.7" x2="411.4" y2="61.7" stroke="#6a2a6a" stroke-width="0.6"/>
<path d="M410.4,56.9 L411.8,54.4 L409.0,54.4 Z" fill="#6a2a6a" stroke="#6a2a6a" stroke-width="0.6"/>
<line x1="421.2" y1="73.6" x2="421.2" y2="61.8" stroke="#6a2a6a" stroke-width="0.6"/>
<line x1="420.2" y1="61.8" x2="422.2" y2="61.8" stroke="#6a2a6a" stroke-width="0.6"/>
<line x1="420.2" y1="73.6" x2="422.2" y2="73.6" stroke="#6a2a6a" stroke-width="0.6"/>
<path d="M421.2,69.1 L422.6,66.7 L419.7,66.7 Z" fill="#6a2a6a" stroke="#6a2a6a" stroke-width="0.6"/>
<line x1="431.9" y1="78.0" x2="431.9" y2="71.8" stroke="#6a2a6a" stroke-width="0.6"/>
<line x1="430.9" y1="71.8" x2="432.9" y2="71.8" stroke="#6a2a6a" stroke-width="0.6"/>
<line x1="430.9" y1="78.0" x2="432.9" y2="78.0" stroke="#6a2a6a" stroke-width="0.6"/>
<path d="M431.9,76.3 L433.4,73.9 L430.5,73.9 Z" fill="#6a2a6a" stroke="#6a2a6a" stroke-width="0.6"/>
<line x1="442.7" y1="95.1" x2="442.7" y2="88.2" stroke="#6a2a6a" stroke-width="0.6"/>
<line x1="441.7" y1="88.2" x2="443.7" y2="88.2" stroke="#6a2a6a" stroke-width="0.6"/>
<line x1="441.7" y1="95.1" x2="443.7" y2="95.1" stroke="#6a2a6a" stroke-width="0.6"/>
<path d="M442.7,93.1 L444.1,90.6 L441.3,90.6 Z" fill="#6a2a6a" stroke="#6a2a6a" stroke-width="0.6"/>
<line x1="453.5" y1="105.4" x2="453.5" y2="96.0" stroke="#6a2a6a" stroke-width="0.6"/>
<line x1="452.5" y1="96.0" x2="454.5" y2="96.0" stroke="#6a2a6a" stroke-width="0.6"/>
<line x1="452.5" y1="105.4" x2="454.5" y2="105.4" stroke="#6a2a6a" stroke-width="0.6"/>
<path d="M453.5,102.1 L454.9,99.6 L452.0,99.6 Z" fill="#6a2a6a" stroke="#6a2a6a" stroke-width="0.6"/>
<line x1="464.2" y1="111.4" x2="464.2" y2="103.4" stroke="#6a2a6a" stroke-width="0.6"/>
<line x1="463.2" y1="103.4" x2="465.2" y2="103.4" stroke="#6a2a6a" stroke-width="0.6"/>
<line x1="463.2" y1="111.4" x2="465.2" y2="111.4" stroke="#6a2a6a" stroke-width="0.6"/>
<path d="M464.2,108.8 L465.7,106.3 L462.8,106.3 Z" fill="#6a2a6a" stroke="#6a2a6a" stroke-width="0.6"/>
<line x1="475.0" y1="120.0" x2="475.0" y2="107.7" stroke="#6a2a6a" stroke-width="0.6"/>
<line x1="474.0" y1="107.7" x2="476.0" y2="107.7" stroke="#6a2a6a" stroke-width="0.6"/>
<line x1="474.0" y1="120.0" x2="476.0" y2="120.0" stroke="#6a2a6a" stroke-width="0.6"/>
<path d="M475.0,115.3 L476.4,112.8 L473.6,112.8 Z" fill="#6a2a6a" stroke="#6a2a6a" stroke-width="0.6"/>
<line x1="485.8" y1="119.1" x2="485.8" y2="110.8" stroke="#6a2a6a" stroke-width="0.6"/>
<line x1="484.8" y1="110.8" x2="486.8" y2="110.8" stroke="#6a2a6a" stroke-width="0.6"/>
<line x1="484.8" y1="119.1" x2="486.8" y2="119.1" stroke="#6a2a6a" stroke-width="0.6"/>
<path d="M485.8,116.4 L487.2,114.0 L484.3,114.0 Z" fill="#6a2a6a" stroke="#6a2a6a" stroke-width="0.6"/>
<line x1="555.1" y1="10.9" x2="561.5" y2="10.9" stroke="#a23cb4" stroke-width="0.7"/>
<rect x="557.0" y="9.6" width="2.6" height="2.6" fill="white" stroke="#a23cb4" stroke-width="0.6"/>
<text x="565.0" y="12.9" font-size="5.45" text-anchor="start" fill="#231f20" textLength="45.1" lengthAdjust="spacingAndGlyphs" stroke="#231f20" stroke-width="0.05">SM-AZE-PTX alone</text>
<line x1="555.1" y1="20.9" x2="561.5" y2="20.9" stroke="#f07070" stroke-width="0.7"/>
<circle cx="558.3" cy="20.9" r="1.3" fill="white" stroke="#f07070" stroke-width="0.6"/>
<text x="565.0" y="22.9" font-size="5.45" text-anchor="start" fill="#231f20" textLength="25.7" lengthAdjust="spacingAndGlyphs" stroke="#231f20" stroke-width="0.05">GEM alone</text>
<line x1="555.1" y1="30.9" x2="561.5" y2="30.9" stroke="#60a8f0" stroke-width="0.7"/>
<path d="M557.0,30.9 L559.6,30.9 M558.3,29.6 L558.3,32.2" fill="none" stroke="#60a8f0" stroke-width="0.9"/>
<text x="565.0" y="32.9" font-size="5.45" text-anchor="start" fill="#231f20" textLength="93.1" lengthAdjust="spacingAndGlyphs" stroke="#231f20" stroke-width="0.05">SM-AZE-PTX/GEM = 2:1 (SM-AZE-PTX)</text>
<line x1="555.1" y1="40.9" x2="561.5" y2="40.9" stroke="#c030e0" stroke-width="0.7"/>
<path d="M557.0,39.6 L559.6,42.2 M559.6,39.6 L557.0,42.2" fill="none" stroke="#c030e0" stroke-width="0.9"/>
<text x="565.0" y="42.9" font-size="5.45" text-anchor="start" fill="#231f20" textLength="93.1" lengthAdjust="spacingAndGlyphs" stroke="#231f20" stroke-width="0.05">SM-AZE-PTX/GEM = 4:1 (SM-AZE-PTX)</text>
<line x1="555.1" y1="50.9" x2="561.5" y2="50.9" stroke="#f8c0d8" stroke-width="0.7"/>
<circle cx="558.3" cy="50.9" r="1.3" fill="#f8c0d8" stroke="#f8c0d8" stroke-width="0.6"/>
<text x="565.0" y="52.9" font-size="5.45" text-anchor="start" fill="#231f20" textLength="93.1" lengthAdjust="spacingAndGlyphs" stroke="#231f20" stroke-width="0.05">SM-AZE-PTX/GEM = 8:1 (SM-AZE-PTX)</text>
<line x1="555.1" y1="60.9" x2="561.5" y2="60.9" stroke="#40e040" stroke-width="0.7"/>
<rect x="557.0" y="59.6" width="2.6" height="2.6" fill="white" stroke="#40e040" stroke-width="0.6"/>
<rect x="557.0" y="60.9" width="2.6" height="1.3" fill="#40e040"/>
<text x="565.0" y="62.9" font-size="5.45" text-anchor="start" fill="#231f20" textLength="96.0" lengthAdjust="spacingAndGlyphs" stroke="#231f20" stroke-width="0.05">SM-AZE-PTX/GEM = 16:1 (SM-AZE-PTX)</text>
<line x1="555.1" y1="70.9" x2="561.5" y2="70.9" stroke="#9040b0" stroke-width="0.7"/>
<circle cx="558.3" cy="70.9" r="1.3" fill="#9040b0" stroke="#9040b0" stroke-width="0.6"/>
<text x="565.0" y="72.9" font-size="5.45" text-anchor="start" fill="#231f20" textLength="96.0" lengthAdjust="spacingAndGlyphs" stroke="#231f20" stroke-width="0.05">SM-AZE-PTX/GEM = 20:1 (SM-AZE-PTX)</text>
<line x1="555.1" y1="80.9" x2="561.5" y2="80.9" stroke="#f040f0" stroke-width="0.7"/>
<circle cx="558.3" cy="80.9" r="1.3" fill="white" stroke="#f040f0" stroke-width="0.6"/>
<path d="M558.3,79.6 A1.3,1.3 0 0 0 558.3,82.2 Z" fill="#f040f0" stroke="none" stroke-width="0.6"/>
<text x="565.0" y="82.9" font-size="5.45" text-anchor="start" fill="#231f20" textLength="73.7" lengthAdjust="spacingAndGlyphs" stroke="#231f20" stroke-width="0.05">SM-AZE-PTX/GEM = 2:1 (GEM)</text>
<line x1="555.1" y1="90.9" x2="561.5" y2="90.9" stroke="#8020a0" stroke-width="0.7"/>
<path d="M558.3,89.5 L559.7,91.9 L556.9,91.9 Z" fill="#8020a0" stroke="#8020a0" stroke-width="0.6"/>
<text x="565.0" y="92.9" font-size="5.45" text-anchor="start" fill="#231f20" textLength="73.7" lengthAdjust="spacingAndGlyphs" stroke="#231f20" stroke-width="0.05">SM-AZE-PTX/GEM = 4:1 (GEM)</text>
<line x1="555.1" y1="100.9" x2="561.5" y2="100.9" stroke="#202020" stroke-width="0.7"/>
<path d="M558.3,99.5 L559.7,101.9 L556.9,101.9 Z" fill="#202020" stroke="#202020" stroke-width="0.6"/>
<text x="565.0" y="102.9" font-size="5.45" text-anchor="start" fill="#231f20" textLength="73.7" lengthAdjust="spacingAndGlyphs" stroke="#231f20" stroke-width="0.05">SM-AZE-PTX/GEM = 8:1 (GEM)</text>
<line x1="555.1" y1="110.9" x2="561.5" y2="110.9" stroke="#f8b0d0" stroke-width="0.7"/>
<path d="M558.3,112.3 L559.7,109.9 L556.9,109.9 Z" fill="#f8b0d0" stroke="#f8b0d0" stroke-width="0.6"/>
<text x="565.0" y="112.9" font-size="5.45" text-anchor="start" fill="#231f20" textLength="76.6" lengthAdjust="spacingAndGlyphs" stroke="#231f20" stroke-width="0.05">SM-AZE-PTX/GEM = 16:1 (GEM)</text>
<line x1="555.1" y1="120.9" x2="561.5" y2="120.9" stroke="#6a2a6a" stroke-width="0.7"/>
<path d="M558.3,122.3 L559.7,119.9 L556.9,119.9 Z" fill="#6a2a6a" stroke="#6a2a6a" stroke-width="0.6"/>
<text x="565.0" y="122.9" font-size="5.45" text-anchor="start" fill="#231f20" textLength="76.6" lengthAdjust="spacingAndGlyphs" stroke="#231f20" stroke-width="0.05">SM-AZE-PTX/GEM = 20:1 (GEM)</text>
<text x="347.6" y="66.0" font-size="7.14" text-anchor="middle" fill="#231f20" transform="rotate(-90 347.6 66.0)" textLength="54.1" lengthAdjust="spacingAndGlyphs" stroke="#231f20" stroke-width="0.1">Cell viability (%)</text>
<text x="457.0" y="146.0" font-size="7.14" text-anchor="middle" fill="#231f20" textLength="78.3" lengthAdjust="spacingAndGlyphs" stroke="#231f20" stroke-width="0.1">Log concentration (μM)</text>
<text x="0.2" y="172.8" font-size="12" font-weight="bold" fill="#000" stroke="#000" stroke-width="0.35">b</text>
<line x1="43.7" y1="211.9" x2="43.7" y2="219.1" stroke="#231f20" stroke-width="0.75"/>
<line x1="43.7" y1="219.1" x2="38.3" y2="222.9" stroke="#231f20" stroke-width="0.75"/>
<line x1="35.7" y1="222.9" x2="31.3" y2="219.5" stroke="#231f20" stroke-width="0.75"/>
<line x1="31.3" y1="219.5" x2="31.3" y2="212.9" stroke="#231f20" stroke-width="0.75"/>
<line x1="31.3" y1="212.9" x2="37.0" y2="209.1" stroke="#231f20" stroke-width="0.75"/>
<line x1="37.0" y1="209.1" x2="42.1" y2="211.2" stroke="#231f20" stroke-width="0.75"/>
<line x1="32.8" y1="213.8" x2="37.0" y2="211.2" stroke="#231f20" stroke-width="0.75"/>
<line x1="44.8" y1="219.9" x2="48.4" y2="222.6" stroke="#231f20" stroke-width="0.75"/>
<line x1="44.0" y1="221.0" x2="47.6" y2="223.7" stroke="#231f20" stroke-width="0.75"/>
<line x1="31.3" y1="219.5" x2="26.2" y2="222.6" stroke="#231f20" stroke-width="0.75"/>
<line x1="50.9" y1="210.4" x2="55.4" y2="212.5" stroke="#231f20" stroke-width="0.75"/>
<line x1="58.6" y1="212.5" x2="61.7" y2="207.2" stroke="#231f20" stroke-width="0.75"/>
<line x1="61.7" y1="207.2" x2="58.8" y2="200.5" stroke="#231f20" stroke-width="0.75"/>
<line x1="58.8" y1="200.5" x2="51.2" y2="202.4" stroke="#231f20" stroke-width="0.75"/>
<line x1="51.2" y1="202.4" x2="50.3" y2="210.0" stroke="#231f20" stroke-width="0.75"/>
<line x1="51.2" y1="202.4" x2="49.0" y2="196.4" stroke="#231f20" stroke-width="0.75"/>
<line x1="51.2" y1="202.4" x2="46.3" y2="200.5" stroke="#231f20" stroke-width="0.75"/>
<line x1="58.8" y1="200.5" x2="60.4" y2="195.6" stroke="#231f20" stroke-width="0.75"/>
<line x1="61.7" y1="207.2" x2="68.7" y2="205.3" stroke="#231f20" stroke-width="0.75"/>
<line x1="68.7" y1="205.3" x2="72.5" y2="202.1" stroke="#231f20" stroke-width="0.75"/>
<path d="M45.5,211.6 L50.5,209.3 L50.5,211.1 Z" fill="#231f20" stroke="none" stroke-width="0.6"/>
<text x="47.4" y="195.2" font-size="6.0" fill="#231f20">F</text>
<text x="42.5" y="201.7" font-size="6.0" fill="#231f20">F</text>
<text x="61.1" y="194.9" font-size="6.0" fill="#231f20">OH</text>
<text x="55.8" y="214.2" font-size="6.0" fill="#231f20">O</text>
<text x="73.3" y="202.4" font-size="6.0" fill="#231f20">OH</text>
<text x="42.1" y="213.5" font-size="6.0" fill="#231f20">N</text>
<text x="35.3" y="226.0" font-size="6.0" fill="#231f20">N</text>
<text x="48.2" y="226.0" font-size="6.0" fill="#231f20">O</text>
<text x="13.3" y="220.5" font-size="6.0" fill="#231f20">Cl</text>
<text x="15.2" y="227.1" font-size="6.0" fill="#231f20">H<tspan font-size="4" baseline-shift="-25%">3</tspan>N</text>
<text x="19.0" y="217.6" font-size="4.5" fill="#231f20">−</text>
<text x="22.4" y="221.4" font-size="4.5" fill="#231f20">+</text>
<text x="51.8" y="241.0" font-size="6.96" text-anchor="middle" fill="#231f20" textLength="65.5" lengthAdjust="spacingAndGlyphs" stroke="#231f20" stroke-width="0.1">Gemcitabine (GEM)</text>
<path d="M75.2,194.2 C77.5,185.5 88.5,183.5 92.0,190.0" fill="none" stroke="#7a2fb0" stroke-width="1.5"/>
<path d="M89.8,189.2 L94.2,187.6 L93.2,193.0 Z" fill="#7a2fb0" stroke="none" stroke-width="0.6"/>
<text x="120.0" y="173.0" font-size="12" font-weight="bold" fill="#000" stroke="#000" stroke-width="0.35">c</text>
<rect x="131.2" y="169.8" width="52.5" height="89.9" fill="#a9a9a9"/>
<g clip-path="url(#emclip)">
<circle cx="147.2" cy="184.5" r="7.9" fill="#8e8e8e" stroke="#3c3c3c" stroke-width="0.9"/>
<circle cx="167.6" cy="180.9" r="9.8" fill="#8e8e8e" stroke="#3c3c3c" stroke-width="0.9"/>
<circle cx="142.4" cy="209.0" r="9.6" fill="#8e8e8e" stroke="#3c3c3c" stroke-width="0.9"/>
<circle cx="162.6" cy="204.6" r="7.6" fill="#8e8e8e" stroke="#3c3c3c" stroke-width="0.9"/>
<circle cx="178.4" cy="206.8" r="4.3" fill="#8e8e8e" stroke="#3c3c3c" stroke-width="0.9"/>
<circle cx="182.3" cy="193.1" r="3.9" fill="#8e8e8e" stroke="#3c3c3c" stroke-width="0.9"/>
<circle cx="151.0" cy="229.8" r="9.8" fill="#8e8e8e" stroke="#3c3c3c" stroke-width="0.9"/>
<circle cx="171.6" cy="223.4" r="8.4" fill="#8e8e8e" stroke="#3c3c3c" stroke-width="0.9"/>
<circle cx="135.9" cy="227.7" r="4.3" fill="#8e8e8e" stroke="#3c3c3c" stroke-width="0.9"/>
<circle cx="142.0" cy="246.4" r="7.2" fill="#8e8e8e" stroke="#3c3c3c" stroke-width="0.9"/>
<circle cx="163.3" cy="250.0" r="9.4" fill="#8e8e8e" stroke="#3c3c3c" stroke-width="0.9"/>
<circle cx="184.5" cy="240.0" r="6.5" fill="#8e8e8e" stroke="#3c3c3c" stroke-width="0.9"/>
<circle cx="143.8" cy="168.5" r="8.0" fill="#8e8e8e" stroke="#3c3c3c" stroke-width="0.9"/>
<circle cx="181.6" cy="170.5" r="4.5" fill="#8e8e8e" stroke="#3c3c3c" stroke-width="0.9"/>
<circle cx="131.5" cy="184.0" r="3.5" fill="#8e8e8e" stroke="#3c3c3c" stroke-width="0.9"/>
<circle cx="147.4" cy="262.4" r="6.0" fill="#8e8e8e" stroke="#3c3c3c" stroke-width="0.9"/>
<circle cx="180.0" cy="259.0" r="3.0" fill="#8e8e8e" stroke="#3c3c3c" stroke-width="0.9"/>
</g>
<line x1="133.0" y1="235.6" x2="133.0" y2="258.0" stroke="#ffffff" stroke-width="1.1"/>
<rect x="131.6" y="198.2" width="22.0" height="22.0" fill="none" stroke="#d03030" stroke-width="0.6"/>
<line x1="115.2" y1="196.0" x2="131.6" y2="198.2" stroke="#d03030" stroke-width="0.6" stroke-dasharray="1.2,0.8"/>
<line x1="115.2" y1="230.0" x2="131.6" y2="220.2" stroke="#d03030" stroke-width="0.6" stroke-dasharray="1.2,0.8"/>
<rect x="81.2" y="195.8" width="34.0" height="34.2" fill="#a5a5a5"/>
<circle cx="97.7" cy="212.9" r="15.6" fill="#8a8a8a" stroke="#333" stroke-width="1.3"/>
<text x="196.2" y="173.1" font-size="12" font-weight="bold" fill="#000" stroke="#000" stroke-width="0.35">d</text>
<line x1="219.4" y1="174.5" x2="219.4" y2="250.3" stroke="#231f20" stroke-width="0.6"/>
<line x1="217.4" y1="250.3" x2="219.4" y2="250.3" stroke="#231f20" stroke-width="0.6"/>
<text x="215.8" y="252.9" font-size="6.86" text-anchor="end" fill="#231f20" textLength="4.1" lengthAdjust="spacingAndGlyphs" stroke="#231f20" stroke-width="0.1">0</text>
<line x1="217.4" y1="225.3" x2="219.4" y2="225.3" stroke="#231f20" stroke-width="0.6"/>
<text x="215.8" y="227.9" font-size="6.86" text-anchor="end" fill="#231f20" textLength="4.1" lengthAdjust="spacingAndGlyphs" stroke="#231f20" stroke-width="0.1">5</text>
<line x1="217.4" y1="200.3" x2="219.4" y2="200.3" stroke="#231f20" stroke-width="0.6"/>
<text x="215.8" y="202.9" font-size="6.86" text-anchor="end" fill="#231f20" textLength="8.1" lengthAdjust="spacingAndGlyphs" stroke="#231f20" stroke-width="0.1">10</text>
<line x1="217.4" y1="175.3" x2="219.4" y2="175.3" stroke="#231f20" stroke-width="0.6"/>
<text x="215.8" y="177.9" font-size="6.86" text-anchor="end" fill="#231f20" textLength="8.1" lengthAdjust="spacingAndGlyphs" stroke="#231f20" stroke-width="0.1">15</text>
<line x1="219.4" y1="250.3" x2="332.1" y2="250.3" stroke="#231f20" stroke-width="0.6"/>
<line x1="219.4" y1="250.3" x2="219.4" y2="252.3" stroke="#231f20" stroke-width="0.6"/>
<text x="219.4" y="259.9" font-size="6.86" text-anchor="middle" fill="#231f20" textLength="10.1" lengthAdjust="spacingAndGlyphs" stroke="#231f20" stroke-width="0.1">0.1</text>
<line x1="241.9" y1="250.3" x2="241.9" y2="252.3" stroke="#231f20" stroke-width="0.6"/>
<text x="241.9" y="259.9" font-size="6.86" text-anchor="middle" fill="#231f20" textLength="4.1" lengthAdjust="spacingAndGlyphs" stroke="#231f20" stroke-width="0.1">1</text>
<line x1="264.5" y1="250.3" x2="264.5" y2="252.3" stroke="#231f20" stroke-width="0.6"/>
<text x="264.5" y="259.9" font-size="6.86" text-anchor="middle" fill="#231f20" textLength="8.1" lengthAdjust="spacingAndGlyphs" stroke="#231f20" stroke-width="0.1">10</text>
<line x1="287.0" y1="250.3" x2="287.0" y2="252.3" stroke="#231f20" stroke-width="0.6"/>
<text x="287.0" y="259.9" font-size="6.86" text-anchor="middle" fill="#231f20" textLength="12.2" lengthAdjust="spacingAndGlyphs" stroke="#231f20" stroke-width="0.1">100</text>
<line x1="309.6" y1="250.3" x2="309.6" y2="252.3" stroke="#231f20" stroke-width="0.6"/>
<text x="309.6" y="259.9" font-size="6.86" text-anchor="middle" fill="#231f20" textLength="18.3" lengthAdjust="spacingAndGlyphs" stroke="#231f20" stroke-width="0.1">1,000</text>
<line x1="332.1" y1="250.3" x2="332.1" y2="252.3" stroke="#231f20" stroke-width="0.6"/>
<text x="332.1" y="259.9" font-size="6.86" text-anchor="middle" fill="#231f20" textLength="22.3" lengthAdjust="spacingAndGlyphs" stroke="#231f20" stroke-width="0.1">10,000</text>
<text x="202.9" y="212.7" font-size="6.96" text-anchor="middle" fill="#231f20" transform="rotate(-90 202.9 212.7)" textLength="41.1" lengthAdjust="spacingAndGlyphs" stroke="#231f20" stroke-width="0.1">Intensity (%)</text>
<text x="276.0" y="272.0" font-size="6.96" text-anchor="middle" fill="#231f20" textLength="37.8" lengthAdjust="spacingAndGlyphs" stroke="#231f20" stroke-width="0.1">Size (d.nm)</text>
<path d="M232.9,250.3 L233.5,250.3 L234.2,250.3 L234.8,250.3 L235.4,250.3 L236.0,250.3 L236.6,250.3 L237.3,250.3 L237.9,250.3 L238.5,250.3 L239.1,250.3 L239.7,250.3 L240.4,250.3 L241.0,250.3 L241.6,250.3 L242.2,250.3 L242.8,250.3 L243.5,250.3 L244.1,250.3 L244.7,250.3 L245.3,250.3 L245.9,250.3 L246.6,250.3 L247.2,250.3 L247.8,250.3 L248.4,250.3 L249.0,250.3 L249.7,250.3 L250.3,250.3 L250.9,250.3 L251.5,250.3 L252.1,250.3 L252.8,250.3 L253.4,250.3 L254.0,250.3 L254.6,250.3 L255.2,250.3 L255.9,250.3 L256.5,250.3 L257.1,250.3 L257.7,250.3 L258.3,250.3 L259.0,250.3 L259.6,250.3 L260.2,250.3 L260.8,250.3 L261.4,250.3 L262.1,250.3 L262.7,250.3 L263.3,250.3 L263.9,250.3 L264.5,250.3 L265.2,250.3 L265.8,250.3 L266.4,250.3 L267.0,250.3 L267.6,250.3 L268.3,250.3 L268.9,250.3 L269.5,250.3 L270.1,250.3 L270.7,250.3 L271.4,250.2 L272.0,250.2 L272.6,250.1 L273.2,250.0 L273.8,249.8 L274.5,249.4 L275.1,249.0 L275.7,248.3 L276.3,247.3 L276.9,246.0 L277.6,244.2 L278.2,242.0 L278.8,239.2 L279.4,235.8 L280.0,231.9 L280.7,227.4 L281.3,222.6 L281.9,217.6 L282.5,212.6 L283.1,207.9 L283.8,203.8 L284.4,200.5 L285.0,198.3 L285.6,197.3 L286.2,197.7 L286.9,199.3 L287.5,202.0 L288.1,205.7 L288.7,210.2 L289.3,215.0 L290.0,220.1 L290.6,225.0 L291.2,229.7 L291.8,233.9 L292.4,237.6 L293.0,240.7 L293.7,243.2 L294.3,245.2 L294.9,246.7 L295.5,247.8 L296.1,248.6 L296.8,249.2 L297.4,249.6 L298.0,249.9 L298.6,250.0 L299.2,250.1 L299.9,250.2 L300.5,250.2 L301.1,250.3 L301.7,250.3 L302.3,250.3 L303.0,250.3 L303.6,250.3 L304.2,250.3 L304.8,250.3 L305.4,250.3 L306.1,250.3 L306.7,250.3 L307.3,250.3 L307.9,250.3 L308.5,250.3 L309.2,250.3 L309.8,250.3 L310.4,250.3 L311.0,250.3 L311.6,250.3 L312.3,250.3 L312.9,250.3 L313.5,250.3 L314.1,250.3 L314.7,250.3 L315.4,250.3 L316.0,250.3 L316.6,250.3 L317.2,250.3 L317.8,250.3 L318.5,250.3 L319.1,250.3 L319.7,250.3 L320.3,250.3 L320.9,250.3 L321.6,250.3 L322.2,250.3 L322.8,250.3 L323.4,250.3 L324.0,250.3 L324.7,250.3 L325.3,250.3 L325.9,250.3 L326.5,250.3 L327.1,250.3 L327.8,250.3 L328.4,250.3 L329.0,250.3 L329.6,250.3 L330.2,250.3 L330.9,250.3 L331.5,250.3 L332.1,250.3" fill="none" stroke="#333" stroke-width="0.8"/>
<path d="M232.9,250.3 L233.5,250.3 L234.2,250.3 L234.8,250.3 L235.4,250.3 L236.0,250.3 L236.6,250.3 L237.3,250.3 L237.9,250.3 L238.5,250.3 L239.1,250.3 L239.7,250.3 L240.4,250.3 L241.0,250.3 L241.6,250.3 L242.2,250.3 L242.8,250.3 L243.5,250.3 L244.1,250.3 L244.7,250.3 L245.3,250.3 L245.9,250.3 L246.6,250.3 L247.2,250.3 L247.8,250.3 L248.4,250.3 L249.0,250.3 L249.7,250.3 L250.3,250.3 L250.9,250.3 L251.5,250.3 L252.1,250.3 L252.8,250.3 L253.4,250.3 L254.0,250.3 L254.6,250.3 L255.2,250.3 L255.9,250.3 L256.5,250.3 L257.1,250.3 L257.7,250.3 L258.3,250.3 L259.0,250.3 L259.6,250.3 L260.2,250.3 L260.8,250.3 L261.4,250.3 L262.1,250.3 L262.7,250.3 L263.3,250.3 L263.9,250.3 L264.5,250.3 L265.2,250.3 L265.8,250.3 L266.4,250.3 L267.0,250.3 L267.6,250.3 L268.3,250.3 L268.9,250.3 L269.5,250.3 L270.1,250.3 L270.7,250.3 L271.4,250.3 L272.0,250.3 L272.6,250.3 L273.2,250.3 L273.8,250.3 L274.5,250.2 L275.1,250.2 L275.7,250.1 L276.3,249.9 L276.9,249.7 L277.6,249.3 L278.2,248.7 L278.8,247.8 L279.4,246.6 L280.0,244.9 L280.7,242.6 L281.3,239.7 L281.9,236.1 L282.5,231.8 L283.1,226.8 L283.8,221.3 L284.4,215.5 L285.0,209.7 L285.6,204.2 L286.2,199.4 L286.9,195.6 L287.5,193.2 L288.1,192.3 L288.7,193.0 L289.3,195.2 L290.0,198.9 L290.6,203.5 L291.2,209.0 L291.8,214.8 L292.4,220.6 L293.0,226.1 L293.7,231.2 L294.3,235.6 L294.9,239.3 L295.5,242.3 L296.1,244.6 L296.8,246.4 L297.4,247.7 L298.0,248.6 L298.6,249.2 L299.2,249.6 L299.9,249.9 L300.5,250.1 L301.1,250.2 L301.7,250.2 L302.3,250.3 L303.0,250.3 L303.6,250.3 L304.2,250.3 L304.8,250.3 L305.4,250.3 L306.1,250.3 L306.7,250.3 L307.3,250.3 L307.9,250.3 L308.5,250.3 L309.2,250.3 L309.8,250.3 L310.4,250.3 L311.0,250.3 L311.6,250.3 L312.3,250.3 L312.9,250.3 L313.5,250.3 L314.1,250.3 L314.7,250.3 L315.4,250.3 L316.0,250.3 L316.6,250.3 L317.2,250.3 L317.8,250.3 L318.5,250.3 L319.1,250.3 L319.7,250.3 L320.3,250.3 L320.9,250.3 L321.6,250.3 L322.2,250.3 L322.8,250.3 L323.4,250.3 L324.0,250.3 L324.7,250.3 L325.3,250.3 L325.9,250.3 L326.5,250.3 L327.1,250.3 L327.8,250.3 L328.4,250.3 L329.0,250.3 L329.6,250.3 L330.2,250.3 L330.9,250.3 L331.5,250.3 L332.1,250.3" fill="none" stroke="#6060f0" stroke-width="0.8"/>
<path d="M232.9,250.3 L233.5,250.3 L234.2,250.3 L234.8,250.3 L235.4,250.3 L236.0,250.3 L236.6,250.3 L237.3,250.3 L237.9,250.3 L238.5,250.3 L239.1,250.3 L239.7,250.3 L240.4,250.3 L241.0,250.3 L241.6,250.3 L242.2,250.3 L242.8,250.3 L243.5,250.3 L244.1,250.3 L244.7,250.3 L245.3,250.3 L245.9,250.3 L246.6,250.3 L247.2,250.3 L247.8,250.3 L248.4,250.3 L249.0,250.3 L249.7,250.3 L250.3,250.3 L250.9,250.3 L251.5,250.3 L252.1,250.3 L252.8,250.3 L253.4,250.3 L254.0,250.3 L254.6,250.3 L255.2,250.3 L255.9,250.3 L256.5,250.3 L257.1,250.3 L257.7,250.3 L258.3,250.3 L259.0,250.3 L259.6,250.3 L260.2,250.3 L260.8,250.3 L261.4,250.3 L262.1,250.3 L262.7,250.3 L263.3,250.3 L263.9,250.3 L264.5,250.3 L265.2,250.3 L265.8,250.3 L266.4,250.3 L267.0,250.3 L267.6,250.3 L268.3,250.3 L268.9,250.3 L269.5,250.3 L270.1,250.3 L270.7,250.3 L271.4,250.3 L272.0,250.3 L272.6,250.3 L273.2,250.3 L273.8,250.3 L274.5,250.3 L275.1,250.2 L275.7,250.2 L276.3,250.1 L276.9,250.0 L277.6,249.8 L278.2,249.4 L278.8,248.8 L279.4,248.0 L280.0,246.8 L280.7,245.1 L281.3,242.8 L281.9,239.8 L282.5,236.0 L283.1,231.5 L283.8,226.2 L284.4,220.3 L285.0,214.0 L285.6,207.8 L286.2,201.9 L286.9,196.8 L287.5,192.9 L288.1,190.5 L288.7,189.8 L289.3,190.9 L290.0,193.7 L290.6,197.9 L291.2,203.2 L291.8,209.2 L292.4,215.5 L293.0,221.6 L293.7,227.4 L294.3,232.6 L294.9,236.9 L295.5,240.5 L296.1,243.4 L296.8,245.5 L297.4,247.1 L298.0,248.2 L298.6,249.0 L299.2,249.5 L299.9,249.8 L300.5,250.0 L301.1,250.1 L301.7,250.2 L302.3,250.3 L303.0,250.3 L303.6,250.3 L304.2,250.3 L304.8,250.3 L305.4,250.3 L306.1,250.3 L306.7,250.3 L307.3,250.3 L307.9,250.3 L308.5,250.3 L309.2,250.3 L309.8,250.3 L310.4,250.3 L311.0,250.3 L311.6,250.3 L312.3,250.3 L312.9,250.3 L313.5,250.3 L314.1,250.3 L314.7,250.3 L315.4,250.3 L316.0,250.3 L316.6,250.3 L317.2,250.3 L317.8,250.3 L318.5,250.3 L319.1,250.3 L319.7,250.3 L320.3,250.3 L320.9,250.3 L321.6,250.3 L322.2,250.3 L322.8,250.3 L323.4,250.3 L324.0,250.3 L324.7,250.3 L325.3,250.3 L325.9,250.3 L326.5,250.3 L327.1,250.3 L327.8,250.3 L328.4,250.3 L329.0,250.3 L329.6,250.3 L330.2,250.3 L330.9,250.3 L331.5,250.3 L332.1,250.3" fill="none" stroke="#f070f0" stroke-width="0.8"/>
<line x1="228.5" y1="170.8" x2="236.4" y2="170.8" stroke="#f070f0" stroke-width="0.8"/>
<text x="238.7" y="173.3" font-size="6.58" text-anchor="start" fill="#231f20" textLength="41.8" lengthAdjust="spacingAndGlyphs" stroke="#231f20" stroke-width="0.05">GEM/Lipo-SM</text>
<line x1="228.5" y1="177.6" x2="236.4" y2="177.6" stroke="#333" stroke-width="0.8"/>
<text x="238.7" y="180.1" font-size="6.58" text-anchor="start" fill="#231f20" textLength="74.3" lengthAdjust="spacingAndGlyphs" stroke="#231f20" stroke-width="0.05">GEM/AZE-Paclitaxome-2</text>
<line x1="228.5" y1="184.4" x2="236.4" y2="184.4" stroke="#6060f0" stroke-width="0.8"/>
<text x="238.7" y="186.9" font-size="6.58" text-anchor="start" fill="#231f20" textLength="96.8" lengthAdjust="spacingAndGlyphs" stroke="#231f20" stroke-width="0.05">CD47p/GEM/AZE-Paclitaxome-2</text>
<text x="355.9" y="173.2" font-size="12" font-weight="bold" fill="#000" stroke="#000" stroke-width="0.35">e</text>
<line x1="382.5" y1="178.5" x2="382.5" y2="234.0" stroke="#231f20" stroke-width="0.6"/>
<line x1="382.5" y1="237.2" x2="382.5" y2="256.6" stroke="#231f20" stroke-width="0.6"/>
<path d="M380.5,235.8 L384.5,233.0 M380.5,239.0 L384.5,236.2" fill="none" stroke="#231f20" stroke-width="0.6"/>
<line x1="380.5" y1="222.7" x2="382.5" y2="222.7" stroke="#231f20" stroke-width="0.6"/>
<text x="378.9" y="225.3" font-size="6.77" text-anchor="end" fill="#231f20" textLength="8.0" lengthAdjust="spacingAndGlyphs" stroke="#231f20" stroke-width="0.1">80</text>
<line x1="380.5" y1="201.1" x2="382.5" y2="201.1" stroke="#231f20" stroke-width="0.6"/>
<text x="378.9" y="203.7" font-size="6.77" text-anchor="end" fill="#231f20" textLength="11.5" lengthAdjust="spacingAndGlyphs" stroke="#231f20" stroke-width="0.1">110</text>
<line x1="380.5" y1="179.5" x2="382.5" y2="179.5" stroke="#231f20" stroke-width="0.6"/>
<text x="378.9" y="182.1" font-size="6.77" text-anchor="end" fill="#231f20" textLength="12.0" lengthAdjust="spacingAndGlyphs" stroke="#231f20" stroke-width="0.1">140</text>
<line x1="380.5" y1="256.6" x2="382.5" y2="256.6" stroke="#231f20" stroke-width="0.6"/>
<text x="378.9" y="259.2" font-size="6.77" text-anchor="end" fill="#231f20" textLength="4.0" lengthAdjust="spacingAndGlyphs" stroke="#231f20" stroke-width="0.1">0</text>
<line x1="380.5" y1="249.6" x2="382.5" y2="249.6" stroke="#231f20" stroke-width="0.6"/>
<text x="378.9" y="252.2" font-size="6.77" text-anchor="end" fill="#231f20" textLength="8.0" lengthAdjust="spacingAndGlyphs" stroke="#231f20" stroke-width="0.1">15</text>
<line x1="380.5" y1="242.6" x2="382.5" y2="242.6" stroke="#231f20" stroke-width="0.6"/>
<text x="378.9" y="245.2" font-size="6.77" text-anchor="end" fill="#231f20" textLength="8.0" lengthAdjust="spacingAndGlyphs" stroke="#231f20" stroke-width="0.1">30</text>
<line x1="382.5" y1="256.6" x2="496.0" y2="256.6" stroke="#231f20" stroke-width="0.6"/>
<line x1="382.5" y1="256.6" x2="382.5" y2="258.6" stroke="#231f20" stroke-width="0.6"/>
<text x="382.5" y="266.2" font-size="6.86" text-anchor="middle" fill="#231f20" textLength="4.1" lengthAdjust="spacingAndGlyphs" stroke="#231f20" stroke-width="0.1">0</text>
<line x1="418.2" y1="256.6" x2="418.2" y2="258.6" stroke="#231f20" stroke-width="0.6"/>
<text x="418.2" y="266.2" font-size="6.86" text-anchor="middle" fill="#231f20" textLength="4.1" lengthAdjust="spacingAndGlyphs" stroke="#231f20" stroke-width="0.1">5</text>
<line x1="453.8" y1="256.6" x2="453.8" y2="258.6" stroke="#231f20" stroke-width="0.6"/>
<text x="453.8" y="266.2" font-size="6.86" text-anchor="middle" fill="#231f20" textLength="8.1" lengthAdjust="spacingAndGlyphs" stroke="#231f20" stroke-width="0.1">10</text>
<line x1="489.5" y1="256.6" x2="489.5" y2="258.6" stroke="#231f20" stroke-width="0.6"/>
<text x="489.5" y="266.2" font-size="6.86" text-anchor="middle" fill="#231f20" textLength="8.1" lengthAdjust="spacingAndGlyphs" stroke="#231f20" stroke-width="0.1">15</text>
<text x="362.6" y="218.0" font-size="6.96" text-anchor="middle" fill="#231f20" transform="rotate(-90 362.6 218.0)" textLength="46.9" lengthAdjust="spacingAndGlyphs" stroke="#231f20" stroke-width="0.1">DLS size (nm)</text>
<text x="443.5" y="276.2" font-size="6.96" text-anchor="middle" fill="#231f20" textLength="16.9" lengthAdjust="spacingAndGlyphs" stroke="#231f20" stroke-width="0.1">Days</text>
<path d="M389.6,195.7 L403.9,196.8 L418.2,196.8 L432.4,197.1 L446.7,197.5 L461.0,196.8 L475.2,196.4 L489.5,196.4" fill="none" stroke="#d070e0" stroke-width="0.7"/>
<line x1="389.6" y1="198.2" x2="389.6" y2="193.2" stroke="#d070e0" stroke-width="0.6"/>
<line x1="388.4" y1="193.2" x2="390.8" y2="193.2" stroke="#d070e0" stroke-width="0.6"/>
<line x1="388.4" y1="198.2" x2="390.8" y2="198.2" stroke="#d070e0" stroke-width="0.6"/>
<rect x="388.1" y="194.2" width="3.0" height="3.0" fill="white" stroke="#d070e0" stroke-width="0.6"/>
<line x1="403.9" y1="199.3" x2="403.9" y2="194.3" stroke="#d070e0" stroke-width="0.6"/>
<line x1="402.7" y1="194.3" x2="405.1" y2="194.3" stroke="#d070e0" stroke-width="0.6"/>
<line x1="402.7" y1="199.3" x2="405.1" y2="199.3" stroke="#d070e0" stroke-width="0.6"/>
<rect x="402.4" y="195.3" width="3.0" height="3.0" fill="white" stroke="#d070e0" stroke-width="0.6"/>
<line x1="418.2" y1="199.3" x2="418.2" y2="194.3" stroke="#d070e0" stroke-width="0.6"/>
<line x1="417.0" y1="194.3" x2="419.4" y2="194.3" stroke="#d070e0" stroke-width="0.6"/>
<line x1="417.0" y1="199.3" x2="419.4" y2="199.3" stroke="#d070e0" stroke-width="0.6"/>
<rect x="416.7" y="195.3" width="3.0" height="3.0" fill="white" stroke="#d070e0" stroke-width="0.6"/>
<line x1="432.4" y1="199.7" x2="432.4" y2="194.6" stroke="#d070e0" stroke-width="0.6"/>
<line x1="431.2" y1="194.6" x2="433.6" y2="194.6" stroke="#d070e0" stroke-width="0.6"/>
<line x1="431.2" y1="199.7" x2="433.6" y2="199.7" stroke="#d070e0" stroke-width="0.6"/>
<rect x="430.9" y="195.6" width="3.0" height="3.0" fill="white" stroke="#d070e0" stroke-width="0.6"/>
<line x1="446.7" y1="200.0" x2="446.7" y2="195.0" stroke="#d070e0" stroke-width="0.6"/>
<line x1="445.5" y1="195.0" x2="447.9" y2="195.0" stroke="#d070e0" stroke-width="0.6"/>
<line x1="445.5" y1="200.0" x2="447.9" y2="200.0" stroke="#d070e0" stroke-width="0.6"/>
<rect x="445.2" y="196.0" width="3.0" height="3.0" fill="white" stroke="#d070e0" stroke-width="0.6"/>
<line x1="461.0" y1="199.3" x2="461.0" y2="194.3" stroke="#d070e0" stroke-width="0.6"/>
<line x1="459.8" y1="194.3" x2="462.2" y2="194.3" stroke="#d070e0" stroke-width="0.6"/>
<line x1="459.8" y1="199.3" x2="462.2" y2="199.3" stroke="#d070e0" stroke-width="0.6"/>
<rect x="459.5" y="195.3" width="3.0" height="3.0" fill="white" stroke="#d070e0" stroke-width="0.6"/>
<line x1="475.2" y1="198.9" x2="475.2" y2="193.9" stroke="#d070e0" stroke-width="0.6"/>
<line x1="474.0" y1="193.9" x2="476.4" y2="193.9" stroke="#d070e0" stroke-width="0.6"/>
<line x1="474.0" y1="198.9" x2="476.4" y2="198.9" stroke="#d070e0" stroke-width="0.6"/>
<rect x="473.7" y="194.9" width="3.0" height="3.0" fill="white" stroke="#d070e0" stroke-width="0.6"/>
<line x1="489.5" y1="198.9" x2="489.5" y2="193.9" stroke="#d070e0" stroke-width="0.6"/>
<line x1="488.3" y1="193.9" x2="490.7" y2="193.9" stroke="#d070e0" stroke-width="0.6"/>
<line x1="488.3" y1="198.9" x2="490.7" y2="198.9" stroke="#d070e0" stroke-width="0.6"/>
<rect x="488.0" y="194.9" width="3.0" height="3.0" fill="white" stroke="#d070e0" stroke-width="0.6"/>
<path d="M389.6,210.5 L403.9,210.8 L418.2,210.5 L432.4,211.5 L446.7,210.5 L461.0,210.5 L475.2,210.8 L489.5,210.5" fill="none" stroke="#111" stroke-width="0.7"/>
<line x1="389.6" y1="212.3" x2="389.6" y2="208.7" stroke="#111" stroke-width="0.6"/>
<line x1="388.4" y1="208.7" x2="390.8" y2="208.7" stroke="#111" stroke-width="0.6"/>
<line x1="388.4" y1="212.3" x2="390.8" y2="212.3" stroke="#111" stroke-width="0.6"/>
<rect x="388.1" y="209.0" width="3.0" height="3.0" fill="#111" stroke="#111" stroke-width="0.6"/>
<line x1="403.9" y1="212.6" x2="403.9" y2="209.0" stroke="#111" stroke-width="0.6"/>
<line x1="402.7" y1="209.0" x2="405.1" y2="209.0" stroke="#111" stroke-width="0.6"/>
<line x1="402.7" y1="212.6" x2="405.1" y2="212.6" stroke="#111" stroke-width="0.6"/>
<rect x="402.4" y="209.3" width="3.0" height="3.0" fill="#111" stroke="#111" stroke-width="0.6"/>
<line x1="418.2" y1="212.3" x2="418.2" y2="208.7" stroke="#111" stroke-width="0.6"/>
<line x1="417.0" y1="208.7" x2="419.4" y2="208.7" stroke="#111" stroke-width="0.6"/>
<line x1="417.0" y1="212.3" x2="419.4" y2="212.3" stroke="#111" stroke-width="0.6"/>
<rect x="416.7" y="209.0" width="3.0" height="3.0" fill="#111" stroke="#111" stroke-width="0.6"/>
<line x1="432.4" y1="213.3" x2="432.4" y2="209.7" stroke="#111" stroke-width="0.6"/>
<line x1="431.2" y1="209.7" x2="433.6" y2="209.7" stroke="#111" stroke-width="0.6"/>
<line x1="431.2" y1="213.3" x2="433.6" y2="213.3" stroke="#111" stroke-width="0.6"/>
<rect x="430.9" y="210.0" width="3.0" height="3.0" fill="#111" stroke="#111" stroke-width="0.6"/>
<line x1="446.7" y1="212.3" x2="446.7" y2="208.7" stroke="#111" stroke-width="0.6"/>
<line x1="445.5" y1="208.7" x2="447.9" y2="208.7" stroke="#111" stroke-width="0.6"/>
<line x1="445.5" y1="212.3" x2="447.9" y2="212.3" stroke="#111" stroke-width="0.6"/>
<rect x="445.2" y="209.0" width="3.0" height="3.0" fill="#111" stroke="#111" stroke-width="0.6"/>
<line x1="461.0" y1="212.3" x2="461.0" y2="208.7" stroke="#111" stroke-width="0.6"/>
<line x1="459.8" y1="208.7" x2="462.2" y2="208.7" stroke="#111" stroke-width="0.6"/>
<line x1="459.8" y1="212.3" x2="462.2" y2="212.3" stroke="#111" stroke-width="0.6"/>
<rect x="459.5" y="209.0" width="3.0" height="3.0" fill="#111" stroke="#111" stroke-width="0.6"/>
<line x1="475.2" y1="212.6" x2="475.2" y2="209.0" stroke="#111" stroke-width="0.6"/>
<line x1="474.0" y1="209.0" x2="476.4" y2="209.0" stroke="#111" stroke-width="0.6"/>
<line x1="474.0" y1="212.6" x2="476.4" y2="212.6" stroke="#111" stroke-width="0.6"/>
<rect x="473.7" y="209.3" width="3.0" height="3.0" fill="#111" stroke="#111" stroke-width="0.6"/>
<line x1="489.5" y1="212.3" x2="489.5" y2="208.7" stroke="#111" stroke-width="0.6"/>
<line x1="488.3" y1="208.7" x2="490.7" y2="208.7" stroke="#111" stroke-width="0.6"/>
<line x1="488.3" y1="212.3" x2="490.7" y2="212.3" stroke="#111" stroke-width="0.6"/>
<rect x="488.0" y="209.0" width="3.0" height="3.0" fill="#111" stroke="#111" stroke-width="0.6"/>
<path d="M389.6,207.6 L403.9,207.6 L418.2,207.6 L432.4,207.6 L446.7,207.6 L461.0,207.6 L475.2,207.6 L489.5,207.6" fill="none" stroke="#1a1ae0" stroke-width="0.7"/>
<line x1="389.6" y1="209.4" x2="389.6" y2="205.8" stroke="#1a1ae0" stroke-width="0.6"/>
<line x1="388.4" y1="205.8" x2="390.8" y2="205.8" stroke="#1a1ae0" stroke-width="0.6"/>
<line x1="388.4" y1="209.4" x2="390.8" y2="209.4" stroke="#1a1ae0" stroke-width="0.6"/>
<path d="M389.6,205.8 L391.4,207.6 L389.6,209.4 L387.8,207.6 Z" fill="#1a1ae0" stroke="#1a1ae0" stroke-width="0.6"/>
<line x1="403.9" y1="209.4" x2="403.9" y2="205.8" stroke="#1a1ae0" stroke-width="0.6"/>
<line x1="402.7" y1="205.8" x2="405.1" y2="205.8" stroke="#1a1ae0" stroke-width="0.6"/>
<line x1="402.7" y1="209.4" x2="405.1" y2="209.4" stroke="#1a1ae0" stroke-width="0.6"/>
<path d="M403.9,205.8 L405.7,207.6 L403.9,209.4 L402.1,207.6 Z" fill="#1a1ae0" stroke="#1a1ae0" stroke-width="0.6"/>
<line x1="418.2" y1="209.4" x2="418.2" y2="205.8" stroke="#1a1ae0" stroke-width="0.6"/>
<line x1="417.0" y1="205.8" x2="419.4" y2="205.8" stroke="#1a1ae0" stroke-width="0.6"/>
<line x1="417.0" y1="209.4" x2="419.4" y2="209.4" stroke="#1a1ae0" stroke-width="0.6"/>
<path d="M418.2,205.8 L420.0,207.6 L418.2,209.4 L416.4,207.6 Z" fill="#1a1ae0" stroke="#1a1ae0" stroke-width="0.6"/>
<line x1="432.4" y1="209.4" x2="432.4" y2="205.8" stroke="#1a1ae0" stroke-width="0.6"/>
<line x1="431.2" y1="205.8" x2="433.6" y2="205.8" stroke="#1a1ae0" stroke-width="0.6"/>
<line x1="431.2" y1="209.4" x2="433.6" y2="209.4" stroke="#1a1ae0" stroke-width="0.6"/>
<path d="M432.4,205.8 L434.2,207.6 L432.4,209.4 L430.6,207.6 Z" fill="#1a1ae0" stroke="#1a1ae0" stroke-width="0.6"/>
<line x1="446.7" y1="209.4" x2="446.7" y2="205.8" stroke="#1a1ae0" stroke-width="0.6"/>
<line x1="445.5" y1="205.8" x2="447.9" y2="205.8" stroke="#1a1ae0" stroke-width="0.6"/>
<line x1="445.5" y1="209.4" x2="447.9" y2="209.4" stroke="#1a1ae0" stroke-width="0.6"/>
<path d="M446.7,205.8 L448.5,207.6 L446.7,209.4 L444.9,207.6 Z" fill="#1a1ae0" stroke="#1a1ae0" stroke-width="0.6"/>
<line x1="461.0" y1="209.4" x2="461.0" y2="205.8" stroke="#1a1ae0" stroke-width="0.6"/>
<line x1="459.8" y1="205.8" x2="462.2" y2="205.8" stroke="#1a1ae0" stroke-width="0.6"/>
<line x1="459.8" y1="209.4" x2="462.2" y2="209.4" stroke="#1a1ae0" stroke-width="0.6"/>
<path d="M461.0,205.8 L462.8,207.6 L461.0,209.4 L459.2,207.6 Z" fill="#1a1ae0" stroke="#1a1ae0" stroke-width="0.6"/>
<line x1="475.2" y1="209.4" x2="475.2" y2="205.8" stroke="#1a1ae0" stroke-width="0.6"/>
<line x1="474.0" y1="205.8" x2="476.4" y2="205.8" stroke="#1a1ae0" stroke-width="0.6"/>
<line x1="474.0" y1="209.4" x2="476.4" y2="209.4" stroke="#1a1ae0" stroke-width="0.6"/>
<path d="M475.2,205.8 L477.0,207.6 L475.2,209.4 L473.4,207.6 Z" fill="#1a1ae0" stroke="#1a1ae0" stroke-width="0.6"/>
<line x1="489.5" y1="209.4" x2="489.5" y2="205.8" stroke="#1a1ae0" stroke-width="0.6"/>
<line x1="488.3" y1="205.8" x2="490.7" y2="205.8" stroke="#1a1ae0" stroke-width="0.6"/>
<line x1="488.3" y1="209.4" x2="490.7" y2="209.4" stroke="#1a1ae0" stroke-width="0.6"/>
<path d="M489.5,205.8 L491.3,207.6 L489.5,209.4 L487.7,207.6 Z" fill="#1a1ae0" stroke="#1a1ae0" stroke-width="0.6"/>
<line x1="388.5" y1="172.0" x2="395.3" y2="172.0" stroke="#d070e0" stroke-width="0.7"/>
<rect x="390.5" y="170.6" width="2.8" height="2.8" fill="white" stroke="#d070e0" stroke-width="0.6"/>
<text x="398.4" y="174.5" font-size="6.58" text-anchor="start" fill="#231f20" textLength="41.8" lengthAdjust="spacingAndGlyphs" stroke="#231f20" stroke-width="0.05">GEM/Lipo-SM</text>
<line x1="388.5" y1="179.0" x2="395.3" y2="179.0" stroke="#111" stroke-width="0.7"/>
<rect x="390.5" y="177.6" width="2.8" height="2.8" fill="#111" stroke="#111" stroke-width="0.6"/>
<text x="398.4" y="181.5" font-size="6.58" text-anchor="start" fill="#231f20" textLength="74.3" lengthAdjust="spacingAndGlyphs" stroke="#231f20" stroke-width="0.05">GEM/AZE-Paclitaxome-2</text>
<line x1="388.5" y1="186.0" x2="395.3" y2="186.0" stroke="#1a1ae0" stroke-width="0.7"/>
<path d="M391.9,184.3 L393.6,186.0 L391.9,187.7 L390.2,186.0 Z" fill="#1a1ae0" stroke="#1a1ae0" stroke-width="0.6"/>
<text x="398.4" y="188.5" font-size="6.58" text-anchor="start" fill="#231f20" textLength="96.8" lengthAdjust="spacingAndGlyphs" stroke="#231f20" stroke-width="0.05">CD47p/GEM/AZE-Paclitaxome-2</text>
<text x="521.8" y="173.4" font-size="12" font-weight="bold" fill="#000" stroke="#000" stroke-width="0.35">f</text>
<line x1="550.9" y1="179.8" x2="550.9" y2="255.9" stroke="#231f20" stroke-width="0.6"/>
<line x1="548.9" y1="179.8" x2="550.9" y2="179.8" stroke="#231f20" stroke-width="0.6"/>
<text x="547.3" y="182.4" font-size="6.77" text-anchor="end" fill="#231f20" textLength="4.0" lengthAdjust="spacingAndGlyphs" stroke="#231f20" stroke-width="0.1">0</text>
<line x1="548.9" y1="205.2" x2="550.9" y2="205.2" stroke="#231f20" stroke-width="0.6"/>
<text x="547.3" y="207.8" font-size="6.77" text-anchor="end" fill="#231f20" textLength="12.2" lengthAdjust="spacingAndGlyphs" stroke="#231f20" stroke-width="0.1">−10</text>
<line x1="548.9" y1="230.5" x2="550.9" y2="230.5" stroke="#231f20" stroke-width="0.6"/>
<text x="547.3" y="233.1" font-size="6.77" text-anchor="end" fill="#231f20" textLength="12.2" lengthAdjust="spacingAndGlyphs" stroke="#231f20" stroke-width="0.1">−20</text>
<line x1="548.9" y1="255.9" x2="550.9" y2="255.9" stroke="#231f20" stroke-width="0.6"/>
<text x="547.3" y="258.5" font-size="6.77" text-anchor="end" fill="#231f20" textLength="12.2" lengthAdjust="spacingAndGlyphs" stroke="#231f20" stroke-width="0.1">−30</text>
<line x1="550.9" y1="255.9" x2="665.3" y2="255.9" stroke="#231f20" stroke-width="0.6"/>
<line x1="550.9" y1="255.9" x2="550.9" y2="257.9" stroke="#231f20" stroke-width="0.6"/>
<text x="550.9" y="265.5" font-size="6.86" text-anchor="middle" fill="#231f20" textLength="4.1" lengthAdjust="spacingAndGlyphs" stroke="#231f20" stroke-width="0.1">0</text>
<line x1="586.7" y1="255.9" x2="586.7" y2="257.9" stroke="#231f20" stroke-width="0.6"/>
<text x="586.7" y="265.5" font-size="6.86" text-anchor="middle" fill="#231f20" textLength="4.1" lengthAdjust="spacingAndGlyphs" stroke="#231f20" stroke-width="0.1">5</text>
<line x1="622.4" y1="255.9" x2="622.4" y2="257.9" stroke="#231f20" stroke-width="0.6"/>
<text x="622.4" y="265.5" font-size="6.86" text-anchor="middle" fill="#231f20" textLength="8.1" lengthAdjust="spacingAndGlyphs" stroke="#231f20" stroke-width="0.1">10</text>
<line x1="658.2" y1="255.9" x2="658.2" y2="257.9" stroke="#231f20" stroke-width="0.6"/>
<text x="658.2" y="265.5" font-size="6.86" text-anchor="middle" fill="#231f20" textLength="8.1" lengthAdjust="spacingAndGlyphs" stroke="#231f20" stroke-width="0.1">15</text>
<text x="530.1" y="217.6" font-size="6.96" text-anchor="middle" fill="#231f20" transform="rotate(-90 530.1 217.6)" textLength="62.9" lengthAdjust="spacingAndGlyphs" stroke="#231f20" stroke-width="0.1">Zeta potential (mV)</text>
<text x="601.5" y="275.5" font-size="6.96" text-anchor="middle" fill="#231f20" textLength="16.9" lengthAdjust="spacingAndGlyphs" stroke="#231f20" stroke-width="0.1">Days</text>
<path d="M558.1,230.5 L572.4,231.0 L586.7,230.0 L601.0,230.3 L615.3,230.5 L629.6,230.0 L643.9,230.3 L658.2,230.5" fill="none" stroke="#1a1ae0" stroke-width="0.7"/>
<line x1="558.1" y1="236.4" x2="558.1" y2="224.7" stroke="#1a1ae0" stroke-width="0.6"/>
<line x1="556.9" y1="224.7" x2="559.3" y2="224.7" stroke="#1a1ae0" stroke-width="0.6"/>
<line x1="556.9" y1="236.4" x2="559.3" y2="236.4" stroke="#1a1ae0" stroke-width="0.6"/>
<path d="M558.1,228.7 L559.9,230.5 L558.1,232.3 L556.3,230.5 Z" fill="#1a1ae0" stroke="#1a1ae0" stroke-width="0.6"/>
<line x1="572.4" y1="236.9" x2="572.4" y2="225.2" stroke="#1a1ae0" stroke-width="0.6"/>
<line x1="571.2" y1="225.2" x2="573.6" y2="225.2" stroke="#1a1ae0" stroke-width="0.6"/>
<line x1="571.2" y1="236.9" x2="573.6" y2="236.9" stroke="#1a1ae0" stroke-width="0.6"/>
<path d="M572.4,229.2 L574.2,231.0 L572.4,232.8 L570.6,231.0 Z" fill="#1a1ae0" stroke="#1a1ae0" stroke-width="0.6"/>
<line x1="586.7" y1="235.9" x2="586.7" y2="224.2" stroke="#1a1ae0" stroke-width="0.6"/>
<line x1="585.5" y1="224.2" x2="587.9" y2="224.2" stroke="#1a1ae0" stroke-width="0.6"/>
<line x1="585.5" y1="235.9" x2="587.9" y2="235.9" stroke="#1a1ae0" stroke-width="0.6"/>
<path d="M586.7,228.2 L588.5,230.0 L586.7,231.8 L584.9,230.0 Z" fill="#1a1ae0" stroke="#1a1ae0" stroke-width="0.6"/>
<line x1="601.0" y1="236.1" x2="601.0" y2="224.4" stroke="#1a1ae0" stroke-width="0.6"/>
<line x1="599.8" y1="224.4" x2="602.2" y2="224.4" stroke="#1a1ae0" stroke-width="0.6"/>
<line x1="599.8" y1="236.1" x2="602.2" y2="236.1" stroke="#1a1ae0" stroke-width="0.6"/>
<path d="M601.0,228.5 L602.8,230.3 L601.0,232.1 L599.2,230.3 Z" fill="#1a1ae0" stroke="#1a1ae0" stroke-width="0.6"/>
<line x1="615.3" y1="236.4" x2="615.3" y2="224.7" stroke="#1a1ae0" stroke-width="0.6"/>
<line x1="614.1" y1="224.7" x2="616.5" y2="224.7" stroke="#1a1ae0" stroke-width="0.6"/>
<line x1="614.1" y1="236.4" x2="616.5" y2="236.4" stroke="#1a1ae0" stroke-width="0.6"/>
<path d="M615.3,228.7 L617.1,230.5 L615.3,232.3 L613.5,230.5 Z" fill="#1a1ae0" stroke="#1a1ae0" stroke-width="0.6"/>
<line x1="629.6" y1="235.9" x2="629.6" y2="224.2" stroke="#1a1ae0" stroke-width="0.6"/>
<line x1="628.4" y1="224.2" x2="630.8" y2="224.2" stroke="#1a1ae0" stroke-width="0.6"/>
<line x1="628.4" y1="235.9" x2="630.8" y2="235.9" stroke="#1a1ae0" stroke-width="0.6"/>
<path d="M629.6,228.2 L631.4,230.0 L629.6,231.8 L627.8,230.0 Z" fill="#1a1ae0" stroke="#1a1ae0" stroke-width="0.6"/>
<line x1="643.9" y1="236.1" x2="643.9" y2="224.4" stroke="#1a1ae0" stroke-width="0.6"/>
<line x1="642.7" y1="224.4" x2="645.1" y2="224.4" stroke="#1a1ae0" stroke-width="0.6"/>
<line x1="642.7" y1="236.1" x2="645.1" y2="236.1" stroke="#1a1ae0" stroke-width="0.6"/>
<path d="M643.9,228.5 L645.7,230.3 L643.9,232.1 L642.1,230.3 Z" fill="#1a1ae0" stroke="#1a1ae0" stroke-width="0.6"/>
<line x1="658.2" y1="236.4" x2="658.2" y2="224.7" stroke="#1a1ae0" stroke-width="0.6"/>
<line x1="657.0" y1="224.7" x2="659.4" y2="224.7" stroke="#1a1ae0" stroke-width="0.6"/>
<line x1="657.0" y1="236.4" x2="659.4" y2="236.4" stroke="#1a1ae0" stroke-width="0.6"/>
<path d="M658.2,228.7 L660.0,230.5 L658.2,232.3 L656.4,230.5 Z" fill="#1a1ae0" stroke="#1a1ae0" stroke-width="0.6"/>
<path d="M558.1,215.3 L572.4,214.0 L586.7,214.0 L601.0,210.7 L615.3,212.8 L629.6,213.3 L643.9,214.0 L658.2,212.8" fill="none" stroke="#d070e0" stroke-width="0.7"/>
<line x1="558.1" y1="224.2" x2="558.1" y2="206.4" stroke="#d070e0" stroke-width="0.6"/>
<line x1="556.9" y1="206.4" x2="559.3" y2="206.4" stroke="#d070e0" stroke-width="0.6"/>
<line x1="556.9" y1="224.2" x2="559.3" y2="224.2" stroke="#d070e0" stroke-width="0.6"/>
<rect x="556.6" y="213.8" width="3.0" height="3.0" fill="white" stroke="#d070e0" stroke-width="0.6"/>
<line x1="572.4" y1="222.9" x2="572.4" y2="205.2" stroke="#d070e0" stroke-width="0.6"/>
<line x1="571.2" y1="205.2" x2="573.6" y2="205.2" stroke="#d070e0" stroke-width="0.6"/>
<line x1="571.2" y1="222.9" x2="573.6" y2="222.9" stroke="#d070e0" stroke-width="0.6"/>
<rect x="570.9" y="212.5" width="3.0" height="3.0" fill="white" stroke="#d070e0" stroke-width="0.6"/>
<line x1="586.7" y1="222.9" x2="586.7" y2="205.2" stroke="#d070e0" stroke-width="0.6"/>
<line x1="585.5" y1="205.2" x2="587.9" y2="205.2" stroke="#d070e0" stroke-width="0.6"/>
<line x1="585.5" y1="222.9" x2="587.9" y2="222.9" stroke="#d070e0" stroke-width="0.6"/>
<rect x="585.2" y="212.5" width="3.0" height="3.0" fill="white" stroke="#d070e0" stroke-width="0.6"/>
<line x1="601.0" y1="219.6" x2="601.0" y2="201.9" stroke="#d070e0" stroke-width="0.6"/>
<line x1="599.8" y1="201.9" x2="602.2" y2="201.9" stroke="#d070e0" stroke-width="0.6"/>
<line x1="599.8" y1="219.6" x2="602.2" y2="219.6" stroke="#d070e0" stroke-width="0.6"/>
<rect x="599.5" y="209.2" width="3.0" height="3.0" fill="white" stroke="#d070e0" stroke-width="0.6"/>
<line x1="615.3" y1="221.7" x2="615.3" y2="203.9" stroke="#d070e0" stroke-width="0.6"/>
<line x1="614.1" y1="203.9" x2="616.5" y2="203.9" stroke="#d070e0" stroke-width="0.6"/>
<line x1="614.1" y1="221.7" x2="616.5" y2="221.7" stroke="#d070e0" stroke-width="0.6"/>
<rect x="613.8" y="211.3" width="3.0" height="3.0" fill="white" stroke="#d070e0" stroke-width="0.6"/>
<line x1="629.6" y1="222.2" x2="629.6" y2="204.4" stroke="#d070e0" stroke-width="0.6"/>
<line x1="628.4" y1="204.4" x2="630.8" y2="204.4" stroke="#d070e0" stroke-width="0.6"/>
<line x1="628.4" y1="222.2" x2="630.8" y2="222.2" stroke="#d070e0" stroke-width="0.6"/>
<rect x="628.1" y="211.8" width="3.0" height="3.0" fill="white" stroke="#d070e0" stroke-width="0.6"/>
<line x1="643.9" y1="222.9" x2="643.9" y2="205.2" stroke="#d070e0" stroke-width="0.6"/>
<line x1="642.7" y1="205.2" x2="645.1" y2="205.2" stroke="#d070e0" stroke-width="0.6"/>
<line x1="642.7" y1="222.9" x2="645.1" y2="222.9" stroke="#d070e0" stroke-width="0.6"/>
<rect x="642.4" y="212.5" width="3.0" height="3.0" fill="white" stroke="#d070e0" stroke-width="0.6"/>
<line x1="658.2" y1="221.7" x2="658.2" y2="203.9" stroke="#d070e0" stroke-width="0.6"/>
<line x1="657.0" y1="203.9" x2="659.4" y2="203.9" stroke="#d070e0" stroke-width="0.6"/>
<line x1="657.0" y1="221.7" x2="659.4" y2="221.7" stroke="#d070e0" stroke-width="0.6"/>
<rect x="656.7" y="211.3" width="3.0" height="3.0" fill="white" stroke="#d070e0" stroke-width="0.6"/>
<path d="M558.1,229.3 L572.4,231.0 L586.7,230.5 L601.0,231.3 L615.3,230.3 L629.6,229.8 L643.9,229.5 L658.2,229.8" fill="none" stroke="#111" stroke-width="0.7"/>
<line x1="558.1" y1="236.4" x2="558.1" y2="222.2" stroke="#111" stroke-width="0.6"/>
<line x1="556.9" y1="222.2" x2="559.3" y2="222.2" stroke="#111" stroke-width="0.6"/>
<line x1="556.9" y1="236.4" x2="559.3" y2="236.4" stroke="#111" stroke-width="0.6"/>
<rect x="556.6" y="227.8" width="3.0" height="3.0" fill="#111" stroke="#111" stroke-width="0.6"/>
<line x1="572.4" y1="238.1" x2="572.4" y2="223.9" stroke="#111" stroke-width="0.6"/>
<line x1="571.2" y1="223.9" x2="573.6" y2="223.9" stroke="#111" stroke-width="0.6"/>
<line x1="571.2" y1="238.1" x2="573.6" y2="238.1" stroke="#111" stroke-width="0.6"/>
<rect x="570.9" y="229.5" width="3.0" height="3.0" fill="#111" stroke="#111" stroke-width="0.6"/>
<line x1="586.7" y1="237.6" x2="586.7" y2="223.4" stroke="#111" stroke-width="0.6"/>
<line x1="585.5" y1="223.4" x2="587.9" y2="223.4" stroke="#111" stroke-width="0.6"/>
<line x1="585.5" y1="237.6" x2="587.9" y2="237.6" stroke="#111" stroke-width="0.6"/>
<rect x="585.2" y="229.0" width="3.0" height="3.0" fill="#111" stroke="#111" stroke-width="0.6"/>
<line x1="601.0" y1="238.4" x2="601.0" y2="224.2" stroke="#111" stroke-width="0.6"/>
<line x1="599.8" y1="224.2" x2="602.2" y2="224.2" stroke="#111" stroke-width="0.6"/>
<line x1="599.8" y1="238.4" x2="602.2" y2="238.4" stroke="#111" stroke-width="0.6"/>
<rect x="599.5" y="229.8" width="3.0" height="3.0" fill="#111" stroke="#111" stroke-width="0.6"/>
<line x1="615.3" y1="237.4" x2="615.3" y2="223.2" stroke="#111" stroke-width="0.6"/>
<line x1="614.1" y1="223.2" x2="616.5" y2="223.2" stroke="#111" stroke-width="0.6"/>
<line x1="614.1" y1="237.4" x2="616.5" y2="237.4" stroke="#111" stroke-width="0.6"/>
<rect x="613.8" y="228.8" width="3.0" height="3.0" fill="#111" stroke="#111" stroke-width="0.6"/>
<line x1="629.6" y1="236.9" x2="629.6" y2="222.7" stroke="#111" stroke-width="0.6"/>
<line x1="628.4" y1="222.7" x2="630.8" y2="222.7" stroke="#111" stroke-width="0.6"/>
<line x1="628.4" y1="236.9" x2="630.8" y2="236.9" stroke="#111" stroke-width="0.6"/>
<rect x="628.1" y="228.3" width="3.0" height="3.0" fill="#111" stroke="#111" stroke-width="0.6"/>
<line x1="643.9" y1="236.6" x2="643.9" y2="222.4" stroke="#111" stroke-width="0.6"/>
<line x1="642.7" y1="222.4" x2="645.1" y2="222.4" stroke="#111" stroke-width="0.6"/>
<line x1="642.7" y1="236.6" x2="645.1" y2="236.6" stroke="#111" stroke-width="0.6"/>
<rect x="642.4" y="228.0" width="3.0" height="3.0" fill="#111" stroke="#111" stroke-width="0.6"/>
<line x1="658.2" y1="236.9" x2="658.2" y2="222.7" stroke="#111" stroke-width="0.6"/>
<line x1="657.0" y1="222.7" x2="659.4" y2="222.7" stroke="#111" stroke-width="0.6"/>
<line x1="657.0" y1="236.9" x2="659.4" y2="236.9" stroke="#111" stroke-width="0.6"/>
<rect x="656.7" y="228.3" width="3.0" height="3.0" fill="#111" stroke="#111" stroke-width="0.6"/>
<line x1="557.7" y1="172.4" x2="564.5" y2="172.4" stroke="#d070e0" stroke-width="0.7"/>
<rect x="559.7" y="171.0" width="2.8" height="2.8" fill="white" stroke="#d070e0" stroke-width="0.6"/>
<text x="566.7" y="174.9" font-size="6.58" text-anchor="start" fill="#231f20" textLength="41.8" lengthAdjust="spacingAndGlyphs" stroke="#231f20" stroke-width="0.05">GEM/Lipo-SM</text>
<line x1="557.7" y1="179.7" x2="564.5" y2="179.7" stroke="#111" stroke-width="0.7"/>
<rect x="559.7" y="178.2" width="2.8" height="2.8" fill="#111" stroke="#111" stroke-width="0.6"/>
<text x="566.7" y="182.2" font-size="6.58" text-anchor="start" fill="#231f20" textLength="74.3" lengthAdjust="spacingAndGlyphs" stroke="#231f20" stroke-width="0.05">GEM/AZE-Paclitaxome-2</text>
<line x1="557.7" y1="186.9" x2="564.5" y2="186.9" stroke="#1a1ae0" stroke-width="0.7"/>
<path d="M561.1,185.2 L562.8,186.9 L561.1,188.6 L559.4,186.9 Z" fill="#1a1ae0" stroke="#1a1ae0" stroke-width="0.6"/>
<text x="566.7" y="189.4" font-size="6.58" text-anchor="start" fill="#231f20" textLength="96.8" lengthAdjust="spacingAndGlyphs" stroke="#231f20" stroke-width="0.05">CD47p/GEM/AZE-Paclitaxome-2</text>
<text x="-0.4" y="293.8" font-size="12" font-weight="bold" fill="#000" stroke="#000" stroke-width="0.35">g</text>
<line x1="27.2" y1="315.0" x2="27.2" y2="393.9" stroke="#231f20" stroke-width="0.6"/>
<line x1="25.0" y1="393.9" x2="27.2" y2="393.9" stroke="#231f20" stroke-width="0.6"/>
<text x="23.6" y="396.5" font-size="6.77" text-anchor="end" fill="#231f20" textLength="10.0" lengthAdjust="spacingAndGlyphs" stroke="#231f20" stroke-width="0.1">0.1</text>
<line x1="26.0" y1="386.1" x2="27.2" y2="386.1" stroke="#231f20" stroke-width="0.4"/>
<line x1="26.0" y1="381.6" x2="27.2" y2="381.6" stroke="#231f20" stroke-width="0.4"/>
<line x1="26.0" y1="378.4" x2="27.2" y2="378.4" stroke="#231f20" stroke-width="0.4"/>
<line x1="26.0" y1="375.9" x2="27.2" y2="375.9" stroke="#231f20" stroke-width="0.4"/>
<line x1="26.0" y1="373.8" x2="27.2" y2="373.8" stroke="#231f20" stroke-width="0.4"/>
<line x1="26.0" y1="372.1" x2="27.2" y2="372.1" stroke="#231f20" stroke-width="0.4"/>
<line x1="26.0" y1="370.6" x2="27.2" y2="370.6" stroke="#231f20" stroke-width="0.4"/>
<line x1="26.0" y1="369.3" x2="27.2" y2="369.3" stroke="#231f20" stroke-width="0.4"/>
<line x1="25.0" y1="368.1" x2="27.2" y2="368.1" stroke="#231f20" stroke-width="0.6"/>
<text x="23.6" y="370.7" font-size="6.77" text-anchor="end" fill="#231f20" textLength="4.0" lengthAdjust="spacingAndGlyphs" stroke="#231f20" stroke-width="0.1">1</text>
<line x1="26.0" y1="360.3" x2="27.2" y2="360.3" stroke="#231f20" stroke-width="0.4"/>
<line x1="26.0" y1="355.8" x2="27.2" y2="355.8" stroke="#231f20" stroke-width="0.4"/>
<line x1="26.0" y1="352.6" x2="27.2" y2="352.6" stroke="#231f20" stroke-width="0.4"/>
<line x1="26.0" y1="350.1" x2="27.2" y2="350.1" stroke="#231f20" stroke-width="0.4"/>
<line x1="26.0" y1="348.0" x2="27.2" y2="348.0" stroke="#231f20" stroke-width="0.4"/>
<line x1="26.0" y1="346.3" x2="27.2" y2="346.3" stroke="#231f20" stroke-width="0.4"/>
<line x1="26.0" y1="344.8" x2="27.2" y2="344.8" stroke="#231f20" stroke-width="0.4"/>
<line x1="26.0" y1="343.5" x2="27.2" y2="343.5" stroke="#231f20" stroke-width="0.4"/>
<line x1="25.0" y1="342.3" x2="27.2" y2="342.3" stroke="#231f20" stroke-width="0.6"/>
<text x="23.6" y="344.9" font-size="6.77" text-anchor="end" fill="#231f20" textLength="8.0" lengthAdjust="spacingAndGlyphs" stroke="#231f20" stroke-width="0.1">10</text>
<line x1="26.0" y1="334.5" x2="27.2" y2="334.5" stroke="#231f20" stroke-width="0.4"/>
<line x1="26.0" y1="330.0" x2="27.2" y2="330.0" stroke="#231f20" stroke-width="0.4"/>
<line x1="26.0" y1="326.8" x2="27.2" y2="326.8" stroke="#231f20" stroke-width="0.4"/>
<line x1="26.0" y1="324.3" x2="27.2" y2="324.3" stroke="#231f20" stroke-width="0.4"/>
<line x1="26.0" y1="322.2" x2="27.2" y2="322.2" stroke="#231f20" stroke-width="0.4"/>
<line x1="26.0" y1="320.5" x2="27.2" y2="320.5" stroke="#231f20" stroke-width="0.4"/>
<line x1="26.0" y1="319.0" x2="27.2" y2="319.0" stroke="#231f20" stroke-width="0.4"/>
<line x1="26.0" y1="317.7" x2="27.2" y2="317.7" stroke="#231f20" stroke-width="0.4"/>
<line x1="25.0" y1="316.5" x2="27.2" y2="316.5" stroke="#231f20" stroke-width="0.6"/>
<text x="23.6" y="319.1" font-size="6.77" text-anchor="end" fill="#231f20" textLength="12.0" lengthAdjust="spacingAndGlyphs" stroke="#231f20" stroke-width="0.1">100</text>
<line x1="27.2" y1="393.9" x2="149.8" y2="393.9" stroke="#231f20" stroke-width="0.6"/>
<line x1="27.2" y1="393.9" x2="27.2" y2="395.9" stroke="#231f20" stroke-width="0.6"/>
<text x="27.2" y="403.5" font-size="6.86" text-anchor="middle" fill="#231f20" textLength="4.1" lengthAdjust="spacingAndGlyphs" stroke="#231f20" stroke-width="0.1">0</text>
<line x1="51.7" y1="393.9" x2="51.7" y2="395.9" stroke="#231f20" stroke-width="0.6"/>
<text x="51.7" y="403.5" font-size="6.86" text-anchor="middle" fill="#231f20" textLength="4.1" lengthAdjust="spacingAndGlyphs" stroke="#231f20" stroke-width="0.1">5</text>
<line x1="76.2" y1="393.9" x2="76.2" y2="395.9" stroke="#231f20" stroke-width="0.6"/>
<text x="76.2" y="403.5" font-size="6.86" text-anchor="middle" fill="#231f20" textLength="8.1" lengthAdjust="spacingAndGlyphs" stroke="#231f20" stroke-width="0.1">10</text>
<line x1="100.8" y1="393.9" x2="100.8" y2="395.9" stroke="#231f20" stroke-width="0.6"/>
<text x="100.8" y="403.5" font-size="6.86" text-anchor="middle" fill="#231f20" textLength="8.1" lengthAdjust="spacingAndGlyphs" stroke="#231f20" stroke-width="0.1">15</text>
<line x1="125.3" y1="393.9" x2="125.3" y2="395.9" stroke="#231f20" stroke-width="0.6"/>
<text x="125.3" y="403.5" font-size="6.86" text-anchor="middle" fill="#231f20" textLength="8.1" lengthAdjust="spacingAndGlyphs" stroke="#231f20" stroke-width="0.1">20</text>
<line x1="149.8" y1="393.9" x2="149.8" y2="395.9" stroke="#231f20" stroke-width="0.6"/>
<text x="149.8" y="403.5" font-size="6.86" text-anchor="middle" fill="#231f20" textLength="8.1" lengthAdjust="spacingAndGlyphs" stroke="#231f20" stroke-width="0.1">25</text>
<text x="6.8" y="352.8" font-size="7.14" text-anchor="middle" fill="#231f20" transform="rotate(-90 6.8 352.8)" textLength="78.6" lengthAdjust="spacingAndGlyphs" stroke="#231f20" stroke-width="0.1">Injected GEM dose (%)</text>
<text x="78.2" y="415.3" font-size="7.14" text-anchor="middle" fill="#231f20" textLength="86.6" lengthAdjust="spacingAndGlyphs" stroke="#231f20" stroke-width="0.1">Time after i.v. injection (h)</text>
<path d="M27.6,326.8 L29.7,332.0 L32.1,346.3 L39.5,351.2 L66.4,369.9 L86.0,378.9 L144.9,389.4" fill="none" stroke="#d4a56a" stroke-width="0.8"/>
<line x1="27.6" y1="325.4" x2="27.6" y2="326.8" stroke="#d4a56a" stroke-width="0.6"/>
<line x1="26.4" y1="325.4" x2="28.8" y2="325.4" stroke="#d4a56a" stroke-width="0.6"/>
<circle cx="27.6" cy="326.8" r="1.5" fill="white" stroke="#d4a56a" stroke-width="0.6"/>
<line x1="29.7" y1="330.4" x2="29.7" y2="332.0" stroke="#d4a56a" stroke-width="0.6"/>
<line x1="28.5" y1="330.4" x2="30.9" y2="330.4" stroke="#d4a56a" stroke-width="0.6"/>
<circle cx="29.7" cy="332.0" r="1.5" fill="white" stroke="#d4a56a" stroke-width="0.6"/>
<line x1="32.1" y1="344.8" x2="32.1" y2="346.3" stroke="#d4a56a" stroke-width="0.6"/>
<line x1="30.9" y1="344.8" x2="33.3" y2="344.8" stroke="#d4a56a" stroke-width="0.6"/>
<circle cx="32.1" cy="346.3" r="1.5" fill="white" stroke="#d4a56a" stroke-width="0.6"/>
<line x1="39.5" y1="349.8" x2="39.5" y2="351.2" stroke="#d4a56a" stroke-width="0.6"/>
<line x1="38.3" y1="349.8" x2="40.7" y2="349.8" stroke="#d4a56a" stroke-width="0.6"/>
<circle cx="39.5" cy="351.2" r="1.5" fill="white" stroke="#d4a56a" stroke-width="0.6"/>
<line x1="66.4" y1="368.7" x2="66.4" y2="369.9" stroke="#d4a56a" stroke-width="0.6"/>
<line x1="65.2" y1="368.7" x2="67.6" y2="368.7" stroke="#d4a56a" stroke-width="0.6"/>
<circle cx="66.4" cy="369.9" r="1.5" fill="white" stroke="#d4a56a" stroke-width="0.6"/>
<line x1="86.0" y1="377.6" x2="86.0" y2="378.9" stroke="#d4a56a" stroke-width="0.6"/>
<line x1="84.8" y1="377.6" x2="87.2" y2="377.6" stroke="#d4a56a" stroke-width="0.6"/>
<circle cx="86.0" cy="378.9" r="1.5" fill="white" stroke="#d4a56a" stroke-width="0.6"/>
<line x1="144.9" y1="386.7" x2="144.9" y2="389.4" stroke="#d4a56a" stroke-width="0.6"/>
<line x1="143.7" y1="386.7" x2="146.1" y2="386.7" stroke="#d4a56a" stroke-width="0.6"/>
<circle cx="144.9" cy="389.4" r="1.5" fill="white" stroke="#d4a56a" stroke-width="0.6"/>
<path d="M27.6,318.3 L29.7,321.3 L32.1,324.7 L39.5,336.4 L66.4,352.6 L86.0,365.2 L144.9,380.5" fill="none" stroke="#20aabb" stroke-width="0.8"/>
<line x1="27.6" y1="317.3" x2="27.6" y2="318.3" stroke="#20aabb" stroke-width="0.6"/>
<line x1="26.4" y1="317.3" x2="28.8" y2="317.3" stroke="#20aabb" stroke-width="0.6"/>
<path d="M26.1,318.3 L29.1,318.3 M27.6,316.8 L27.6,319.8" fill="none" stroke="#20aabb" stroke-width="0.9"/>
<line x1="29.7" y1="320.3" x2="29.7" y2="321.3" stroke="#20aabb" stroke-width="0.6"/>
<line x1="28.5" y1="320.3" x2="30.9" y2="320.3" stroke="#20aabb" stroke-width="0.6"/>
<path d="M28.2,321.3 L31.2,321.3 M29.7,319.8 L29.7,322.8" fill="none" stroke="#20aabb" stroke-width="0.9"/>
<line x1="32.1" y1="323.6" x2="32.1" y2="324.7" stroke="#20aabb" stroke-width="0.6"/>
<line x1="30.9" y1="323.6" x2="33.3" y2="323.6" stroke="#20aabb" stroke-width="0.6"/>
<path d="M30.6,324.7 L33.6,324.7 M32.1,323.2 L32.1,326.2" fill="none" stroke="#20aabb" stroke-width="0.9"/>
<line x1="39.5" y1="335.1" x2="39.5" y2="336.4" stroke="#20aabb" stroke-width="0.6"/>
<line x1="38.3" y1="335.1" x2="40.7" y2="335.1" stroke="#20aabb" stroke-width="0.6"/>
<path d="M38.0,336.4 L41.0,336.4 M39.5,334.9 L39.5,337.9" fill="none" stroke="#20aabb" stroke-width="0.9"/>
<line x1="66.4" y1="350.5" x2="66.4" y2="352.6" stroke="#20aabb" stroke-width="0.6"/>
<line x1="65.2" y1="350.5" x2="67.6" y2="350.5" stroke="#20aabb" stroke-width="0.6"/>
<path d="M64.9,352.6 L67.9,352.6 M66.4,351.1 L66.4,354.1" fill="none" stroke="#20aabb" stroke-width="0.9"/>
<line x1="86.0" y1="363.6" x2="86.0" y2="365.2" stroke="#20aabb" stroke-width="0.6"/>
<line x1="84.8" y1="363.6" x2="87.2" y2="363.6" stroke="#20aabb" stroke-width="0.6"/>
<path d="M84.5,365.2 L87.5,365.2 M86.0,363.7 L86.0,366.7" fill="none" stroke="#20aabb" stroke-width="0.9"/>
<line x1="144.9" y1="378.7" x2="144.9" y2="380.5" stroke="#20aabb" stroke-width="0.6"/>
<line x1="143.7" y1="378.7" x2="146.1" y2="378.7" stroke="#20aabb" stroke-width="0.6"/>
<path d="M143.4,380.5 L146.4,380.5 M144.9,379.0 L144.9,382.0" fill="none" stroke="#20aabb" stroke-width="0.9"/>
<path d="M27.6,319.0 L29.7,322.2 L32.1,325.4 L39.5,337.8 L66.4,355.1 L86.0,366.1 L144.9,378.9" fill="none" stroke="#c040f0" stroke-width="0.8"/>
<line x1="27.6" y1="317.9" x2="27.6" y2="319.0" stroke="#c040f0" stroke-width="0.6"/>
<line x1="26.4" y1="317.9" x2="28.8" y2="317.9" stroke="#c040f0" stroke-width="0.6"/>
<rect x="26.1" y="317.5" width="3.0" height="3.0" fill="white" stroke="#c040f0" stroke-width="0.6"/>
<line x1="29.7" y1="321.2" x2="29.7" y2="322.2" stroke="#c040f0" stroke-width="0.6"/>
<line x1="28.5" y1="321.2" x2="30.9" y2="321.2" stroke="#c040f0" stroke-width="0.6"/>
<rect x="28.2" y="320.7" width="3.0" height="3.0" fill="white" stroke="#c040f0" stroke-width="0.6"/>
<line x1="32.1" y1="324.3" x2="32.1" y2="325.4" stroke="#c040f0" stroke-width="0.6"/>
<line x1="30.9" y1="324.3" x2="33.3" y2="324.3" stroke="#c040f0" stroke-width="0.6"/>
<rect x="30.6" y="323.9" width="3.0" height="3.0" fill="white" stroke="#c040f0" stroke-width="0.6"/>
<line x1="39.5" y1="336.4" x2="39.5" y2="337.8" stroke="#c040f0" stroke-width="0.6"/>
<line x1="38.3" y1="336.4" x2="40.7" y2="336.4" stroke="#c040f0" stroke-width="0.6"/>
<rect x="38.0" y="336.3" width="3.0" height="3.0" fill="white" stroke="#c040f0" stroke-width="0.6"/>
<line x1="66.4" y1="352.6" x2="66.4" y2="355.1" stroke="#c040f0" stroke-width="0.6"/>
<line x1="65.2" y1="352.6" x2="67.6" y2="352.6" stroke="#c040f0" stroke-width="0.6"/>
<rect x="64.9" y="353.6" width="3.0" height="3.0" fill="white" stroke="#c040f0" stroke-width="0.6"/>
<line x1="86.0" y1="364.3" x2="86.0" y2="366.1" stroke="#c040f0" stroke-width="0.6"/>
<line x1="84.8" y1="364.3" x2="87.2" y2="364.3" stroke="#c040f0" stroke-width="0.6"/>
<rect x="84.5" y="364.6" width="3.0" height="3.0" fill="white" stroke="#c040f0" stroke-width="0.6"/>
<line x1="144.9" y1="377.3" x2="144.9" y2="378.9" stroke="#c040f0" stroke-width="0.6"/>
<line x1="143.7" y1="377.3" x2="146.1" y2="377.3" stroke="#c040f0" stroke-width="0.6"/>
<rect x="143.4" y="377.4" width="3.0" height="3.0" fill="white" stroke="#c040f0" stroke-width="0.6"/>
<path d="M27.6,316.5 L29.7,317.7 L32.1,319.7 L41.9,323.8 L66.4,330.0 L86.0,344.8 L144.9,357.8" fill="none" stroke="#1a1ae8" stroke-width="0.8"/>
<line x1="27.6" y1="315.6" x2="27.6" y2="316.5" stroke="#1a1ae8" stroke-width="0.6"/>
<line x1="26.4" y1="315.6" x2="28.8" y2="315.6" stroke="#1a1ae8" stroke-width="0.6"/>
<circle cx="27.6" cy="316.5" r="1.5" fill="#1a1ae8" stroke="#1a1ae8" stroke-width="0.6"/>
<line x1="29.7" y1="317.0" x2="29.7" y2="317.7" stroke="#1a1ae8" stroke-width="0.6"/>
<line x1="28.5" y1="317.0" x2="30.9" y2="317.0" stroke="#1a1ae8" stroke-width="0.6"/>
<circle cx="29.7" cy="317.7" r="1.5" fill="#1a1ae8" stroke="#1a1ae8" stroke-width="0.6"/>
<line x1="32.1" y1="319.0" x2="32.1" y2="319.7" stroke="#1a1ae8" stroke-width="0.6"/>
<line x1="30.9" y1="319.0" x2="33.3" y2="319.0" stroke="#1a1ae8" stroke-width="0.6"/>
<circle cx="32.1" cy="319.7" r="1.5" fill="#1a1ae8" stroke="#1a1ae8" stroke-width="0.6"/>
<line x1="41.9" y1="323.0" x2="41.9" y2="323.8" stroke="#1a1ae8" stroke-width="0.6"/>
<line x1="40.7" y1="323.0" x2="43.1" y2="323.0" stroke="#1a1ae8" stroke-width="0.6"/>
<circle cx="41.9" cy="323.8" r="1.5" fill="#1a1ae8" stroke="#1a1ae8" stroke-width="0.6"/>
<line x1="66.4" y1="328.9" x2="66.4" y2="330.0" stroke="#1a1ae8" stroke-width="0.6"/>
<line x1="65.2" y1="328.9" x2="67.6" y2="328.9" stroke="#1a1ae8" stroke-width="0.6"/>
<circle cx="66.4" cy="330.0" r="1.5" fill="#1a1ae8" stroke="#1a1ae8" stroke-width="0.6"/>
<line x1="86.0" y1="342.9" x2="86.0" y2="344.8" stroke="#1a1ae8" stroke-width="0.6"/>
<line x1="84.8" y1="342.9" x2="87.2" y2="342.9" stroke="#1a1ae8" stroke-width="0.6"/>
<circle cx="86.0" cy="344.8" r="1.5" fill="#1a1ae8" stroke="#1a1ae8" stroke-width="0.6"/>
<line x1="144.9" y1="355.4" x2="144.9" y2="357.8" stroke="#1a1ae8" stroke-width="0.6"/>
<line x1="143.7" y1="355.4" x2="146.1" y2="355.4" stroke="#1a1ae8" stroke-width="0.6"/>
<circle cx="144.9" cy="357.8" r="1.5" fill="#1a1ae8" stroke="#1a1ae8" stroke-width="0.6"/>
<line x1="35.6" y1="318.0" x2="35.6" y2="345.0" stroke="#555" stroke-width="0.5"/>
<line x1="33.6" y1="318.0" x2="35.6" y2="318.0" stroke="#555" stroke-width="0.5"/>
<line x1="33.6" y1="345.0" x2="35.6" y2="345.0" stroke="#555" stroke-width="0.5"/>
<line x1="43.2" y1="322.0" x2="43.2" y2="350.0" stroke="#555" stroke-width="0.5"/>
<line x1="41.2" y1="322.0" x2="43.2" y2="322.0" stroke="#555" stroke-width="0.5"/>
<line x1="41.2" y1="350.0" x2="43.2" y2="350.0" stroke="#555" stroke-width="0.5"/>
<line x1="71.0" y1="330.0" x2="71.0" y2="369.0" stroke="#555" stroke-width="0.5"/>
<line x1="69.0" y1="330.0" x2="71.0" y2="330.0" stroke="#555" stroke-width="0.5"/>
<line x1="69.0" y1="369.0" x2="71.0" y2="369.0" stroke="#555" stroke-width="0.5"/>
<line x1="90.0" y1="342.0" x2="90.0" y2="380.0" stroke="#555" stroke-width="0.5"/>
<line x1="88.0" y1="342.0" x2="90.0" y2="342.0" stroke="#555" stroke-width="0.5"/>
<line x1="88.0" y1="380.0" x2="90.0" y2="380.0" stroke="#555" stroke-width="0.5"/>
<line x1="149.5" y1="356.0" x2="149.5" y2="391.0" stroke="#555" stroke-width="0.5"/>
<line x1="147.5" y1="356.0" x2="149.5" y2="356.0" stroke="#555" stroke-width="0.5"/>
<line x1="147.5" y1="391.0" x2="149.5" y2="391.0" stroke="#555" stroke-width="0.5"/>
<text x="33.0" y="319.4" font-size="5.8" text-anchor="start" fill="#231f20"><tspan font-style="italic">P</tspan> = 8 × 10<tspan font-size="4.1" baseline-shift="45%">−6</tspan></text>
<text x="43.8" y="325.6" font-size="5.8" text-anchor="start" fill="#231f20"><tspan font-style="italic">P</tspan> = 10<tspan font-size="4.1" baseline-shift="45%">−7</tspan></text>
<text x="37.4" y="332.2" font-size="5.8" text-anchor="start" fill="#231f20"><tspan font-style="italic">P</tspan> = 0.0006</text>
<text x="44.4" y="348.6" font-size="5.8" text-anchor="start" fill="#231f20"><tspan font-style="italic">P</tspan> = 0.02</text>
<text x="72.4" y="352.0" font-size="5.8" text-anchor="start" fill="#231f20"><tspan font-style="italic">P</tspan> = 7 × 10<tspan font-size="4.1" baseline-shift="45%">−7</tspan></text>
<text x="90.5" y="359.4" font-size="5.8" text-anchor="start" fill="#231f20"><tspan font-style="italic">P</tspan> = 0.0032</text>
<text x="72.4" y="365.2" font-size="5.8" text-anchor="start" fill="#231f20"><tspan font-style="italic">P</tspan> = 0.0116</text>
<text x="90.5" y="377.8" font-size="5.8" text-anchor="start" fill="#231f20"><tspan font-style="italic">P</tspan> = 0.0896</text>
<text x="151.0" y="372.5" font-size="5.8" text-anchor="start" fill="#231f20"><tspan font-style="italic">P</tspan> = 0.0007</text>
<text x="151.0" y="388.9" font-size="5.8" text-anchor="start" fill="#231f20"><tspan font-style="italic">P</tspan> = 0.0412</text>
<line x1="16.8" y1="286.6" x2="24.1" y2="286.6" stroke="#d4a56a" stroke-width="0.7"/>
<circle cx="20.4" cy="286.6" r="1.3" fill="white" stroke="#d4a56a" stroke-width="0.6"/>
<text x="26.3" y="288.7" font-size="5.9" text-anchor="start" fill="#231f20" textLength="58.4" lengthAdjust="spacingAndGlyphs">GEM, T<tspan font-size="4.1" baseline-shift="-25%">1/2</tspan> = 0.39 ± 0.06</text>
<line x1="16.8" y1="292.8" x2="24.1" y2="292.8" stroke="#c040f0" stroke-width="0.7"/>
<rect x="19.1" y="291.5" width="2.6" height="2.6" fill="white" stroke="#c040f0" stroke-width="0.6"/>
<text x="26.3" y="294.9" font-size="5.9" text-anchor="start" fill="#231f20" textLength="69.5" lengthAdjust="spacingAndGlyphs">GEM/Lipo-SM, T<tspan font-size="4.1" baseline-shift="-25%">1/2</tspan> = 1.04 ± 0.07</text>
<line x1="16.8" y1="298.9" x2="24.1" y2="298.9" stroke="#20aabb" stroke-width="0.7"/>
<path d="M19.1,298.9 L21.7,298.9 M20.4,297.6 L20.4,300.2" fill="none" stroke="#20aabb" stroke-width="0.9"/>
<text x="26.3" y="301.0" font-size="5.9" text-anchor="start" fill="#231f20" textLength="108.3" lengthAdjust="spacingAndGlyphs">GEM/Lipo-SM + Abraxane, T<tspan font-size="4.1" baseline-shift="-25%">1/2</tspan> = 0.98 ± 0.06</text>
<line x1="16.8" y1="305.1" x2="24.1" y2="305.1" stroke="#1a1ae8" stroke-width="0.7"/>
<circle cx="20.4" cy="305.1" r="1.3" fill="#1a1ae8" stroke="#1a1ae8" stroke-width="0.6"/>
<text x="26.3" y="307.2" font-size="5.9" text-anchor="start" fill="#231f20" textLength="124.1" lengthAdjust="spacingAndGlyphs">CD47p/GEM/AZE-Paclitaxome-2, T<tspan font-size="4.1" baseline-shift="-25%">1/2</tspan> = 4.05 ± 0.44</text>
<text x="185.6" y="294.0" font-size="12" font-weight="bold" fill="#000" stroke="#000" stroke-width="0.35">h</text>
<line x1="213.5" y1="317.0" x2="213.5" y2="400.9" stroke="#231f20" stroke-width="0.6"/>
<line x1="211.3" y1="400.9" x2="213.5" y2="400.9" stroke="#231f20" stroke-width="0.6"/>
<text x="209.9" y="403.5" font-size="6.77" text-anchor="end" fill="#231f20" textLength="14.0" lengthAdjust="spacingAndGlyphs" stroke="#231f20" stroke-width="0.1">0.01</text>
<line x1="212.3" y1="394.7" x2="213.5" y2="394.7" stroke="#231f20" stroke-width="0.4"/>
<line x1="212.3" y1="391.1" x2="213.5" y2="391.1" stroke="#231f20" stroke-width="0.4"/>
<line x1="212.3" y1="388.5" x2="213.5" y2="388.5" stroke="#231f20" stroke-width="0.4"/>
<line x1="212.3" y1="386.5" x2="213.5" y2="386.5" stroke="#231f20" stroke-width="0.4"/>
<line x1="212.3" y1="384.9" x2="213.5" y2="384.9" stroke="#231f20" stroke-width="0.4"/>
<line x1="212.3" y1="383.5" x2="213.5" y2="383.5" stroke="#231f20" stroke-width="0.4"/>
<line x1="212.3" y1="382.3" x2="213.5" y2="382.3" stroke="#231f20" stroke-width="0.4"/>
<line x1="212.3" y1="381.2" x2="213.5" y2="381.2" stroke="#231f20" stroke-width="0.4"/>
<line x1="211.3" y1="380.3" x2="213.5" y2="380.3" stroke="#231f20" stroke-width="0.6"/>
<text x="209.9" y="382.9" font-size="6.77" text-anchor="end" fill="#231f20" textLength="10.0" lengthAdjust="spacingAndGlyphs" stroke="#231f20" stroke-width="0.1">0.1</text>
<line x1="212.3" y1="374.1" x2="213.5" y2="374.1" stroke="#231f20" stroke-width="0.4"/>
<line x1="212.3" y1="370.5" x2="213.5" y2="370.5" stroke="#231f20" stroke-width="0.4"/>
<line x1="212.3" y1="367.9" x2="213.5" y2="367.9" stroke="#231f20" stroke-width="0.4"/>
<line x1="212.3" y1="365.9" x2="213.5" y2="365.9" stroke="#231f20" stroke-width="0.4"/>
<line x1="212.3" y1="364.3" x2="213.5" y2="364.3" stroke="#231f20" stroke-width="0.4"/>
<line x1="212.3" y1="362.9" x2="213.5" y2="362.9" stroke="#231f20" stroke-width="0.4"/>
<line x1="212.3" y1="361.7" x2="213.5" y2="361.7" stroke="#231f20" stroke-width="0.4"/>
<line x1="212.3" y1="360.6" x2="213.5" y2="360.6" stroke="#231f20" stroke-width="0.4"/>
<line x1="211.3" y1="359.7" x2="213.5" y2="359.7" stroke="#231f20" stroke-width="0.6"/>
<text x="209.9" y="362.3" font-size="6.77" text-anchor="end" fill="#231f20" textLength="4.0" lengthAdjust="spacingAndGlyphs" stroke="#231f20" stroke-width="0.1">1</text>
<line x1="212.3" y1="353.5" x2="213.5" y2="353.5" stroke="#231f20" stroke-width="0.4"/>
<line x1="212.3" y1="349.9" x2="213.5" y2="349.9" stroke="#231f20" stroke-width="0.4"/>
<line x1="212.3" y1="347.3" x2="213.5" y2="347.3" stroke="#231f20" stroke-width="0.4"/>
<line x1="212.3" y1="345.3" x2="213.5" y2="345.3" stroke="#231f20" stroke-width="0.4"/>
<line x1="212.3" y1="343.7" x2="213.5" y2="343.7" stroke="#231f20" stroke-width="0.4"/>
<line x1="212.3" y1="342.3" x2="213.5" y2="342.3" stroke="#231f20" stroke-width="0.4"/>
<line x1="212.3" y1="341.1" x2="213.5" y2="341.1" stroke="#231f20" stroke-width="0.4"/>
<line x1="212.3" y1="340.0" x2="213.5" y2="340.0" stroke="#231f20" stroke-width="0.4"/>
<line x1="211.3" y1="339.1" x2="213.5" y2="339.1" stroke="#231f20" stroke-width="0.6"/>
<text x="209.9" y="341.7" font-size="6.77" text-anchor="end" fill="#231f20" textLength="8.0" lengthAdjust="spacingAndGlyphs" stroke="#231f20" stroke-width="0.1">10</text>
<line x1="212.3" y1="332.9" x2="213.5" y2="332.9" stroke="#231f20" stroke-width="0.4"/>
<line x1="212.3" y1="329.3" x2="213.5" y2="329.3" stroke="#231f20" stroke-width="0.4"/>
<line x1="212.3" y1="326.7" x2="213.5" y2="326.7" stroke="#231f20" stroke-width="0.4"/>
<line x1="212.3" y1="324.7" x2="213.5" y2="324.7" stroke="#231f20" stroke-width="0.4"/>
<line x1="212.3" y1="323.1" x2="213.5" y2="323.1" stroke="#231f20" stroke-width="0.4"/>
<line x1="212.3" y1="321.7" x2="213.5" y2="321.7" stroke="#231f20" stroke-width="0.4"/>
<line x1="212.3" y1="320.5" x2="213.5" y2="320.5" stroke="#231f20" stroke-width="0.4"/>
<line x1="212.3" y1="319.4" x2="213.5" y2="319.4" stroke="#231f20" stroke-width="0.4"/>
<line x1="211.3" y1="318.5" x2="213.5" y2="318.5" stroke="#231f20" stroke-width="0.6"/>
<text x="209.9" y="321.1" font-size="6.77" text-anchor="end" fill="#231f20" textLength="12.0" lengthAdjust="spacingAndGlyphs" stroke="#231f20" stroke-width="0.1">100</text>
<line x1="213.5" y1="400.9" x2="338.8" y2="400.9" stroke="#231f20" stroke-width="0.6"/>
<line x1="224.7" y1="400.9" x2="224.7" y2="402.9" stroke="#231f20" stroke-width="0.6"/>
<rect x="216.7" y="365.9" width="3.8" height="35.0" fill="#c8955a"/>
<line x1="218.6" y1="363.9" x2="218.6" y2="367.9" stroke="#222" stroke-width="0.5"/>
<line x1="217.7" y1="363.9" x2="219.5" y2="363.9" stroke="#222" stroke-width="0.5"/>
<circle cx="218.6" cy="365.0" r="0.8" fill="#222" stroke="none" stroke-width="0.6"/>
<rect x="220.8" y="366.8" width="3.8" height="34.1" fill="#a414e8"/>
<line x1="222.7" y1="364.8" x2="222.7" y2="368.8" stroke="#222" stroke-width="0.5"/>
<line x1="221.8" y1="364.8" x2="223.6" y2="364.8" stroke="#222" stroke-width="0.5"/>
<circle cx="222.7" cy="366.0" r="0.8" fill="#222" stroke="none" stroke-width="0.6"/>
<rect x="224.8" y="369.1" width="3.8" height="31.8" fill="#15868f"/>
<line x1="226.8" y1="367.1" x2="226.8" y2="371.1" stroke="#222" stroke-width="0.5"/>
<line x1="225.8" y1="367.1" x2="227.7" y2="367.1" stroke="#222" stroke-width="0.5"/>
<circle cx="226.8" cy="368.2" r="0.8" fill="#222" stroke="none" stroke-width="0.6"/>
<rect x="229.0" y="365.9" width="3.8" height="35.0" fill="#1414f0"/>
<line x1="230.9" y1="363.9" x2="230.9" y2="367.9" stroke="#222" stroke-width="0.5"/>
<line x1="230.0" y1="363.9" x2="231.8" y2="363.9" stroke="#222" stroke-width="0.5"/>
<circle cx="230.9" cy="365.0" r="0.8" fill="#222" stroke="none" stroke-width="0.6"/>
<text x="227.5" y="408.2" font-size="6.39" text-anchor="end" fill="#231f20" transform="rotate(-45 227.5 408.2)" textLength="16.6" lengthAdjust="spacingAndGlyphs" stroke="#231f20" stroke-width="0.05">Heart</text>
<line x1="245.2" y1="400.9" x2="245.2" y2="402.9" stroke="#231f20" stroke-width="0.6"/>
<rect x="237.2" y="325.6" width="3.8" height="75.3" fill="#c8955a"/>
<line x1="239.1" y1="323.6" x2="239.1" y2="327.6" stroke="#222" stroke-width="0.5"/>
<line x1="238.2" y1="323.6" x2="240.0" y2="323.6" stroke="#222" stroke-width="0.5"/>
<circle cx="239.1" cy="324.8" r="0.8" fill="#222" stroke="none" stroke-width="0.6"/>
<rect x="241.2" y="325.6" width="3.8" height="75.3" fill="#a414e8"/>
<line x1="243.2" y1="323.6" x2="243.2" y2="327.6" stroke="#222" stroke-width="0.5"/>
<line x1="242.2" y1="323.6" x2="244.1" y2="323.6" stroke="#222" stroke-width="0.5"/>
<circle cx="243.2" cy="324.8" r="0.8" fill="#222" stroke="none" stroke-width="0.6"/>
<rect x="245.3" y="326.3" width="3.8" height="74.6" fill="#15868f"/>
<line x1="247.2" y1="324.3" x2="247.2" y2="328.3" stroke="#222" stroke-width="0.5"/>
<line x1="246.3" y1="324.3" x2="248.2" y2="324.3" stroke="#222" stroke-width="0.5"/>
<circle cx="247.2" cy="325.4" r="0.8" fill="#222" stroke="none" stroke-width="0.6"/>
<rect x="249.5" y="332.9" width="3.8" height="68.0" fill="#1414f0"/>
<line x1="251.4" y1="330.9" x2="251.4" y2="334.9" stroke="#222" stroke-width="0.5"/>
<line x1="250.5" y1="330.9" x2="252.3" y2="330.9" stroke="#222" stroke-width="0.5"/>
<circle cx="251.4" cy="332.0" r="0.8" fill="#222" stroke="none" stroke-width="0.6"/>
<text x="248.0" y="408.2" font-size="6.39" text-anchor="end" fill="#231f20" transform="rotate(-45 248.0 408.2)" textLength="14.7" lengthAdjust="spacingAndGlyphs" stroke="#231f20" stroke-width="0.05">Liver</text>
<line x1="265.9" y1="400.9" x2="265.9" y2="402.9" stroke="#231f20" stroke-width="0.6"/>
<rect x="257.8" y="342.3" width="3.8" height="58.6" fill="#c8955a"/>
<line x1="259.8" y1="340.3" x2="259.8" y2="344.3" stroke="#222" stroke-width="0.5"/>
<line x1="258.9" y1="340.3" x2="260.6" y2="340.3" stroke="#222" stroke-width="0.5"/>
<circle cx="259.8" cy="341.4" r="0.8" fill="#222" stroke="none" stroke-width="0.6"/>
<rect x="261.9" y="341.7" width="3.8" height="59.2" fill="#a414e8"/>
<line x1="263.9" y1="339.7" x2="263.9" y2="343.7" stroke="#222" stroke-width="0.5"/>
<line x1="263.0" y1="339.7" x2="264.8" y2="339.7" stroke="#222" stroke-width="0.5"/>
<circle cx="263.9" cy="340.8" r="0.8" fill="#222" stroke="none" stroke-width="0.6"/>
<rect x="266.0" y="343.0" width="3.8" height="57.9" fill="#15868f"/>
<line x1="267.9" y1="341.0" x2="267.9" y2="345.0" stroke="#222" stroke-width="0.5"/>
<line x1="267.1" y1="341.0" x2="268.8" y2="341.0" stroke="#222" stroke-width="0.5"/>
<circle cx="267.9" cy="342.1" r="0.8" fill="#222" stroke="none" stroke-width="0.6"/>
<rect x="270.1" y="350.5" width="3.8" height="50.4" fill="#1414f0"/>
<line x1="272.1" y1="348.5" x2="272.1" y2="352.5" stroke="#222" stroke-width="0.5"/>
<line x1="271.2" y1="348.5" x2="272.9" y2="348.5" stroke="#222" stroke-width="0.5"/>
<circle cx="272.1" cy="349.6" r="0.8" fill="#222" stroke="none" stroke-width="0.6"/>
<text x="268.7" y="408.2" font-size="6.39" text-anchor="end" fill="#231f20" transform="rotate(-45 268.7 408.2)" textLength="21.2" lengthAdjust="spacingAndGlyphs" stroke="#231f20" stroke-width="0.05">Spleen</text>
<line x1="286.6" y1="400.9" x2="286.6" y2="402.9" stroke="#231f20" stroke-width="0.6"/>
<rect x="278.6" y="347.8" width="3.8" height="53.1" fill="#c8955a"/>
<line x1="280.5" y1="345.8" x2="280.5" y2="349.8" stroke="#222" stroke-width="0.5"/>
<line x1="279.6" y1="345.8" x2="281.4" y2="345.8" stroke="#222" stroke-width="0.5"/>
<circle cx="280.5" cy="346.9" r="0.8" fill="#222" stroke="none" stroke-width="0.6"/>
<rect x="282.7" y="347.8" width="3.8" height="53.1" fill="#a414e8"/>
<line x1="284.6" y1="345.8" x2="284.6" y2="349.8" stroke="#222" stroke-width="0.5"/>
<line x1="283.7" y1="345.8" x2="285.5" y2="345.8" stroke="#222" stroke-width="0.5"/>
<circle cx="284.6" cy="346.9" r="0.8" fill="#222" stroke="none" stroke-width="0.6"/>
<rect x="286.8" y="349.3" width="3.8" height="51.6" fill="#15868f"/>
<line x1="288.7" y1="347.3" x2="288.7" y2="351.3" stroke="#222" stroke-width="0.5"/>
<line x1="287.8" y1="347.3" x2="289.6" y2="347.3" stroke="#222" stroke-width="0.5"/>
<circle cx="288.7" cy="348.4" r="0.8" fill="#222" stroke="none" stroke-width="0.6"/>
<rect x="290.9" y="366.8" width="3.8" height="34.1" fill="#1414f0"/>
<line x1="292.8" y1="364.8" x2="292.8" y2="368.8" stroke="#222" stroke-width="0.5"/>
<line x1="291.9" y1="364.8" x2="293.7" y2="364.8" stroke="#222" stroke-width="0.5"/>
<circle cx="292.8" cy="366.0" r="0.8" fill="#222" stroke="none" stroke-width="0.6"/>
<text x="289.4" y="408.2" font-size="6.39" text-anchor="end" fill="#231f20" transform="rotate(-45 289.4 408.2)" textLength="15.1" lengthAdjust="spacingAndGlyphs" stroke="#231f20" stroke-width="0.05">Lung</text>
<line x1="307.4" y1="400.9" x2="307.4" y2="402.9" stroke="#231f20" stroke-width="0.6"/>
<rect x="299.3" y="354.4" width="3.8" height="46.5" fill="#c8955a"/>
<line x1="301.2" y1="352.4" x2="301.2" y2="356.4" stroke="#222" stroke-width="0.5"/>
<line x1="300.4" y1="352.4" x2="302.1" y2="352.4" stroke="#222" stroke-width="0.5"/>
<circle cx="301.2" cy="353.6" r="0.8" fill="#222" stroke="none" stroke-width="0.6"/>
<rect x="303.4" y="350.8" width="3.8" height="50.1" fill="#a414e8"/>
<line x1="305.4" y1="348.8" x2="305.4" y2="352.8" stroke="#222" stroke-width="0.5"/>
<line x1="304.5" y1="348.8" x2="306.2" y2="348.8" stroke="#222" stroke-width="0.5"/>
<circle cx="305.4" cy="350.0" r="0.8" fill="#222" stroke="none" stroke-width="0.6"/>
<rect x="307.5" y="350.8" width="3.8" height="50.1" fill="#15868f"/>
<line x1="309.4" y1="348.8" x2="309.4" y2="352.8" stroke="#222" stroke-width="0.5"/>
<line x1="308.6" y1="348.8" x2="310.3" y2="348.8" stroke="#222" stroke-width="0.5"/>
<circle cx="309.4" cy="350.0" r="0.8" fill="#222" stroke="none" stroke-width="0.6"/>
<rect x="311.6" y="360.6" width="3.8" height="40.3" fill="#1414f0"/>
<line x1="313.6" y1="358.6" x2="313.6" y2="362.6" stroke="#222" stroke-width="0.5"/>
<line x1="312.7" y1="358.6" x2="314.4" y2="358.6" stroke="#222" stroke-width="0.5"/>
<circle cx="313.6" cy="359.8" r="0.8" fill="#222" stroke="none" stroke-width="0.6"/>
<text x="310.2" y="408.2" font-size="6.39" text-anchor="end" fill="#231f20" transform="rotate(-45 310.2 408.2)" textLength="20.8" lengthAdjust="spacingAndGlyphs" stroke="#231f20" stroke-width="0.05">Kidney</text>
<line x1="328.2" y1="400.9" x2="328.2" y2="402.9" stroke="#231f20" stroke-width="0.6"/>
<rect x="320.1" y="374.1" width="3.8" height="26.8" fill="#c8955a"/>
<line x1="322.1" y1="372.1" x2="322.1" y2="376.1" stroke="#222" stroke-width="0.5"/>
<line x1="321.2" y1="372.1" x2="322.9" y2="372.1" stroke="#222" stroke-width="0.5"/>
<circle cx="322.1" cy="373.2" r="0.8" fill="#222" stroke="none" stroke-width="0.6"/>
<rect x="324.2" y="365.9" width="3.8" height="35.0" fill="#a414e8"/>
<line x1="326.2" y1="363.9" x2="326.2" y2="367.9" stroke="#222" stroke-width="0.5"/>
<line x1="325.3" y1="363.9" x2="327.1" y2="363.9" stroke="#222" stroke-width="0.5"/>
<circle cx="326.2" cy="365.0" r="0.8" fill="#222" stroke="none" stroke-width="0.6"/>
<rect x="328.3" y="365.6" width="3.8" height="35.3" fill="#15868f"/>
<line x1="330.2" y1="363.6" x2="330.2" y2="367.5" stroke="#222" stroke-width="0.5"/>
<line x1="329.4" y1="363.6" x2="331.1" y2="363.6" stroke="#222" stroke-width="0.5"/>
<circle cx="330.2" cy="364.7" r="0.8" fill="#222" stroke="none" stroke-width="0.6"/>
<rect x="332.4" y="342.2" width="3.8" height="58.7" fill="#1414f0"/>
<line x1="334.4" y1="340.2" x2="334.4" y2="344.2" stroke="#222" stroke-width="0.5"/>
<line x1="333.5" y1="340.2" x2="335.2" y2="340.2" stroke="#222" stroke-width="0.5"/>
<circle cx="334.4" cy="341.3" r="0.8" fill="#222" stroke="none" stroke-width="0.6"/>
<text x="331.0" y="408.2" font-size="6.39" text-anchor="end" fill="#231f20" transform="rotate(-45 331.0 408.2)" textLength="19.4" lengthAdjust="spacingAndGlyphs" stroke="#231f20" stroke-width="0.05">Tumor</text>
<text x="193.2" y="360.0" font-size="7.14" text-anchor="middle" fill="#231f20" transform="rotate(-90 193.2 360.0)" textLength="78.6" lengthAdjust="spacingAndGlyphs" stroke="#231f20" stroke-width="0.1">Injected GEM dose (%)</text>
<rect x="215.6" y="286.4" width="3.0" height="3.2" fill="#c8955a"/>
<text x="221.0" y="290.0" font-size="5.55" text-anchor="start" fill="#231f20" textLength="12.1" lengthAdjust="spacingAndGlyphs" stroke="#231f20" stroke-width="0.05">GEM</text>
<rect x="215.6" y="292.1" width="3.0" height="3.2" fill="#a414e8"/>
<text x="221.0" y="295.8" font-size="5.55" text-anchor="start" fill="#231f20" textLength="33.3" lengthAdjust="spacingAndGlyphs" stroke="#231f20" stroke-width="0.05">GEM/Lipo-SM</text>
<rect x="215.6" y="297.9" width="3.0" height="3.2" fill="#15868f"/>
<text x="221.0" y="301.5" font-size="5.55" text-anchor="start" fill="#231f20" textLength="61.8" lengthAdjust="spacingAndGlyphs" stroke="#231f20" stroke-width="0.05">GEM/Lipo-SM + Abraxane</text>
<rect x="215.6" y="303.6" width="3.0" height="3.2" fill="#1414f0"/>
<text x="221.0" y="307.2" font-size="5.55" text-anchor="start" fill="#231f20" textLength="77.3" lengthAdjust="spacingAndGlyphs" stroke="#231f20" stroke-width="0.05">CD47p/GEM/AZE-Paclitaxome-2</text>
<path d="M238.5,321.2 L238.5,318.2 L251.5,318.2 L251.5,321.2" fill="none" stroke="#333" stroke-width="0.5"/>
<text x="234.5" y="316.4" font-size="5.8" text-anchor="start" fill="#231f20"><tspan font-style="italic">P</tspan> = 0.0001</text>
<path d="M260.0,336.5 L260.0,333.5 L272.0,333.5 L272.0,336.5" fill="none" stroke="#333" stroke-width="0.5"/>
<text x="255.0" y="331.6" font-size="5.8" text-anchor="start" fill="#231f20"><tspan font-style="italic">P</tspan> = 0.0452</text>
<path d="M280.0,341.5 L280.0,338.5 L293.0,338.5 L293.0,341.5" fill="none" stroke="#333" stroke-width="0.5"/>
<text x="276.0" y="336.8" font-size="5.8" text-anchor="start" fill="#231f20"><tspan font-style="italic">P</tspan> = 0.008</text>
<path d="M300.0,346.0 L300.0,343.0 L314.0,343.0 L314.0,346.0" fill="none" stroke="#333" stroke-width="0.5"/>
<text x="296.5" y="341.2" font-size="5.8" text-anchor="start" fill="#231f20"><tspan font-style="italic">P</tspan> = 0.006</text>
<path d="M321.0,363.0 L321.0,360.0 L335.0,360.0 L335.0,363.0" fill="none" stroke="#333" stroke-width="0.5"/>
<text x="312.0" y="358.2" font-size="5.8" text-anchor="start" fill="#231f20"><tspan font-style="italic">P</tspan> = 0.0203</text>
<path d="M331.5,334.0 L333.5,334.0 L333.5,343.0 L331.5,343.0" fill="none" stroke="#333" stroke-width="0.5"/>
<text x="330.5" y="337.0" font-size="5.6" text-anchor="start" fill="#231f20"><tspan font-style="italic">P</tspan> = 5 × 10<tspan font-size="3.9" baseline-shift="45%">−7</tspan></text>
<text x="328.2" y="318.5" font-size="5.55" text-anchor="middle" fill="#231f20" textLength="16.7" lengthAdjust="spacingAndGlyphs" stroke="#231f20" stroke-width="0.05">7.07%</text>
<line x1="331.0" y1="320.0" x2="333.0" y2="327.0" stroke="#1414f0" stroke-width="0.6"/>
<text x="316.0" y="322.0" font-size="5.55" text-anchor="middle" fill="#231f20" textLength="16.7" lengthAdjust="spacingAndGlyphs" stroke="#231f20" stroke-width="0.05">0.52%</text>
<line x1="318.0" y1="323.0" x2="327.0" y2="335.0" stroke="#15868f" stroke-width="0.6"/>
<text x="313.5" y="327.6" font-size="5.55" text-anchor="middle" fill="#231f20" textLength="16.7" lengthAdjust="spacingAndGlyphs" stroke="#231f20" stroke-width="0.05">0.46%</text>
<line x1="316.0" y1="329.0" x2="323.0" y2="340.0" stroke="#a414e8" stroke-width="0.6"/>
<text x="311.5" y="335.2" font-size="5.55" text-anchor="middle" fill="#231f20" textLength="16.7" lengthAdjust="spacingAndGlyphs" stroke="#231f20" stroke-width="0.05">0.27%</text>
<line x1="313.0" y1="337.0" x2="320.0" y2="357.0" stroke="#c8955a" stroke-width="0.6"/>
<text x="356.4" y="293.8" font-size="12" font-weight="bold" fill="#000" stroke="#000" stroke-width="0.35">i</text>
<line x1="385.2" y1="313.5" x2="385.2" y2="393.8" stroke="#231f20" stroke-width="0.6"/>
<line x1="383.0" y1="393.8" x2="385.2" y2="393.8" stroke="#231f20" stroke-width="0.6"/>
<text x="381.6" y="396.4" font-size="6.77" text-anchor="end" fill="#231f20" textLength="14.0" lengthAdjust="spacingAndGlyphs" stroke="#231f20" stroke-width="0.1">0.01</text>
<line x1="384.0" y1="387.9" x2="385.2" y2="387.9" stroke="#231f20" stroke-width="0.4"/>
<line x1="384.0" y1="384.4" x2="385.2" y2="384.4" stroke="#231f20" stroke-width="0.4"/>
<line x1="384.0" y1="381.9" x2="385.2" y2="381.9" stroke="#231f20" stroke-width="0.4"/>
<line x1="384.0" y1="380.0" x2="385.2" y2="380.0" stroke="#231f20" stroke-width="0.4"/>
<line x1="384.0" y1="378.5" x2="385.2" y2="378.5" stroke="#231f20" stroke-width="0.4"/>
<line x1="384.0" y1="377.2" x2="385.2" y2="377.2" stroke="#231f20" stroke-width="0.4"/>
<line x1="384.0" y1="376.0" x2="385.2" y2="376.0" stroke="#231f20" stroke-width="0.4"/>
<line x1="384.0" y1="375.0" x2="385.2" y2="375.0" stroke="#231f20" stroke-width="0.4"/>
<line x1="383.0" y1="374.1" x2="385.2" y2="374.1" stroke="#231f20" stroke-width="0.6"/>
<text x="381.6" y="376.7" font-size="6.77" text-anchor="end" fill="#231f20" textLength="10.0" lengthAdjust="spacingAndGlyphs" stroke="#231f20" stroke-width="0.1">0.1</text>
<line x1="384.0" y1="368.2" x2="385.2" y2="368.2" stroke="#231f20" stroke-width="0.4"/>
<line x1="384.0" y1="364.7" x2="385.2" y2="364.7" stroke="#231f20" stroke-width="0.4"/>
<line x1="384.0" y1="362.2" x2="385.2" y2="362.2" stroke="#231f20" stroke-width="0.4"/>
<line x1="384.0" y1="360.3" x2="385.2" y2="360.3" stroke="#231f20" stroke-width="0.4"/>
<line x1="384.0" y1="358.8" x2="385.2" y2="358.8" stroke="#231f20" stroke-width="0.4"/>
<line x1="384.0" y1="357.5" x2="385.2" y2="357.5" stroke="#231f20" stroke-width="0.4"/>
<line x1="384.0" y1="356.3" x2="385.2" y2="356.3" stroke="#231f20" stroke-width="0.4"/>
<line x1="384.0" y1="355.3" x2="385.2" y2="355.3" stroke="#231f20" stroke-width="0.4"/>
<line x1="383.0" y1="354.4" x2="385.2" y2="354.4" stroke="#231f20" stroke-width="0.6"/>
<text x="381.6" y="357.0" font-size="6.77" text-anchor="end" fill="#231f20" textLength="4.0" lengthAdjust="spacingAndGlyphs" stroke="#231f20" stroke-width="0.1">1</text>
<line x1="384.0" y1="348.5" x2="385.2" y2="348.5" stroke="#231f20" stroke-width="0.4"/>
<line x1="384.0" y1="345.0" x2="385.2" y2="345.0" stroke="#231f20" stroke-width="0.4"/>
<line x1="384.0" y1="342.5" x2="385.2" y2="342.5" stroke="#231f20" stroke-width="0.4"/>
<line x1="384.0" y1="340.6" x2="385.2" y2="340.6" stroke="#231f20" stroke-width="0.4"/>
<line x1="384.0" y1="339.1" x2="385.2" y2="339.1" stroke="#231f20" stroke-width="0.4"/>
<line x1="384.0" y1="337.8" x2="385.2" y2="337.8" stroke="#231f20" stroke-width="0.4"/>
<line x1="384.0" y1="336.6" x2="385.2" y2="336.6" stroke="#231f20" stroke-width="0.4"/>
<line x1="384.0" y1="335.6" x2="385.2" y2="335.6" stroke="#231f20" stroke-width="0.4"/>
<line x1="383.0" y1="334.7" x2="385.2" y2="334.7" stroke="#231f20" stroke-width="0.6"/>
<text x="381.6" y="337.3" font-size="6.77" text-anchor="end" fill="#231f20" textLength="8.0" lengthAdjust="spacingAndGlyphs" stroke="#231f20" stroke-width="0.1">10</text>
<line x1="384.0" y1="328.8" x2="385.2" y2="328.8" stroke="#231f20" stroke-width="0.4"/>
<line x1="384.0" y1="325.3" x2="385.2" y2="325.3" stroke="#231f20" stroke-width="0.4"/>
<line x1="384.0" y1="322.8" x2="385.2" y2="322.8" stroke="#231f20" stroke-width="0.4"/>
<line x1="384.0" y1="320.9" x2="385.2" y2="320.9" stroke="#231f20" stroke-width="0.4"/>
<line x1="384.0" y1="319.4" x2="385.2" y2="319.4" stroke="#231f20" stroke-width="0.4"/>
<line x1="384.0" y1="318.1" x2="385.2" y2="318.1" stroke="#231f20" stroke-width="0.4"/>
<line x1="384.0" y1="316.9" x2="385.2" y2="316.9" stroke="#231f20" stroke-width="0.4"/>
<line x1="384.0" y1="315.9" x2="385.2" y2="315.9" stroke="#231f20" stroke-width="0.4"/>
<line x1="383.0" y1="315.0" x2="385.2" y2="315.0" stroke="#231f20" stroke-width="0.6"/>
<text x="381.6" y="317.6" font-size="6.77" text-anchor="end" fill="#231f20" textLength="12.0" lengthAdjust="spacingAndGlyphs" stroke="#231f20" stroke-width="0.1">100</text>
<line x1="385.2" y1="393.8" x2="508.7" y2="393.8" stroke="#231f20" stroke-width="0.6"/>
<line x1="385.2" y1="393.8" x2="385.2" y2="395.8" stroke="#231f20" stroke-width="0.6"/>
<text x="385.2" y="403.4" font-size="6.86" text-anchor="middle" fill="#231f20" textLength="4.1" lengthAdjust="spacingAndGlyphs" stroke="#231f20" stroke-width="0.1">0</text>
<line x1="409.9" y1="393.8" x2="409.9" y2="395.8" stroke="#231f20" stroke-width="0.6"/>
<text x="409.9" y="403.4" font-size="6.86" text-anchor="middle" fill="#231f20" textLength="4.1" lengthAdjust="spacingAndGlyphs" stroke="#231f20" stroke-width="0.1">5</text>
<line x1="434.6" y1="393.8" x2="434.6" y2="395.8" stroke="#231f20" stroke-width="0.6"/>
<text x="434.6" y="403.4" font-size="6.86" text-anchor="middle" fill="#231f20" textLength="8.1" lengthAdjust="spacingAndGlyphs" stroke="#231f20" stroke-width="0.1">10</text>
<line x1="459.3" y1="393.8" x2="459.3" y2="395.8" stroke="#231f20" stroke-width="0.6"/>
<text x="459.3" y="403.4" font-size="6.86" text-anchor="middle" fill="#231f20" textLength="8.1" lengthAdjust="spacingAndGlyphs" stroke="#231f20" stroke-width="0.1">15</text>
<line x1="484.0" y1="393.8" x2="484.0" y2="395.8" stroke="#231f20" stroke-width="0.6"/>
<text x="484.0" y="403.4" font-size="6.86" text-anchor="middle" fill="#231f20" textLength="8.1" lengthAdjust="spacingAndGlyphs" stroke="#231f20" stroke-width="0.1">20</text>
<line x1="508.7" y1="393.8" x2="508.7" y2="395.8" stroke="#231f20" stroke-width="0.6"/>
<text x="508.7" y="403.4" font-size="6.86" text-anchor="middle" fill="#231f20" textLength="8.1" lengthAdjust="spacingAndGlyphs" stroke="#231f20" stroke-width="0.1">25</text>
<text x="362.6" y="354.5" font-size="7.14" text-anchor="middle" fill="#231f20" transform="rotate(-90 362.6 354.5)" textLength="76.0" lengthAdjust="spacingAndGlyphs" stroke="#231f20" stroke-width="0.1">Injected PTX dose (%)</text>
<text x="443.8" y="415.2" font-size="7.14" text-anchor="middle" fill="#231f20" textLength="86.6" lengthAdjust="spacingAndGlyphs" stroke="#231f20" stroke-width="0.1">Time after i.v. injection (h)</text>
<path d="M385.6,316.9 L387.7,320.1 L390.1,321.8 L397.6,334.7 L424.7,358.8 L444.5,363.4 L503.8,376.0" fill="none" stroke="#d4a56a" stroke-width="0.8"/>
<line x1="385.6" y1="315.9" x2="385.6" y2="316.9" stroke="#d4a56a" stroke-width="0.6"/>
<line x1="384.4" y1="315.9" x2="386.8" y2="315.9" stroke="#d4a56a" stroke-width="0.6"/>
<circle cx="385.6" cy="316.9" r="1.5" fill="white" stroke="#d4a56a" stroke-width="0.6"/>
<line x1="387.7" y1="319.2" x2="387.7" y2="320.1" stroke="#d4a56a" stroke-width="0.6"/>
<line x1="386.5" y1="319.2" x2="388.9" y2="319.2" stroke="#d4a56a" stroke-width="0.6"/>
<circle cx="387.7" cy="320.1" r="1.5" fill="white" stroke="#d4a56a" stroke-width="0.6"/>
<line x1="390.1" y1="320.9" x2="390.1" y2="321.8" stroke="#d4a56a" stroke-width="0.6"/>
<line x1="388.9" y1="320.9" x2="391.3" y2="320.9" stroke="#d4a56a" stroke-width="0.6"/>
<circle cx="390.1" cy="321.8" r="1.5" fill="white" stroke="#d4a56a" stroke-width="0.6"/>
<line x1="397.6" y1="333.5" x2="397.6" y2="334.7" stroke="#d4a56a" stroke-width="0.6"/>
<line x1="396.4" y1="333.5" x2="398.8" y2="333.5" stroke="#d4a56a" stroke-width="0.6"/>
<circle cx="397.6" cy="334.7" r="1.5" fill="white" stroke="#d4a56a" stroke-width="0.6"/>
<line x1="424.7" y1="357.5" x2="424.7" y2="358.8" stroke="#d4a56a" stroke-width="0.6"/>
<line x1="423.5" y1="357.5" x2="425.9" y2="357.5" stroke="#d4a56a" stroke-width="0.6"/>
<circle cx="424.7" cy="358.8" r="1.5" fill="white" stroke="#d4a56a" stroke-width="0.6"/>
<line x1="444.5" y1="360.3" x2="444.5" y2="363.4" stroke="#d4a56a" stroke-width="0.6"/>
<line x1="443.3" y1="360.3" x2="445.7" y2="360.3" stroke="#d4a56a" stroke-width="0.6"/>
<circle cx="444.5" cy="363.4" r="1.5" fill="white" stroke="#d4a56a" stroke-width="0.6"/>
<line x1="503.8" y1="372.5" x2="503.8" y2="376.0" stroke="#d4a56a" stroke-width="0.6"/>
<line x1="502.6" y1="372.5" x2="505.0" y2="372.5" stroke="#d4a56a" stroke-width="0.6"/>
<circle cx="503.8" cy="376.0" r="1.5" fill="white" stroke="#d4a56a" stroke-width="0.6"/>
<path d="M385.6,318.1 L387.7,319.4 L390.1,321.8 L397.6,332.5 L424.7,358.8 L444.5,367.4 L503.8,376.0" fill="none" stroke="#20aabb" stroke-width="0.8"/>
<line x1="385.6" y1="317.1" x2="385.6" y2="318.1" stroke="#20aabb" stroke-width="0.6"/>
<line x1="384.4" y1="317.1" x2="386.8" y2="317.1" stroke="#20aabb" stroke-width="0.6"/>
<path d="M384.1,318.1 L387.1,318.1 M385.6,316.6 L385.6,319.6" fill="none" stroke="#20aabb" stroke-width="0.9"/>
<line x1="387.7" y1="318.6" x2="387.7" y2="319.4" stroke="#20aabb" stroke-width="0.6"/>
<line x1="386.5" y1="318.6" x2="388.9" y2="318.6" stroke="#20aabb" stroke-width="0.6"/>
<path d="M386.2,319.4 L389.2,319.4 M387.7,317.9 L387.7,320.9" fill="none" stroke="#20aabb" stroke-width="0.9"/>
<line x1="390.1" y1="320.9" x2="390.1" y2="321.8" stroke="#20aabb" stroke-width="0.6"/>
<line x1="388.9" y1="320.9" x2="391.3" y2="320.9" stroke="#20aabb" stroke-width="0.6"/>
<path d="M388.6,321.8 L391.6,321.8 M390.1,320.3 L390.1,323.3" fill="none" stroke="#20aabb" stroke-width="0.9"/>
<line x1="397.6" y1="331.2" x2="397.6" y2="332.5" stroke="#20aabb" stroke-width="0.6"/>
<line x1="396.4" y1="331.2" x2="398.8" y2="331.2" stroke="#20aabb" stroke-width="0.6"/>
<path d="M396.1,332.5 L399.1,332.5 M397.6,331.0 L397.6,334.0" fill="none" stroke="#20aabb" stroke-width="0.9"/>
<line x1="424.7" y1="357.5" x2="424.7" y2="358.8" stroke="#20aabb" stroke-width="0.6"/>
<line x1="423.5" y1="357.5" x2="425.9" y2="357.5" stroke="#20aabb" stroke-width="0.6"/>
<path d="M423.2,358.8 L426.2,358.8 M424.7,357.3 L424.7,360.3" fill="none" stroke="#20aabb" stroke-width="0.9"/>
<line x1="444.5" y1="365.9" x2="444.5" y2="367.4" stroke="#20aabb" stroke-width="0.6"/>
<line x1="443.3" y1="365.9" x2="445.7" y2="365.9" stroke="#20aabb" stroke-width="0.6"/>
<path d="M443.0,367.4 L446.0,367.4 M444.5,365.9 L444.5,368.9" fill="none" stroke="#20aabb" stroke-width="0.9"/>
<line x1="503.8" y1="374.1" x2="503.8" y2="376.0" stroke="#20aabb" stroke-width="0.6"/>
<line x1="502.6" y1="374.1" x2="505.0" y2="374.1" stroke="#20aabb" stroke-width="0.6"/>
<path d="M502.3,376.0 L505.3,376.0 M503.8,374.5 L503.8,377.5" fill="none" stroke="#20aabb" stroke-width="0.9"/>
<path d="M385.6,315.0 L387.7,315.4 L390.1,316.9 L397.6,319.4 L424.7,322.8 L444.5,331.2 L503.8,337.2" fill="none" stroke="#1a1ae8" stroke-width="0.8"/>
<line x1="385.6" y1="314.3" x2="385.6" y2="315.0" stroke="#1a1ae8" stroke-width="0.6"/>
<line x1="384.4" y1="314.3" x2="386.8" y2="314.3" stroke="#1a1ae8" stroke-width="0.6"/>
<circle cx="385.6" cy="315.0" r="1.5" fill="#1a1ae8" stroke="#1a1ae8" stroke-width="0.6"/>
<line x1="387.7" y1="314.9" x2="387.7" y2="315.4" stroke="#1a1ae8" stroke-width="0.6"/>
<line x1="386.5" y1="314.9" x2="388.9" y2="314.9" stroke="#1a1ae8" stroke-width="0.6"/>
<circle cx="387.7" cy="315.4" r="1.5" fill="#1a1ae8" stroke="#1a1ae8" stroke-width="0.6"/>
<line x1="390.1" y1="316.4" x2="390.1" y2="316.9" stroke="#1a1ae8" stroke-width="0.6"/>
<line x1="388.9" y1="316.4" x2="391.3" y2="316.4" stroke="#1a1ae8" stroke-width="0.6"/>
<circle cx="390.1" cy="316.9" r="1.5" fill="#1a1ae8" stroke="#1a1ae8" stroke-width="0.6"/>
<line x1="397.6" y1="318.7" x2="397.6" y2="319.4" stroke="#1a1ae8" stroke-width="0.6"/>
<line x1="396.4" y1="318.7" x2="398.8" y2="318.7" stroke="#1a1ae8" stroke-width="0.6"/>
<circle cx="397.6" cy="319.4" r="1.5" fill="#1a1ae8" stroke="#1a1ae8" stroke-width="0.6"/>
<line x1="424.7" y1="322.0" x2="424.7" y2="322.8" stroke="#1a1ae8" stroke-width="0.6"/>
<line x1="423.5" y1="322.0" x2="425.9" y2="322.0" stroke="#1a1ae8" stroke-width="0.6"/>
<circle cx="424.7" cy="322.8" r="1.5" fill="#1a1ae8" stroke="#1a1ae8" stroke-width="0.6"/>
<line x1="444.5" y1="330.2" x2="444.5" y2="331.2" stroke="#1a1ae8" stroke-width="0.6"/>
<line x1="443.3" y1="330.2" x2="445.7" y2="330.2" stroke="#1a1ae8" stroke-width="0.6"/>
<circle cx="444.5" cy="331.2" r="1.5" fill="#1a1ae8" stroke="#1a1ae8" stroke-width="0.6"/>
<line x1="503.8" y1="334.3" x2="503.8" y2="337.2" stroke="#1a1ae8" stroke-width="0.6"/>
<line x1="502.6" y1="334.3" x2="505.0" y2="334.3" stroke="#1a1ae8" stroke-width="0.6"/>
<circle cx="503.8" cy="337.2" r="1.5" fill="#1a1ae8" stroke="#1a1ae8" stroke-width="0.6"/>
<line x1="401.2" y1="320.0" x2="401.2" y2="335.0" stroke="#555" stroke-width="0.5"/>
<line x1="399.2" y1="320.0" x2="401.2" y2="320.0" stroke="#555" stroke-width="0.5"/>
<line x1="399.2" y1="335.0" x2="401.2" y2="335.0" stroke="#555" stroke-width="0.5"/>
<line x1="428.0" y1="323.0" x2="428.0" y2="358.0" stroke="#555" stroke-width="0.5"/>
<line x1="426.0" y1="323.0" x2="428.0" y2="323.0" stroke="#555" stroke-width="0.5"/>
<line x1="426.0" y1="358.0" x2="428.0" y2="358.0" stroke="#555" stroke-width="0.5"/>
<line x1="448.2" y1="334.0" x2="448.2" y2="362.0" stroke="#555" stroke-width="0.5"/>
<line x1="446.2" y1="334.0" x2="448.2" y2="334.0" stroke="#555" stroke-width="0.5"/>
<line x1="446.2" y1="362.0" x2="448.2" y2="362.0" stroke="#555" stroke-width="0.5"/>
<line x1="507.4" y1="336.0" x2="507.4" y2="375.0" stroke="#555" stroke-width="0.5"/>
<line x1="505.4" y1="336.0" x2="507.4" y2="336.0" stroke="#555" stroke-width="0.5"/>
<line x1="505.4" y1="375.0" x2="507.4" y2="375.0" stroke="#555" stroke-width="0.5"/>
<text x="389.9" y="317.0" font-size="5.8" text-anchor="start" fill="#231f20"><tspan font-style="italic">P</tspan> = 0.0008</text>
<text x="402.5" y="331.4" font-size="5.8" text-anchor="start" fill="#231f20"><tspan font-style="italic">P</tspan> = 5 × 10<tspan font-size="4.1" baseline-shift="45%">−5</tspan></text>
<text x="429.3" y="344.3" font-size="5.8" text-anchor="start" fill="#231f20"><tspan font-style="italic">P</tspan> = 9 × 10<tspan font-size="4.1" baseline-shift="45%">−5</tspan></text>
<text x="449.8" y="349.8" font-size="5.8" text-anchor="start" fill="#231f20"><tspan font-style="italic">P</tspan> = 3 × 10<tspan font-size="4.1" baseline-shift="45%">−5</tspan></text>
<text x="481.9" y="359.0" font-size="5.8" text-anchor="start" fill="#231f20"><tspan font-style="italic">P</tspan> = 0.005</text>
<line x1="365.8" y1="291.8" x2="373.0" y2="291.8" stroke="#d4a56a" stroke-width="0.7"/>
<circle cx="369.4" cy="291.8" r="1.3" fill="white" stroke="#d4a56a" stroke-width="0.6"/>
<text x="375.5" y="293.9" font-size="5.9" text-anchor="start" fill="#231f20" textLength="67.5" lengthAdjust="spacingAndGlyphs">Abraxane, T<tspan font-size="4.1" baseline-shift="-25%">1/2</tspan> = 1.00 ± 0.08</text>
<line x1="365.8" y1="298.1" x2="373.0" y2="298.1" stroke="#20aabb" stroke-width="0.7"/>
<path d="M368.1,298.1 L370.7,298.1 M369.4,296.8 L369.4,299.4" fill="none" stroke="#20aabb" stroke-width="0.9"/>
<text x="375.5" y="300.2" font-size="5.9" text-anchor="start" fill="#231f20" textLength="104.3" lengthAdjust="spacingAndGlyphs">GEM/Lipo-SM + Abraxane, T<tspan font-size="4.1" baseline-shift="-25%">1/2</tspan> = 1.07 ± 0.14</text>
<line x1="365.8" y1="304.4" x2="373.0" y2="304.4" stroke="#1a1ae8" stroke-width="0.7"/>
<circle cx="369.4" cy="304.4" r="1.3" fill="#1a1ae8" stroke="#1a1ae8" stroke-width="0.6"/>
<text x="375.5" y="306.5" font-size="5.9" text-anchor="start" fill="#231f20" textLength="134.8" lengthAdjust="spacingAndGlyphs">CD47p/GEM/AZE-Paclitaxome-2, T<tspan font-size="4.1" baseline-shift="-25%">1/2</tspan> = 5.11 ± 0.35</text>
<text x="522.0" y="293.8" font-size="12" font-weight="bold" fill="#000" stroke="#000" stroke-width="0.35">j</text>
<line x1="548.3" y1="313.0" x2="548.3" y2="400.5" stroke="#231f20" stroke-width="0.6"/>
<line x1="546.1" y1="400.5" x2="548.3" y2="400.5" stroke="#231f20" stroke-width="0.6"/>
<text x="544.7" y="403.1" font-size="6.77" text-anchor="end" fill="#231f20" textLength="14.0" lengthAdjust="spacingAndGlyphs" stroke="#231f20" stroke-width="0.1">0.01</text>
<line x1="547.1" y1="394.0" x2="548.3" y2="394.0" stroke="#231f20" stroke-width="0.4"/>
<line x1="547.1" y1="390.2" x2="548.3" y2="390.2" stroke="#231f20" stroke-width="0.4"/>
<line x1="547.1" y1="387.6" x2="548.3" y2="387.6" stroke="#231f20" stroke-width="0.4"/>
<line x1="547.1" y1="385.5" x2="548.3" y2="385.5" stroke="#231f20" stroke-width="0.4"/>
<line x1="547.1" y1="383.8" x2="548.3" y2="383.8" stroke="#231f20" stroke-width="0.4"/>
<line x1="547.1" y1="382.3" x2="548.3" y2="382.3" stroke="#231f20" stroke-width="0.4"/>
<line x1="547.1" y1="381.1" x2="548.3" y2="381.1" stroke="#231f20" stroke-width="0.4"/>
<line x1="547.1" y1="380.0" x2="548.3" y2="380.0" stroke="#231f20" stroke-width="0.4"/>
<line x1="546.1" y1="379.0" x2="548.3" y2="379.0" stroke="#231f20" stroke-width="0.6"/>
<text x="544.7" y="381.6" font-size="6.77" text-anchor="end" fill="#231f20" textLength="10.0" lengthAdjust="spacingAndGlyphs" stroke="#231f20" stroke-width="0.1">0.1</text>
<line x1="547.1" y1="372.5" x2="548.3" y2="372.5" stroke="#231f20" stroke-width="0.4"/>
<line x1="547.1" y1="368.7" x2="548.3" y2="368.7" stroke="#231f20" stroke-width="0.4"/>
<line x1="547.1" y1="366.1" x2="548.3" y2="366.1" stroke="#231f20" stroke-width="0.4"/>
<line x1="547.1" y1="364.0" x2="548.3" y2="364.0" stroke="#231f20" stroke-width="0.4"/>
<line x1="547.1" y1="362.3" x2="548.3" y2="362.3" stroke="#231f20" stroke-width="0.4"/>
<line x1="547.1" y1="360.8" x2="548.3" y2="360.8" stroke="#231f20" stroke-width="0.4"/>
<line x1="547.1" y1="359.6" x2="548.3" y2="359.6" stroke="#231f20" stroke-width="0.4"/>
<line x1="547.1" y1="358.5" x2="548.3" y2="358.5" stroke="#231f20" stroke-width="0.4"/>
<line x1="546.1" y1="357.5" x2="548.3" y2="357.5" stroke="#231f20" stroke-width="0.6"/>
<text x="544.7" y="360.1" font-size="6.77" text-anchor="end" fill="#231f20" textLength="4.0" lengthAdjust="spacingAndGlyphs" stroke="#231f20" stroke-width="0.1">1</text>
<line x1="547.1" y1="351.0" x2="548.3" y2="351.0" stroke="#231f20" stroke-width="0.4"/>
<line x1="547.1" y1="347.2" x2="548.3" y2="347.2" stroke="#231f20" stroke-width="0.4"/>
<line x1="547.1" y1="344.6" x2="548.3" y2="344.6" stroke="#231f20" stroke-width="0.4"/>
<line x1="547.1" y1="342.5" x2="548.3" y2="342.5" stroke="#231f20" stroke-width="0.4"/>
<line x1="547.1" y1="340.8" x2="548.3" y2="340.8" stroke="#231f20" stroke-width="0.4"/>
<line x1="547.1" y1="339.3" x2="548.3" y2="339.3" stroke="#231f20" stroke-width="0.4"/>
<line x1="547.1" y1="338.1" x2="548.3" y2="338.1" stroke="#231f20" stroke-width="0.4"/>
<line x1="547.1" y1="337.0" x2="548.3" y2="337.0" stroke="#231f20" stroke-width="0.4"/>
<line x1="546.1" y1="336.0" x2="548.3" y2="336.0" stroke="#231f20" stroke-width="0.6"/>
<text x="544.7" y="338.6" font-size="6.77" text-anchor="end" fill="#231f20" textLength="8.0" lengthAdjust="spacingAndGlyphs" stroke="#231f20" stroke-width="0.1">10</text>
<line x1="547.1" y1="329.5" x2="548.3" y2="329.5" stroke="#231f20" stroke-width="0.4"/>
<line x1="547.1" y1="325.7" x2="548.3" y2="325.7" stroke="#231f20" stroke-width="0.4"/>
<line x1="547.1" y1="323.1" x2="548.3" y2="323.1" stroke="#231f20" stroke-width="0.4"/>
<line x1="547.1" y1="321.0" x2="548.3" y2="321.0" stroke="#231f20" stroke-width="0.4"/>
<line x1="547.1" y1="319.3" x2="548.3" y2="319.3" stroke="#231f20" stroke-width="0.4"/>
<line x1="547.1" y1="317.8" x2="548.3" y2="317.8" stroke="#231f20" stroke-width="0.4"/>
<line x1="547.1" y1="316.6" x2="548.3" y2="316.6" stroke="#231f20" stroke-width="0.4"/>
<line x1="547.1" y1="315.5" x2="548.3" y2="315.5" stroke="#231f20" stroke-width="0.4"/>
<line x1="546.1" y1="314.5" x2="548.3" y2="314.5" stroke="#231f20" stroke-width="0.6"/>
<text x="544.7" y="317.1" font-size="6.77" text-anchor="end" fill="#231f20" textLength="12.0" lengthAdjust="spacingAndGlyphs" stroke="#231f20" stroke-width="0.1">100</text>
<line x1="548.3" y1="400.5" x2="680.0" y2="400.5" stroke="#231f20" stroke-width="0.6"/>
<line x1="559.8" y1="400.5" x2="559.8" y2="402.5" stroke="#231f20" stroke-width="0.6"/>
<rect x="553.2" y="383.0" width="4.2" height="17.5" fill="#c8955a"/>
<line x1="555.3" y1="380.9" x2="555.3" y2="385.1" stroke="#222" stroke-width="0.5"/>
<line x1="554.4" y1="380.9" x2="556.2" y2="380.9" stroke="#222" stroke-width="0.5"/>
<circle cx="555.3" cy="382.1" r="0.8" fill="#222" stroke="none" stroke-width="0.6"/>
<rect x="557.7" y="385.5" width="4.2" height="15.0" fill="#15868f"/>
<line x1="559.8" y1="383.4" x2="559.8" y2="387.6" stroke="#222" stroke-width="0.5"/>
<line x1="558.9" y1="383.4" x2="560.7" y2="383.4" stroke="#222" stroke-width="0.5"/>
<circle cx="559.8" cy="384.6" r="0.8" fill="#222" stroke="none" stroke-width="0.6"/>
<rect x="562.2" y="382.3" width="4.2" height="18.2" fill="#1414f0"/>
<line x1="564.3" y1="380.2" x2="564.3" y2="384.4" stroke="#222" stroke-width="0.5"/>
<line x1="563.4" y1="380.2" x2="565.2" y2="380.2" stroke="#222" stroke-width="0.5"/>
<circle cx="564.3" cy="381.4" r="0.8" fill="#222" stroke="none" stroke-width="0.6"/>
<text x="562.6" y="407.8" font-size="6.39" text-anchor="end" fill="#231f20" transform="rotate(-45 562.6 407.8)" textLength="16.6" lengthAdjust="spacingAndGlyphs" stroke="#231f20" stroke-width="0.05">Heart</text>
<line x1="583.3" y1="400.5" x2="583.3" y2="402.5" stroke="#231f20" stroke-width="0.6"/>
<rect x="576.7" y="322.6" width="4.2" height="77.9" fill="#c8955a"/>
<line x1="578.8" y1="320.5" x2="578.8" y2="324.7" stroke="#222" stroke-width="0.5"/>
<line x1="577.9" y1="320.5" x2="579.7" y2="320.5" stroke="#222" stroke-width="0.5"/>
<circle cx="578.8" cy="321.7" r="0.8" fill="#222" stroke="none" stroke-width="0.6"/>
<rect x="581.2" y="322.0" width="4.2" height="78.5" fill="#15868f"/>
<line x1="583.3" y1="319.9" x2="583.3" y2="324.0" stroke="#222" stroke-width="0.5"/>
<line x1="582.4" y1="319.9" x2="584.2" y2="319.9" stroke="#222" stroke-width="0.5"/>
<circle cx="583.3" cy="321.1" r="0.8" fill="#222" stroke="none" stroke-width="0.6"/>
<rect x="585.7" y="330.0" width="4.2" height="70.5" fill="#1414f0"/>
<line x1="587.8" y1="327.9" x2="587.8" y2="332.1" stroke="#222" stroke-width="0.5"/>
<line x1="586.9" y1="327.9" x2="588.7" y2="327.9" stroke="#222" stroke-width="0.5"/>
<circle cx="587.8" cy="329.1" r="0.8" fill="#222" stroke="none" stroke-width="0.6"/>
<text x="586.1" y="407.8" font-size="6.39" text-anchor="end" fill="#231f20" transform="rotate(-45 586.1 407.8)" textLength="14.7" lengthAdjust="spacingAndGlyphs" stroke="#231f20" stroke-width="0.05">Liver</text>
<line x1="605.6" y1="400.5" x2="605.6" y2="402.5" stroke="#231f20" stroke-width="0.6"/>
<rect x="599.0" y="331.6" width="4.2" height="68.9" fill="#c8955a"/>
<line x1="601.1" y1="329.5" x2="601.1" y2="333.7" stroke="#222" stroke-width="0.5"/>
<line x1="600.2" y1="329.5" x2="602.0" y2="329.5" stroke="#222" stroke-width="0.5"/>
<circle cx="601.1" cy="330.7" r="0.8" fill="#222" stroke="none" stroke-width="0.6"/>
<rect x="603.5" y="329.5" width="4.2" height="71.0" fill="#15868f"/>
<line x1="605.6" y1="327.4" x2="605.6" y2="331.6" stroke="#222" stroke-width="0.5"/>
<line x1="604.7" y1="327.4" x2="606.5" y2="327.4" stroke="#222" stroke-width="0.5"/>
<circle cx="605.6" cy="328.6" r="0.8" fill="#222" stroke="none" stroke-width="0.6"/>
<rect x="608.0" y="337.0" width="4.2" height="63.5" fill="#1414f0"/>
<line x1="610.1" y1="334.9" x2="610.1" y2="339.1" stroke="#222" stroke-width="0.5"/>
<line x1="609.2" y1="334.9" x2="611.0" y2="334.9" stroke="#222" stroke-width="0.5"/>
<circle cx="610.1" cy="336.1" r="0.8" fill="#222" stroke="none" stroke-width="0.6"/>
<text x="608.4" y="407.8" font-size="6.39" text-anchor="end" fill="#231f20" transform="rotate(-45 608.4 407.8)" textLength="21.2" lengthAdjust="spacingAndGlyphs" stroke="#231f20" stroke-width="0.05">Spleen</text>
<line x1="627.5" y1="400.5" x2="627.5" y2="402.5" stroke="#231f20" stroke-width="0.6"/>
<rect x="620.9" y="343.5" width="4.2" height="57.0" fill="#c8955a"/>
<line x1="623.0" y1="341.4" x2="623.0" y2="345.5" stroke="#222" stroke-width="0.5"/>
<line x1="622.1" y1="341.4" x2="623.9" y2="341.4" stroke="#222" stroke-width="0.5"/>
<circle cx="623.0" cy="342.6" r="0.8" fill="#222" stroke="none" stroke-width="0.6"/>
<rect x="625.4" y="343.5" width="4.2" height="57.0" fill="#15868f"/>
<line x1="627.5" y1="341.4" x2="627.5" y2="345.5" stroke="#222" stroke-width="0.5"/>
<line x1="626.6" y1="341.4" x2="628.4" y2="341.4" stroke="#222" stroke-width="0.5"/>
<circle cx="627.5" cy="342.6" r="0.8" fill="#222" stroke="none" stroke-width="0.6"/>
<rect x="629.9" y="355.8" width="4.2" height="44.7" fill="#1414f0"/>
<line x1="632.0" y1="353.7" x2="632.0" y2="357.9" stroke="#222" stroke-width="0.5"/>
<line x1="631.1" y1="353.7" x2="632.9" y2="353.7" stroke="#222" stroke-width="0.5"/>
<circle cx="632.0" cy="354.9" r="0.8" fill="#222" stroke="none" stroke-width="0.6"/>
<text x="630.3" y="407.8" font-size="6.39" text-anchor="end" fill="#231f20" transform="rotate(-45 630.3 407.8)" textLength="15.1" lengthAdjust="spacingAndGlyphs" stroke="#231f20" stroke-width="0.05">Lung</text>
<line x1="649.4" y1="400.5" x2="649.4" y2="402.5" stroke="#231f20" stroke-width="0.6"/>
<rect x="642.8" y="350.1" width="4.2" height="50.4" fill="#c8955a"/>
<line x1="644.9" y1="348.1" x2="644.9" y2="352.2" stroke="#222" stroke-width="0.5"/>
<line x1="644.0" y1="348.1" x2="645.8" y2="348.1" stroke="#222" stroke-width="0.5"/>
<circle cx="644.9" cy="349.2" r="0.8" fill="#222" stroke="none" stroke-width="0.6"/>
<rect x="647.3" y="349.7" width="4.2" height="50.8" fill="#15868f"/>
<line x1="649.4" y1="347.6" x2="649.4" y2="351.8" stroke="#222" stroke-width="0.5"/>
<line x1="648.5" y1="347.6" x2="650.3" y2="347.6" stroke="#222" stroke-width="0.5"/>
<circle cx="649.4" cy="348.8" r="0.8" fill="#222" stroke="none" stroke-width="0.6"/>
<rect x="651.8" y="364.0" width="4.2" height="36.5" fill="#1414f0"/>
<line x1="653.9" y1="361.9" x2="653.9" y2="366.1" stroke="#222" stroke-width="0.5"/>
<line x1="653.0" y1="361.9" x2="654.8" y2="361.9" stroke="#222" stroke-width="0.5"/>
<circle cx="653.9" cy="363.1" r="0.8" fill="#222" stroke="none" stroke-width="0.6"/>
<text x="652.2" y="407.8" font-size="6.39" text-anchor="end" fill="#231f20" transform="rotate(-45 652.2 407.8)" textLength="20.8" lengthAdjust="spacingAndGlyphs" stroke="#231f20" stroke-width="0.05">Kidney</text>
<line x1="671.5" y1="400.5" x2="671.5" y2="402.5" stroke="#231f20" stroke-width="0.6"/>
<rect x="664.9" y="364.5" width="4.2" height="36.0" fill="#c8955a"/>
<line x1="667.0" y1="362.5" x2="667.0" y2="366.6" stroke="#222" stroke-width="0.5"/>
<line x1="666.1" y1="362.5" x2="667.9" y2="362.5" stroke="#222" stroke-width="0.5"/>
<circle cx="667.0" cy="363.7" r="0.8" fill="#222" stroke="none" stroke-width="0.6"/>
<rect x="669.4" y="365.0" width="4.2" height="35.5" fill="#15868f"/>
<line x1="671.5" y1="362.9" x2="671.5" y2="367.0" stroke="#222" stroke-width="0.5"/>
<line x1="670.6" y1="362.9" x2="672.4" y2="362.9" stroke="#222" stroke-width="0.5"/>
<circle cx="671.5" cy="364.1" r="0.8" fill="#222" stroke="none" stroke-width="0.6"/>
<rect x="673.9" y="339.2" width="4.2" height="61.3" fill="#1414f0"/>
<line x1="676.0" y1="337.1" x2="676.0" y2="341.3" stroke="#222" stroke-width="0.5"/>
<line x1="675.1" y1="337.1" x2="676.9" y2="337.1" stroke="#222" stroke-width="0.5"/>
<circle cx="676.0" cy="338.3" r="0.8" fill="#222" stroke="none" stroke-width="0.6"/>
<text x="674.3" y="407.8" font-size="6.39" text-anchor="end" fill="#231f20" transform="rotate(-45 674.3 407.8)" textLength="19.4" lengthAdjust="spacingAndGlyphs" stroke="#231f20" stroke-width="0.05">Tumor</text>
<text x="530.0" y="358.0" font-size="7.14" text-anchor="middle" fill="#231f20" transform="rotate(-90 530.0 358.0)" textLength="76.0" lengthAdjust="spacingAndGlyphs" stroke="#231f20" stroke-width="0.1">Injected PTX dose (%)</text>
<rect x="551.4" y="290.4" width="3.0" height="3.2" fill="#c8955a"/>
<text x="558.0" y="294.0" font-size="5.55" text-anchor="start" fill="#231f20" textLength="22.7" lengthAdjust="spacingAndGlyphs" stroke="#231f20" stroke-width="0.05">Abraxane</text>
<rect x="551.4" y="297.4" width="3.0" height="3.2" fill="#15868f"/>
<text x="558.0" y="301.0" font-size="5.55" text-anchor="start" fill="#231f20" textLength="61.8" lengthAdjust="spacingAndGlyphs" stroke="#231f20" stroke-width="0.05">GEM/Lipo-SM + Abraxane</text>
<rect x="551.4" y="304.4" width="3.0" height="3.2" fill="#1414f0"/>
<text x="558.0" y="308.0" font-size="5.55" text-anchor="start" fill="#231f20" textLength="77.3" lengthAdjust="spacingAndGlyphs" stroke="#231f20" stroke-width="0.05">CD47p/GEM/AZE-Paclitaxome-2</text>
<path d="M578.0,319.0 L578.0,316.0 L590.0,316.0 L590.0,319.0" fill="none" stroke="#333" stroke-width="0.5"/>
<text x="573.9" y="314.4" font-size="5.8" text-anchor="start" fill="#231f20"><tspan font-style="italic">P</tspan> = 0.0001</text>
<path d="M601.0,328.0 L601.0,325.0 L613.0,325.0 L613.0,328.0" fill="none" stroke="#333" stroke-width="0.5"/>
<text x="596.4" y="323.4" font-size="5.8" text-anchor="start" fill="#231f20"><tspan font-style="italic">P</tspan> = 0.0029</text>
<path d="M622.0,339.0 L622.0,336.0 L634.0,336.0 L634.0,339.0" fill="none" stroke="#333" stroke-width="0.5"/>
<text x="616.0" y="335.4" font-size="5.8" text-anchor="start" fill="#231f20"><tspan font-style="italic">P</tspan> = 0.019</text>
<path d="M644.0,344.5 L644.0,341.5 L656.0,341.5 L656.0,344.5" fill="none" stroke="#333" stroke-width="0.5"/>
<text x="636.5" y="341.2" font-size="5.8" text-anchor="start" fill="#231f20"><tspan font-style="italic">P</tspan> = 0.0248</text>
<path d="M674.0,334.0 L676.0,334.0 L676.0,345.0 L674.0,345.0" fill="none" stroke="#333" stroke-width="0.5"/>
<text x="666.4" y="334.9" font-size="5.6" text-anchor="start" fill="#231f20"><tspan font-style="italic">P</tspan> = 10<tspan font-size="3.9" baseline-shift="45%">−6</tspan></text>
<text x="662.8" y="319.5" font-size="5.55" text-anchor="middle" fill="#231f20" textLength="16.7" lengthAdjust="spacingAndGlyphs" stroke="#231f20" stroke-width="0.05">7.10%</text>
<line x1="664.0" y1="321.0" x2="667.0" y2="327.0" stroke="#1414f0" stroke-width="0.6"/>
<text x="651.8" y="327.7" font-size="5.55" text-anchor="middle" fill="#231f20" textLength="16.7" lengthAdjust="spacingAndGlyphs" stroke="#231f20" stroke-width="0.05">0.45%</text>
<line x1="654.0" y1="329.0" x2="669.0" y2="348.0" stroke="#15868f" stroke-width="0.6"/>
<text x="645.5" y="334.9" font-size="5.55" text-anchor="middle" fill="#231f20" textLength="16.7" lengthAdjust="spacingAndGlyphs" stroke="#231f20" stroke-width="0.05">0.47%</text>
<line x1="647.0" y1="336.0" x2="662.0" y2="352.0" stroke="#c8955a" stroke-width="0.6"/>
<line x1="7.0" y1="438.3" x2="426.0" y2="438.3" stroke="#c4e6c0" stroke-width="0.8"/>
<line x1="7.0" y1="438.3" x2="7.0" y2="831.6" stroke="#c4e6c0" stroke-width="0.8"/>
<line x1="426.0" y1="438.3" x2="426.0" y2="831.6" stroke="#c4e6c0" stroke-width="0.8"/>
<line x1="7.0" y1="831.6" x2="426.0" y2="831.6" stroke="#c4e6c0" stroke-width="0.8"/>
<line x1="108.6" y1="438.3" x2="108.6" y2="630.5" stroke="#c4e6c0" stroke-width="0.8"/>
<line x1="7.0" y1="630.5" x2="426.0" y2="630.5" stroke="#96d290" stroke-width="0.8"/>
<use href="#mouse" x="124.9" y="449.0" width="19.1" height="42.7"/>
<ellipse cx="134.8" cy="473.3" rx="2.9" ry="1.8" fill="#1030ff"/>
<ellipse cx="134.8" cy="473.3" rx="1.6" ry="1.0" fill="#2f8cff"/>
<line x1="143.8" y1="449.0" x2="143.8" y2="491.7" stroke="#a8a8a8" stroke-width="0.5"/>
<use href="#mouse" x="144.0" y="449.0" width="19.1" height="42.7"/>
<ellipse cx="154.0" cy="473.3" rx="2.9" ry="1.8" fill="#1030ff"/>
<ellipse cx="154.0" cy="473.3" rx="1.6" ry="1.0" fill="#2f8cff"/>
<line x1="162.9" y1="449.0" x2="162.9" y2="491.7" stroke="#a8a8a8" stroke-width="0.5"/>
<use href="#mouse" x="163.1" y="449.0" width="19.1" height="42.7"/>
<ellipse cx="173.1" cy="473.3" rx="2.9" ry="1.8" fill="#1030ff"/>
<ellipse cx="173.1" cy="473.3" rx="1.6" ry="1.0" fill="#2f8cff"/>
<line x1="182.0" y1="449.0" x2="182.0" y2="491.7" stroke="#a8a8a8" stroke-width="0.5"/>
<use href="#mouse" x="182.3" y="449.0" width="19.1" height="42.7"/>
<ellipse cx="192.2" cy="473.3" rx="2.9" ry="1.8" fill="#1030ff"/>
<ellipse cx="192.2" cy="473.3" rx="1.6" ry="1.0" fill="#2f8cff"/>
<line x1="201.1" y1="449.0" x2="201.1" y2="491.7" stroke="#a8a8a8" stroke-width="0.5"/>
<use href="#mouse" x="201.4" y="449.0" width="19.1" height="42.7"/>
<ellipse cx="211.3" cy="473.3" rx="2.9" ry="1.8" fill="#1030ff"/>
<ellipse cx="211.3" cy="473.3" rx="1.6" ry="1.0" fill="#2f8cff"/>
<line x1="220.2" y1="449.0" x2="220.2" y2="491.7" stroke="#a8a8a8" stroke-width="0.5"/>
<use href="#mouse" x="124.9" y="493.7" width="19.1" height="41.6"/>
<ellipse cx="134.8" cy="518.9" rx="6.0" ry="5.4" fill="#1030ff"/>
<ellipse cx="134.8" cy="518.9" rx="5.2" ry="4.6" fill="#00c8ff"/>
<ellipse cx="134.8" cy="518.9" rx="4.4" ry="4.0" fill="#20ff40"/>
<ellipse cx="134.8" cy="518.9" rx="3.6" ry="3.2" fill="#ffff10"/>
<ellipse cx="134.8" cy="518.9" rx="2.9" ry="2.6" fill="#ff1a00"/>
<line x1="143.8" y1="493.7" x2="143.8" y2="535.3" stroke="#a8a8a8" stroke-width="0.5"/>
<use href="#mouse" x="144.0" y="493.7" width="19.1" height="41.6"/>
<ellipse cx="154.0" cy="518.9" rx="6.0" ry="5.4" fill="#1030ff"/>
<ellipse cx="154.0" cy="518.9" rx="5.2" ry="4.6" fill="#00c8ff"/>
<ellipse cx="154.0" cy="518.9" rx="4.4" ry="4.0" fill="#20ff40"/>
<ellipse cx="154.0" cy="518.9" rx="3.6" ry="3.2" fill="#ffff10"/>
<ellipse cx="154.0" cy="518.9" rx="2.9" ry="2.6" fill="#ff1a00"/>
<line x1="162.9" y1="493.7" x2="162.9" y2="535.3" stroke="#a8a8a8" stroke-width="0.5"/>
<use href="#mouse" x="163.1" y="493.7" width="19.1" height="41.6"/>
<ellipse cx="173.1" cy="518.9" rx="6.0" ry="5.4" fill="#1030ff"/>
<ellipse cx="173.1" cy="518.9" rx="5.2" ry="4.6" fill="#00c8ff"/>
<ellipse cx="173.1" cy="518.9" rx="4.4" ry="4.0" fill="#20ff40"/>
<ellipse cx="173.1" cy="518.9" rx="3.6" ry="3.2" fill="#ffff10"/>
<ellipse cx="173.1" cy="518.9" rx="2.9" ry="2.6" fill="#ff1a00"/>
<line x1="182.0" y1="493.7" x2="182.0" y2="535.3" stroke="#a8a8a8" stroke-width="0.5"/>
<use href="#mouse" x="182.3" y="493.7" width="19.1" height="41.6"/>
<ellipse cx="192.2" cy="518.9" rx="6.0" ry="5.4" fill="#1030ff"/>
<ellipse cx="192.2" cy="518.9" rx="5.2" ry="4.6" fill="#00c8ff"/>
<ellipse cx="192.2" cy="518.9" rx="4.4" ry="4.0" fill="#20ff40"/>
<ellipse cx="192.2" cy="518.9" rx="3.6" ry="3.2" fill="#ffff10"/>
<ellipse cx="192.2" cy="518.9" rx="2.9" ry="2.6" fill="#ff1a00"/>
<line x1="201.1" y1="493.7" x2="201.1" y2="535.3" stroke="#a8a8a8" stroke-width="0.5"/>
<use href="#mouse" x="201.4" y="493.7" width="19.1" height="41.6"/>
<ellipse cx="211.3" cy="518.9" rx="6.0" ry="5.4" fill="#1030ff"/>
<ellipse cx="211.3" cy="518.9" rx="5.2" ry="4.6" fill="#00c8ff"/>
<ellipse cx="211.3" cy="518.9" rx="4.4" ry="4.0" fill="#20ff40"/>
<ellipse cx="211.3" cy="518.9" rx="3.6" ry="3.2" fill="#ffff10"/>
<ellipse cx="211.3" cy="518.9" rx="2.9" ry="2.6" fill="#ff1a00"/>
<line x1="220.2" y1="493.7" x2="220.2" y2="535.3" stroke="#a8a8a8" stroke-width="0.5"/>
<use href="#mouse" x="124.9" y="537.3" width="19.1" height="42.2"/>
<ellipse cx="134.8" cy="562.8" rx="7.2" ry="6.6" fill="#1030ff"/>
<ellipse cx="134.8" cy="562.8" rx="6.5" ry="5.9" fill="#00c8ff"/>
<ellipse cx="134.8" cy="562.8" rx="5.8" ry="5.3" fill="#20ff40"/>
<ellipse cx="134.8" cy="562.8" rx="5.0" ry="4.6" fill="#ffee00"/>
<ellipse cx="134.8" cy="562.8" rx="4.3" ry="4.0" fill="#ff1a00"/>
<ellipse cx="136.6" cy="561.5" rx="1.2" ry="0.9" fill="#ffee00"/>
<ellipse cx="132.7" cy="564.3" rx="1.0" ry="0.8" fill="#20ff40"/>
<line x1="143.8" y1="537.3" x2="143.8" y2="579.5" stroke="#a8a8a8" stroke-width="0.5"/>
<use href="#mouse" x="144.0" y="537.3" width="19.1" height="42.2"/>
<ellipse cx="154.0" cy="562.8" rx="7.2" ry="6.6" fill="#1030ff"/>
<ellipse cx="154.0" cy="562.8" rx="6.5" ry="5.9" fill="#00c8ff"/>
<ellipse cx="154.0" cy="562.8" rx="5.8" ry="5.3" fill="#20ff40"/>
<ellipse cx="154.0" cy="562.8" rx="5.0" ry="4.6" fill="#ffee00"/>
<ellipse cx="154.0" cy="562.8" rx="4.3" ry="4.0" fill="#ff1a00"/>
<ellipse cx="155.8" cy="561.5" rx="1.2" ry="0.9" fill="#ffee00"/>
<ellipse cx="151.8" cy="564.3" rx="1.0" ry="0.8" fill="#20ff40"/>
<line x1="162.9" y1="537.3" x2="162.9" y2="579.5" stroke="#a8a8a8" stroke-width="0.5"/>
<use href="#mouse" x="163.1" y="537.3" width="19.1" height="42.2"/>
<ellipse cx="173.1" cy="562.8" rx="7.2" ry="6.6" fill="#1030ff"/>
<ellipse cx="173.1" cy="562.8" rx="6.5" ry="5.9" fill="#00c8ff"/>
<ellipse cx="173.1" cy="562.8" rx="5.8" ry="5.3" fill="#20ff40"/>
<ellipse cx="173.1" cy="562.8" rx="5.0" ry="4.6" fill="#ffee00"/>
<ellipse cx="173.1" cy="562.8" rx="4.3" ry="4.0" fill="#ff1a00"/>
<ellipse cx="174.9" cy="561.5" rx="1.2" ry="0.9" fill="#ffee00"/>
<ellipse cx="170.9" cy="564.3" rx="1.0" ry="0.8" fill="#20ff40"/>
<line x1="182.0" y1="537.3" x2="182.0" y2="579.5" stroke="#a8a8a8" stroke-width="0.5"/>
<use href="#mouseE" x="182.3" y="537.3" width="19.1" height="42.2"/>
<use href="#mouse" x="201.4" y="537.3" width="19.1" height="42.2"/>
<ellipse cx="211.3" cy="562.8" rx="7.2" ry="6.6" fill="#1030ff"/>
<ellipse cx="211.3" cy="562.8" rx="6.5" ry="5.9" fill="#00c8ff"/>
<ellipse cx="211.3" cy="562.8" rx="5.8" ry="5.3" fill="#20ff40"/>
<ellipse cx="211.3" cy="562.8" rx="5.0" ry="4.6" fill="#ffee00"/>
<ellipse cx="211.3" cy="562.8" rx="4.3" ry="4.0" fill="#ff1a00"/>
<ellipse cx="213.1" cy="561.5" rx="1.2" ry="0.9" fill="#ffee00"/>
<ellipse cx="209.2" cy="564.3" rx="1.0" ry="0.8" fill="#20ff40"/>
<line x1="220.2" y1="537.3" x2="220.2" y2="579.5" stroke="#a8a8a8" stroke-width="0.5"/>
<rect x="124.9" y="581.4" width="95.6" height="48.4" fill="url(#exbg)"/>
<path d="M213.8,595.9 L213.8,604.6 Q213.8,607.1 209.0,607.1 L131.6,608.0 Q128.7,608.5 128.7,611.4 L129.7,623.0 Q129.7,625.0 134.5,625.0 L203.3,625.4" fill="none" stroke="#5a30e8" stroke-width="1.3"/>
<ellipse cx="139.2" cy="608.0" rx="1.8" ry="1.0" fill="#10c0ff"/>
<ellipse cx="151.7" cy="608.0" rx="1.8" ry="1.0" fill="#ff2a00"/>
<ellipse cx="163.1" cy="608.0" rx="1.8" ry="1.0" fill="#10c0ff"/>
<ellipse cx="177.5" cy="608.0" rx="1.8" ry="1.0" fill="#10c0ff"/>
<ellipse cx="191.8" cy="608.0" rx="1.8" ry="1.0" fill="#ff2a00"/>
<ellipse cx="203.3" cy="608.0" rx="1.8" ry="1.0" fill="#10c0ff"/>
<ellipse cx="130.6" cy="620.1" rx="2.6" ry="2.6" fill="#1030ff"/>
<ellipse cx="130.6" cy="620.1" rx="2.2" ry="2.2" fill="#00c8ff"/>
<ellipse cx="130.6" cy="620.1" rx="1.9" ry="1.9" fill="#20ff40"/>
<ellipse cx="130.6" cy="620.1" rx="1.6" ry="1.6" fill="#ffff10"/>
<ellipse cx="130.6" cy="620.1" rx="1.2" ry="1.2" fill="#ff1a00"/>
<circle cx="133.5" cy="591.0" r="1.2" fill="#1a1a1a" stroke="none" stroke-width="0.6"/>
<ellipse cx="146.9" cy="592.0" rx="4.6" ry="4.2" fill="#1c1c1c"/>
<ellipse cx="160.3" cy="592.0" rx="1.8" ry="4.4" fill="#262626"/>
<ellipse cx="172.7" cy="592.0" rx="2.6" ry="2.4" fill="#dcdcdc"/>
<ellipse cx="185.1" cy="592.0" rx="2.4" ry="2.1" fill="#2a2a2a"/>
<ellipse cx="213.8" cy="594.0" rx="2.6" ry="3.8" fill="none" stroke="#e0e0e0" stroke-width="1.1"/>
<ellipse cx="146.9" cy="592.0" rx="5.0" ry="4.6" fill="#5a20d0"/>
<ellipse cx="146.9" cy="592.0" rx="3.9" ry="3.6" fill="#1a40ff"/>
<ellipse cx="146.9" cy="592.0" rx="3.0" ry="2.8" fill="#ff1a00"/>
<ellipse cx="160.3" cy="592.0" rx="2.4" ry="4.8" fill="#5a20d0"/>
<ellipse cx="160.3" cy="592.0" rx="1.9" ry="3.7" fill="#1a40ff"/>
<ellipse cx="160.3" cy="592.0" rx="1.4" ry="2.9" fill="#ff1a00"/>
<ellipse cx="172.7" cy="592.0" rx="2.8" ry="2.6" fill="#7030f0"/>
<ellipse cx="182.3" cy="592.5" rx="2.0" ry="2.0" fill="#5a20d0"/>
<ellipse cx="182.3" cy="592.5" rx="1.6" ry="1.6" fill="#1a40ff"/>
<ellipse cx="182.3" cy="592.5" rx="1.2" ry="1.2" fill="#ff1a00"/>
<ellipse cx="188.0" cy="592.5" rx="2.0" ry="2.0" fill="#5a20d0"/>
<ellipse cx="188.0" cy="592.5" rx="1.6" ry="1.6" fill="#1a40ff"/>
<ellipse cx="188.0" cy="592.5" rx="1.2" ry="1.2" fill="#ff1a00"/>
<ellipse cx="201.4" cy="593.0" rx="6.8" ry="5.8" fill="#5a20d0"/>
<ellipse cx="201.4" cy="593.0" rx="6.1" ry="5.2" fill="#1a40ff"/>
<ellipse cx="201.4" cy="593.0" rx="5.4" ry="4.6" fill="#ff1a00"/>
<ellipse cx="213.8" cy="594.5" rx="2.2" ry="3.8" fill="#1030ff"/>
<ellipse cx="213.8" cy="594.5" rx="1.8" ry="3.1" fill="#00c8ff"/>
<ellipse cx="213.8" cy="594.5" rx="1.5" ry="2.5" fill="#20ff50"/>
<ellipse cx="213.8" cy="594.5" rx="0.9" ry="1.6" fill="#d8ff20"/>
<ellipse cx="203.3" cy="592.0" rx="1.2" ry="1" fill="#ffee00"/>
<ellipse cx="131.6" cy="621.1" rx="4.2" ry="3.0" fill="#5a20d0"/>
<ellipse cx="131.6" cy="621.1" rx="3.8" ry="2.7" fill="#1a40ff"/>
<ellipse cx="131.6" cy="621.1" rx="3.4" ry="2.4" fill="#ff1a00"/>
<use href="#mouse" x="223.4" y="449.0" width="19.1" height="42.7"/>
<ellipse cx="233.3" cy="473.3" rx="2.9" ry="1.8" fill="#1030ff"/>
<ellipse cx="233.3" cy="473.3" rx="1.6" ry="1.0" fill="#2f8cff"/>
<line x1="242.3" y1="449.0" x2="242.3" y2="491.7" stroke="#a8a8a8" stroke-width="0.5"/>
<use href="#mouse" x="242.5" y="449.0" width="19.1" height="42.7"/>
<ellipse cx="252.5" cy="473.3" rx="2.9" ry="1.8" fill="#1030ff"/>
<ellipse cx="252.5" cy="473.3" rx="1.6" ry="1.0" fill="#2f8cff"/>
<line x1="261.4" y1="449.0" x2="261.4" y2="491.7" stroke="#a8a8a8" stroke-width="0.5"/>
<use href="#mouse" x="261.6" y="449.0" width="19.1" height="42.7"/>
<ellipse cx="271.6" cy="473.3" rx="2.9" ry="1.8" fill="#1030ff"/>
<ellipse cx="271.6" cy="473.3" rx="1.6" ry="1.0" fill="#2f8cff"/>
<line x1="280.5" y1="449.0" x2="280.5" y2="491.7" stroke="#a8a8a8" stroke-width="0.5"/>
<use href="#mouse" x="280.8" y="449.0" width="19.1" height="42.7"/>
<ellipse cx="290.7" cy="473.3" rx="2.9" ry="1.8" fill="#1030ff"/>
<ellipse cx="290.7" cy="473.3" rx="1.6" ry="1.0" fill="#2f8cff"/>
<line x1="299.6" y1="449.0" x2="299.6" y2="491.7" stroke="#a8a8a8" stroke-width="0.5"/>
<use href="#mouse" x="299.9" y="449.0" width="19.1" height="42.7"/>
<ellipse cx="309.8" cy="473.3" rx="2.9" ry="1.8" fill="#1030ff"/>
<ellipse cx="309.8" cy="473.3" rx="1.6" ry="1.0" fill="#2f8cff"/>
<line x1="318.8" y1="449.0" x2="318.8" y2="491.7" stroke="#a8a8a8" stroke-width="0.5"/>
<use href="#mouse" x="223.4" y="493.7" width="19.1" height="41.6"/>
<ellipse cx="233.3" cy="518.9" rx="5.4" ry="4.8" fill="#1030ff"/>
<ellipse cx="233.3" cy="518.9" rx="4.6" ry="4.1" fill="#00c8ff"/>
<ellipse cx="233.3" cy="518.9" rx="4.0" ry="3.6" fill="#20ff40"/>
<ellipse cx="233.3" cy="518.9" rx="3.2" ry="2.9" fill="#ffff10"/>
<ellipse cx="233.3" cy="518.9" rx="2.6" ry="2.3" fill="#ff1a00"/>
<line x1="242.3" y1="493.7" x2="242.3" y2="535.3" stroke="#a8a8a8" stroke-width="0.5"/>
<use href="#mouse" x="242.5" y="493.7" width="19.1" height="41.6"/>
<ellipse cx="252.5" cy="518.9" rx="5.4" ry="4.8" fill="#1030ff"/>
<ellipse cx="252.5" cy="518.9" rx="4.6" ry="4.1" fill="#00c8ff"/>
<ellipse cx="252.5" cy="518.9" rx="4.0" ry="3.6" fill="#20ff40"/>
<ellipse cx="252.5" cy="518.9" rx="3.2" ry="2.9" fill="#ffff10"/>
<ellipse cx="252.5" cy="518.9" rx="2.6" ry="2.3" fill="#ff1a00"/>
<line x1="261.4" y1="493.7" x2="261.4" y2="535.3" stroke="#a8a8a8" stroke-width="0.5"/>
<use href="#mouse" x="261.6" y="493.7" width="19.1" height="41.6"/>
<ellipse cx="271.6" cy="518.9" rx="5.4" ry="4.8" fill="#1030ff"/>
<ellipse cx="271.6" cy="518.9" rx="4.6" ry="4.1" fill="#00c8ff"/>
<ellipse cx="271.6" cy="518.9" rx="4.0" ry="3.6" fill="#20ff40"/>
<ellipse cx="271.6" cy="518.9" rx="3.2" ry="2.9" fill="#ffff10"/>
<ellipse cx="271.6" cy="518.9" rx="2.6" ry="2.3" fill="#ff1a00"/>
<line x1="280.5" y1="493.7" x2="280.5" y2="535.3" stroke="#a8a8a8" stroke-width="0.5"/>
<use href="#mouse" x="280.8" y="493.7" width="19.1" height="41.6"/>
<ellipse cx="290.7" cy="518.9" rx="5.4" ry="4.8" fill="#1030ff"/>
<ellipse cx="290.7" cy="518.9" rx="4.6" ry="4.1" fill="#00c8ff"/>
<ellipse cx="290.7" cy="518.9" rx="4.0" ry="3.6" fill="#20ff40"/>
<ellipse cx="290.7" cy="518.9" rx="3.2" ry="2.9" fill="#ffff10"/>
<ellipse cx="290.7" cy="518.9" rx="2.6" ry="2.3" fill="#ff1a00"/>
<line x1="299.6" y1="493.7" x2="299.6" y2="535.3" stroke="#a8a8a8" stroke-width="0.5"/>
<use href="#mouse" x="299.9" y="493.7" width="19.1" height="41.6"/>
<ellipse cx="309.8" cy="518.9" rx="5.4" ry="4.8" fill="#1030ff"/>
<ellipse cx="309.8" cy="518.9" rx="4.6" ry="4.1" fill="#00c8ff"/>
<ellipse cx="309.8" cy="518.9" rx="4.0" ry="3.6" fill="#20ff40"/>
<ellipse cx="309.8" cy="518.9" rx="3.2" ry="2.9" fill="#ffff10"/>
<ellipse cx="309.8" cy="518.9" rx="2.6" ry="2.3" fill="#ff1a00"/>
<line x1="318.8" y1="493.7" x2="318.8" y2="535.3" stroke="#a8a8a8" stroke-width="0.5"/>
<use href="#mouse" x="223.4" y="537.3" width="19.1" height="42.2"/>
<ellipse cx="233.3" cy="562.8" rx="6.4" ry="5.8" fill="#1030ff"/>
<ellipse cx="233.3" cy="562.8" rx="5.8" ry="5.2" fill="#00c8ff"/>
<ellipse cx="233.3" cy="562.8" rx="5.1" ry="4.6" fill="#20ff40"/>
<ellipse cx="233.3" cy="562.8" rx="4.5" ry="4.1" fill="#ffee00"/>
<ellipse cx="233.3" cy="562.8" rx="3.8" ry="3.5" fill="#ff1a00"/>
<ellipse cx="234.9" cy="561.7" rx="1.0" ry="0.8" fill="#ffee00"/>
<ellipse cx="231.4" cy="564.1" rx="0.9" ry="0.7" fill="#20ff40"/>
<line x1="242.3" y1="537.3" x2="242.3" y2="579.5" stroke="#a8a8a8" stroke-width="0.5"/>
<use href="#mouse" x="242.5" y="537.3" width="19.1" height="42.2"/>
<ellipse cx="252.5" cy="562.8" rx="6.4" ry="5.8" fill="#1030ff"/>
<ellipse cx="252.5" cy="562.8" rx="5.8" ry="5.2" fill="#00c8ff"/>
<ellipse cx="252.5" cy="562.8" rx="5.1" ry="4.6" fill="#20ff40"/>
<ellipse cx="252.5" cy="562.8" rx="4.5" ry="4.1" fill="#ffee00"/>
<ellipse cx="252.5" cy="562.8" rx="3.8" ry="3.5" fill="#ff1a00"/>
<ellipse cx="254.1" cy="561.7" rx="1.0" ry="0.8" fill="#ffee00"/>
<ellipse cx="250.5" cy="564.1" rx="0.9" ry="0.7" fill="#20ff40"/>
<line x1="261.4" y1="537.3" x2="261.4" y2="579.5" stroke="#a8a8a8" stroke-width="0.5"/>
<use href="#mouse" x="261.6" y="537.3" width="19.1" height="42.2"/>
<ellipse cx="271.6" cy="562.8" rx="6.4" ry="5.8" fill="#1030ff"/>
<ellipse cx="271.6" cy="562.8" rx="5.8" ry="5.2" fill="#00c8ff"/>
<ellipse cx="271.6" cy="562.8" rx="5.1" ry="4.6" fill="#20ff40"/>
<ellipse cx="271.6" cy="562.8" rx="4.5" ry="4.1" fill="#ffee00"/>
<ellipse cx="271.6" cy="562.8" rx="3.8" ry="3.5" fill="#ff1a00"/>
<ellipse cx="273.2" cy="561.7" rx="1.0" ry="0.8" fill="#ffee00"/>
<ellipse cx="269.7" cy="564.1" rx="0.9" ry="0.7" fill="#20ff40"/>
<line x1="280.5" y1="537.3" x2="280.5" y2="579.5" stroke="#a8a8a8" stroke-width="0.5"/>
<use href="#mouse" x="280.8" y="537.3" width="19.1" height="42.2"/>
<ellipse cx="290.7" cy="562.8" rx="6.4" ry="5.8" fill="#1030ff"/>
<ellipse cx="290.7" cy="562.8" rx="5.8" ry="5.2" fill="#00c8ff"/>
<ellipse cx="290.7" cy="562.8" rx="5.1" ry="4.6" fill="#20ff40"/>
<ellipse cx="290.7" cy="562.8" rx="4.5" ry="4.1" fill="#ffee00"/>
<ellipse cx="290.7" cy="562.8" rx="3.8" ry="3.5" fill="#ff1a00"/>
<ellipse cx="292.3" cy="561.7" rx="1.0" ry="0.8" fill="#ffee00"/>
<ellipse cx="288.8" cy="564.1" rx="0.9" ry="0.7" fill="#20ff40"/>
<line x1="299.6" y1="537.3" x2="299.6" y2="579.5" stroke="#a8a8a8" stroke-width="0.5"/>
<use href="#mouse" x="299.9" y="537.3" width="19.1" height="42.2"/>
<ellipse cx="309.8" cy="562.8" rx="6.4" ry="5.8" fill="#1030ff"/>
<ellipse cx="309.8" cy="562.8" rx="5.8" ry="5.2" fill="#00c8ff"/>
<ellipse cx="309.8" cy="562.8" rx="5.1" ry="4.6" fill="#20ff40"/>
<ellipse cx="309.8" cy="562.8" rx="4.5" ry="4.1" fill="#ffee00"/>
<ellipse cx="309.8" cy="562.8" rx="3.8" ry="3.5" fill="#ff1a00"/>
<ellipse cx="311.4" cy="561.7" rx="1.0" ry="0.8" fill="#ffee00"/>
<ellipse cx="307.9" cy="564.1" rx="0.9" ry="0.7" fill="#20ff40"/>
<line x1="318.8" y1="537.3" x2="318.8" y2="579.5" stroke="#a8a8a8" stroke-width="0.5"/>
<rect x="223.4" y="581.4" width="95.6" height="48.4" fill="url(#exbg)"/>
<path d="M312.3,595.9 L312.3,604.6 Q312.3,607.1 307.5,607.1 L230.1,608.0 Q227.2,608.5 227.2,611.4 L228.2,623.0 Q228.2,625.0 233.0,625.0 L301.8,625.4" fill="none" stroke="#5a30e8" stroke-width="1.3"/>
<ellipse cx="237.7" cy="608.0" rx="1.8" ry="1.0" fill="#10c0ff"/>
<ellipse cx="250.2" cy="608.0" rx="1.8" ry="1.0" fill="#10c0ff"/>
<ellipse cx="261.6" cy="608.0" rx="1.8" ry="1.0" fill="#10c0ff"/>
<ellipse cx="276.0" cy="608.0" rx="1.8" ry="1.0" fill="#10c0ff"/>
<ellipse cx="290.3" cy="608.0" rx="1.8" ry="1.0" fill="#10c0ff"/>
<ellipse cx="301.8" cy="608.0" rx="1.8" ry="1.0" fill="#10c0ff"/>
<ellipse cx="229.1" cy="620.1" rx="2.6" ry="2.6" fill="#1030ff"/>
<ellipse cx="229.1" cy="620.1" rx="1.8" ry="1.8" fill="#10b8ff"/>
<ellipse cx="229.1" cy="620.1" rx="1.0" ry="1.0" fill="#30e0ff"/>
<circle cx="232.0" cy="591.0" r="1.2" fill="#1a1a1a" stroke="none" stroke-width="0.6"/>
<ellipse cx="245.4" cy="592.0" rx="4.6" ry="4.2" fill="#1c1c1c"/>
<ellipse cx="258.8" cy="592.0" rx="1.8" ry="4.4" fill="#262626"/>
<ellipse cx="271.2" cy="592.0" rx="2.6" ry="2.4" fill="#dcdcdc"/>
<ellipse cx="283.6" cy="592.0" rx="2.4" ry="2.1" fill="#2a2a2a"/>
<ellipse cx="312.3" cy="594.0" rx="2.6" ry="3.8" fill="none" stroke="#e0e0e0" stroke-width="1.1"/>
<ellipse cx="245.4" cy="593.0" rx="2.5" ry="2.2" fill="#1030ff"/>
<ellipse cx="245.4" cy="593.0" rx="2.1" ry="1.9" fill="#00c8ff"/>
<ellipse cx="245.4" cy="593.0" rx="1.9" ry="1.6" fill="#20ff40"/>
<ellipse cx="245.4" cy="593.0" rx="1.5" ry="1.3" fill="#ffff10"/>
<ellipse cx="245.4" cy="593.0" rx="1.2" ry="1.1" fill="#ff1a00"/>
<ellipse cx="258.8" cy="592.0" rx="1.6" ry="3.6" fill="#1030ff"/>
<ellipse cx="258.8" cy="592.0" rx="1.4" ry="3.1" fill="#00c8ff"/>
<ellipse cx="258.8" cy="592.0" rx="1.2" ry="2.7" fill="#20ff40"/>
<ellipse cx="258.8" cy="592.0" rx="1.0" ry="2.2" fill="#ffff10"/>
<ellipse cx="258.8" cy="592.0" rx="0.8" ry="1.7" fill="#ff1a00"/>
<ellipse cx="299.9" cy="593.0" rx="5.4" ry="4.6" fill="#1030ff"/>
<ellipse cx="299.9" cy="593.0" rx="4.6" ry="4.0" fill="#00c8ff"/>
<ellipse cx="299.9" cy="593.0" rx="4.0" ry="3.4" fill="#20ff40"/>
<ellipse cx="299.9" cy="593.0" rx="3.2" ry="2.8" fill="#ffff10"/>
<ellipse cx="299.9" cy="593.0" rx="2.6" ry="2.2" fill="#ff1a00"/>
<ellipse cx="312.3" cy="594.5" rx="2.0" ry="3.2" fill="#1030ff"/>
<ellipse cx="312.3" cy="594.5" rx="1.6" ry="2.6" fill="#00c8ff"/>
<ellipse cx="312.3" cy="594.5" rx="1.3" ry="2.1" fill="#20ff50"/>
<ellipse cx="312.3" cy="594.5" rx="0.8" ry="1.3" fill="#d8ff20"/>
<use href="#mouse" x="321.7" y="449.0" width="19.1" height="42.7"/>
<ellipse cx="331.6" cy="473.3" rx="2.9" ry="1.8" fill="#1030ff"/>
<ellipse cx="331.6" cy="473.3" rx="1.6" ry="1.0" fill="#2f8cff"/>
<line x1="340.6" y1="449.0" x2="340.6" y2="491.7" stroke="#a8a8a8" stroke-width="0.5"/>
<use href="#mouse" x="340.8" y="449.0" width="19.1" height="42.7"/>
<ellipse cx="350.8" cy="473.3" rx="2.9" ry="1.8" fill="#1030ff"/>
<ellipse cx="350.8" cy="473.3" rx="1.6" ry="1.0" fill="#2f8cff"/>
<line x1="359.7" y1="449.0" x2="359.7" y2="491.7" stroke="#a8a8a8" stroke-width="0.5"/>
<use href="#mouse" x="359.9" y="449.0" width="19.1" height="42.7"/>
<ellipse cx="369.9" cy="473.3" rx="2.9" ry="1.8" fill="#1030ff"/>
<ellipse cx="369.9" cy="473.3" rx="1.6" ry="1.0" fill="#2f8cff"/>
<line x1="378.8" y1="449.0" x2="378.8" y2="491.7" stroke="#a8a8a8" stroke-width="0.5"/>
<use href="#mouse" x="379.1" y="449.0" width="19.1" height="42.7"/>
<ellipse cx="389.0" cy="473.3" rx="2.9" ry="1.8" fill="#1030ff"/>
<ellipse cx="389.0" cy="473.3" rx="1.6" ry="1.0" fill="#2f8cff"/>
<line x1="397.9" y1="449.0" x2="397.9" y2="491.7" stroke="#a8a8a8" stroke-width="0.5"/>
<use href="#mouse" x="398.2" y="449.0" width="19.1" height="42.7"/>
<ellipse cx="408.1" cy="473.3" rx="2.9" ry="1.8" fill="#1030ff"/>
<ellipse cx="408.1" cy="473.3" rx="1.6" ry="1.0" fill="#2f8cff"/>
<line x1="417.0" y1="449.0" x2="417.0" y2="491.7" stroke="#a8a8a8" stroke-width="0.5"/>
<use href="#mouse" x="321.7" y="493.7" width="19.1" height="41.6"/>
<ellipse cx="331.6" cy="518.9" rx="5.4" ry="4.2" fill="#1030ff"/>
<ellipse cx="331.6" cy="518.9" rx="4.4" ry="3.4" fill="#00c8ff"/>
<ellipse cx="331.6" cy="518.9" rx="3.6" ry="2.8" fill="#20ff50"/>
<ellipse cx="331.6" cy="518.9" rx="2.3" ry="1.8" fill="#d8ff20"/>
<line x1="340.6" y1="493.7" x2="340.6" y2="535.3" stroke="#a8a8a8" stroke-width="0.5"/>
<use href="#mouse" x="340.8" y="493.7" width="19.1" height="41.6"/>
<ellipse cx="350.8" cy="518.9" rx="5.4" ry="4.2" fill="#1030ff"/>
<ellipse cx="350.8" cy="518.9" rx="4.4" ry="3.4" fill="#00c8ff"/>
<ellipse cx="350.8" cy="518.9" rx="3.6" ry="2.8" fill="#20ff50"/>
<ellipse cx="350.8" cy="518.9" rx="2.3" ry="1.8" fill="#d8ff20"/>
<line x1="359.7" y1="493.7" x2="359.7" y2="535.3" stroke="#a8a8a8" stroke-width="0.5"/>
<use href="#mouse" x="359.9" y="493.7" width="19.1" height="41.6"/>
<ellipse cx="369.9" cy="518.9" rx="5.4" ry="4.2" fill="#1030ff"/>
<ellipse cx="369.9" cy="518.9" rx="4.4" ry="3.4" fill="#00c8ff"/>
<ellipse cx="369.9" cy="518.9" rx="3.6" ry="2.8" fill="#20ff50"/>
<ellipse cx="369.9" cy="518.9" rx="2.3" ry="1.8" fill="#d8ff20"/>
<line x1="378.8" y1="493.7" x2="378.8" y2="535.3" stroke="#a8a8a8" stroke-width="0.5"/>
<use href="#mouse" x="379.1" y="493.7" width="19.1" height="41.6"/>
<ellipse cx="389.0" cy="518.9" rx="5.4" ry="4.2" fill="#1030ff"/>
<ellipse cx="389.0" cy="518.9" rx="4.4" ry="3.4" fill="#00c8ff"/>
<ellipse cx="389.0" cy="518.9" rx="3.6" ry="2.8" fill="#20ff50"/>
<ellipse cx="389.0" cy="518.9" rx="2.3" ry="1.8" fill="#d8ff20"/>
<line x1="397.9" y1="493.7" x2="397.9" y2="535.3" stroke="#a8a8a8" stroke-width="0.5"/>
<use href="#mouse" x="398.2" y="493.7" width="19.1" height="41.6"/>
<ellipse cx="408.1" cy="518.9" rx="5.4" ry="4.2" fill="#1030ff"/>
<ellipse cx="408.1" cy="518.9" rx="4.4" ry="3.4" fill="#00c8ff"/>
<ellipse cx="408.1" cy="518.9" rx="3.6" ry="2.8" fill="#20ff50"/>
<ellipse cx="408.1" cy="518.9" rx="2.3" ry="1.8" fill="#d8ff20"/>
<line x1="417.0" y1="493.7" x2="417.0" y2="535.3" stroke="#a8a8a8" stroke-width="0.5"/>
<use href="#mouse" x="321.7" y="537.3" width="19.1" height="42.2"/>
<ellipse cx="331.6" cy="562.8" rx="6.0" ry="5.2" fill="#1030ff"/>
<ellipse cx="331.6" cy="562.8" rx="5.2" ry="4.5" fill="#00c8ff"/>
<ellipse cx="331.6" cy="562.8" rx="4.4" ry="3.8" fill="#20ff40"/>
<ellipse cx="331.6" cy="562.8" rx="3.6" ry="3.1" fill="#ffff10"/>
<ellipse cx="331.6" cy="562.8" rx="2.9" ry="2.5" fill="#ff1a00"/>
<line x1="340.6" y1="537.3" x2="340.6" y2="579.5" stroke="#a8a8a8" stroke-width="0.5"/>
<use href="#mouse" x="340.8" y="537.3" width="19.1" height="42.2"/>
<ellipse cx="350.8" cy="562.8" rx="6.0" ry="5.2" fill="#1030ff"/>
<ellipse cx="350.8" cy="562.8" rx="5.2" ry="4.5" fill="#00c8ff"/>
<ellipse cx="350.8" cy="562.8" rx="4.4" ry="3.8" fill="#20ff40"/>
<ellipse cx="350.8" cy="562.8" rx="3.6" ry="3.1" fill="#ffff10"/>
<ellipse cx="350.8" cy="562.8" rx="2.9" ry="2.5" fill="#ff1a00"/>
<line x1="359.7" y1="537.3" x2="359.7" y2="579.5" stroke="#a8a8a8" stroke-width="0.5"/>
<use href="#mouse" x="359.9" y="537.3" width="19.1" height="42.2"/>
<ellipse cx="369.9" cy="562.8" rx="6.0" ry="5.2" fill="#1030ff"/>
<ellipse cx="369.9" cy="562.8" rx="5.2" ry="4.5" fill="#00c8ff"/>
<ellipse cx="369.9" cy="562.8" rx="4.4" ry="3.8" fill="#20ff40"/>
<ellipse cx="369.9" cy="562.8" rx="3.6" ry="3.1" fill="#ffff10"/>
<ellipse cx="369.9" cy="562.8" rx="2.9" ry="2.5" fill="#ff1a00"/>
<line x1="378.8" y1="537.3" x2="378.8" y2="579.5" stroke="#a8a8a8" stroke-width="0.5"/>
<use href="#mouse" x="379.1" y="537.3" width="19.1" height="42.2"/>
<ellipse cx="389.0" cy="562.8" rx="6.0" ry="5.2" fill="#1030ff"/>
<ellipse cx="389.0" cy="562.8" rx="5.2" ry="4.5" fill="#00c8ff"/>
<ellipse cx="389.0" cy="562.8" rx="4.4" ry="3.8" fill="#20ff40"/>
<ellipse cx="389.0" cy="562.8" rx="3.6" ry="3.1" fill="#ffff10"/>
<ellipse cx="389.0" cy="562.8" rx="2.9" ry="2.5" fill="#ff1a00"/>
<line x1="397.9" y1="537.3" x2="397.9" y2="579.5" stroke="#a8a8a8" stroke-width="0.5"/>
<use href="#mouse" x="398.2" y="537.3" width="19.1" height="42.2"/>
<ellipse cx="408.1" cy="562.8" rx="6.0" ry="5.2" fill="#1030ff"/>
<ellipse cx="408.1" cy="562.8" rx="5.2" ry="4.5" fill="#00c8ff"/>
<ellipse cx="408.1" cy="562.8" rx="4.4" ry="3.8" fill="#20ff40"/>
<ellipse cx="408.1" cy="562.8" rx="3.6" ry="3.1" fill="#ffff10"/>
<ellipse cx="408.1" cy="562.8" rx="2.9" ry="2.5" fill="#ff1a00"/>
<line x1="417.0" y1="537.3" x2="417.0" y2="579.5" stroke="#a8a8a8" stroke-width="0.5"/>
<rect x="321.7" y="581.4" width="95.6" height="48.4" fill="url(#exbg)"/>
<path d="M410.6,595.9 L410.6,604.6 Q410.6,607.1 405.8,607.1 L328.4,608.0 Q325.5,608.5 325.5,611.4 L326.5,623.0 Q326.5,625.0 331.3,625.0 L400.1,625.4" fill="none" stroke="#5a30e8" stroke-width="1.3"/>
<ellipse cx="336.0" cy="608.0" rx="1.8" ry="1.0" fill="#10c0ff"/>
<ellipse cx="348.5" cy="608.0" rx="1.8" ry="1.0" fill="#10c0ff"/>
<ellipse cx="359.9" cy="608.0" rx="1.8" ry="1.0" fill="#10c0ff"/>
<ellipse cx="374.3" cy="608.0" rx="1.8" ry="1.0" fill="#10c0ff"/>
<ellipse cx="388.6" cy="608.0" rx="1.8" ry="1.0" fill="#10c0ff"/>
<ellipse cx="400.1" cy="608.0" rx="1.8" ry="1.0" fill="#10c0ff"/>
<ellipse cx="327.4" cy="620.1" rx="2.6" ry="2.6" fill="#1030ff"/>
<ellipse cx="327.4" cy="620.1" rx="1.8" ry="1.8" fill="#10b8ff"/>
<ellipse cx="327.4" cy="620.1" rx="1.0" ry="1.0" fill="#30e0ff"/>
<circle cx="330.3" cy="591.0" r="1.2" fill="#1a1a1a" stroke="none" stroke-width="0.6"/>
<ellipse cx="343.7" cy="592.0" rx="4.6" ry="4.2" fill="#1c1c1c"/>
<ellipse cx="357.1" cy="592.0" rx="1.8" ry="4.4" fill="#262626"/>
<ellipse cx="369.5" cy="592.0" rx="2.6" ry="2.4" fill="#dcdcdc"/>
<ellipse cx="381.9" cy="592.0" rx="2.4" ry="2.1" fill="#2a2a2a"/>
<ellipse cx="410.6" cy="594.0" rx="2.6" ry="3.8" fill="none" stroke="#e0e0e0" stroke-width="1.1"/>
<ellipse cx="343.7" cy="593.0" rx="2.5" ry="2.2" fill="#1030ff"/>
<ellipse cx="343.7" cy="593.0" rx="2.1" ry="1.9" fill="#00c8ff"/>
<ellipse cx="343.7" cy="593.0" rx="1.9" ry="1.6" fill="#20ff40"/>
<ellipse cx="343.7" cy="593.0" rx="1.5" ry="1.3" fill="#ffff10"/>
<ellipse cx="343.7" cy="593.0" rx="1.2" ry="1.1" fill="#ff1a00"/>
<ellipse cx="357.1" cy="592.0" rx="1.6" ry="3.6" fill="#1030ff"/>
<ellipse cx="357.1" cy="592.0" rx="1.4" ry="3.1" fill="#00c8ff"/>
<ellipse cx="357.1" cy="592.0" rx="1.2" ry="2.7" fill="#20ff40"/>
<ellipse cx="357.1" cy="592.0" rx="1.0" ry="2.2" fill="#ffff10"/>
<ellipse cx="357.1" cy="592.0" rx="0.8" ry="1.7" fill="#ff1a00"/>
<ellipse cx="398.2" cy="593.0" rx="5.4" ry="4.6" fill="#1030ff"/>
<ellipse cx="398.2" cy="593.0" rx="4.6" ry="4.0" fill="#00c8ff"/>
<ellipse cx="398.2" cy="593.0" rx="4.0" ry="3.4" fill="#20ff40"/>
<ellipse cx="398.2" cy="593.0" rx="3.2" ry="2.8" fill="#ffff10"/>
<ellipse cx="398.2" cy="593.0" rx="2.6" ry="2.2" fill="#ff1a00"/>
<ellipse cx="410.6" cy="594.5" rx="2.0" ry="3.2" fill="#1030ff"/>
<ellipse cx="410.6" cy="594.5" rx="1.6" ry="2.6" fill="#00c8ff"/>
<ellipse cx="410.6" cy="594.5" rx="1.3" ry="2.1" fill="#20ff50"/>
<ellipse cx="410.6" cy="594.5" rx="0.8" ry="1.3" fill="#d8ff20"/>
<rect x="124.9" y="491.5" width="292.1" height="1.4" fill="#c8c8c8"/>
<rect x="124.9" y="535.5" width="292.1" height="1.4" fill="#c8c8c8"/>
<rect x="124.9" y="579.7" width="292.1" height="1.4" fill="#c8c8c8"/>
<line x1="222.0" y1="438.3" x2="222.0" y2="630.5" stroke="#e06060" stroke-width="0.6" stroke-dasharray="0.9,1.1"/>
<line x1="320.6" y1="438.3" x2="320.6" y2="630.5" stroke="#e06060" stroke-width="0.6" stroke-dasharray="0.9,1.1"/>
<line x1="123.5" y1="630.5" x2="123.5" y2="831.6" stroke="#e06060" stroke-width="0.6" stroke-dasharray="0.9,1.1"/>
<line x1="222.0" y1="630.5" x2="222.0" y2="831.6" stroke="#e06060" stroke-width="0.6" stroke-dasharray="0.9,1.1"/>
<line x1="320.6" y1="630.5" x2="320.6" y2="831.6" stroke="#e06060" stroke-width="0.6" stroke-dasharray="0.9,1.1"/>
<path d="M115.3,441.2 L115.3,447.2 Q115.3,449.4 118.2,449.2" fill="none" stroke="#000" stroke-width="2.2"/>
<text x="111.0" y="587.8" font-size="12" font-weight="bold" fill="#000" stroke="#000" stroke-width="0.35">m</text>
<text x="169.5" y="447.0" font-size="6.96" text-anchor="middle" fill="#231f20" textLength="42.4" lengthAdjust="spacingAndGlyphs" stroke="#231f20" stroke-width="0.1">5% Dextrose</text>
<text x="268.6" y="447.0" font-size="6.96" text-anchor="middle" fill="#231f20" textLength="46.5" lengthAdjust="spacingAndGlyphs" stroke="#231f20" stroke-width="0.1">GEM/Lipo-SM</text>
<text x="367.4" y="447.0" font-size="6.96" text-anchor="middle" fill="#231f20" textLength="31.7" lengthAdjust="spacingAndGlyphs" stroke="#231f20" stroke-width="0.1">Abraxane</text>
<text x="123.3" y="470.3" font-size="6.77" text-anchor="middle" fill="#231f20" transform="rotate(-90 123.3 470.3)" textLength="22.3" lengthAdjust="spacingAndGlyphs" stroke="#231f20" stroke-width="0.1">Day 11</text>
<text x="123.3" y="514.5" font-size="6.77" text-anchor="middle" fill="#231f20" transform="rotate(-90 123.3 514.5)" textLength="22.8" lengthAdjust="spacingAndGlyphs" stroke="#231f20" stroke-width="0.1">Day 18</text>
<text x="123.3" y="558.4" font-size="6.77" text-anchor="middle" fill="#231f20" transform="rotate(-90 123.3 558.4)" textLength="22.8" lengthAdjust="spacingAndGlyphs" stroke="#231f20" stroke-width="0.1">Day 25</text>
<text x="123.3" y="605.6" font-size="6.77" text-anchor="middle" fill="#231f20" transform="rotate(-90 123.3 605.6)" textLength="22.8" lengthAdjust="spacingAndGlyphs" stroke="#231f20" stroke-width="0.1">Day 25</text>
<rect x="421.2" y="461.5" width="2.5" height="55.5" fill="url(#vbar)"/>
<text x="424.9" y="453.3" font-size="5.83" text-anchor="middle" fill="#231f20" transform="rotate(-90 424.9 453.3)" textLength="12.8" lengthAdjust="spacingAndGlyphs" stroke="#231f20" stroke-width="0.05">High</text>
<text x="424.9" y="525.2" font-size="5.83" text-anchor="middle" fill="#231f20" transform="rotate(-90 424.9 525.2)" textLength="11.4" lengthAdjust="spacingAndGlyphs" stroke="#231f20" stroke-width="0.05">Low</text>
<rect x="421.2" y="576.4" width="2.5" height="47.9" fill="url(#vbar)"/>
<text x="424.9" y="568.2" font-size="5.83" text-anchor="middle" fill="#231f20" transform="rotate(-90 424.9 568.2)" textLength="12.8" lengthAdjust="spacingAndGlyphs" stroke="#231f20" stroke-width="0.05">High</text>
<text x="424.9" y="629.0" font-size="5.83" text-anchor="middle" fill="#231f20" transform="rotate(-90 424.9 629.0)" textLength="11.4" lengthAdjust="spacingAndGlyphs" stroke="#231f20" stroke-width="0.05">Low</text>
<rect x="421.2" y="673.8" width="2.5" height="56.2" fill="url(#vbar)"/>
<text x="424.9" y="666.8" font-size="5.83" text-anchor="middle" fill="#231f20" transform="rotate(-90 424.9 666.8)" textLength="12.8" lengthAdjust="spacingAndGlyphs" stroke="#231f20" stroke-width="0.05">High</text>
<text x="424.9" y="738.8" font-size="5.83" text-anchor="middle" fill="#231f20" transform="rotate(-90 424.9 738.8)" textLength="11.4" lengthAdjust="spacingAndGlyphs" stroke="#231f20" stroke-width="0.05">Low</text>
<rect x="421.2" y="777.5" width="2.5" height="40.0" fill="url(#vbar)"/>
<text x="424.9" y="768.6" font-size="5.83" text-anchor="middle" fill="#231f20" transform="rotate(-90 424.9 768.6)" textLength="12.8" lengthAdjust="spacingAndGlyphs" stroke="#231f20" stroke-width="0.05">High</text>
<text x="424.9" y="825.0" font-size="5.83" text-anchor="middle" fill="#231f20" transform="rotate(-90 424.9 825.0)" textLength="11.4" lengthAdjust="spacingAndGlyphs" stroke="#231f20" stroke-width="0.05">Low</text>
<use href="#mouse" x="25.0" y="651.2" width="19.3" height="42.3"/>
<ellipse cx="35.0" cy="675.3" rx="3.0" ry="1.9" fill="#1030ff"/>
<ellipse cx="35.0" cy="675.3" rx="1.7" ry="1.0" fill="#2f8cff"/>
<line x1="44.0" y1="651.2" x2="44.0" y2="693.5" stroke="#a8a8a8" stroke-width="0.5"/>
<use href="#mouse" x="44.3" y="651.2" width="19.3" height="42.3"/>
<ellipse cx="54.3" cy="675.3" rx="3.0" ry="1.9" fill="#1030ff"/>
<ellipse cx="54.3" cy="675.3" rx="1.7" ry="1.0" fill="#2f8cff"/>
<line x1="63.3" y1="651.2" x2="63.3" y2="693.5" stroke="#a8a8a8" stroke-width="0.5"/>
<use href="#mouse" x="63.6" y="651.2" width="19.3" height="42.3"/>
<ellipse cx="73.6" cy="675.3" rx="3.0" ry="1.9" fill="#1030ff"/>
<ellipse cx="73.6" cy="675.3" rx="1.7" ry="1.0" fill="#2f8cff"/>
<line x1="82.7" y1="651.2" x2="82.7" y2="693.5" stroke="#a8a8a8" stroke-width="0.5"/>
<use href="#mouse" x="82.9" y="651.2" width="19.3" height="42.3"/>
<ellipse cx="92.9" cy="675.3" rx="3.0" ry="1.9" fill="#1030ff"/>
<ellipse cx="92.9" cy="675.3" rx="1.7" ry="1.0" fill="#2f8cff"/>
<line x1="102.0" y1="651.2" x2="102.0" y2="693.5" stroke="#a8a8a8" stroke-width="0.5"/>
<use href="#mouse" x="102.2" y="651.2" width="19.3" height="42.3"/>
<ellipse cx="112.2" cy="675.3" rx="3.0" ry="1.9" fill="#1030ff"/>
<ellipse cx="112.2" cy="675.3" rx="1.7" ry="1.0" fill="#2f8cff"/>
<line x1="121.2" y1="651.2" x2="121.2" y2="693.5" stroke="#a8a8a8" stroke-width="0.5"/>
<use href="#mouse" x="25.0" y="695.0" width="19.3" height="42.5"/>
<ellipse cx="35.0" cy="720.7" rx="5.2" ry="4.2" fill="#1030ff"/>
<ellipse cx="35.0" cy="720.7" rx="4.3" ry="3.4" fill="#00c8ff"/>
<ellipse cx="35.0" cy="720.7" rx="3.4" ry="2.8" fill="#20ff50"/>
<ellipse cx="35.0" cy="720.7" rx="2.2" ry="1.8" fill="#d8ff20"/>
<line x1="44.0" y1="695.0" x2="44.0" y2="737.5" stroke="#a8a8a8" stroke-width="0.5"/>
<use href="#mouse" x="44.3" y="695.0" width="19.3" height="42.5"/>
<ellipse cx="54.3" cy="720.7" rx="5.2" ry="4.2" fill="#1030ff"/>
<ellipse cx="54.3" cy="720.7" rx="4.3" ry="3.4" fill="#00c8ff"/>
<ellipse cx="54.3" cy="720.7" rx="3.4" ry="2.8" fill="#20ff50"/>
<ellipse cx="54.3" cy="720.7" rx="2.2" ry="1.8" fill="#d8ff20"/>
<line x1="63.3" y1="695.0" x2="63.3" y2="737.5" stroke="#a8a8a8" stroke-width="0.5"/>
<use href="#mouse" x="63.6" y="695.0" width="19.3" height="42.5"/>
<ellipse cx="73.6" cy="720.7" rx="5.2" ry="4.2" fill="#1030ff"/>
<ellipse cx="73.6" cy="720.7" rx="4.3" ry="3.4" fill="#00c8ff"/>
<ellipse cx="73.6" cy="720.7" rx="3.4" ry="2.8" fill="#20ff50"/>
<ellipse cx="73.6" cy="720.7" rx="2.2" ry="1.8" fill="#d8ff20"/>
<line x1="82.7" y1="695.0" x2="82.7" y2="737.5" stroke="#a8a8a8" stroke-width="0.5"/>
<use href="#mouse" x="82.9" y="695.0" width="19.3" height="42.5"/>
<ellipse cx="92.9" cy="720.7" rx="5.2" ry="4.2" fill="#1030ff"/>
<ellipse cx="92.9" cy="720.7" rx="4.3" ry="3.4" fill="#00c8ff"/>
<ellipse cx="92.9" cy="720.7" rx="3.4" ry="2.8" fill="#20ff50"/>
<ellipse cx="92.9" cy="720.7" rx="2.2" ry="1.8" fill="#d8ff20"/>
<line x1="102.0" y1="695.0" x2="102.0" y2="737.5" stroke="#a8a8a8" stroke-width="0.5"/>
<use href="#mouse" x="102.2" y="695.0" width="19.3" height="42.5"/>
<ellipse cx="112.2" cy="720.7" rx="5.2" ry="4.2" fill="#1030ff"/>
<ellipse cx="112.2" cy="720.7" rx="4.3" ry="3.4" fill="#00c8ff"/>
<ellipse cx="112.2" cy="720.7" rx="3.4" ry="2.8" fill="#20ff50"/>
<ellipse cx="112.2" cy="720.7" rx="2.2" ry="1.8" fill="#d8ff20"/>
<line x1="121.2" y1="695.0" x2="121.2" y2="737.5" stroke="#a8a8a8" stroke-width="0.5"/>
<use href="#mouse" x="25.0" y="739.2" width="19.3" height="42.0"/>
<ellipse cx="35.0" cy="764.6" rx="6.0" ry="5.2" fill="#1030ff"/>
<ellipse cx="35.0" cy="764.6" rx="5.2" ry="4.5" fill="#00c8ff"/>
<ellipse cx="35.0" cy="764.6" rx="4.4" ry="3.8" fill="#20ff40"/>
<ellipse cx="35.0" cy="764.6" rx="3.6" ry="3.1" fill="#ffff10"/>
<ellipse cx="35.0" cy="764.6" rx="2.9" ry="2.5" fill="#ff1a00"/>
<line x1="44.0" y1="739.2" x2="44.0" y2="781.2" stroke="#a8a8a8" stroke-width="0.5"/>
<use href="#mouse" x="44.3" y="739.2" width="19.3" height="42.0"/>
<ellipse cx="54.3" cy="764.6" rx="6.0" ry="5.2" fill="#1030ff"/>
<ellipse cx="54.3" cy="764.6" rx="5.2" ry="4.5" fill="#00c8ff"/>
<ellipse cx="54.3" cy="764.6" rx="4.4" ry="3.8" fill="#20ff40"/>
<ellipse cx="54.3" cy="764.6" rx="3.6" ry="3.1" fill="#ffff10"/>
<ellipse cx="54.3" cy="764.6" rx="2.9" ry="2.5" fill="#ff1a00"/>
<line x1="63.3" y1="739.2" x2="63.3" y2="781.2" stroke="#a8a8a8" stroke-width="0.5"/>
<use href="#mouse" x="63.6" y="739.2" width="19.3" height="42.0"/>
<ellipse cx="73.6" cy="764.6" rx="6.0" ry="5.2" fill="#1030ff"/>
<ellipse cx="73.6" cy="764.6" rx="5.2" ry="4.5" fill="#00c8ff"/>
<ellipse cx="73.6" cy="764.6" rx="4.4" ry="3.8" fill="#20ff40"/>
<ellipse cx="73.6" cy="764.6" rx="3.6" ry="3.1" fill="#ffff10"/>
<ellipse cx="73.6" cy="764.6" rx="2.9" ry="2.5" fill="#ff1a00"/>
<line x1="82.7" y1="739.2" x2="82.7" y2="781.2" stroke="#a8a8a8" stroke-width="0.5"/>
<use href="#mouse" x="82.9" y="739.2" width="19.3" height="42.0"/>
<ellipse cx="92.9" cy="764.6" rx="6.0" ry="5.2" fill="#1030ff"/>
<ellipse cx="92.9" cy="764.6" rx="5.2" ry="4.5" fill="#00c8ff"/>
<ellipse cx="92.9" cy="764.6" rx="4.4" ry="3.8" fill="#20ff40"/>
<ellipse cx="92.9" cy="764.6" rx="3.6" ry="3.1" fill="#ffff10"/>
<ellipse cx="92.9" cy="764.6" rx="2.9" ry="2.5" fill="#ff1a00"/>
<line x1="102.0" y1="739.2" x2="102.0" y2="781.2" stroke="#a8a8a8" stroke-width="0.5"/>
<use href="#mouse" x="102.2" y="739.2" width="19.3" height="42.0"/>
<ellipse cx="112.2" cy="764.6" rx="6.0" ry="5.2" fill="#1030ff"/>
<ellipse cx="112.2" cy="764.6" rx="5.2" ry="4.5" fill="#00c8ff"/>
<ellipse cx="112.2" cy="764.6" rx="4.4" ry="3.8" fill="#20ff40"/>
<ellipse cx="112.2" cy="764.6" rx="3.6" ry="3.1" fill="#ffff10"/>
<ellipse cx="112.2" cy="764.6" rx="2.9" ry="2.5" fill="#ff1a00"/>
<line x1="121.2" y1="739.2" x2="121.2" y2="781.2" stroke="#a8a8a8" stroke-width="0.5"/>
<rect x="25.0" y="782.8" width="96.5" height="48.4" fill="url(#exbg)"/>
<path d="M114.7,797.3 L114.7,806.0 Q114.7,808.5 109.9,808.5 L31.8,809.4 Q28.9,809.9 28.9,812.8 L29.8,824.4 Q29.8,826.4 34.6,826.4 L104.1,826.8" fill="none" stroke="#5a30e8" stroke-width="1.3"/>
<ellipse cx="39.5" cy="809.4" rx="1.8" ry="1.0" fill="#10c0ff"/>
<ellipse cx="52.0" cy="809.4" rx="1.8" ry="1.0" fill="#10c0ff"/>
<ellipse cx="63.6" cy="809.4" rx="1.8" ry="1.0" fill="#10c0ff"/>
<ellipse cx="78.1" cy="809.4" rx="1.8" ry="1.0" fill="#10c0ff"/>
<ellipse cx="92.5" cy="809.4" rx="1.8" ry="1.0" fill="#10c0ff"/>
<ellipse cx="104.1" cy="809.4" rx="1.8" ry="1.0" fill="#10c0ff"/>
<ellipse cx="30.8" cy="821.5" rx="2.6" ry="2.6" fill="#1030ff"/>
<ellipse cx="30.8" cy="821.5" rx="1.8" ry="1.8" fill="#10b8ff"/>
<ellipse cx="30.8" cy="821.5" rx="1.0" ry="1.0" fill="#30e0ff"/>
<circle cx="33.7" cy="792.4" r="1.2" fill="#1a1a1a" stroke="none" stroke-width="0.6"/>
<ellipse cx="47.2" cy="793.4" rx="4.6" ry="4.2" fill="#1c1c1c"/>
<ellipse cx="60.7" cy="793.4" rx="1.8" ry="4.4" fill="#262626"/>
<ellipse cx="73.2" cy="793.4" rx="2.6" ry="2.4" fill="#dcdcdc"/>
<ellipse cx="85.8" cy="793.4" rx="2.4" ry="2.1" fill="#2a2a2a"/>
<ellipse cx="114.7" cy="795.4" rx="2.6" ry="3.8" fill="none" stroke="#e0e0e0" stroke-width="1.1"/>
<ellipse cx="47.2" cy="794.4" rx="2.5" ry="2.2" fill="#1030ff"/>
<ellipse cx="47.2" cy="794.4" rx="2.1" ry="1.9" fill="#00c8ff"/>
<ellipse cx="47.2" cy="794.4" rx="1.9" ry="1.6" fill="#20ff40"/>
<ellipse cx="47.2" cy="794.4" rx="1.5" ry="1.3" fill="#ffff10"/>
<ellipse cx="47.2" cy="794.4" rx="1.2" ry="1.1" fill="#ff1a00"/>
<ellipse cx="60.7" cy="793.4" rx="1.6" ry="3.6" fill="#1030ff"/>
<ellipse cx="60.7" cy="793.4" rx="1.4" ry="3.1" fill="#00c8ff"/>
<ellipse cx="60.7" cy="793.4" rx="1.2" ry="2.7" fill="#20ff40"/>
<ellipse cx="60.7" cy="793.4" rx="1.0" ry="2.2" fill="#ffff10"/>
<ellipse cx="60.7" cy="793.4" rx="0.8" ry="1.7" fill="#ff1a00"/>
<ellipse cx="102.2" cy="794.4" rx="5.4" ry="4.6" fill="#1030ff"/>
<ellipse cx="102.2" cy="794.4" rx="4.6" ry="4.0" fill="#00c8ff"/>
<ellipse cx="102.2" cy="794.4" rx="4.0" ry="3.4" fill="#20ff40"/>
<ellipse cx="102.2" cy="794.4" rx="3.2" ry="2.8" fill="#ffff10"/>
<ellipse cx="102.2" cy="794.4" rx="2.6" ry="2.2" fill="#ff1a00"/>
<ellipse cx="114.7" cy="795.9" rx="2.0" ry="3.2" fill="#1030ff"/>
<ellipse cx="114.7" cy="795.9" rx="1.6" ry="2.6" fill="#00c8ff"/>
<ellipse cx="114.7" cy="795.9" rx="1.3" ry="2.1" fill="#20ff50"/>
<ellipse cx="114.7" cy="795.9" rx="0.8" ry="1.3" fill="#d8ff20"/>
<use href="#mouse" x="124.9" y="651.2" width="19.1" height="42.3"/>
<ellipse cx="134.8" cy="675.3" rx="3.0" ry="1.9" fill="#1030ff"/>
<ellipse cx="134.8" cy="675.3" rx="1.7" ry="1.0" fill="#2f8cff"/>
<line x1="143.8" y1="651.2" x2="143.8" y2="693.5" stroke="#a8a8a8" stroke-width="0.5"/>
<use href="#mouse" x="144.0" y="651.2" width="19.1" height="42.3"/>
<ellipse cx="154.0" cy="675.3" rx="3.0" ry="1.9" fill="#1030ff"/>
<ellipse cx="154.0" cy="675.3" rx="1.7" ry="1.0" fill="#2f8cff"/>
<line x1="162.9" y1="651.2" x2="162.9" y2="693.5" stroke="#a8a8a8" stroke-width="0.5"/>
<use href="#mouse" x="163.1" y="651.2" width="19.1" height="42.3"/>
<ellipse cx="173.1" cy="675.3" rx="3.0" ry="1.9" fill="#1030ff"/>
<ellipse cx="173.1" cy="675.3" rx="1.7" ry="1.0" fill="#2f8cff"/>
<line x1="182.0" y1="651.2" x2="182.0" y2="693.5" stroke="#a8a8a8" stroke-width="0.5"/>
<use href="#mouse" x="182.3" y="651.2" width="19.1" height="42.3"/>
<ellipse cx="192.2" cy="675.3" rx="3.0" ry="1.9" fill="#1030ff"/>
<ellipse cx="192.2" cy="675.3" rx="1.7" ry="1.0" fill="#2f8cff"/>
<line x1="201.1" y1="651.2" x2="201.1" y2="693.5" stroke="#a8a8a8" stroke-width="0.5"/>
<use href="#mouse" x="201.4" y="651.2" width="19.1" height="42.3"/>
<ellipse cx="211.3" cy="675.3" rx="3.0" ry="1.9" fill="#1030ff"/>
<ellipse cx="211.3" cy="675.3" rx="1.7" ry="1.0" fill="#2f8cff"/>
<line x1="220.2" y1="651.2" x2="220.2" y2="693.5" stroke="#a8a8a8" stroke-width="0.5"/>
<use href="#mouse" x="124.9" y="695.0" width="19.1" height="42.5"/>
<ellipse cx="134.8" cy="719.2" rx="2.0" ry="1.6" fill="#1030ff"/>
<ellipse cx="134.8" cy="719.2" rx="1.1" ry="0.9" fill="#2f8cff"/>
<line x1="143.8" y1="695.0" x2="143.8" y2="737.5" stroke="#a8a8a8" stroke-width="0.5"/>
<use href="#mouse" x="144.0" y="695.0" width="19.1" height="42.5"/>
<ellipse cx="154.0" cy="719.2" rx="2.0" ry="1.6" fill="#1030ff"/>
<ellipse cx="154.0" cy="719.2" rx="1.1" ry="0.9" fill="#2f8cff"/>
<line x1="162.9" y1="695.0" x2="162.9" y2="737.5" stroke="#a8a8a8" stroke-width="0.5"/>
<use href="#mouse" x="163.1" y="695.0" width="19.1" height="42.5"/>
<ellipse cx="173.1" cy="719.2" rx="2.0" ry="1.6" fill="#1030ff"/>
<ellipse cx="173.1" cy="719.2" rx="1.1" ry="0.9" fill="#2f8cff"/>
<line x1="182.0" y1="695.0" x2="182.0" y2="737.5" stroke="#a8a8a8" stroke-width="0.5"/>
<use href="#mouse" x="182.3" y="695.0" width="19.1" height="42.5"/>
<ellipse cx="192.2" cy="719.2" rx="2.0" ry="1.6" fill="#1030ff"/>
<ellipse cx="192.2" cy="719.2" rx="1.1" ry="0.9" fill="#2f8cff"/>
<line x1="201.1" y1="695.0" x2="201.1" y2="737.5" stroke="#a8a8a8" stroke-width="0.5"/>
<use href="#mouse" x="201.4" y="695.0" width="19.1" height="42.5"/>
<ellipse cx="211.3" cy="719.2" rx="2.0" ry="1.6" fill="#1030ff"/>
<ellipse cx="211.3" cy="719.2" rx="1.1" ry="0.9" fill="#2f8cff"/>
<line x1="220.2" y1="695.0" x2="220.2" y2="737.5" stroke="#a8a8a8" stroke-width="0.5"/>
<use href="#mouse" x="124.9" y="739.2" width="19.1" height="42.0"/>
<ellipse cx="134.8" cy="764.6" rx="3.4" ry="2.8" fill="#1030ff"/>
<ellipse cx="134.8" cy="764.6" rx="2.4" ry="2.0" fill="#10b8ff"/>
<ellipse cx="134.8" cy="764.6" rx="1.4" ry="1.1" fill="#30e0ff"/>
<line x1="143.8" y1="739.2" x2="143.8" y2="781.2" stroke="#a8a8a8" stroke-width="0.5"/>
<use href="#mouse" x="144.0" y="739.2" width="19.1" height="42.0"/>
<ellipse cx="154.0" cy="764.6" rx="3.4" ry="2.8" fill="#1030ff"/>
<ellipse cx="154.0" cy="764.6" rx="2.4" ry="2.0" fill="#10b8ff"/>
<ellipse cx="154.0" cy="764.6" rx="1.4" ry="1.1" fill="#30e0ff"/>
<line x1="162.9" y1="739.2" x2="162.9" y2="781.2" stroke="#a8a8a8" stroke-width="0.5"/>
<use href="#mouse" x="163.1" y="739.2" width="19.1" height="42.0"/>
<ellipse cx="173.1" cy="764.6" rx="3.4" ry="2.8" fill="#1030ff"/>
<ellipse cx="173.1" cy="764.6" rx="2.4" ry="2.0" fill="#10b8ff"/>
<ellipse cx="173.1" cy="764.6" rx="1.4" ry="1.1" fill="#30e0ff"/>
<line x1="182.0" y1="739.2" x2="182.0" y2="781.2" stroke="#a8a8a8" stroke-width="0.5"/>
<use href="#mouse" x="182.3" y="739.2" width="19.1" height="42.0"/>
<ellipse cx="192.2" cy="764.6" rx="3.4" ry="2.8" fill="#1030ff"/>
<ellipse cx="192.2" cy="764.6" rx="2.4" ry="2.0" fill="#10b8ff"/>
<ellipse cx="192.2" cy="764.6" rx="1.4" ry="1.1" fill="#30e0ff"/>
<line x1="201.1" y1="739.2" x2="201.1" y2="781.2" stroke="#a8a8a8" stroke-width="0.5"/>
<use href="#mouse" x="201.4" y="739.2" width="19.1" height="42.0"/>
<ellipse cx="211.3" cy="764.6" rx="3.4" ry="2.8" fill="#1030ff"/>
<ellipse cx="211.3" cy="764.6" rx="2.4" ry="2.0" fill="#10b8ff"/>
<ellipse cx="211.3" cy="764.6" rx="1.4" ry="1.1" fill="#30e0ff"/>
<line x1="220.2" y1="739.2" x2="220.2" y2="781.2" stroke="#a8a8a8" stroke-width="0.5"/>
<rect x="124.9" y="782.8" width="95.6" height="48.4" fill="url(#exbg)"/>
<path d="M213.8,797.3 L213.8,806.0 Q213.8,808.5 209.0,808.5 L131.6,809.4 Q128.7,809.9 128.7,812.8 L129.7,824.4 Q129.7,826.4 134.5,826.4 L203.3,826.8" fill="none" stroke="#8a8ad8" stroke-width="1.3"/>
<circle cx="133.5" cy="792.4" r="1.2" fill="#1a1a1a" stroke="none" stroke-width="0.6"/>
<ellipse cx="146.9" cy="793.4" rx="4.6" ry="4.2" fill="#1c1c1c"/>
<ellipse cx="160.3" cy="793.4" rx="1.8" ry="4.4" fill="#262626"/>
<ellipse cx="172.7" cy="793.4" rx="2.6" ry="2.4" fill="#dcdcdc"/>
<ellipse cx="185.1" cy="793.4" rx="2.4" ry="2.1" fill="#2a2a2a"/>
<ellipse cx="213.8" cy="795.4" rx="2.6" ry="3.8" fill="none" stroke="#e0e0e0" stroke-width="1.1"/>
<ellipse cx="201.4" cy="794.4" rx="4.6" ry="4.2" fill="#1030ff"/>
<ellipse cx="201.4" cy="794.4" rx="4.0" ry="3.6" fill="#00c8ff"/>
<ellipse cx="201.4" cy="794.4" rx="3.4" ry="3.1" fill="#20ff40"/>
<ellipse cx="201.4" cy="794.4" rx="2.8" ry="2.5" fill="#ffff10"/>
<ellipse cx="201.4" cy="794.4" rx="2.2" ry="2.0" fill="#ff1a00"/>
<ellipse cx="213.8" cy="795.9" rx="1.6" ry="2.6" fill="#1030ff"/>
<ellipse cx="213.8" cy="795.9" rx="1.1" ry="1.8" fill="#10b8ff"/>
<ellipse cx="213.8" cy="795.9" rx="0.6" ry="1.0" fill="#30e0ff"/>
<use href="#mouse" x="223.4" y="651.2" width="19.1" height="42.3"/>
<ellipse cx="233.3" cy="675.3" rx="3.0" ry="1.9" fill="#1030ff"/>
<ellipse cx="233.3" cy="675.3" rx="1.7" ry="1.0" fill="#2f8cff"/>
<line x1="242.3" y1="651.2" x2="242.3" y2="693.5" stroke="#a8a8a8" stroke-width="0.5"/>
<use href="#mouse" x="242.5" y="651.2" width="19.1" height="42.3"/>
<ellipse cx="252.5" cy="675.3" rx="3.0" ry="1.9" fill="#1030ff"/>
<ellipse cx="252.5" cy="675.3" rx="1.7" ry="1.0" fill="#2f8cff"/>
<line x1="261.4" y1="651.2" x2="261.4" y2="693.5" stroke="#a8a8a8" stroke-width="0.5"/>
<use href="#mouse" x="261.6" y="651.2" width="19.1" height="42.3"/>
<ellipse cx="271.6" cy="675.3" rx="3.0" ry="1.9" fill="#1030ff"/>
<ellipse cx="271.6" cy="675.3" rx="1.7" ry="1.0" fill="#2f8cff"/>
<line x1="280.5" y1="651.2" x2="280.5" y2="693.5" stroke="#a8a8a8" stroke-width="0.5"/>
<use href="#mouse" x="280.8" y="651.2" width="19.1" height="42.3"/>
<ellipse cx="290.7" cy="675.3" rx="3.0" ry="1.9" fill="#1030ff"/>
<ellipse cx="290.7" cy="675.3" rx="1.7" ry="1.0" fill="#2f8cff"/>
<line x1="299.6" y1="651.2" x2="299.6" y2="693.5" stroke="#a8a8a8" stroke-width="0.5"/>
<use href="#mouse" x="299.9" y="651.2" width="19.1" height="42.3"/>
<ellipse cx="309.8" cy="675.3" rx="3.0" ry="1.9" fill="#1030ff"/>
<ellipse cx="309.8" cy="675.3" rx="1.7" ry="1.0" fill="#2f8cff"/>
<line x1="318.8" y1="651.2" x2="318.8" y2="693.5" stroke="#a8a8a8" stroke-width="0.5"/>
<use href="#mouse" x="223.4" y="695.0" width="19.1" height="42.5"/>
<ellipse cx="233.3" cy="719.2" rx="2.4" ry="2.0" fill="#1030ff"/>
<ellipse cx="233.3" cy="719.2" rx="1.3" ry="1.1" fill="#2f8cff"/>
<line x1="242.3" y1="695.0" x2="242.3" y2="737.5" stroke="#a8a8a8" stroke-width="0.5"/>
<use href="#mouse" x="242.5" y="695.0" width="19.1" height="42.5"/>
<ellipse cx="252.5" cy="719.2" rx="2.4" ry="2.0" fill="#1030ff"/>
<ellipse cx="252.5" cy="719.2" rx="1.3" ry="1.1" fill="#2f8cff"/>
<line x1="261.4" y1="695.0" x2="261.4" y2="737.5" stroke="#a8a8a8" stroke-width="0.5"/>
<use href="#mouse" x="261.6" y="695.0" width="19.1" height="42.5"/>
<ellipse cx="271.6" cy="719.2" rx="2.4" ry="2.0" fill="#1030ff"/>
<ellipse cx="271.6" cy="719.2" rx="1.3" ry="1.1" fill="#2f8cff"/>
<line x1="280.5" y1="695.0" x2="280.5" y2="737.5" stroke="#a8a8a8" stroke-width="0.5"/>
<use href="#mouse" x="280.8" y="695.0" width="19.1" height="42.5"/>
<ellipse cx="290.7" cy="719.2" rx="2.4" ry="2.0" fill="#1030ff"/>
<ellipse cx="290.7" cy="719.2" rx="1.3" ry="1.1" fill="#2f8cff"/>
<line x1="299.6" y1="695.0" x2="299.6" y2="737.5" stroke="#a8a8a8" stroke-width="0.5"/>
<use href="#mouse" x="299.9" y="695.0" width="19.1" height="42.5"/>
<ellipse cx="309.8" cy="719.2" rx="2.4" ry="2.0" fill="#1030ff"/>
<ellipse cx="309.8" cy="719.2" rx="1.3" ry="1.1" fill="#2f8cff"/>
<line x1="318.8" y1="695.0" x2="318.8" y2="737.5" stroke="#a8a8a8" stroke-width="0.5"/>
<use href="#mouse" x="223.4" y="739.2" width="19.1" height="42.0"/>
<ellipse cx="233.3" cy="764.6" rx="3.6" ry="3.3" fill="#1030ff"/>
<ellipse cx="233.3" cy="764.6" rx="2.5" ry="2.3" fill="#10b8ff"/>
<ellipse cx="233.3" cy="764.6" rx="1.4" ry="1.3" fill="#30e0ff"/>
<line x1="242.3" y1="739.2" x2="242.3" y2="781.2" stroke="#a8a8a8" stroke-width="0.5"/>
<use href="#mouse" x="242.5" y="739.2" width="19.1" height="42.0"/>
<ellipse cx="252.5" cy="764.6" rx="3.6" ry="3.3" fill="#1030ff"/>
<ellipse cx="252.5" cy="764.6" rx="2.5" ry="2.3" fill="#10b8ff"/>
<ellipse cx="252.5" cy="764.6" rx="1.4" ry="1.3" fill="#30e0ff"/>
<line x1="261.4" y1="739.2" x2="261.4" y2="781.2" stroke="#a8a8a8" stroke-width="0.5"/>
<use href="#mouse" x="261.6" y="739.2" width="19.1" height="42.0"/>
<ellipse cx="271.6" cy="764.6" rx="3.6" ry="3.3" fill="#1030ff"/>
<ellipse cx="271.6" cy="764.6" rx="2.5" ry="2.3" fill="#10b8ff"/>
<ellipse cx="271.6" cy="764.6" rx="1.4" ry="1.3" fill="#30e0ff"/>
<line x1="280.5" y1="739.2" x2="280.5" y2="781.2" stroke="#a8a8a8" stroke-width="0.5"/>
<use href="#mouse" x="280.8" y="739.2" width="19.1" height="42.0"/>
<ellipse cx="290.7" cy="764.6" rx="3.6" ry="3.3" fill="#1030ff"/>
<ellipse cx="290.7" cy="764.6" rx="2.5" ry="2.3" fill="#10b8ff"/>
<ellipse cx="290.7" cy="764.6" rx="1.4" ry="1.3" fill="#30e0ff"/>
<line x1="299.6" y1="739.2" x2="299.6" y2="781.2" stroke="#a8a8a8" stroke-width="0.5"/>
<use href="#mouse" x="299.9" y="739.2" width="19.1" height="42.0"/>
<ellipse cx="309.8" cy="764.6" rx="3.6" ry="3.3" fill="#1030ff"/>
<ellipse cx="309.8" cy="764.6" rx="2.5" ry="2.3" fill="#10b8ff"/>
<ellipse cx="309.8" cy="764.6" rx="1.4" ry="1.3" fill="#30e0ff"/>
<line x1="318.8" y1="739.2" x2="318.8" y2="781.2" stroke="#a8a8a8" stroke-width="0.5"/>
<rect x="223.4" y="782.8" width="95.6" height="48.4" fill="url(#exbg)"/>
<path d="M312.3,797.3 L312.3,806.0 Q312.3,808.5 307.5,808.5 L230.1,809.4 Q227.2,809.9 227.2,812.8 L228.2,824.4 Q228.2,826.4 233.0,826.4 L301.8,826.8" fill="none" stroke="#8a8ad8" stroke-width="1.3"/>
<circle cx="232.0" cy="792.4" r="1.2" fill="#1a1a1a" stroke="none" stroke-width="0.6"/>
<ellipse cx="245.4" cy="793.4" rx="4.6" ry="4.2" fill="#1c1c1c"/>
<ellipse cx="258.8" cy="793.4" rx="1.8" ry="4.4" fill="#262626"/>
<ellipse cx="271.2" cy="793.4" rx="2.6" ry="2.4" fill="#dcdcdc"/>
<ellipse cx="283.6" cy="793.4" rx="2.4" ry="2.1" fill="#2a2a2a"/>
<ellipse cx="312.3" cy="795.4" rx="2.6" ry="3.8" fill="none" stroke="#e0e0e0" stroke-width="1.1"/>
<ellipse cx="299.9" cy="794.4" rx="4.6" ry="4.2" fill="#1030ff"/>
<ellipse cx="299.9" cy="794.4" rx="4.0" ry="3.6" fill="#00c8ff"/>
<ellipse cx="299.9" cy="794.4" rx="3.4" ry="3.1" fill="#20ff40"/>
<ellipse cx="299.9" cy="794.4" rx="2.8" ry="2.5" fill="#ffff10"/>
<ellipse cx="299.9" cy="794.4" rx="2.2" ry="2.0" fill="#ff1a00"/>
<ellipse cx="312.3" cy="795.9" rx="1.6" ry="2.6" fill="#1030ff"/>
<ellipse cx="312.3" cy="795.9" rx="1.1" ry="1.8" fill="#10b8ff"/>
<ellipse cx="312.3" cy="795.9" rx="0.6" ry="1.0" fill="#30e0ff"/>
<use href="#mouse" x="321.7" y="651.2" width="19.1" height="42.3"/>
<ellipse cx="331.6" cy="675.3" rx="2.8" ry="1.7" fill="#1030ff"/>
<ellipse cx="331.6" cy="675.3" rx="1.5" ry="0.9" fill="#2f8cff"/>
<line x1="340.6" y1="651.2" x2="340.6" y2="693.5" stroke="#a8a8a8" stroke-width="0.5"/>
<use href="#mouse" x="340.8" y="651.2" width="19.1" height="42.3"/>
<ellipse cx="350.8" cy="675.3" rx="2.8" ry="1.7" fill="#1030ff"/>
<ellipse cx="350.8" cy="675.3" rx="1.5" ry="0.9" fill="#2f8cff"/>
<line x1="359.7" y1="651.2" x2="359.7" y2="693.5" stroke="#a8a8a8" stroke-width="0.5"/>
<use href="#mouse" x="359.9" y="651.2" width="19.1" height="42.3"/>
<ellipse cx="369.9" cy="675.3" rx="2.8" ry="1.7" fill="#1030ff"/>
<ellipse cx="369.9" cy="675.3" rx="1.5" ry="0.9" fill="#2f8cff"/>
<line x1="378.8" y1="651.2" x2="378.8" y2="693.5" stroke="#a8a8a8" stroke-width="0.5"/>
<use href="#mouse" x="379.1" y="651.2" width="19.1" height="42.3"/>
<ellipse cx="389.0" cy="675.3" rx="2.8" ry="1.7" fill="#1030ff"/>
<ellipse cx="389.0" cy="675.3" rx="1.5" ry="0.9" fill="#2f8cff"/>
<line x1="397.9" y1="651.2" x2="397.9" y2="693.5" stroke="#a8a8a8" stroke-width="0.5"/>
<use href="#mouse" x="398.2" y="651.2" width="19.1" height="42.3"/>
<ellipse cx="408.1" cy="675.3" rx="2.8" ry="1.7" fill="#1030ff"/>
<ellipse cx="408.1" cy="675.3" rx="1.5" ry="0.9" fill="#2f8cff"/>
<line x1="417.0" y1="651.2" x2="417.0" y2="693.5" stroke="#a8a8a8" stroke-width="0.5"/>
<use href="#mouse" x="321.7" y="695.0" width="19.1" height="42.5"/>
<ellipse cx="331.6" cy="719.2" rx="1.8" ry="1.5" fill="#5a2cff"/>
<ellipse cx="331.6" cy="719.2" rx="0.9" ry="0.8" fill="#8a40ff"/>
<line x1="340.6" y1="695.0" x2="340.6" y2="737.5" stroke="#a8a8a8" stroke-width="0.5"/>
<use href="#mouse" x="340.8" y="695.0" width="19.1" height="42.5"/>
<ellipse cx="350.8" cy="719.2" rx="1.8" ry="1.5" fill="#5a2cff"/>
<ellipse cx="350.8" cy="719.2" rx="0.9" ry="0.8" fill="#8a40ff"/>
<line x1="359.7" y1="695.0" x2="359.7" y2="737.5" stroke="#a8a8a8" stroke-width="0.5"/>
<use href="#mouse" x="359.9" y="695.0" width="19.1" height="42.5"/>
<ellipse cx="369.9" cy="719.2" rx="1.8" ry="1.5" fill="#5a2cff"/>
<ellipse cx="369.9" cy="719.2" rx="0.9" ry="0.8" fill="#8a40ff"/>
<line x1="378.8" y1="695.0" x2="378.8" y2="737.5" stroke="#a8a8a8" stroke-width="0.5"/>
<use href="#mouse" x="379.1" y="695.0" width="19.1" height="42.5"/>
<ellipse cx="389.0" cy="719.2" rx="1.8" ry="1.5" fill="#5a2cff"/>
<ellipse cx="389.0" cy="719.2" rx="0.9" ry="0.8" fill="#8a40ff"/>
<line x1="397.9" y1="695.0" x2="397.9" y2="737.5" stroke="#a8a8a8" stroke-width="0.5"/>
<use href="#mouse" x="398.2" y="695.0" width="19.1" height="42.5"/>
<ellipse cx="408.1" cy="719.2" rx="1.8" ry="1.5" fill="#5a2cff"/>
<ellipse cx="408.1" cy="719.2" rx="0.9" ry="0.8" fill="#8a40ff"/>
<line x1="417.0" y1="695.0" x2="417.0" y2="737.5" stroke="#a8a8a8" stroke-width="0.5"/>
<use href="#mouse" x="321.7" y="739.2" width="19.1" height="42.0"/>
<ellipse cx="331.6" cy="763.1" rx="1.6" ry="1.4" fill="#5a2cff"/>
<ellipse cx="331.6" cy="763.1" rx="0.8" ry="0.7" fill="#8a40ff"/>
<line x1="340.6" y1="739.2" x2="340.6" y2="781.2" stroke="#a8a8a8" stroke-width="0.5"/>
<use href="#mouse" x="340.8" y="739.2" width="19.1" height="42.0"/>
<ellipse cx="350.8" cy="763.1" rx="1.6" ry="1.4" fill="#5a2cff"/>
<ellipse cx="350.8" cy="763.1" rx="0.8" ry="0.7" fill="#8a40ff"/>
<line x1="359.7" y1="739.2" x2="359.7" y2="781.2" stroke="#a8a8a8" stroke-width="0.5"/>
<use href="#mouse" x="359.9" y="739.2" width="19.1" height="42.0"/>
<ellipse cx="369.9" cy="763.1" rx="1.6" ry="1.4" fill="#5a2cff"/>
<ellipse cx="369.9" cy="763.1" rx="0.8" ry="0.7" fill="#8a40ff"/>
<line x1="378.8" y1="739.2" x2="378.8" y2="781.2" stroke="#a8a8a8" stroke-width="0.5"/>
<use href="#mouse" x="379.1" y="739.2" width="19.1" height="42.0"/>
<ellipse cx="389.0" cy="763.1" rx="1.6" ry="1.4" fill="#5a2cff"/>
<ellipse cx="389.0" cy="763.1" rx="0.8" ry="0.7" fill="#8a40ff"/>
<line x1="397.9" y1="739.2" x2="397.9" y2="781.2" stroke="#a8a8a8" stroke-width="0.5"/>
<use href="#mouse" x="398.2" y="739.2" width="19.1" height="42.0"/>
<ellipse cx="408.1" cy="763.1" rx="1.6" ry="1.4" fill="#5a2cff"/>
<ellipse cx="408.1" cy="763.1" rx="0.8" ry="0.7" fill="#8a40ff"/>
<line x1="417.0" y1="739.2" x2="417.0" y2="781.2" stroke="#a8a8a8" stroke-width="0.5"/>
<rect x="321.7" y="782.8" width="95.6" height="48.4" fill="url(#exbg)"/>
<path d="M410.6,797.3 L410.6,806.0 Q410.6,808.5 405.8,808.5 L328.4,809.4 Q325.5,809.9 325.5,812.8 L326.5,824.4 Q326.5,826.4 331.3,826.4 L400.1,826.8" fill="none" stroke="#d4d4d4" stroke-width="1.0"/>
<circle cx="330.3" cy="792.4" r="1.2" fill="#1a1a1a" stroke="none" stroke-width="0.6"/>
<ellipse cx="343.7" cy="793.4" rx="4.6" ry="4.2" fill="#1c1c1c"/>
<ellipse cx="357.1" cy="793.4" rx="1.8" ry="4.4" fill="#262626"/>
<ellipse cx="369.5" cy="793.4" rx="2.6" ry="2.4" fill="#dcdcdc"/>
<ellipse cx="381.9" cy="793.4" rx="2.4" ry="2.1" fill="#2a2a2a"/>
<ellipse cx="410.6" cy="795.4" rx="2.6" ry="3.8" fill="none" stroke="#e0e0e0" stroke-width="1.1"/>
<ellipse cx="398.2" cy="794.4" rx="3.2" ry="2.8" fill="#1030ff"/>
<ellipse cx="398.2" cy="794.4" rx="2.6" ry="2.3" fill="#00c8ff"/>
<ellipse cx="398.2" cy="794.4" rx="2.1" ry="1.8" fill="#20ff50"/>
<ellipse cx="398.2" cy="794.4" rx="1.3" ry="1.2" fill="#d8ff20"/>
<ellipse cx="410.6" cy="796.4" rx="1.4" ry="2.0" fill="#5a2cff"/>
<ellipse cx="410.6" cy="796.4" rx="0.7" ry="1.0" fill="#8a40ff"/>
<rect x="25.0" y="693.5" width="392.0" height="1.4" fill="#c8c8c8"/>
<rect x="25.0" y="737.6" width="392.0" height="1.4" fill="#c8c8c8"/>
<rect x="25.0" y="781.3" width="392.0" height="1.4" fill="#c8c8c8"/>
<text x="73.4" y="650.0" font-size="6.96" text-anchor="middle" fill="#231f20" textLength="86.2" lengthAdjust="spacingAndGlyphs" stroke="#231f20" stroke-width="0.1">GEM/Lipo-SM + Abraxane</text>
<text x="173.0" y="650.0" font-size="6.96" text-anchor="middle" fill="#231f20" textLength="88.8" lengthAdjust="spacingAndGlyphs" stroke="#231f20" stroke-width="0.1">CD47p/AZE-Paclitaxome-2</text>
<text x="271.2" y="640.8" font-size="6.96" text-anchor="middle" fill="#231f20" textLength="52.8" lengthAdjust="spacingAndGlyphs" stroke="#231f20" stroke-width="0.1">GEM/Lipo-SM +</text>
<text x="271.2" y="650.2" font-size="6.96" text-anchor="middle" fill="#231f20" textLength="88.8" lengthAdjust="spacingAndGlyphs" stroke="#231f20" stroke-width="0.1">CD47p/AZE-Paclitaxome-2</text>
<text x="372.0" y="640.8" font-size="6.96" text-anchor="middle" fill="#231f20" textLength="44.0" lengthAdjust="spacingAndGlyphs" stroke="#231f20" stroke-width="0.1">CD47p/GEM/</text>
<text x="372.0" y="650.2" font-size="6.96" text-anchor="middle" fill="#231f20" textLength="63.7" lengthAdjust="spacingAndGlyphs" stroke="#231f20" stroke-width="0.1">AZE-Paclitaxome-2</text>
<text x="23.5" y="672.3" font-size="6.77" text-anchor="middle" fill="#231f20" transform="rotate(-90 23.5 672.3)" textLength="22.3" lengthAdjust="spacingAndGlyphs" stroke="#231f20" stroke-width="0.1">Day 11</text>
<text x="23.5" y="716.2" font-size="6.77" text-anchor="middle" fill="#231f20" transform="rotate(-90 23.5 716.2)" textLength="22.8" lengthAdjust="spacingAndGlyphs" stroke="#231f20" stroke-width="0.1">Day 18</text>
<text x="23.5" y="760.2" font-size="6.77" text-anchor="middle" fill="#231f20" transform="rotate(-90 23.5 760.2)" textLength="22.8" lengthAdjust="spacingAndGlyphs" stroke="#231f20" stroke-width="0.1">Day 25</text>
<text x="23.5" y="807.0" font-size="6.77" text-anchor="middle" fill="#231f20" transform="rotate(-90 23.5 807.0)" textLength="22.8" lengthAdjust="spacingAndGlyphs" stroke="#231f20" stroke-width="0.1">Day 25</text>
<text x="8.4" y="449.8" font-size="12" font-weight="bold" fill="#000" stroke="#000" stroke-width="0.35">k</text>
<text x="57.5" y="449.2" font-size="6.77" text-anchor="middle" fill="#231f20" textLength="32.7" lengthAdjust="spacingAndGlyphs" stroke="#231f20" stroke-width="0.1">On day 11</text>
<rect x="9.7" y="453.4" width="30.0" height="69.7" fill="#161616"/>
<rect x="36.2" y="453.4" width="2.4" height="69.7" fill="#8a8a8a"/>
<path d="M24.5,455.5 C27,456 28,462 28.5,466 C31,468 34,472 34,480 C34.5,492 33,505 31.6,515 L33,522.5 L28,522.5 L27,519 L20,519 L18,522.5 L13,522.5 L16.5,515 C15,505 14,495 14.4,485 C12,480 10.5,476 11.3,472 C13,470 16,470 18,468 C19.5,463 21.5,457 24.5,455.5 Z" fill="#747474" stroke="none" stroke-width="0.6"/>
<ellipse cx="29.5" cy="476" rx="3" ry="2.6" fill="#c8c8c8"/>
<ellipse cx="22" cy="505" rx="5" ry="7" fill="#8a8a8a" opacity="0.7"/>
<path d="M12,473 L16,480" fill="none" stroke="#d8d8d8" stroke-width="1.4"/>
<ellipse cx="19.8" cy="496.0" rx="3.2" ry="3.0" fill="#1030ff"/>
<ellipse cx="19.8" cy="496.0" rx="2.2" ry="2.1" fill="#10b8ff"/>
<ellipse cx="19.8" cy="496.0" rx="1.3" ry="1.2" fill="#30e0ff"/>
<rect x="40.9" y="453.4" width="34.4" height="69.7" fill="#8c8884"/>
<path d="M55.8,454.7 C59,455 62,460 63,466 C67,468 69,470 71,476 C73,484 72.5,495 72.5,505 C73,512 73.5,518 74.5,523 L44.5,523 C46,518 47,512 47.2,505 C46,495 44.5,484 45,476 C46,470 48,468 51,466 C52,460 53,455 55.8,454.7 Z" fill="#ecd6ba" stroke="none" stroke-width="0.6"/>
<path d="M50,460 C54,457 60,458 63,464 C68,470 71,478 71,486 C70,492 67,496 64,500 C60,503 55,502 52,498 C49,492 50,486 49,480 C48,472 47.5,465 50,460 Z" fill="#c4283e" stroke="none" stroke-width="0.6"/>
<ellipse cx="60" cy="478" rx="4" ry="5" fill="#e88a90" opacity="0.6"/>
<rect x="76.1" y="453.4" width="32.3" height="69.7" fill="#2e2e2e"/>
<path d="M92,455 C95,455.5 97,460 98,465 C102,468 106,472 107,480 C108,492 106.5,505 105,514 L107,522.8 L101,522.8 L99.5,518.5 L85,518.5 L83,522.8 L78,522.8 L80,514 C78.5,505 78,495 78.2,485 C77,480 77,476 78,472 C81,470 84,468 86,466 C87.5,461 89.5,456 92,455 Z" fill="#d2d2d2" stroke="none" stroke-width="0.6"/>
<path d="M82,463 C88,460 96,461 101,465 C103,472 103,482 101,489 C96,492 88,492 83,489 C81,482 80.5,470 82,463 Z" fill="#0c0c0c" stroke="none" stroke-width="0.6"/>
<ellipse cx="89.5" cy="498.0" rx="4.6" ry="5.2" fill="#1030ff"/>
<ellipse cx="89.5" cy="498.0" rx="4.0" ry="4.5" fill="#00c8ff"/>
<ellipse cx="89.5" cy="498.0" rx="3.4" ry="3.8" fill="#20ff40"/>
<ellipse cx="89.5" cy="498.0" rx="2.8" ry="3.1" fill="#ffff10"/>
<ellipse cx="89.5" cy="498.0" rx="2.2" ry="2.5" fill="#ff1a00"/>
<ellipse cx="100.0" cy="495.5" rx="4.2" ry="4.2" fill="#1030ff"/>
<ellipse cx="100.0" cy="495.5" rx="3.4" ry="3.4" fill="#00c8ff"/>
<ellipse cx="100.0" cy="495.5" rx="2.8" ry="2.8" fill="#20ff50"/>
<ellipse cx="100.0" cy="495.5" rx="1.8" ry="1.8" fill="#d8ff20"/>
<circle cx="92.5" cy="459.0" r="1.0" fill="#2a50ff" stroke="none" stroke-width="0.6"/>
<rect x="40.0" y="527.7" width="47.0" height="5.6" fill="url(#hbar)"/>
<text x="36.8" y="532.9" font-size="6.58" text-anchor="end" fill="#231f20" textLength="12.8" lengthAdjust="spacingAndGlyphs" stroke="#231f20" stroke-width="0.05">Low</text>
<text x="87.6" y="532.9" font-size="6.58" text-anchor="start" fill="#231f20" textLength="14.4" lengthAdjust="spacingAndGlyphs" stroke="#231f20" stroke-width="0.05">High</text>
<text x="58.2" y="555.6" font-size="6.77" text-anchor="middle" fill="#231f20" textLength="56.3" lengthAdjust="spacingAndGlyphs" stroke="#231f20" stroke-width="0.1">Ex vivo on day 11</text>
<rect x="7.0" y="558.3" width="102.5" height="54.3" fill="url(#exbg)"/>
<path d="M102,578 C104,584 103,590 99,592 L40,592.5 L14,594 C9,597 9,605 13,608 L62,609.5" fill="none" stroke="#d8d8d8" stroke-width="1.2"/>
<path d="M20,593.6 L98,592" fill="none" stroke="#2040ff" stroke-width="1.2"/>
<ellipse cx="45.0" cy="592.5" rx="7.0" ry="1.8" fill="#1030ff"/>
<ellipse cx="45.0" cy="592.5" rx="5.7" ry="1.5" fill="#00c8ff"/>
<ellipse cx="45.0" cy="592.5" rx="4.6" ry="1.2" fill="#20ff50"/>
<ellipse cx="45.0" cy="592.5" rx="2.9" ry="0.8" fill="#d8ff20"/>
<ellipse cx="26.0" cy="593.4" rx="3.0" ry="1.2" fill="#1030ff"/>
<ellipse cx="26.0" cy="593.4" rx="2.1" ry="0.8" fill="#10b8ff"/>
<ellipse cx="26.0" cy="593.4" rx="1.2" ry="0.5" fill="#30e0ff"/>
<ellipse cx="12.5" cy="601.0" rx="1.4" ry="4.5" fill="#1030ff"/>
<ellipse cx="12.5" cy="601.0" rx="1.0" ry="3.1" fill="#10b8ff"/>
<ellipse cx="12.5" cy="601.0" rx="0.6" ry="1.8" fill="#30e0ff"/>
<ellipse cx="88.0" cy="593.6" rx="3.0" ry="1.2" fill="#1030ff"/>
<ellipse cx="88.0" cy="593.6" rx="2.1" ry="0.8" fill="#10b8ff"/>
<ellipse cx="88.0" cy="593.6" rx="1.2" ry="0.5" fill="#30e0ff"/>
<circle cx="12.0" cy="567.0" r="1.3" fill="#222" stroke="none" stroke-width="0.6"/>
<ellipse cx="27.5" cy="570" rx="4.8" ry="4.4" fill="#1a1a1a"/>
<ellipse cx="26.5" cy="567.5" rx="1.4" ry="1.6" fill="#1030ff"/>
<ellipse cx="26.5" cy="567.5" rx="1.0" ry="1.1" fill="#10b8ff"/>
<ellipse cx="26.5" cy="567.5" rx="0.6" ry="0.6" fill="#30e0ff"/>
<ellipse cx="41.5" cy="570" rx="1.4" ry="4.2" fill="#1030ff" transform="rotate(15 41.5 570)"/>
<ellipse cx="41.5" cy="570" rx="0.7" ry="2.4" fill="#e0ff20" transform="rotate(15 41.5 570)"/>
<ellipse cx="55" cy="570" rx="2.5" ry="2.6" fill="#d0d0d0"/>
<ellipse cx="70" cy="571" rx="2.6" ry="2.1" fill="#222"/>
<ellipse cx="70.0" cy="571.0" rx="1.5" ry="1.2" fill="#1030ff"/>
<ellipse cx="70.0" cy="571.0" rx="1.0" ry="0.8" fill="#10b8ff"/>
<ellipse cx="70.0" cy="571.0" rx="0.6" ry="0.5" fill="#30e0ff"/>
<ellipse cx="84.0" cy="570.5" rx="3.6" ry="4.0" fill="#1030ff"/>
<ellipse cx="84.0" cy="570.5" rx="3.1" ry="3.4" fill="#00c8ff"/>
<ellipse cx="84.0" cy="570.5" rx="2.7" ry="3.0" fill="#20ff40"/>
<ellipse cx="84.0" cy="570.5" rx="2.2" ry="2.4" fill="#ffff10"/>
<ellipse cx="84.0" cy="570.5" rx="1.7" ry="1.9" fill="#ff1a00"/>
<ellipse cx="101.5" cy="574" rx="2.4" ry="4.4" fill="none" stroke="#e8e8e8" stroke-width="1.2"/>
<ellipse cx="102.5" cy="576.0" rx="1.2" ry="2.6" fill="#1030ff"/>
<ellipse cx="102.5" cy="576.0" rx="1.0" ry="2.1" fill="#00c8ff"/>
<ellipse cx="102.5" cy="576.0" rx="0.8" ry="1.7" fill="#20ff50"/>
<ellipse cx="102.5" cy="576.0" rx="0.5" ry="1.1" fill="#d8ff20"/>
<text x="8" y="576" font-size="3.6" fill="#e8e8e8">Heart</text>
<text x="23" y="562.5" font-size="3.6" fill="#e8e8e8">Liver</text>
<text x="38" y="579.5" font-size="3.6" fill="#e8e8e8">Spleen</text>
<text x="51" y="563.5" font-size="3.6" fill="#e8e8e8">Lung</text>
<text x="64" y="563.5" font-size="3.6" fill="#e8e8e8">Kidneys</text>
<text x="94" y="562.5" font-size="3.6" fill="#e8e8e8">Stomach</text>
<text x="82" y="580" font-size="3.6" fill="#e8e8e8">Tumour</text>
<text x="82" y="586" font-size="3.6" fill="#e8e8e8">~30.2 mg</text>
<text x="73" y="598.5" font-size="3.6" fill="#e8e8e8">Small intestine</text>
<text x="44" y="601.5" font-size="3.6" fill="#e8e8e8">Caecum</text>
<text x="60" y="606" font-size="3.6" fill="#e8e8e8">Colon</text>
<text x="9" y="611" font-size="3.6" fill="#e8e8e8">Large</text>
<text x="85" y="611" font-size="3.6" fill="#e8e8e8">Rectum</text>
<rect x="40.0" y="617.8" width="47.0" height="5.3" fill="url(#hbar)"/>
<text x="36.8" y="622.7" font-size="6.58" text-anchor="end" fill="#231f20" textLength="12.8" lengthAdjust="spacingAndGlyphs" stroke="#231f20" stroke-width="0.05">Low</text>
<text x="87.6" y="622.7" font-size="6.58" text-anchor="start" fill="#231f20" textLength="14.4" lengthAdjust="spacingAndGlyphs" stroke="#231f20" stroke-width="0.05">High</text>
<text x="447.4" y="449.6" font-size="12" font-weight="bold" fill="#000" stroke="#000" stroke-width="0.35">n</text>
<line x1="485.9" y1="466.5" x2="485.9" y2="554.7" stroke="#231f20" stroke-width="0.6"/>
<line x1="483.9" y1="554.7" x2="485.9" y2="554.7" stroke="#231f20" stroke-width="0.6"/>
<text x="482.3" y="557.3" font-size="6.77" text-anchor="end" fill="#231f20" textLength="4.0" lengthAdjust="spacingAndGlyphs" stroke="#231f20" stroke-width="0.1">0</text>
<line x1="483.9" y1="514.1" x2="485.9" y2="514.1" stroke="#231f20" stroke-width="0.6"/>
<text x="482.3" y="516.7" font-size="6.77" text-anchor="end" fill="#231f20" textLength="8.0" lengthAdjust="spacingAndGlyphs" stroke="#231f20" stroke-width="0.1">20</text>
<line x1="483.9" y1="473.5" x2="485.9" y2="473.5" stroke="#231f20" stroke-width="0.6"/>
<text x="482.3" y="476.1" font-size="6.77" text-anchor="end" fill="#231f20" textLength="8.0" lengthAdjust="spacingAndGlyphs" stroke="#231f20" stroke-width="0.1">40</text>
<line x1="485.9" y1="554.7" x2="642.2" y2="554.7" stroke="#231f20" stroke-width="0.6"/>
<line x1="485.9" y1="554.7" x2="485.9" y2="556.7" stroke="#231f20" stroke-width="0.6"/>
<text x="485.9" y="564.2" font-size="6.77" text-anchor="middle" fill="#231f20" textLength="4.0" lengthAdjust="spacingAndGlyphs" stroke="#231f20" stroke-width="0.1">0</text>
<line x1="516.5" y1="554.7" x2="516.5" y2="556.7" stroke="#231f20" stroke-width="0.6"/>
<text x="516.5" y="564.2" font-size="6.77" text-anchor="middle" fill="#231f20" textLength="4.0" lengthAdjust="spacingAndGlyphs" stroke="#231f20" stroke-width="0.1">5</text>
<line x1="547.2" y1="554.7" x2="547.2" y2="556.7" stroke="#231f20" stroke-width="0.6"/>
<text x="547.2" y="564.2" font-size="6.77" text-anchor="middle" fill="#231f20" textLength="8.0" lengthAdjust="spacingAndGlyphs" stroke="#231f20" stroke-width="0.1">10</text>
<line x1="577.9" y1="554.7" x2="577.9" y2="556.7" stroke="#231f20" stroke-width="0.6"/>
<text x="577.9" y="564.2" font-size="6.77" text-anchor="middle" fill="#231f20" textLength="8.0" lengthAdjust="spacingAndGlyphs" stroke="#231f20" stroke-width="0.1">15</text>
<line x1="608.5" y1="554.7" x2="608.5" y2="556.7" stroke="#231f20" stroke-width="0.6"/>
<text x="608.5" y="564.2" font-size="6.77" text-anchor="middle" fill="#231f20" textLength="8.0" lengthAdjust="spacingAndGlyphs" stroke="#231f20" stroke-width="0.1">20</text>
<line x1="639.1" y1="554.7" x2="639.1" y2="556.7" stroke="#231f20" stroke-width="0.6"/>
<text x="639.1" y="564.2" font-size="6.77" text-anchor="middle" fill="#231f20" textLength="8.0" lengthAdjust="spacingAndGlyphs" stroke="#231f20" stroke-width="0.1">25</text>
<text x="460.0" y="510.5" font-size="6.58" text-anchor="middle" fill="#231f20" transform="rotate(-90 460.0 510.5)" textLength="86.8" lengthAdjust="spacingAndGlyphs" stroke="#231f20" stroke-width="0.05">Normalized animal radiance</text>
<text x="467.6" y="510.5" font-size="6.58" text-anchor="middle" fill="#231f20" transform="rotate(-90 467.6 510.5)" textLength="72.0" lengthAdjust="spacingAndGlyphs" stroke="#231f20" stroke-width="0.05">(versus vehicle control)</text>
<text x="562.4" y="576.0" font-size="6.77" text-anchor="middle" fill="#231f20" textLength="116.4" lengthAdjust="spacingAndGlyphs" stroke="#231f20" stroke-width="0.1">Days after KPC-Luc cells inoculation</text>
<text x="488.2" y="548.6" font-size="6.77" text-anchor="start" fill="#e02828" textLength="55.2" lengthAdjust="spacingAndGlyphs" stroke="#e02828" stroke-width="0.1">Tumors ~ 400 mg</text>
<line x1="552.1" y1="570.0" x2="552.1" y2="561.0" stroke="#e02828" stroke-width="0.6"/>
<path d="M551.1,562.5 L552.1,560 L553.1,562.5" fill="none" stroke="#e02828" stroke-width="0.6"/>
<line x1="602.4" y1="570.0" x2="602.4" y2="561.0" stroke="#e02828" stroke-width="0.6"/>
<path d="M601.4,562.5 L602.4,560 L603.4,562.5" fill="none" stroke="#e02828" stroke-width="0.6"/>
<path d="M485.9,554.7 L553.3,552.7 L596.2,513.1 L639.1,479.6" fill="none" stroke="#e82020" stroke-width="0.7"/>
<path d="M485.9,554.7 L553.3,552.7 L596.2,519.2 L639.1,484.7" fill="none" stroke="#b030e0" stroke-width="0.7"/>
<path d="M485.9,554.7 L553.3,552.7 L596.2,532.4 L639.1,505.0" fill="none" stroke="#d4a060" stroke-width="0.7"/>
<path d="M485.9,554.7 L553.3,552.7 L596.2,534.4 L639.1,508.0" fill="none" stroke="#30b0c8" stroke-width="0.7"/>
<path d="M485.9,554.7 L553.3,552.7 L596.2,550.2 L639.1,548.6" fill="none" stroke="#222" stroke-width="0.7"/>
<path d="M485.9,554.7 L553.3,552.7 L596.2,551.0 L639.1,549.6" fill="none" stroke="#f060a0" stroke-width="0.7"/>
<path d="M485.9,554.7 L553.3,552.7 L596.2,552.7 L639.1,553.5" fill="none" stroke="#1a1ae8" stroke-width="0.7"/>
<circle cx="485.9" cy="554.7" r="1.6" fill="#e82020" stroke="#e82020" stroke-width="0.6"/>
<line x1="553.3" y1="551.7" x2="553.3" y2="552.7" stroke="#e82020" stroke-width="0.6"/>
<line x1="552.1" y1="551.7" x2="554.5" y2="551.7" stroke="#e82020" stroke-width="0.6"/>
<circle cx="553.3" cy="552.7" r="1.6" fill="#e82020" stroke="#e82020" stroke-width="0.6"/>
<line x1="596.2" y1="506.0" x2="596.2" y2="513.1" stroke="#e82020" stroke-width="0.6"/>
<line x1="595.0" y1="506.0" x2="597.4" y2="506.0" stroke="#e82020" stroke-width="0.6"/>
<circle cx="596.2" cy="513.1" r="1.6" fill="#e82020" stroke="#e82020" stroke-width="0.6"/>
<line x1="639.1" y1="468.4" x2="639.1" y2="479.6" stroke="#e82020" stroke-width="0.6"/>
<line x1="637.9" y1="468.4" x2="640.4" y2="468.4" stroke="#e82020" stroke-width="0.6"/>
<circle cx="639.1" cy="479.6" r="1.6" fill="#e82020" stroke="#e82020" stroke-width="0.6"/>
<rect x="484.3" y="553.1" width="3.2" height="3.2" fill="white" stroke="#b030e0" stroke-width="0.6"/>
<line x1="553.3" y1="551.7" x2="553.3" y2="552.7" stroke="#b030e0" stroke-width="0.6"/>
<line x1="552.1" y1="551.7" x2="554.5" y2="551.7" stroke="#b030e0" stroke-width="0.6"/>
<rect x="551.7" y="551.1" width="3.2" height="3.2" fill="white" stroke="#b030e0" stroke-width="0.6"/>
<line x1="596.2" y1="514.1" x2="596.2" y2="519.2" stroke="#b030e0" stroke-width="0.6"/>
<line x1="595.0" y1="514.1" x2="597.4" y2="514.1" stroke="#b030e0" stroke-width="0.6"/>
<rect x="594.6" y="517.6" width="3.2" height="3.2" fill="white" stroke="#b030e0" stroke-width="0.6"/>
<line x1="639.1" y1="478.6" x2="639.1" y2="484.7" stroke="#b030e0" stroke-width="0.6"/>
<line x1="637.9" y1="478.6" x2="640.4" y2="478.6" stroke="#b030e0" stroke-width="0.6"/>
<rect x="637.5" y="483.1" width="3.2" height="3.2" fill="white" stroke="#b030e0" stroke-width="0.6"/>
<circle cx="485.9" cy="554.7" r="1.6" fill="white" stroke="#d4a060" stroke-width="0.6"/>
<line x1="553.3" y1="551.7" x2="553.3" y2="552.7" stroke="#d4a060" stroke-width="0.6"/>
<line x1="552.1" y1="551.7" x2="554.5" y2="551.7" stroke="#d4a060" stroke-width="0.6"/>
<circle cx="553.3" cy="552.7" r="1.6" fill="white" stroke="#d4a060" stroke-width="0.6"/>
<line x1="596.2" y1="528.3" x2="596.2" y2="532.4" stroke="#d4a060" stroke-width="0.6"/>
<line x1="595.0" y1="528.3" x2="597.4" y2="528.3" stroke="#d4a060" stroke-width="0.6"/>
<circle cx="596.2" cy="532.4" r="1.6" fill="white" stroke="#d4a060" stroke-width="0.6"/>
<line x1="639.1" y1="497.9" x2="639.1" y2="505.0" stroke="#d4a060" stroke-width="0.6"/>
<line x1="637.9" y1="497.9" x2="640.4" y2="497.9" stroke="#d4a060" stroke-width="0.6"/>
<circle cx="639.1" cy="505.0" r="1.6" fill="white" stroke="#d4a060" stroke-width="0.6"/>
<path d="M484.3,554.7 L487.5,554.7 M485.9,553.1 L485.9,556.3" fill="none" stroke="#30b0c8" stroke-width="0.9"/>
<line x1="553.3" y1="551.7" x2="553.3" y2="552.7" stroke="#30b0c8" stroke-width="0.6"/>
<line x1="552.1" y1="551.7" x2="554.5" y2="551.7" stroke="#30b0c8" stroke-width="0.6"/>
<path d="M551.7,552.7 L554.9,552.7 M553.3,551.1 L553.3,554.3" fill="none" stroke="#30b0c8" stroke-width="0.9"/>
<line x1="596.2" y1="531.4" x2="596.2" y2="534.4" stroke="#30b0c8" stroke-width="0.6"/>
<line x1="595.0" y1="531.4" x2="597.4" y2="531.4" stroke="#30b0c8" stroke-width="0.6"/>
<path d="M594.6,534.4 L597.8,534.4 M596.2,532.8 L596.2,536.0" fill="none" stroke="#30b0c8" stroke-width="0.9"/>
<line x1="639.1" y1="504.0" x2="639.1" y2="508.0" stroke="#30b0c8" stroke-width="0.6"/>
<line x1="637.9" y1="504.0" x2="640.4" y2="504.0" stroke="#30b0c8" stroke-width="0.6"/>
<path d="M637.5,508.0 L640.8,508.0 M639.1,506.4 L639.1,509.6" fill="none" stroke="#30b0c8" stroke-width="0.9"/>
<circle cx="485.9" cy="554.7" r="1.6" fill="white" stroke="#222" stroke-width="0.6"/>
<line x1="553.3" y1="552.1" x2="553.3" y2="552.7" stroke="#222" stroke-width="0.6"/>
<line x1="552.1" y1="552.1" x2="554.5" y2="552.1" stroke="#222" stroke-width="0.6"/>
<circle cx="553.3" cy="552.7" r="1.6" fill="white" stroke="#222" stroke-width="0.6"/>
<line x1="596.2" y1="549.2" x2="596.2" y2="550.2" stroke="#222" stroke-width="0.6"/>
<line x1="595.0" y1="549.2" x2="597.4" y2="549.2" stroke="#222" stroke-width="0.6"/>
<circle cx="596.2" cy="550.2" r="1.6" fill="white" stroke="#222" stroke-width="0.6"/>
<line x1="639.1" y1="547.4" x2="639.1" y2="548.6" stroke="#222" stroke-width="0.6"/>
<line x1="637.9" y1="547.4" x2="640.4" y2="547.4" stroke="#222" stroke-width="0.6"/>
<circle cx="639.1" cy="548.6" r="1.6" fill="white" stroke="#222" stroke-width="0.6"/>
<path d="M485.9,556.5 L487.7,553.4 L484.1,553.4 Z" fill="#f060a0" stroke="#f060a0" stroke-width="0.6"/>
<line x1="553.3" y1="552.1" x2="553.3" y2="552.7" stroke="#f060a0" stroke-width="0.6"/>
<line x1="552.1" y1="552.1" x2="554.5" y2="552.1" stroke="#f060a0" stroke-width="0.6"/>
<path d="M553.3,554.4 L555.1,551.4 L551.6,551.4 Z" fill="#f060a0" stroke="#f060a0" stroke-width="0.6"/>
<line x1="596.2" y1="550.0" x2="596.2" y2="551.0" stroke="#f060a0" stroke-width="0.6"/>
<line x1="595.0" y1="550.0" x2="597.4" y2="550.0" stroke="#f060a0" stroke-width="0.6"/>
<path d="M596.2,552.8 L598.0,549.8 L594.5,549.8 Z" fill="#f060a0" stroke="#f060a0" stroke-width="0.6"/>
<line x1="639.1" y1="548.6" x2="639.1" y2="549.6" stroke="#f060a0" stroke-width="0.6"/>
<line x1="637.9" y1="548.6" x2="640.4" y2="548.6" stroke="#f060a0" stroke-width="0.6"/>
<path d="M639.1,551.4 L640.9,548.3 L637.4,548.3 Z" fill="#f060a0" stroke="#f060a0" stroke-width="0.6"/>
<circle cx="485.9" cy="554.7" r="1.6" fill="#1a1ae8" stroke="#1a1ae8" stroke-width="0.6"/>
<line x1="553.3" y1="552.3" x2="553.3" y2="552.7" stroke="#1a1ae8" stroke-width="0.6"/>
<line x1="552.1" y1="552.3" x2="554.5" y2="552.3" stroke="#1a1ae8" stroke-width="0.6"/>
<circle cx="553.3" cy="552.7" r="1.6" fill="#1a1ae8" stroke="#1a1ae8" stroke-width="0.6"/>
<line x1="596.2" y1="552.1" x2="596.2" y2="552.7" stroke="#1a1ae8" stroke-width="0.6"/>
<line x1="595.0" y1="552.1" x2="597.4" y2="552.1" stroke="#1a1ae8" stroke-width="0.6"/>
<circle cx="596.2" cy="552.7" r="1.6" fill="#1a1ae8" stroke="#1a1ae8" stroke-width="0.6"/>
<line x1="639.1" y1="552.9" x2="639.1" y2="553.5" stroke="#1a1ae8" stroke-width="0.6"/>
<line x1="637.9" y1="552.9" x2="640.4" y2="552.9" stroke="#1a1ae8" stroke-width="0.6"/>
<circle cx="639.1" cy="553.5" r="1.6" fill="#1a1ae8" stroke="#1a1ae8" stroke-width="0.6"/>
<line x1="490.3" y1="446.6" x2="496.3" y2="446.6" stroke="#e82020" stroke-width="0.7"/>
<circle cx="493.3" cy="446.6" r="1.3" fill="#e82020" stroke="#e82020" stroke-width="0.6"/>
<text x="499.0" y="448.5" font-size="5.17" text-anchor="start" fill="#231f20" textLength="37.5" lengthAdjust="spacingAndGlyphs" stroke="#231f20" stroke-width="0.05">5% Dextrose (A)</text>
<line x1="490.3" y1="454.8" x2="496.3" y2="454.8" stroke="#b030e0" stroke-width="0.7"/>
<rect x="492.0" y="453.5" width="2.6" height="2.6" fill="white" stroke="#b030e0" stroke-width="0.6"/>
<text x="499.0" y="456.7" font-size="5.17" text-anchor="start" fill="#231f20" textLength="40.4" lengthAdjust="spacingAndGlyphs" stroke="#231f20" stroke-width="0.05">GEM/Lipo-SM (B)</text>
<line x1="490.3" y1="463.0" x2="496.3" y2="463.0" stroke="#d4a060" stroke-width="0.7"/>
<circle cx="493.3" cy="463.0" r="1.3" fill="white" stroke="#d4a060" stroke-width="0.6"/>
<text x="499.0" y="464.9" font-size="5.17" text-anchor="start" fill="#231f20" textLength="30.4" lengthAdjust="spacingAndGlyphs" stroke="#231f20" stroke-width="0.05">Abraxane (C)</text>
<line x1="490.3" y1="471.2" x2="496.3" y2="471.2" stroke="#30b0c8" stroke-width="0.7"/>
<path d="M492.0,471.2 L494.6,471.2 M493.3,469.9 L493.3,472.5" fill="none" stroke="#30b0c8" stroke-width="0.9"/>
<text x="499.0" y="473.1" font-size="5.17" text-anchor="start" fill="#231f20" textLength="68.1" lengthAdjust="spacingAndGlyphs" stroke="#231f20" stroke-width="0.05">GEM/Lipo-SM + Abraxane (D)</text>
<line x1="490.3" y1="479.4" x2="496.3" y2="479.4" stroke="#222" stroke-width="0.7"/>
<circle cx="493.3" cy="479.4" r="1.3" fill="white" stroke="#222" stroke-width="0.6"/>
<text x="499.0" y="481.3" font-size="5.17" text-anchor="start" fill="#231f20" textLength="69.6" lengthAdjust="spacingAndGlyphs" stroke="#231f20" stroke-width="0.05">CD47p/AZE-Paclitaxome-2 (E)</text>
<line x1="490.3" y1="487.6" x2="496.3" y2="487.6" stroke="#f060a0" stroke-width="0.7"/>
<path d="M493.3,489.0 L494.7,486.6 L491.9,486.6 Z" fill="#f060a0" stroke="#f060a0" stroke-width="0.6"/>
<text x="499.0" y="489.5" font-size="5.17" text-anchor="start" fill="#231f20" textLength="107.3" lengthAdjust="spacingAndGlyphs" stroke="#231f20" stroke-width="0.05">GEM/Lipo-SM + CD47p/AZE-Paclitaxome-2 (F)</text>
<line x1="490.3" y1="495.8" x2="496.3" y2="495.8" stroke="#1a1ae8" stroke-width="0.7"/>
<circle cx="493.3" cy="495.8" r="1.3" fill="#1a1ae8" stroke="#1a1ae8" stroke-width="0.6"/>
<text x="499.0" y="497.7" font-size="5.17" text-anchor="start" fill="#231f20" textLength="83.3" lengthAdjust="spacingAndGlyphs" stroke="#231f20" stroke-width="0.05">CD47p/GEM/AZE-Paclitaxome-2 (G)</text>
<path d="M641.5,473.5 L643.5,473.5 L643.5,510.0 L641.5,510.0" fill="none" stroke="#333" stroke-width="0.5"/>
<text x="645.0" y="495.0" font-size="5.6" text-anchor="start" fill="#231f20"><tspan font-style="italic">P</tspan> = 0.0002</text>
<path d="M641.5,512.0 L643.5,512.0 L643.5,548.0 L641.5,548.0" fill="none" stroke="#333" stroke-width="0.5"/>
<text x="645.0" y="531.0" font-size="5.6" text-anchor="start" fill="#231f20"><tspan font-style="italic">P</tspan> = 10<tspan font-size="3.9" baseline-shift="45%">−9</tspan></text>
<path d="M641.5,548.0 L643.5,548.0 L643.5,555.0 L641.5,555.0" fill="none" stroke="#333" stroke-width="0.5"/>
<text x="645.0" y="553.0" font-size="5.6" text-anchor="start" fill="#231f20"><tspan font-style="italic">P</tspan> = 0.05</text>
<text x="446.6" y="589.3" font-size="12" font-weight="bold" fill="#000" stroke="#000" stroke-width="0.35">o</text>
<line x1="473.6" y1="594.5" x2="473.6" y2="687.2" stroke="#231f20" stroke-width="0.6"/>
<line x1="471.6" y1="687.2" x2="473.6" y2="687.2" stroke="#231f20" stroke-width="0.6"/>
<text x="470.0" y="689.8" font-size="6.77" text-anchor="end" fill="#231f20" textLength="4.0" lengthAdjust="spacingAndGlyphs" stroke="#231f20" stroke-width="0.1">0</text>
<line x1="471.6" y1="642.2" x2="473.6" y2="642.2" stroke="#231f20" stroke-width="0.6"/>
<text x="470.0" y="644.8" font-size="6.77" text-anchor="end" fill="#231f20" textLength="4.0" lengthAdjust="spacingAndGlyphs" stroke="#231f20" stroke-width="0.1">2</text>
<line x1="471.6" y1="597.2" x2="473.6" y2="597.2" stroke="#231f20" stroke-width="0.6"/>
<text x="470.0" y="599.8" font-size="6.77" text-anchor="end" fill="#231f20" textLength="4.0" lengthAdjust="spacingAndGlyphs" stroke="#231f20" stroke-width="0.1">4</text>
<line x1="473.6" y1="687.2" x2="671.7" y2="687.2" stroke="#231f20" stroke-width="0.6"/>
<text x="452.9" y="640.7" font-size="6.58" text-anchor="middle" fill="#231f20" transform="rotate(-90 452.9 640.7)" textLength="84.0" lengthAdjust="spacingAndGlyphs" stroke="#231f20" stroke-width="0.05">Normalized organ radiance</text>
<text x="461.3" y="640.7" font-size="6.58" text-anchor="middle" fill="#231f20" transform="rotate(-90 461.3 640.7)" textLength="94.1" lengthAdjust="spacingAndGlyphs" stroke="#231f20" stroke-width="0.05">(versus liver in vehicle control)</text>
<rect x="474.5" y="664.7" width="1.9" height="22.5" fill="#e81818"/>
<line x1="475.6" y1="655.7" x2="475.6" y2="673.7" stroke="#222" stroke-width="0.45"/>
<circle cx="475.5" cy="663.6" r="0.5" fill="#333" stroke="none" stroke-width="0.6"/>
<circle cx="476.1" cy="665.3" r="0.5" fill="#333" stroke="none" stroke-width="0.6"/>
<circle cx="475.6" cy="663.1" r="0.5" fill="#333" stroke="none" stroke-width="0.6"/>
<rect x="476.6" y="680.5" width="1.9" height="6.8" fill="#a020f0"/>
<line x1="477.7" y1="676.2" x2="477.7" y2="684.7" stroke="#222" stroke-width="0.45"/>
<circle cx="477.3" cy="680.4" r="0.5" fill="#333" stroke="none" stroke-width="0.6"/>
<circle cx="477.9" cy="678.9" r="0.5" fill="#333" stroke="none" stroke-width="0.6"/>
<circle cx="477.2" cy="681.5" r="0.5" fill="#333" stroke="none" stroke-width="0.6"/>
<rect x="478.7" y="682.7" width="1.9" height="4.5" fill="#c89050"/>
<rect x="480.8" y="683.8" width="1.9" height="3.4" fill="#108890"/>
<rect x="482.9" y="685.0" width="1.9" height="2.2" fill="#111111"/>
<rect x="485.0" y="683.8" width="1.9" height="3.4" fill="#f06090"/>
<rect x="487.1" y="686.1" width="1.9" height="1.1" fill="#1a1ae8"/>
<line x1="481.9" y1="687.2" x2="481.9" y2="689.2" stroke="#231f20" stroke-width="0.6"/>
<text x="487.3" y="693.6" font-size="6.49" text-anchor="end" fill="#231f20" transform="rotate(-45 487.3 693.6)" textLength="15.0" lengthAdjust="spacingAndGlyphs" stroke="#231f20" stroke-width="0.05">Liver</text>
<rect x="492.4" y="673.7" width="1.9" height="13.5" fill="#e81818"/>
<line x1="493.5" y1="667.4" x2="493.5" y2="680.0" stroke="#222" stroke-width="0.45"/>
<circle cx="493.0" cy="670.4" r="0.5" fill="#333" stroke="none" stroke-width="0.6"/>
<circle cx="493.7" cy="678.6" r="0.5" fill="#333" stroke="none" stroke-width="0.6"/>
<circle cx="494.1" cy="668.7" r="0.5" fill="#333" stroke="none" stroke-width="0.6"/>
<rect x="494.6" y="674.8" width="1.9" height="12.4" fill="#a020f0"/>
<line x1="495.6" y1="668.9" x2="495.6" y2="680.8" stroke="#222" stroke-width="0.45"/>
<circle cx="495.8" cy="673.7" r="0.5" fill="#333" stroke="none" stroke-width="0.6"/>
<circle cx="495.2" cy="679.6" r="0.5" fill="#333" stroke="none" stroke-width="0.6"/>
<circle cx="495.6" cy="679.2" r="0.5" fill="#333" stroke="none" stroke-width="0.6"/>
<rect x="496.6" y="678.2" width="1.9" height="9.0" fill="#c89050"/>
<line x1="497.7" y1="673.2" x2="497.7" y2="683.2" stroke="#222" stroke-width="0.45"/>
<circle cx="497.3" cy="680.1" r="0.5" fill="#333" stroke="none" stroke-width="0.6"/>
<circle cx="497.1" cy="678.5" r="0.5" fill="#333" stroke="none" stroke-width="0.6"/>
<circle cx="497.6" cy="675.7" r="0.5" fill="#333" stroke="none" stroke-width="0.6"/>
<rect x="498.8" y="680.5" width="1.9" height="6.8" fill="#108890"/>
<line x1="499.8" y1="676.2" x2="499.8" y2="684.7" stroke="#222" stroke-width="0.45"/>
<circle cx="499.8" cy="679.7" r="0.5" fill="#333" stroke="none" stroke-width="0.6"/>
<circle cx="499.8" cy="679.6" r="0.5" fill="#333" stroke="none" stroke-width="0.6"/>
<circle cx="499.7" cy="681.6" r="0.5" fill="#333" stroke="none" stroke-width="0.6"/>
<rect x="500.8" y="681.6" width="1.9" height="5.6" fill="#111111"/>
<line x1="501.9" y1="677.6" x2="501.9" y2="685.5" stroke="#222" stroke-width="0.45"/>
<circle cx="502.5" cy="679.3" r="0.5" fill="#333" stroke="none" stroke-width="0.6"/>
<circle cx="502.3" cy="680.6" r="0.5" fill="#333" stroke="none" stroke-width="0.6"/>
<circle cx="501.7" cy="682.8" r="0.5" fill="#333" stroke="none" stroke-width="0.6"/>
<rect x="502.9" y="682.7" width="1.9" height="4.5" fill="#f06090"/>
<rect x="505.1" y="682.7" width="1.9" height="4.5" fill="#1a1ae8"/>
<line x1="499.8" y1="687.2" x2="499.8" y2="689.2" stroke="#231f20" stroke-width="0.6"/>
<text x="505.2" y="693.6" font-size="6.49" text-anchor="end" fill="#231f20" transform="rotate(-45 505.2 693.6)" textLength="21.5" lengthAdjust="spacingAndGlyphs" stroke="#231f20" stroke-width="0.05">Spleen</text>
<rect x="510.6" y="685.9" width="1.9" height="1.4" fill="#e81818"/>
<rect x="512.8" y="686.1" width="1.9" height="1.1" fill="#a020f0"/>
<rect x="514.9" y="686.1" width="1.9" height="1.1" fill="#c89050"/>
<rect x="516.9" y="686.3" width="1.9" height="0.9" fill="#108890"/>
<rect x="519.0" y="686.3" width="1.9" height="0.9" fill="#111111"/>
<rect x="521.1" y="686.5" width="1.9" height="0.7" fill="#f06090"/>
<rect x="523.2" y="686.5" width="1.9" height="0.7" fill="#1a1ae8"/>
<line x1="518.0" y1="687.2" x2="518.0" y2="689.2" stroke="#231f20" stroke-width="0.6"/>
<text x="523.4" y="693.6" font-size="6.49" text-anchor="end" fill="#231f20" transform="rotate(-45 523.4 693.6)" textLength="15.3" lengthAdjust="spacingAndGlyphs" stroke="#231f20" stroke-width="0.05">Lung</text>
<rect x="528.0" y="680.9" width="1.9" height="6.3" fill="#e81818"/>
<line x1="529.1" y1="676.8" x2="529.1" y2="685.0" stroke="#222" stroke-width="0.45"/>
<circle cx="528.8" cy="683.1" r="0.5" fill="#333" stroke="none" stroke-width="0.6"/>
<circle cx="529.4" cy="681.4" r="0.5" fill="#333" stroke="none" stroke-width="0.6"/>
<circle cx="529.5" cy="681.5" r="0.5" fill="#333" stroke="none" stroke-width="0.6"/>
<rect x="530.1" y="683.8" width="1.9" height="3.4" fill="#a020f0"/>
<rect x="532.2" y="685.0" width="1.9" height="2.2" fill="#c89050"/>
<rect x="534.3" y="685.9" width="1.9" height="1.4" fill="#108890"/>
<rect x="536.4" y="686.1" width="1.9" height="1.1" fill="#111111"/>
<rect x="538.5" y="686.1" width="1.9" height="1.1" fill="#f06090"/>
<rect x="540.6" y="685.0" width="1.9" height="2.2" fill="#1a1ae8"/>
<line x1="535.4" y1="687.2" x2="535.4" y2="689.2" stroke="#231f20" stroke-width="0.6"/>
<text x="540.8" y="693.6" font-size="6.49" text-anchor="end" fill="#231f20" transform="rotate(-45 540.8 693.6)" textLength="21.1" lengthAdjust="spacingAndGlyphs" stroke="#231f20" stroke-width="0.05">Kidney</text>
<rect x="546.2" y="613.0" width="1.9" height="74.2" fill="#e81818"/>
<line x1="547.3" y1="597.2" x2="547.3" y2="628.7" stroke="#222" stroke-width="0.45"/>
<circle cx="547.8" cy="592.3" r="0.5" fill="#333" stroke="none" stroke-width="0.6"/>
<circle cx="546.7" cy="630.2" r="0.5" fill="#333" stroke="none" stroke-width="0.6"/>
<circle cx="547.8" cy="614.7" r="0.5" fill="#333" stroke="none" stroke-width="0.6"/>
<rect x="548.4" y="640.0" width="1.9" height="47.2" fill="#a020f0"/>
<line x1="549.4" y1="624.2" x2="549.4" y2="655.7" stroke="#222" stroke-width="0.45"/>
<circle cx="550.0" cy="643.8" r="0.5" fill="#333" stroke="none" stroke-width="0.6"/>
<circle cx="548.9" cy="635.1" r="0.5" fill="#333" stroke="none" stroke-width="0.6"/>
<circle cx="549.7" cy="648.7" r="0.5" fill="#333" stroke="none" stroke-width="0.6"/>
<rect x="550.5" y="655.7" width="1.9" height="31.5" fill="#c89050"/>
<line x1="551.5" y1="644.0" x2="551.5" y2="667.4" stroke="#222" stroke-width="0.45"/>
<circle cx="551.0" cy="659.9" r="0.5" fill="#333" stroke="none" stroke-width="0.6"/>
<circle cx="552.1" cy="649.2" r="0.5" fill="#333" stroke="none" stroke-width="0.6"/>
<circle cx="551.0" cy="662.1" r="0.5" fill="#333" stroke="none" stroke-width="0.6"/>
<rect x="552.5" y="660.2" width="1.9" height="27.0" fill="#108890"/>
<line x1="553.6" y1="649.9" x2="553.6" y2="670.6" stroke="#222" stroke-width="0.45"/>
<circle cx="553.1" cy="669.7" r="0.5" fill="#333" stroke="none" stroke-width="0.6"/>
<circle cx="554.0" cy="667.2" r="0.5" fill="#333" stroke="none" stroke-width="0.6"/>
<circle cx="553.7" cy="661.3" r="0.5" fill="#333" stroke="none" stroke-width="0.6"/>
<rect x="554.6" y="664.7" width="1.9" height="22.5" fill="#111111"/>
<line x1="555.7" y1="655.7" x2="555.7" y2="673.7" stroke="#222" stroke-width="0.45"/>
<circle cx="555.3" cy="660.5" r="0.5" fill="#333" stroke="none" stroke-width="0.6"/>
<circle cx="555.3" cy="662.1" r="0.5" fill="#333" stroke="none" stroke-width="0.6"/>
<circle cx="555.2" cy="666.1" r="0.5" fill="#333" stroke="none" stroke-width="0.6"/>
<rect x="556.8" y="673.7" width="1.9" height="13.5" fill="#f06090"/>
<line x1="557.8" y1="667.4" x2="557.8" y2="680.0" stroke="#222" stroke-width="0.45"/>
<circle cx="557.5" cy="676.2" r="0.5" fill="#333" stroke="none" stroke-width="0.6"/>
<circle cx="558.4" cy="670.4" r="0.5" fill="#333" stroke="none" stroke-width="0.6"/>
<circle cx="557.6" cy="669.5" r="0.5" fill="#333" stroke="none" stroke-width="0.6"/>
<rect x="558.9" y="678.2" width="1.9" height="9.0" fill="#1a1ae8"/>
<line x1="559.9" y1="673.2" x2="559.9" y2="683.2" stroke="#222" stroke-width="0.45"/>
<circle cx="559.6" cy="679.0" r="0.5" fill="#333" stroke="none" stroke-width="0.6"/>
<circle cx="560.3" cy="677.2" r="0.5" fill="#333" stroke="none" stroke-width="0.6"/>
<circle cx="559.4" cy="674.7" r="0.5" fill="#333" stroke="none" stroke-width="0.6"/>
<line x1="553.6" y1="687.2" x2="553.6" y2="689.2" stroke="#231f20" stroke-width="0.6"/>
<text x="559.0" y="693.6" font-size="6.49" text-anchor="end" fill="#231f20" transform="rotate(-45 559.0 693.6)" textLength="19.7" lengthAdjust="spacingAndGlyphs" stroke="#231f20" stroke-width="0.05">Tumor</text>
<rect x="563.9" y="655.7" width="1.9" height="31.5" fill="#e81818"/>
<line x1="565.0" y1="644.0" x2="565.0" y2="667.4" stroke="#222" stroke-width="0.45"/>
<circle cx="564.7" cy="661.8" r="0.5" fill="#333" stroke="none" stroke-width="0.6"/>
<circle cx="565.3" cy="660.0" r="0.5" fill="#333" stroke="none" stroke-width="0.6"/>
<circle cx="564.8" cy="666.5" r="0.5" fill="#333" stroke="none" stroke-width="0.6"/>
<rect x="566.0" y="673.7" width="1.9" height="13.5" fill="#a020f0"/>
<line x1="567.1" y1="667.4" x2="567.1" y2="680.0" stroke="#222" stroke-width="0.45"/>
<circle cx="566.6" cy="672.8" r="0.5" fill="#333" stroke="none" stroke-width="0.6"/>
<circle cx="566.8" cy="672.6" r="0.5" fill="#333" stroke="none" stroke-width="0.6"/>
<circle cx="566.9" cy="674.2" r="0.5" fill="#333" stroke="none" stroke-width="0.6"/>
<rect x="568.1" y="676.0" width="1.9" height="11.2" fill="#c89050"/>
<line x1="569.2" y1="670.3" x2="569.2" y2="681.6" stroke="#222" stroke-width="0.45"/>
<circle cx="569.8" cy="676.1" r="0.5" fill="#333" stroke="none" stroke-width="0.6"/>
<circle cx="569.3" cy="672.7" r="0.5" fill="#333" stroke="none" stroke-width="0.6"/>
<circle cx="568.8" cy="679.1" r="0.5" fill="#333" stroke="none" stroke-width="0.6"/>
<rect x="570.2" y="678.2" width="1.9" height="9.0" fill="#108890"/>
<line x1="571.3" y1="673.2" x2="571.3" y2="683.2" stroke="#222" stroke-width="0.45"/>
<circle cx="571.8" cy="675.9" r="0.5" fill="#333" stroke="none" stroke-width="0.6"/>
<circle cx="571.0" cy="680.4" r="0.5" fill="#333" stroke="none" stroke-width="0.6"/>
<circle cx="571.6" cy="675.0" r="0.5" fill="#333" stroke="none" stroke-width="0.6"/>
<rect x="572.3" y="680.5" width="1.9" height="6.8" fill="#111111"/>
<line x1="573.4" y1="676.2" x2="573.4" y2="684.7" stroke="#222" stroke-width="0.45"/>
<circle cx="573.0" cy="678.0" r="0.5" fill="#333" stroke="none" stroke-width="0.6"/>
<circle cx="573.9" cy="679.9" r="0.5" fill="#333" stroke="none" stroke-width="0.6"/>
<circle cx="573.3" cy="682.6" r="0.5" fill="#333" stroke="none" stroke-width="0.6"/>
<rect x="574.4" y="682.7" width="1.9" height="4.5" fill="#f06090"/>
<rect x="576.5" y="683.8" width="1.9" height="3.4" fill="#1a1ae8"/>
<line x1="571.3" y1="687.2" x2="571.3" y2="689.2" stroke="#231f20" stroke-width="0.6"/>
<text x="576.7" y="693.6" font-size="6.49" text-anchor="end" fill="#231f20" transform="rotate(-45 576.7 693.6)" textLength="27.2" lengthAdjust="spacingAndGlyphs" stroke="#231f20" stroke-width="0.05">Stomach</text>
<rect x="581.6" y="678.2" width="1.9" height="9.0" fill="#e81818"/>
<line x1="582.7" y1="673.2" x2="582.7" y2="683.2" stroke="#222" stroke-width="0.45"/>
<circle cx="582.1" cy="674.9" r="0.5" fill="#333" stroke="none" stroke-width="0.6"/>
<circle cx="582.4" cy="676.7" r="0.5" fill="#333" stroke="none" stroke-width="0.6"/>
<circle cx="582.4" cy="675.9" r="0.5" fill="#333" stroke="none" stroke-width="0.6"/>
<rect x="583.8" y="679.3" width="1.9" height="7.9" fill="#a020f0"/>
<line x1="584.8" y1="674.7" x2="584.8" y2="683.9" stroke="#222" stroke-width="0.45"/>
<circle cx="584.9" cy="680.6" r="0.5" fill="#333" stroke="none" stroke-width="0.6"/>
<circle cx="584.4" cy="677.9" r="0.5" fill="#333" stroke="none" stroke-width="0.6"/>
<circle cx="584.3" cy="681.0" r="0.5" fill="#333" stroke="none" stroke-width="0.6"/>
<rect x="585.9" y="680.5" width="1.9" height="6.8" fill="#c89050"/>
<line x1="586.9" y1="676.2" x2="586.9" y2="684.7" stroke="#222" stroke-width="0.45"/>
<circle cx="587.0" cy="678.5" r="0.5" fill="#333" stroke="none" stroke-width="0.6"/>
<circle cx="587.0" cy="681.6" r="0.5" fill="#333" stroke="none" stroke-width="0.6"/>
<circle cx="587.4" cy="682.0" r="0.5" fill="#333" stroke="none" stroke-width="0.6"/>
<rect x="587.9" y="680.5" width="1.9" height="6.8" fill="#108890"/>
<line x1="589.0" y1="676.2" x2="589.0" y2="684.7" stroke="#222" stroke-width="0.45"/>
<circle cx="588.4" cy="681.7" r="0.5" fill="#333" stroke="none" stroke-width="0.6"/>
<circle cx="588.9" cy="682.8" r="0.5" fill="#333" stroke="none" stroke-width="0.6"/>
<circle cx="588.6" cy="681.2" r="0.5" fill="#333" stroke="none" stroke-width="0.6"/>
<rect x="590.0" y="682.7" width="1.9" height="4.5" fill="#111111"/>
<rect x="592.1" y="683.8" width="1.9" height="3.4" fill="#f06090"/>
<rect x="594.2" y="685.0" width="1.9" height="2.2" fill="#1a1ae8"/>
<line x1="589.0" y1="687.2" x2="589.0" y2="689.2" stroke="#231f20" stroke-width="0.6"/>
<text x="594.4" y="693.6" font-size="6.49" text-anchor="end" fill="#231f20" transform="rotate(-45 594.4 693.6)" textLength="44.9" lengthAdjust="spacingAndGlyphs" stroke="#231f20" stroke-width="0.05">Small intestine</text>
<rect x="599.2" y="673.7" width="1.9" height="13.5" fill="#e81818"/>
<line x1="600.3" y1="667.4" x2="600.3" y2="680.0" stroke="#222" stroke-width="0.45"/>
<circle cx="600.4" cy="677.7" r="0.5" fill="#333" stroke="none" stroke-width="0.6"/>
<circle cx="600.1" cy="669.5" r="0.5" fill="#333" stroke="none" stroke-width="0.6"/>
<circle cx="600.9" cy="672.0" r="0.5" fill="#333" stroke="none" stroke-width="0.6"/>
<rect x="601.4" y="678.2" width="1.9" height="9.0" fill="#a020f0"/>
<line x1="602.4" y1="673.2" x2="602.4" y2="683.2" stroke="#222" stroke-width="0.45"/>
<circle cx="602.6" cy="677.6" r="0.5" fill="#333" stroke="none" stroke-width="0.6"/>
<circle cx="602.0" cy="681.5" r="0.5" fill="#333" stroke="none" stroke-width="0.6"/>
<circle cx="601.8" cy="675.2" r="0.5" fill="#333" stroke="none" stroke-width="0.6"/>
<rect x="603.5" y="680.5" width="1.9" height="6.8" fill="#c89050"/>
<line x1="604.5" y1="676.2" x2="604.5" y2="684.7" stroke="#222" stroke-width="0.45"/>
<circle cx="604.7" cy="678.0" r="0.5" fill="#333" stroke="none" stroke-width="0.6"/>
<circle cx="603.9" cy="679.7" r="0.5" fill="#333" stroke="none" stroke-width="0.6"/>
<circle cx="604.5" cy="679.2" r="0.5" fill="#333" stroke="none" stroke-width="0.6"/>
<rect x="605.5" y="682.7" width="1.9" height="4.5" fill="#108890"/>
<rect x="607.6" y="683.8" width="1.9" height="3.4" fill="#111111"/>
<rect x="609.8" y="685.0" width="1.9" height="2.2" fill="#f06090"/>
<rect x="611.9" y="686.1" width="1.9" height="1.1" fill="#1a1ae8"/>
<line x1="606.6" y1="687.2" x2="606.6" y2="689.2" stroke="#231f20" stroke-width="0.6"/>
<text x="612.0" y="693.6" font-size="6.49" text-anchor="end" fill="#231f20" transform="rotate(-45 612.0 693.6)" textLength="45.3" lengthAdjust="spacingAndGlyphs" stroke="#231f20" stroke-width="0.05">Large intestine</text>
<rect x="616.9" y="686.1" width="1.9" height="1.1" fill="#e81818"/>
<rect x="619.0" y="686.3" width="1.9" height="0.9" fill="#a020f0"/>
<rect x="621.1" y="686.3" width="1.9" height="0.9" fill="#c89050"/>
<rect x="623.2" y="686.5" width="1.9" height="0.7" fill="#108890"/>
<rect x="625.3" y="686.5" width="1.9" height="0.7" fill="#111111"/>
<rect x="627.4" y="686.5" width="1.9" height="0.7" fill="#f06090"/>
<rect x="629.5" y="686.5" width="1.9" height="0.7" fill="#1a1ae8"/>
<line x1="624.3" y1="687.2" x2="624.3" y2="689.2" stroke="#231f20" stroke-width="0.6"/>
<text x="629.7" y="693.6" font-size="6.49" text-anchor="end" fill="#231f20" transform="rotate(-45 629.7 693.6)" textLength="25.7" lengthAdjust="spacingAndGlyphs" stroke="#231f20" stroke-width="0.05">Caecum</text>
<rect x="635.0" y="686.1" width="1.9" height="1.1" fill="#e81818"/>
<rect x="637.1" y="686.1" width="1.9" height="1.1" fill="#a020f0"/>
<rect x="639.2" y="686.3" width="1.9" height="0.9" fill="#c89050"/>
<rect x="641.3" y="686.3" width="1.9" height="0.9" fill="#108890"/>
<rect x="643.4" y="686.5" width="1.9" height="0.7" fill="#111111"/>
<rect x="645.5" y="686.1" width="1.9" height="1.1" fill="#f06090"/>
<rect x="647.6" y="685.0" width="1.9" height="2.2" fill="#1a1ae8"/>
<line x1="642.4" y1="687.2" x2="642.4" y2="689.2" stroke="#231f20" stroke-width="0.6"/>
<text x="647.8" y="693.6" font-size="6.49" text-anchor="end" fill="#231f20" transform="rotate(-45 647.8 693.6)" textLength="18.0" lengthAdjust="spacingAndGlyphs" stroke="#231f20" stroke-width="0.05">Colon</text>
<rect x="652.6" y="684.5" width="1.9" height="2.7" fill="#e81818"/>
<rect x="654.8" y="683.8" width="1.9" height="3.4" fill="#a020f0"/>
<rect x="656.9" y="685.0" width="1.9" height="2.2" fill="#c89050"/>
<rect x="658.9" y="685.4" width="1.9" height="1.8" fill="#108890"/>
<rect x="661.0" y="685.9" width="1.9" height="1.4" fill="#111111"/>
<rect x="663.1" y="686.1" width="1.9" height="1.1" fill="#f06090"/>
<rect x="665.2" y="685.4" width="1.9" height="1.8" fill="#1a1ae8"/>
<line x1="660.0" y1="687.2" x2="660.0" y2="689.2" stroke="#231f20" stroke-width="0.6"/>
<text x="665.4" y="693.6" font-size="6.49" text-anchor="end" fill="#231f20" transform="rotate(-45 665.4 693.6)" textLength="23.8" lengthAdjust="spacingAndGlyphs" stroke="#231f20" stroke-width="0.05">Rectum</text>
<line x1="474.5" y1="604.5" x2="474.5" y2="690.0" stroke="#bbb" stroke-width="0.4"/>
<line x1="474.5" y1="606.5" x2="488.0" y2="606.5" stroke="#333" stroke-width="0.5"/>
<line x1="488.0" y1="606.5" x2="488.0" y2="687.0" stroke="#333" stroke-width="0.5"/>
<text x="474.6" y="604.6" font-size="5.4" text-anchor="start" fill="#231f20"><tspan font-style="italic">P</tspan> = 3 × 10<tspan font-size="3.8" baseline-shift="45%">−6</tspan></text>
<path d="M494.0,664.5 L494.0,662.5 L510.0,662.5 L510.0,664.5" fill="none" stroke="#333" stroke-width="0.5"/>
<text x="491.0" y="660.6" font-size="5.4" text-anchor="start" fill="#231f20"><tspan font-style="italic">P</tspan> = 0.0006</text>
<path d="M521.0,675.5 L521.0,673.5 L539.0,673.5 L539.0,675.5" fill="none" stroke="#333" stroke-width="0.5"/>
<text x="519.5" y="671.6" font-size="5.4" text-anchor="start" fill="#231f20"><tspan font-style="italic">P</tspan> = 0.0001</text>
<line x1="548.0" y1="602.0" x2="560.0" y2="602.0" stroke="#333" stroke-width="0.5"/>
<line x1="560.0" y1="602.0" x2="560.0" y2="620.0" stroke="#333" stroke-width="0.5"/>
<line x1="548.0" y1="602.0" x2="548.0" y2="606.0" stroke="#333" stroke-width="0.5"/>
<text x="540.5" y="600.0" font-size="5.4" text-anchor="start" fill="#231f20"><tspan font-style="italic">P</tspan> = 4 × 10<tspan font-size="3.8" baseline-shift="45%">−8</tspan></text>
<text x="515.3" y="631.2" font-size="5.4" text-anchor="start" fill="#231f20">P<tspan font-size="3.8" baseline-shift="-25%">1</tspan> = 0.0003</text>
<text x="515.3" y="640.0" font-size="5.4" text-anchor="start" fill="#231f20">P<tspan font-size="3.8" baseline-shift="-25%">2</tspan> = 0.0002</text>
<line x1="556.0" y1="640.0" x2="560.0" y2="632.0" stroke="#333" stroke-width="0.5"/>
<line x1="560.0" y1="632.0" x2="565.0" y2="640.0" stroke="#333" stroke-width="0.5"/>
<path d="M566.0,625.8 L566.0,623.8 L578.0,623.8 L578.0,625.8" fill="none" stroke="#333" stroke-width="0.5"/>
<line x1="578.0" y1="623.8" x2="578.0" y2="685.0" stroke="#333" stroke-width="0.5"/>
<text x="561.6" y="621.7" font-size="5.4" text-anchor="start" fill="#231f20"><tspan font-style="italic">P</tspan> = 0.017</text>
<path d="M580.0,666.5 L580.0,664.5 L596.0,664.5 L596.0,666.5" fill="none" stroke="#333" stroke-width="0.5"/>
<text x="575.0" y="662.7" font-size="5.4" text-anchor="start" fill="#231f20"><tspan font-style="italic">P</tspan> = 0.034</text>
<path d="M600.0,635.3 L600.0,633.3 L612.0,633.3 L612.0,635.3" fill="none" stroke="#333" stroke-width="0.5"/>
<line x1="612.0" y1="633.3" x2="612.0" y2="685.0" stroke="#333" stroke-width="0.5"/>
<text x="595.8" y="631.2" font-size="5.4" text-anchor="start" fill="#231f20"><tspan font-style="italic">P</tspan> = 0.0201</text>
<rect x="643.6" y="605.0" width="3.0" height="3.2" fill="#e81818"/>
<text x="650.8" y="608.6" font-size="5.45" text-anchor="start" fill="#231f20" textLength="3.9" lengthAdjust="spacingAndGlyphs" stroke="#231f20" stroke-width="0.05">A</text>
<rect x="643.6" y="612.8" width="3.0" height="3.2" fill="#a020f0"/>
<text x="650.8" y="616.4" font-size="5.45" text-anchor="start" fill="#231f20" textLength="3.9" lengthAdjust="spacingAndGlyphs" stroke="#231f20" stroke-width="0.05">B</text>
<rect x="643.6" y="620.5" width="3.0" height="3.2" fill="#c89050"/>
<text x="650.8" y="624.1" font-size="5.45" text-anchor="start" fill="#231f20" textLength="4.2" lengthAdjust="spacingAndGlyphs" stroke="#231f20" stroke-width="0.05">C</text>
<rect x="643.6" y="628.3" width="3.0" height="3.2" fill="#108890"/>
<text x="650.8" y="631.9" font-size="5.45" text-anchor="start" fill="#231f20" textLength="4.2" lengthAdjust="spacingAndGlyphs" stroke="#231f20" stroke-width="0.05">D</text>
<rect x="643.6" y="636.1" width="3.0" height="3.2" fill="#111111"/>
<text x="650.8" y="639.7" font-size="5.45" text-anchor="start" fill="#231f20" textLength="3.9" lengthAdjust="spacingAndGlyphs" stroke="#231f20" stroke-width="0.05">E</text>
<rect x="643.6" y="643.9" width="3.0" height="3.2" fill="#f06090"/>
<text x="650.8" y="647.5" font-size="5.45" text-anchor="start" fill="#231f20" textLength="3.5" lengthAdjust="spacingAndGlyphs" stroke="#231f20" stroke-width="0.05">F</text>
<rect x="643.6" y="651.6" width="3.0" height="3.2" fill="#1a1ae8"/>
<text x="650.8" y="655.2" font-size="5.45" text-anchor="start" fill="#231f20" textLength="4.5" lengthAdjust="spacingAndGlyphs" stroke="#231f20" stroke-width="0.05">G</text>
<text x="447.4" y="739.8" font-size="12" font-weight="bold" fill="#000" stroke="#000" stroke-width="0.35">p</text>
<rect x="503.7" y="741.8" width="22.9" height="7.4" fill="#ff0000"/>
<text x="515.0" y="747.2" font-size="6.2" text-anchor="middle" fill="#222" textLength="11.0" lengthAdjust="spacingAndGlyphs" stroke="#222" stroke-width="0.05">100</text>
<rect x="526.3" y="741.8" width="22.9" height="7.4" fill="#ff0000"/>
<text x="537.6" y="747.2" font-size="6.2" text-anchor="middle" fill="#222" textLength="11.0" lengthAdjust="spacingAndGlyphs" stroke="#222" stroke-width="0.05">100</text>
<rect x="549.0" y="741.8" width="22.9" height="7.4" fill="#ffff00"/>
<text x="560.3" y="747.2" font-size="6.2" text-anchor="middle" fill="#222" textLength="7.3" lengthAdjust="spacingAndGlyphs" stroke="#222" stroke-width="0.05">80</text>
<rect x="571.6" y="741.8" width="22.9" height="7.4" fill="#ffff00"/>
<text x="582.9" y="747.2" font-size="6.2" text-anchor="middle" fill="#222" textLength="7.3" lengthAdjust="spacingAndGlyphs" stroke="#222" stroke-width="0.05">80</text>
<rect x="594.2" y="741.8" width="22.9" height="7.4" fill="#00e600"/>
<text x="605.5" y="747.2" font-size="6.2" text-anchor="middle" fill="#222" textLength="7.3" lengthAdjust="spacingAndGlyphs" stroke="#222" stroke-width="0.05">60</text>
<rect x="616.8" y="741.8" width="22.9" height="7.4" fill="#00e600"/>
<text x="628.2" y="747.2" font-size="6.2" text-anchor="middle" fill="#222" textLength="7.3" lengthAdjust="spacingAndGlyphs" stroke="#222" stroke-width="0.05">60</text>
<rect x="639.5" y="741.8" width="22.9" height="7.4" fill="#0000ff"/>
<text x="650.8" y="747.2" font-size="6.2" text-anchor="middle" fill="#222" textLength="7.3" lengthAdjust="spacingAndGlyphs" stroke="#222" stroke-width="0.05">20</text>
<text x="500.7" y="747.1" font-size="6.39" text-anchor="end" fill="#111" textLength="14.7" lengthAdjust="spacingAndGlyphs" stroke="#111" stroke-width="0.05">Liver</text>
<rect x="503.7" y="748.9" width="22.9" height="7.4" fill="#ff0000"/>
<text x="515.0" y="754.3" font-size="6.2" text-anchor="middle" fill="#222" textLength="11.0" lengthAdjust="spacingAndGlyphs" stroke="#222" stroke-width="0.05">100</text>
<rect x="526.3" y="748.9" width="22.9" height="7.4" fill="#ff0000"/>
<text x="537.6" y="754.3" font-size="6.2" text-anchor="middle" fill="#222" textLength="11.0" lengthAdjust="spacingAndGlyphs" stroke="#222" stroke-width="0.05">100</text>
<rect x="549.0" y="748.9" width="22.9" height="7.4" fill="#ff0000"/>
<text x="560.3" y="754.3" font-size="6.2" text-anchor="middle" fill="#222" textLength="11.0" lengthAdjust="spacingAndGlyphs" stroke="#222" stroke-width="0.05">100</text>
<rect x="571.6" y="748.9" width="22.9" height="7.4" fill="#ff0000"/>
<text x="582.9" y="754.3" font-size="6.2" text-anchor="middle" fill="#222" textLength="11.0" lengthAdjust="spacingAndGlyphs" stroke="#222" stroke-width="0.05">100</text>
<rect x="594.2" y="748.9" width="22.9" height="7.4" fill="#00e600"/>
<text x="605.5" y="754.3" font-size="6.2" text-anchor="middle" fill="#222" textLength="7.3" lengthAdjust="spacingAndGlyphs" stroke="#222" stroke-width="0.05">60</text>
<rect x="616.8" y="748.9" width="22.9" height="7.4" fill="#00e600"/>
<text x="628.2" y="754.3" font-size="6.2" text-anchor="middle" fill="#222" textLength="7.3" lengthAdjust="spacingAndGlyphs" stroke="#222" stroke-width="0.05">60</text>
<rect x="639.5" y="748.9" width="22.9" height="7.4" fill="#0000ff"/>
<text x="650.8" y="754.3" font-size="6.2" text-anchor="middle" fill="#222" textLength="7.3" lengthAdjust="spacingAndGlyphs" stroke="#222" stroke-width="0.05">20</text>
<text x="500.7" y="754.2" font-size="6.39" text-anchor="end" fill="#111" textLength="21.2" lengthAdjust="spacingAndGlyphs" stroke="#111" stroke-width="0.05">Spleen</text>
<rect x="503.7" y="756.0" width="22.9" height="7.4" fill="#ff0000"/>
<text x="515.0" y="761.4" font-size="6.2" text-anchor="middle" fill="#222" textLength="11.0" lengthAdjust="spacingAndGlyphs" stroke="#222" stroke-width="0.05">100</text>
<rect x="526.3" y="756.0" width="22.9" height="7.4" fill="#ffff00"/>
<text x="537.6" y="761.4" font-size="6.2" text-anchor="middle" fill="#222" textLength="7.3" lengthAdjust="spacingAndGlyphs" stroke="#222" stroke-width="0.05">80</text>
<rect x="549.0" y="756.0" width="22.9" height="7.4" fill="#00ffff"/>
<text x="560.3" y="761.4" font-size="6.2" text-anchor="middle" fill="#222" textLength="7.3" lengthAdjust="spacingAndGlyphs" stroke="#222" stroke-width="0.05">40</text>
<rect x="571.6" y="756.0" width="22.9" height="7.4" fill="#0000ff"/>
<text x="582.9" y="761.4" font-size="6.2" text-anchor="middle" fill="#222" textLength="7.3" lengthAdjust="spacingAndGlyphs" stroke="#222" stroke-width="0.05">20</text>
<rect x="594.2" y="756.0" width="22.9" height="7.4" fill="#0000ff"/>
<text x="605.5" y="761.4" font-size="6.2" text-anchor="middle" fill="#222" textLength="7.3" lengthAdjust="spacingAndGlyphs" stroke="#222" stroke-width="0.05">20</text>
<rect x="616.8" y="756.0" width="22.9" height="7.4" fill="#ff00ff"/>
<text x="628.2" y="761.4" font-size="6.2" text-anchor="middle" fill="#222" textLength="3.7" lengthAdjust="spacingAndGlyphs" stroke="#222" stroke-width="0.05">0</text>
<rect x="639.5" y="756.0" width="22.9" height="7.4" fill="#ff00ff"/>
<text x="650.8" y="761.4" font-size="6.2" text-anchor="middle" fill="#222" textLength="3.7" lengthAdjust="spacingAndGlyphs" stroke="#222" stroke-width="0.05">0</text>
<text x="500.7" y="761.3" font-size="6.39" text-anchor="end" fill="#111" textLength="15.1" lengthAdjust="spacingAndGlyphs" stroke="#111" stroke-width="0.05">Lung</text>
<rect x="503.7" y="763.1" width="22.9" height="7.4" fill="#ff0000"/>
<text x="515.0" y="768.5" font-size="6.2" text-anchor="middle" fill="#222" textLength="11.0" lengthAdjust="spacingAndGlyphs" stroke="#222" stroke-width="0.05">100</text>
<rect x="526.3" y="763.1" width="22.9" height="7.4" fill="#ff0000"/>
<text x="537.6" y="768.5" font-size="6.2" text-anchor="middle" fill="#222" textLength="11.0" lengthAdjust="spacingAndGlyphs" stroke="#222" stroke-width="0.05">100</text>
<rect x="549.0" y="763.1" width="22.9" height="7.4" fill="#ff0000"/>
<text x="560.3" y="768.5" font-size="6.2" text-anchor="middle" fill="#222" textLength="11.0" lengthAdjust="spacingAndGlyphs" stroke="#222" stroke-width="0.05">100</text>
<rect x="571.6" y="763.1" width="22.9" height="7.4" fill="#ff0000"/>
<text x="582.9" y="768.5" font-size="6.2" text-anchor="middle" fill="#222" textLength="11.0" lengthAdjust="spacingAndGlyphs" stroke="#222" stroke-width="0.05">100</text>
<rect x="594.2" y="763.1" width="22.9" height="7.4" fill="#0000ff"/>
<text x="605.5" y="768.5" font-size="6.2" text-anchor="middle" fill="#222" textLength="7.3" lengthAdjust="spacingAndGlyphs" stroke="#222" stroke-width="0.05">20</text>
<rect x="616.8" y="763.1" width="22.9" height="7.4" fill="#0000ff"/>
<text x="628.2" y="768.5" font-size="6.2" text-anchor="middle" fill="#222" textLength="7.3" lengthAdjust="spacingAndGlyphs" stroke="#222" stroke-width="0.05">20</text>
<rect x="639.5" y="763.1" width="22.9" height="7.4" fill="#ff00ff"/>
<text x="650.8" y="768.5" font-size="6.2" text-anchor="middle" fill="#222" textLength="3.7" lengthAdjust="spacingAndGlyphs" stroke="#222" stroke-width="0.05">0</text>
<text x="500.7" y="768.4" font-size="6.39" text-anchor="end" fill="#111" textLength="20.8" lengthAdjust="spacingAndGlyphs" stroke="#111" stroke-width="0.05">Kidney</text>
<rect x="503.7" y="770.2" width="22.9" height="7.4" fill="#ff0000"/>
<text x="515.0" y="775.6" font-size="6.2" text-anchor="middle" fill="#222" textLength="11.0" lengthAdjust="spacingAndGlyphs" stroke="#222" stroke-width="0.05">100</text>
<rect x="526.3" y="770.2" width="22.9" height="7.4" fill="#ff0000"/>
<text x="537.6" y="775.6" font-size="6.2" text-anchor="middle" fill="#222" textLength="11.0" lengthAdjust="spacingAndGlyphs" stroke="#222" stroke-width="0.05">100</text>
<rect x="549.0" y="770.2" width="22.9" height="7.4" fill="#ff0000"/>
<text x="560.3" y="775.6" font-size="6.2" text-anchor="middle" fill="#222" textLength="11.0" lengthAdjust="spacingAndGlyphs" stroke="#222" stroke-width="0.05">100</text>
<rect x="571.6" y="770.2" width="22.9" height="7.4" fill="#ff0000"/>
<text x="582.9" y="775.6" font-size="6.2" text-anchor="middle" fill="#222" textLength="11.0" lengthAdjust="spacingAndGlyphs" stroke="#222" stroke-width="0.05">100</text>
<rect x="594.2" y="770.2" width="22.9" height="7.4" fill="#00e600"/>
<text x="605.5" y="775.6" font-size="6.2" text-anchor="middle" fill="#222" textLength="7.3" lengthAdjust="spacingAndGlyphs" stroke="#222" stroke-width="0.05">60</text>
<rect x="616.8" y="770.2" width="22.9" height="7.4" fill="#00e600"/>
<text x="628.2" y="775.6" font-size="6.2" text-anchor="middle" fill="#222" textLength="7.3" lengthAdjust="spacingAndGlyphs" stroke="#222" stroke-width="0.05">60</text>
<rect x="639.5" y="770.2" width="22.9" height="7.4" fill="#0000ff"/>
<text x="650.8" y="775.6" font-size="6.2" text-anchor="middle" fill="#222" textLength="7.3" lengthAdjust="spacingAndGlyphs" stroke="#222" stroke-width="0.05">20</text>
<text x="500.7" y="775.5" font-size="6.39" text-anchor="end" fill="#111" textLength="26.8" lengthAdjust="spacingAndGlyphs" stroke="#111" stroke-width="0.05">Stomach</text>
<rect x="503.7" y="777.3" width="22.9" height="7.4" fill="#ff0000"/>
<text x="515.0" y="782.7" font-size="6.2" text-anchor="middle" fill="#222" textLength="11.0" lengthAdjust="spacingAndGlyphs" stroke="#222" stroke-width="0.05">100</text>
<rect x="526.3" y="777.3" width="22.9" height="7.4" fill="#ff0000"/>
<text x="537.6" y="782.7" font-size="6.2" text-anchor="middle" fill="#222" textLength="11.0" lengthAdjust="spacingAndGlyphs" stroke="#222" stroke-width="0.05">100</text>
<rect x="549.0" y="777.3" width="22.9" height="7.4" fill="#ff0000"/>
<text x="560.3" y="782.7" font-size="6.2" text-anchor="middle" fill="#222" textLength="11.0" lengthAdjust="spacingAndGlyphs" stroke="#222" stroke-width="0.05">100</text>
<rect x="571.6" y="777.3" width="22.9" height="7.4" fill="#ff0000"/>
<text x="582.9" y="782.7" font-size="6.2" text-anchor="middle" fill="#222" textLength="11.0" lengthAdjust="spacingAndGlyphs" stroke="#222" stroke-width="0.05">100</text>
<rect x="594.2" y="777.3" width="22.9" height="7.4" fill="#00ffff"/>
<text x="605.5" y="782.7" font-size="6.2" text-anchor="middle" fill="#222" textLength="7.3" lengthAdjust="spacingAndGlyphs" stroke="#222" stroke-width="0.05">40</text>
<rect x="616.8" y="777.3" width="22.9" height="7.4" fill="#00ffff"/>
<text x="628.2" y="782.7" font-size="6.2" text-anchor="middle" fill="#222" textLength="7.3" lengthAdjust="spacingAndGlyphs" stroke="#222" stroke-width="0.05">40</text>
<rect x="639.5" y="777.3" width="22.9" height="7.4" fill="#0000ff"/>
<text x="650.8" y="782.7" font-size="6.2" text-anchor="middle" fill="#222" textLength="7.3" lengthAdjust="spacingAndGlyphs" stroke="#222" stroke-width="0.05">20</text>
<text x="500.7" y="782.6" font-size="6.39" text-anchor="end" fill="#111" textLength="44.2" lengthAdjust="spacingAndGlyphs" stroke="#111" stroke-width="0.05">Small intestine</text>
<rect x="503.7" y="784.4" width="22.9" height="7.4" fill="#ff0000"/>
<text x="515.0" y="789.8" font-size="6.2" text-anchor="middle" fill="#222" textLength="11.0" lengthAdjust="spacingAndGlyphs" stroke="#222" stroke-width="0.05">100</text>
<rect x="526.3" y="784.4" width="22.9" height="7.4" fill="#ff0000"/>
<text x="537.6" y="789.8" font-size="6.2" text-anchor="middle" fill="#222" textLength="11.0" lengthAdjust="spacingAndGlyphs" stroke="#222" stroke-width="0.05">100</text>
<rect x="549.0" y="784.4" width="22.9" height="7.4" fill="#ff0000"/>
<text x="560.3" y="789.8" font-size="6.2" text-anchor="middle" fill="#222" textLength="11.0" lengthAdjust="spacingAndGlyphs" stroke="#222" stroke-width="0.05">100</text>
<rect x="571.6" y="784.4" width="22.9" height="7.4" fill="#ff0000"/>
<text x="582.9" y="789.8" font-size="6.2" text-anchor="middle" fill="#222" textLength="11.0" lengthAdjust="spacingAndGlyphs" stroke="#222" stroke-width="0.05">100</text>
<rect x="594.2" y="784.4" width="22.9" height="7.4" fill="#0000ff"/>
<text x="605.5" y="789.8" font-size="6.2" text-anchor="middle" fill="#222" textLength="7.3" lengthAdjust="spacingAndGlyphs" stroke="#222" stroke-width="0.05">20</text>
<rect x="616.8" y="784.4" width="22.9" height="7.4" fill="#0000ff"/>
<text x="628.2" y="789.8" font-size="6.2" text-anchor="middle" fill="#222" textLength="7.3" lengthAdjust="spacingAndGlyphs" stroke="#222" stroke-width="0.05">20</text>
<rect x="639.5" y="784.4" width="22.9" height="7.4" fill="#ff00ff"/>
<text x="650.8" y="789.8" font-size="6.2" text-anchor="middle" fill="#222" textLength="3.7" lengthAdjust="spacingAndGlyphs" stroke="#222" stroke-width="0.05">0</text>
<text x="500.7" y="789.7" font-size="6.39" text-anchor="end" fill="#111" textLength="44.6" lengthAdjust="spacingAndGlyphs" stroke="#111" stroke-width="0.05">Large intestine</text>
<rect x="503.7" y="791.5" width="22.9" height="7.4" fill="#ffff00"/>
<text x="515.0" y="796.9" font-size="6.2" text-anchor="middle" fill="#222" textLength="7.3" lengthAdjust="spacingAndGlyphs" stroke="#222" stroke-width="0.05">80</text>
<rect x="526.3" y="791.5" width="22.9" height="7.4" fill="#00e600"/>
<text x="537.6" y="796.9" font-size="6.2" text-anchor="middle" fill="#222" textLength="7.3" lengthAdjust="spacingAndGlyphs" stroke="#222" stroke-width="0.05">60</text>
<rect x="549.0" y="791.5" width="22.9" height="7.4" fill="#00ffff"/>
<text x="560.3" y="796.9" font-size="6.2" text-anchor="middle" fill="#222" textLength="7.3" lengthAdjust="spacingAndGlyphs" stroke="#222" stroke-width="0.05">40</text>
<rect x="571.6" y="791.5" width="22.9" height="7.4" fill="#0000ff"/>
<text x="582.9" y="796.9" font-size="6.2" text-anchor="middle" fill="#222" textLength="7.3" lengthAdjust="spacingAndGlyphs" stroke="#222" stroke-width="0.05">20</text>
<rect x="594.2" y="791.5" width="22.9" height="7.4" fill="#ff00ff"/>
<text x="605.5" y="796.9" font-size="6.2" text-anchor="middle" fill="#222" textLength="3.7" lengthAdjust="spacingAndGlyphs" stroke="#222" stroke-width="0.05">0</text>
<rect x="616.8" y="791.5" width="22.9" height="7.4" fill="#ff00ff"/>
<text x="628.2" y="796.9" font-size="6.2" text-anchor="middle" fill="#222" textLength="3.7" lengthAdjust="spacingAndGlyphs" stroke="#222" stroke-width="0.05">0</text>
<rect x="639.5" y="791.5" width="22.9" height="7.4" fill="#ff00ff"/>
<text x="650.8" y="796.9" font-size="6.2" text-anchor="middle" fill="#222" textLength="3.7" lengthAdjust="spacingAndGlyphs" stroke="#222" stroke-width="0.05">0</text>
<text x="500.7" y="796.8" font-size="6.39" text-anchor="end" fill="#111" textLength="21.5" lengthAdjust="spacingAndGlyphs" stroke="#111" stroke-width="0.05">Cecum</text>
<rect x="503.7" y="798.6" width="22.9" height="7.4" fill="#ff0000"/>
<text x="515.0" y="804.0" font-size="6.2" text-anchor="middle" fill="#222" textLength="11.0" lengthAdjust="spacingAndGlyphs" stroke="#222" stroke-width="0.05">100</text>
<rect x="526.3" y="798.6" width="22.9" height="7.4" fill="#ffff00"/>
<text x="537.6" y="804.0" font-size="6.2" text-anchor="middle" fill="#222" textLength="7.3" lengthAdjust="spacingAndGlyphs" stroke="#222" stroke-width="0.05">80</text>
<rect x="549.0" y="798.6" width="22.9" height="7.4" fill="#00ffff"/>
<text x="560.3" y="804.0" font-size="6.2" text-anchor="middle" fill="#222" textLength="7.3" lengthAdjust="spacingAndGlyphs" stroke="#222" stroke-width="0.05">40</text>
<rect x="571.6" y="798.6" width="22.9" height="7.4" fill="#00ffff"/>
<text x="582.9" y="804.0" font-size="6.2" text-anchor="middle" fill="#222" textLength="7.3" lengthAdjust="spacingAndGlyphs" stroke="#222" stroke-width="0.05">40</text>
<rect x="594.2" y="798.6" width="22.9" height="7.4" fill="#0000ff"/>
<text x="605.5" y="804.0" font-size="6.2" text-anchor="middle" fill="#222" textLength="7.3" lengthAdjust="spacingAndGlyphs" stroke="#222" stroke-width="0.05">20</text>
<rect x="616.8" y="798.6" width="22.9" height="7.4" fill="#0000ff"/>
<text x="628.2" y="804.0" font-size="6.2" text-anchor="middle" fill="#222" textLength="7.3" lengthAdjust="spacingAndGlyphs" stroke="#222" stroke-width="0.05">20</text>
<rect x="639.5" y="798.6" width="22.9" height="7.4" fill="#ff00ff"/>
<text x="650.8" y="804.0" font-size="6.2" text-anchor="middle" fill="#222" textLength="3.7" lengthAdjust="spacingAndGlyphs" stroke="#222" stroke-width="0.05">0</text>
<text x="500.7" y="803.9" font-size="6.39" text-anchor="end" fill="#111" textLength="17.8" lengthAdjust="spacingAndGlyphs" stroke="#111" stroke-width="0.05">Colon</text>
<rect x="503.7" y="805.7" width="22.9" height="7.4" fill="#ff0000"/>
<text x="515.0" y="811.1" font-size="6.2" text-anchor="middle" fill="#222" textLength="11.0" lengthAdjust="spacingAndGlyphs" stroke="#222" stroke-width="0.05">100</text>
<rect x="526.3" y="805.7" width="22.9" height="7.4" fill="#ff0000"/>
<text x="537.6" y="811.1" font-size="6.2" text-anchor="middle" fill="#222" textLength="11.0" lengthAdjust="spacingAndGlyphs" stroke="#222" stroke-width="0.05">100</text>
<rect x="549.0" y="805.7" width="22.9" height="7.4" fill="#00e600"/>
<text x="560.3" y="811.1" font-size="6.2" text-anchor="middle" fill="#222" textLength="7.3" lengthAdjust="spacingAndGlyphs" stroke="#222" stroke-width="0.05">60</text>
<rect x="571.6" y="805.7" width="22.9" height="7.4" fill="#00ffff"/>
<text x="582.9" y="811.1" font-size="6.2" text-anchor="middle" fill="#222" textLength="7.3" lengthAdjust="spacingAndGlyphs" stroke="#222" stroke-width="0.05">40</text>
<rect x="594.2" y="805.7" width="22.9" height="7.4" fill="#00ffff"/>
<text x="605.5" y="811.1" font-size="6.2" text-anchor="middle" fill="#222" textLength="7.3" lengthAdjust="spacingAndGlyphs" stroke="#222" stroke-width="0.05">40</text>
<rect x="616.8" y="805.7" width="22.9" height="7.4" fill="#00ffff"/>
<text x="628.2" y="811.1" font-size="6.2" text-anchor="middle" fill="#222" textLength="7.3" lengthAdjust="spacingAndGlyphs" stroke="#222" stroke-width="0.05">40</text>
<rect x="639.5" y="805.7" width="22.9" height="7.4" fill="#ff00ff"/>
<text x="650.8" y="811.1" font-size="6.2" text-anchor="middle" fill="#222" textLength="3.7" lengthAdjust="spacingAndGlyphs" stroke="#222" stroke-width="0.05">0</text>
<text x="500.7" y="811.0" font-size="6.39" text-anchor="end" fill="#111" textLength="23.4" lengthAdjust="spacingAndGlyphs" stroke="#111" stroke-width="0.05">Rectum</text>
<text x="515.0" y="739.6" font-size="6.2" text-anchor="middle" fill="#231f20" textLength="4.4" lengthAdjust="spacingAndGlyphs" stroke="#231f20" stroke-width="0.05">A</text>
<text x="537.6" y="739.6" font-size="6.2" text-anchor="middle" fill="#231f20" textLength="4.4" lengthAdjust="spacingAndGlyphs" stroke="#231f20" stroke-width="0.05">B</text>
<text x="560.3" y="739.6" font-size="6.2" text-anchor="middle" fill="#231f20" textLength="4.8" lengthAdjust="spacingAndGlyphs" stroke="#231f20" stroke-width="0.05">C</text>
<text x="582.9" y="739.6" font-size="6.2" text-anchor="middle" fill="#231f20" textLength="4.8" lengthAdjust="spacingAndGlyphs" stroke="#231f20" stroke-width="0.05">D</text>
<text x="605.5" y="739.6" font-size="6.2" text-anchor="middle" fill="#231f20" textLength="4.4" lengthAdjust="spacingAndGlyphs" stroke="#231f20" stroke-width="0.05">E</text>
<text x="628.2" y="739.6" font-size="6.2" text-anchor="middle" fill="#231f20" textLength="4.0" lengthAdjust="spacingAndGlyphs" stroke="#231f20" stroke-width="0.05">F</text>
<text x="650.8" y="739.6" font-size="6.2" text-anchor="middle" fill="#231f20" textLength="5.1" lengthAdjust="spacingAndGlyphs" stroke="#231f20" stroke-width="0.05">G</text>
<rect x="503.7" y="819.0" width="158.4" height="6.0" fill="url(#pbar)"/>
<text x="500.7" y="819.7" font-size="6.39" text-anchor="end" fill="#231f20" textLength="32.2" lengthAdjust="spacingAndGlyphs" stroke="#231f20" stroke-width="0.05">Metastasis</text>
<text x="500.7" y="825.3" font-size="6.39" text-anchor="end" fill="#231f20" textLength="31.2" lengthAdjust="spacingAndGlyphs" stroke="#231f20" stroke-width="0.05">frequency</text>
<text x="503.7" y="832.6" font-size="6.2" text-anchor="middle" fill="#231f20" textLength="9.5" lengthAdjust="spacingAndGlyphs" stroke="#231f20" stroke-width="0.05">0%</text>
<text x="519.5" y="832.6" font-size="6.2" text-anchor="middle" fill="#231f20" textLength="13.2" lengthAdjust="spacingAndGlyphs" stroke="#231f20" stroke-width="0.05">10%</text>
<text x="535.4" y="832.6" font-size="6.2" text-anchor="middle" fill="#231f20" textLength="13.2" lengthAdjust="spacingAndGlyphs" stroke="#231f20" stroke-width="0.05">20%</text>
<text x="551.2" y="832.6" font-size="6.2" text-anchor="middle" fill="#231f20" textLength="13.2" lengthAdjust="spacingAndGlyphs" stroke="#231f20" stroke-width="0.05">30%</text>
<text x="567.1" y="832.6" font-size="6.2" text-anchor="middle" fill="#231f20" textLength="13.2" lengthAdjust="spacingAndGlyphs" stroke="#231f20" stroke-width="0.05">40%</text>
<text x="582.9" y="832.6" font-size="6.2" text-anchor="middle" fill="#231f20" textLength="13.2" lengthAdjust="spacingAndGlyphs" stroke="#231f20" stroke-width="0.05">50%</text>
<text x="598.7" y="832.6" font-size="6.2" text-anchor="middle" fill="#231f20" textLength="13.2" lengthAdjust="spacingAndGlyphs" stroke="#231f20" stroke-width="0.05">60%</text>
<text x="614.6" y="832.6" font-size="6.2" text-anchor="middle" fill="#231f20" textLength="13.2" lengthAdjust="spacingAndGlyphs" stroke="#231f20" stroke-width="0.05">70%</text>
<text x="630.4" y="832.6" font-size="6.2" text-anchor="middle" fill="#231f20" textLength="13.2" lengthAdjust="spacingAndGlyphs" stroke="#231f20" stroke-width="0.05">80%</text>
<text x="646.3" y="832.6" font-size="6.2" text-anchor="middle" fill="#231f20" textLength="13.2" lengthAdjust="spacingAndGlyphs" stroke="#231f20" stroke-width="0.05">90%</text>
<text x="662.1" y="832.6" font-size="6.2" text-anchor="middle" fill="#231f20" textLength="16.9" lengthAdjust="spacingAndGlyphs" stroke="#231f20" stroke-width="0.05">100%</text>
</svg></body></html>
